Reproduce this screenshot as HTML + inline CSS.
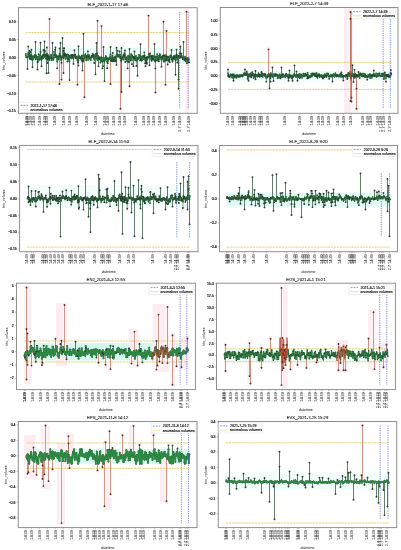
<!DOCTYPE html>
<html><head><meta charset="utf-8"><style>
html,body{margin:0;padding:0;background:#fff;width:401px;height:550px;overflow:hidden}
svg{display:block;will-change:transform}
text{font-family:"Liberation Sans", sans-serif}
.t{opacity:0.995}
</style></head><body>
<svg width="401" height="550" viewBox="0 0 401 550" font-family="Liberation Sans, sans-serif"><rect x="25.1" y="48" width="164.4" height="16" fill="#e9fbf7"/>
<rect x="185.5" y="7.7" width="4" height="105.6" fill="#fdedf3"/>
<rect x="47.7" y="15.9" width="3.6" height="44.5" fill="#fef5f8"/>
<rect x="57.8" y="54.4" width="3.6" height="32.6" fill="#fef5f8"/>
<rect x="59.7" y="54.4" width="3.6" height="28.2" fill="#fef5f8"/>
<rect x="62" y="54.4" width="3.6" height="21.6" fill="#fef5f8"/>
<rect x="96" y="17.8" width="3.6" height="42.6" fill="#fef5f8"/>
<rect x="100" y="23.1" width="3.6" height="37.3" fill="#fef5f8"/>
<rect x="75.2" y="54.4" width="3.6" height="33.3" fill="#fef5f8"/>
<rect x="82.2" y="54.4" width="3.6" height="45.9" fill="#fef5f8"/>
<rect x="109" y="54.4" width="3.6" height="32.6" fill="#fef5f8"/>
<rect x="146.8" y="12.6" width="3.6" height="47.8" fill="#fef5f8"/>
<rect x="118.4" y="54.4" width="3.6" height="57.4" fill="#fef5f8"/>
<rect x="127.9" y="54.4" width="3.6" height="34.8" fill="#fef5f8"/>
<rect x="153.7" y="54.4" width="3.6" height="41.1" fill="#fef5f8"/>
<rect x="161.2" y="18.7" width="3.6" height="41.7" fill="#fef5f8"/>
<rect x="164.4" y="27.9" width="3.6" height="32.5" fill="#fef5f8"/>
<rect x="185" y="8.8" width="3.6" height="51.6" fill="#fef5f8"/>
<rect x="164" y="54.4" width="3.6" height="33.3" fill="#fef5f8"/>
<line x1="25.6" x2="189" y1="32.6" y2="32.6" stroke="#dccb62" stroke-width="0.85" stroke-dasharray="2.2,0.7"/>
<line x1="25.6" x2="189" y1="82" y2="82" stroke="#dccb62" stroke-width="0.85" stroke-dasharray="2.2,0.7"/>
<path d="M25.6 57.4V55.17M25.89 57.4V53.77M26.18 57.4V57.48M26.48 57.4V57.39M26.77 57.4V57.05M27.06 57.4V56.99M27.35 57.4V57.19M27.65 57.4V57.41M27.94 57.4V56.85M28.23 57.4V53M28.52 57.4V53.06M28.82 57.4V54.88M29.11 57.4V55.76M29.4 57.4V54.81M29.69 57.4V57.98M29.98 57.4V56.92M30.28 57.4V56.78M30.57 57.4V55.21M30.86 57.4V55.15M31.15 57.4V58.16M31.45 57.4V54.35M31.74 57.4V56.03M32.03 57.4V57.20M32.32 57.4V59.99M32.62 57.4V57.45M32.91 57.4V59.69M33.2 57.4V56.06M33.49 57.4V58.99M33.78 57.4V56.93M34.08 57.4V56.89M34.37 57.4V56.13M34.66 57.4V54.83M34.95 57.4V57.43M35.25 57.4V56.10M35.54 57.4V58.46M35.83 57.4V58.16M36.12 57.4V55.18M36.42 57.4V55.56M36.71 57.4V57.31M37 57.4V56.70M37.29 57.4V56.77M37.58 57.4V59.23M37.88 57.4V61.8M38.17 57.4V60.36M38.46 57.4V59.14M38.75 57.4V56.10M39.05 57.4V56.08M39.34 57.4V59.88M39.63 57.4V57.88M39.92 57.4V59.59M40.22 57.4V55.21M40.51 57.4V55.10M40.8 57.4V58.24M41.09 57.4V57.88M41.38 57.4V59.99M41.68 57.4V59.28M41.97 57.4V57.11M42.26 57.4V57.03M42.55 57.4V55.23M42.85 57.4V58.69M43.14 57.4V58.16M43.43 57.4V54.45M43.72 57.4V55.63M44.02 57.4V56.48M44.31 57.4V55.07M44.6 57.4V54.69M44.89 57.4V54.91M45.18 57.4V54.37M45.48 57.4V56.34M45.77 57.4V58.72M46.06 57.4V56.37M46.35 57.4V56.63M46.65 57.4V54.13M46.94 57.4V53.42M47.23 57.4V57.92M47.52 57.4V59.63M47.82 57.4V56.84M48.11 57.4V54.93M48.4 57.4V57.11M48.69 57.4V59.21M48.98 57.4V57.69M49.28 57.4V59.54M49.57 57.4V60.26M49.86 57.4V57.44M50.15 57.4V56.06M50.45 57.4V56.20M50.74 57.4V57.99M51.03 57.4V54.48M51.32 57.4V56.01M51.62 57.4V58.50M51.91 57.4V57.60M52.2 57.4V57.83M52.49 57.4V58.58M52.78 57.4V58.44M53.08 57.4V58.51M53.37 57.4V59.93M53.66 57.4V57.96M53.95 57.4V55.18M54.25 57.4V54.26M54.54 57.4V54.26M54.83 57.4V57.43M55.12 57.4V54.29M55.42 57.4V55.38M55.71 57.4V54.92M56 57.4V56.80M56.29 57.4V56.08M56.58 57.4V55.29M56.88 57.4V57.00M57.17 57.4V61.8M57.46 57.4V59.32M57.75 57.4V57.45M58.05 57.4V56.89M58.34 57.4V57.01M58.63 57.4V59.55M58.92 57.4V59.25M59.22 57.4V57.11M59.51 57.4V53.78M59.8 57.4V56.62M60.09 57.4V56.62M60.38 57.4V56.71M60.68 57.4V56.28M60.97 57.4V60.00M61.26 57.4V58.36M61.55 57.4V59.54M61.85 57.4V57.28M62.14 57.4V56.67M62.43 57.4V55.33M62.72 57.4V57.23M63.02 57.4V57.19M63.31 57.4V57.54M63.6 57.4V54.77M63.89 57.4V53.70M64.18 57.4V53.74M64.48 57.4V55.71M64.77 57.4V56.40M65.06 57.4V54.04M65.35 57.4V59.04M65.65 57.4V55.04M65.94 57.4V56.26M66.23 57.4V54.86M66.52 57.4V55.89M66.82 57.4V56.58M67.11 57.4V58.55M67.4 57.4V59.05M67.69 57.4V54.31M67.98 57.4V58.23M68.28 57.4V57.29M68.57 57.4V55.00M68.86 57.4V57.17M69.15 57.4V59.64M69.45 57.4V58.98M69.74 57.4V56.97M70.03 57.4V55.31M70.32 57.4V56.55M70.62 57.4V55.37M70.91 57.4V57.01M71.2 57.4V58.57M71.49 57.4V54.92M71.78 57.4V57.26M72.08 57.4V55.46M72.37 57.4V56.42M72.66 57.4V56.56M72.95 57.4V57.61M73.25 57.4V57.71M73.54 57.4V58.34M73.83 57.4V54.90M74.12 57.4V54.99M74.42 57.4V54.51M74.71 57.4V54.94M75 57.4V56.51M75.29 57.4V56.29M75.58 57.4V58.22M75.88 57.4V56.55M76.17 57.4V57.67M76.46 57.4V57.16M76.75 57.4V57.52M77.05 57.4V56.20M77.34 57.4V60.36M77.63 57.4V59.28M77.92 57.4V59.35M78.22 57.4V58.94M78.51 57.4V60.68M78.8 57.4V55.97M79.09 57.4V57.40M79.38 57.4V56.27M79.68 57.4V58.37M79.97 57.4V57.90M80.26 57.4V57.27M80.55 57.4V57.89M80.85 57.4V57.91M81.14 57.4V56.71M81.43 57.4V56.11M81.72 57.4V58.69M82.02 57.4V56.66M82.31 57.4V59.04M82.6 57.4V58.58M82.89 57.4V59.08M83.18 57.4V60.83M83.48 57.4V60.34M83.77 57.4V58.71M84.06 57.4V54.83M84.35 57.4V58.25M84.65 57.4V57.19M84.94 57.4V57.09M85.23 57.4V55.66M85.52 57.4V54.04M85.82 57.4V56.91M86.11 57.4V60.31M86.4 57.4V59.05M86.69 57.4V60.54M86.98 57.4V56.79M87.28 57.4V57.65M87.57 57.4V57.07M87.86 57.4V55.03M88.15 57.4V57.36M88.45 57.4V59.88M88.74 57.4V57.21M89.03 57.4V54.90M89.32 57.4V55.28M89.62 57.4V58.62M89.91 57.4V57.09M90.2 57.4V57.48M90.49 57.4V58.89M90.78 57.4V60.41M91.08 57.4V57.23M91.37 57.4V57.62M91.66 57.4V56.73M91.95 57.4V55.74M92.25 57.4V55.73M92.54 57.4V56.78M92.83 57.4V56.02M93.12 57.4V55.73M93.42 57.4V55.44M93.71 57.4V56.39M94 57.4V58.54M94.29 57.4V59.67M94.58 57.4V59.00M94.88 57.4V56.09M95.17 57.4V56.76M95.46 57.4V54.45M95.75 57.4V53.78M96.05 57.4V55.95M96.34 57.4V56.41M96.63 57.4V59.14M96.92 57.4V55.82M97.22 57.4V54.64M97.51 57.4V60.32M97.8 57.4V60.12M98.09 57.4V57.43M98.38 57.4V55.87M98.68 57.4V58.26M98.97 57.4V57.86M99.26 57.4V59.40M99.55 57.4V57.73M99.85 57.4V57.02M100.14 57.4V59.78M100.43 57.4V59.43M100.72 57.4V57.60M101.02 57.4V60.42M101.31 57.4V60.98M101.6 57.4V57.27M101.89 57.4V57.49M102.18 57.4V57.62M102.48 57.4V61.8M102.77 57.4V61.57M103.06 57.4V60.95M103.35 57.4V60.57M103.65 57.4V57.82M103.94 57.4V60.04M104.23 57.4V60.15M104.52 57.4V61.64M104.82 57.4V59.39M105.11 57.4V59.61M105.4 57.4V59.79M105.69 57.4V55.80M105.98 57.4V57.77M106.28 57.4V56.64M106.57 57.4V59.19M106.86 57.4V59.21M107.15 57.4V61.71M107.45 57.4V58.56M107.74 57.4V59.71M108.03 57.4V61.41M108.32 57.4V59.59M108.62 57.4V58.69M108.91 57.4V58.33M109.2 57.4V58.51M109.49 57.4V59.59M109.78 57.4V58.19M110.08 57.4V56.65M110.37 57.4V54.12M110.66 57.4V54.28M110.95 57.4V58.66M111.25 57.4V58.24M111.54 57.4V58.54M111.83 57.4V61.07M112.12 57.4V58.99M112.42 57.4V55.98M112.71 57.4V55.66M113 57.4V57.68M113.29 57.4V58.44M113.58 57.4V61.13M113.88 57.4V60.35M114.17 57.4V59.93M114.46 57.4V58.42M114.75 57.4V59.00M115.05 57.4V56.35M115.34 57.4V57.19M115.63 57.4V58.36M115.92 57.4V58.71M116.22 57.4V56.28M116.51 57.4V54.74M116.8 57.4V55.91M117.09 57.4V53.90M117.38 57.4V54.28M117.68 57.4V54.76M117.97 57.4V55.85M118.26 57.4V56.09M118.55 57.4V56.65M118.85 57.4V56.57M119.14 57.4V54.66M119.43 57.4V56.56M119.72 57.4V55.02M120.02 57.4V54.41M120.31 57.4V57.59M120.6 57.4V57.44M120.89 57.4V56.60M121.18 57.4V58.74M121.48 57.4V58.41M121.77 57.4V59.42M122.06 57.4V57.88M122.35 57.4V57.66M122.65 57.4V58.25M122.94 57.4V56.28M123.23 57.4V59.73M123.52 57.4V56.47M123.82 57.4V56.67M124.11 57.4V57.19M124.4 57.4V55.71M124.69 57.4V55.96M124.98 57.4V54.66M125.28 57.4V59.21M125.57 57.4V58.03M125.86 57.4V58.15M126.15 57.4V57.43M126.45 57.4V57.19M126.74 57.4V58.59M127.03 57.4V61.08M127.32 57.4V61.8M127.62 57.4V61.8M127.91 57.4V56.55M128.2 57.4V55.48M128.49 57.4V58.19M128.78 57.4V59.16M129.08 57.4V59.36M129.37 57.4V56.96M129.66 57.4V59.45M129.95 57.4V57.25M130.25 57.4V57.85M130.54 57.4V60.47M130.83 57.4V56.67M131.12 57.4V53.88M131.42 57.4V54.93M131.71 57.4V55.92M132 57.4V60.09M132.29 57.4V55.10M132.58 57.4V57.10M132.88 57.4V56.93M133.17 57.4V56.88M133.46 57.4V57.40M133.75 57.4V57.17M134.05 57.4V57.98M134.34 57.4V57.86M134.63 57.4V59.12M134.92 57.4V57.07M135.22 57.4V60.43M135.51 57.4V58.85M135.8 57.4V55.91M136.09 57.4V55.75M136.38 57.4V60.81M136.68 57.4V60.19M136.97 57.4V60.34M137.26 57.4V57.50M137.55 57.4V59.77M137.85 57.4V57.88M138.14 57.4V58.89M138.43 57.4V58.92M138.72 57.4V58.27M139.02 57.4V54.77M139.31 57.4V55.22M139.6 57.4V56.80M139.89 57.4V55.56M140.18 57.4V58.59M140.48 57.4V58.01M140.77 57.4V58.41M141.06 57.4V56.53M141.35 57.4V60.76M141.65 57.4V58.59M141.94 57.4V56.42M142.23 57.4V60.52M142.52 57.4V57.56M142.82 57.4V55.90M143.11 57.4V56.08M143.4 57.4V59.38M143.69 57.4V56.06M143.98 57.4V57.61M144.28 57.4V55.39M144.57 57.4V56.67M144.86 57.4V57.89M145.15 57.4V59.70M145.45 57.4V60.92M145.74 57.4V57.68M146.03 57.4V58.85M146.32 57.4V58.51M146.62 57.4V59.38M146.91 57.4V59.95M147.2 57.4V57.21M147.49 57.4V59.31M147.78 57.4V56.71M148.08 57.4V56.83M148.37 57.4V57.88M148.66 57.4V54.07M148.95 57.4V54.31M149.25 57.4V56.99M149.54 57.4V54.28M149.83 57.4V56.90M150.12 57.4V55.81M150.42 57.4V56.62M150.71 57.4V56.75M151 57.4V59.14M151.29 57.4V55.98M151.58 57.4V58.77M151.88 57.4V56.94M152.17 57.4V58.72M152.46 57.4V58.12M152.75 57.4V57.93M153.05 57.4V55.49M153.34 57.4V58.31M153.63 57.4V59.83M153.92 57.4V59.57M154.22 57.4V56.70M154.51 57.4V60.94M154.8 57.4V59.69M155.09 57.4V57.17M155.38 57.4V61.8M155.68 57.4V61.07M155.97 57.4V56.41M156.26 57.4V57.00M156.55 57.4V60.52M156.85 57.4V56.62M157.14 57.4V53.84M157.43 57.4V57.96M157.72 57.4V60.69M158.02 57.4V58.36M158.31 57.4V59.44M158.6 57.4V58.24M158.89 57.4V58.91M159.18 57.4V56.74M159.48 57.4V57.29M159.77 57.4V53.93M160.06 57.4V54.33M160.35 57.4V55.88M160.65 57.4V57.31M160.94 57.4V59.08M161.23 57.4V58.67M161.52 57.4V60.00M161.82 57.4V57.94M162.11 57.4V57.17M162.4 57.4V55.98M162.69 57.4V56.47M162.98 57.4V59.17M163.28 57.4V56.64M163.57 57.4V61.39M163.86 57.4V61.8M164.15 57.4V61.8M164.45 57.4V56.58M164.74 57.4V58.70M165.03 57.4V58.64M165.32 57.4V58.15M165.62 57.4V56.38M165.91 57.4V54.98M166.2 57.4V58.56M166.49 57.4V59.96M166.78 57.4V57.04M167.08 57.4V56.51M167.37 57.4V57.44M167.66 57.4V60.26M167.95 57.4V56.37M168.25 57.4V60.02M168.54 57.4V56.90M168.83 57.4V60.82M169.12 57.4V58.94M169.42 57.4V58.07M169.71 57.4V59.30M170 57.4V55.82M170.29 57.4V56.79M170.58 57.4V57.33M170.88 57.4V55.22M171.17 57.4V55.62M171.46 57.4V57.56M171.75 57.4V58.26M172.05 57.4V57.35M172.34 57.4V60.95M172.63 57.4V61.73M172.92 57.4V58.50M173.22 57.4V56.51M173.51 57.4V57.08M173.8 57.4V56.05M174.09 57.4V57.97M174.38 57.4V55.68M174.68 57.4V57.27M174.97 57.4V59.35M175.26 57.4V59.29M175.55 57.4V60.66M175.85 57.4V59.84M176.14 57.4V56.77M176.43 57.4V56.23M176.72 57.4V55.79M177.02 57.4V57.24M177.31 57.4V59.45M177.6 57.4V57.73M177.89 57.4V55.43M178.18 57.4V56.07M178.48 57.4V56.72M178.77 57.4V56.00M179.06 57.4V56.07M179.35 57.4V58.01M179.65 57.4V55.73M179.94 57.4V57.02M180.23 57.4V56.38M180.52 57.4V57.10M180.82 57.4V57.70M181.11 57.4V56.35M181.4 57.4V55.96M181.69 57.4V55.75M181.98 57.4V56.39M182.28 57.4V57.73M182.57 57.4V58.55M182.86 57.4V59.49M183.15 57.4V58.59M183.45 57.4V57.18M183.74 57.4V59.63M184.03 57.4V57.30M184.32 57.4V58.64M184.62 57.4V60.22M184.91 57.4V59.20M185.2 57.4V56.33M185.49 57.4V58.33M185.78 57.4V58.94M186.08 57.4V58.23M186.37 57.4V59.07M186.66 57.4V58.61M186.95 57.4V59.74M187.25 57.4V58.28M187.54 57.4V59.06M187.83 57.4V60.02M188.12 57.4V59.15M188.42 57.4V60.87M188.71 57.4V59.55M189 57.4V59.39" stroke="#587a62" stroke-width="0.5" fill="none"/>
<path d="M28.23 57.4V46.4M29.11 57.4V53.31M29.4 57.4V50.92M29.69 57.4V58.85M29.98 57.4V56.20M30.57 57.4V51.92M31.15 57.4V59.29M31.45 57.4V49.77M35.83 57.4V59.30M37.58 57.4V61.96M38.75 57.4V54.16M40.51 57.4V51.64M41.97 57.4V56.66M43.43 57.4V50.03M44.02 57.4V55.11M44.6 57.4V50.64M44.89 57.4V51.17M46.35 57.4V55.48M46.94 57.4V47.45M47.23 57.4V58.71M47.52 57.4V62.97M47.82 57.4V56.01M48.4 57.4V56.68M48.98 57.4V58.12M51.62 57.4V60.15M53.95 57.4V51.86M55.12 57.4V49.63M57.17 57.4V68.4M58.05 57.4V56.12M59.51 57.4V48.36M60.09 57.4V55.45M61.55 57.4V62.74M63.31 57.4V57.74M63.6 57.4V50.82M63.89 57.4V48.15M64.18 57.4V48.26M64.48 57.4V53.17M64.77 57.4V54.90M65.94 57.4V54.55M67.4 57.4V61.53M67.98 57.4V59.46M69.45 57.4V61.35M72.37 57.4V54.94M72.66 57.4V55.29M72.95 57.4V57.92M74.42 57.4V50.18M75.29 57.4V54.63M76.17 57.4V58.08M77.92 57.4V62.27M78.51 57.4V65.60M80.85 57.4V58.68M81.72 57.4V60.63M82.02 57.4V55.54M82.89 57.4V61.61M86.98 57.4V55.87M87.86 57.4V51.48M88.74 57.4V56.93M91.66 57.4V55.72M92.83 57.4V53.96M93.71 57.4V54.88M94.29 57.4V63.07M96.92 57.4V53.46M98.97 57.4V58.55M100.43 57.4V62.48M102.48 57.4V68.4M103.06 57.4V66.26M107.15 57.4V68.17M107.74 57.4V63.17M110.95 57.4V60.55M112.12 57.4V61.36M112.71 57.4V53.04M113.29 57.4V59.99M114.75 57.4V61.41M115.92 57.4V60.69M117.68 57.4V50.81M119.72 57.4V51.45M120.31 57.4V57.88M120.6 57.4V57.51M121.18 57.4V60.76M123.52 57.4V55.06M123.82 57.4V55.58M124.4 57.4V53.18M124.98 57.4V50.56M125.28 57.4V61.93M125.86 57.4V59.27M127.62 57.4V68.4M128.78 57.4V61.80M129.08 57.4V62.30M132 57.4V64.13M133.46 57.4V57.40M133.75 57.4V56.83M134.34 57.4V58.54M136.38 57.4V65.93M137.85 57.4V58.60M140.18 57.4V60.39M140.77 57.4V59.93M144.28 57.4V52.37M144.57 57.4V55.56M145.15 57.4V63.15M145.45 57.4V66.20M145.74 57.4V58.10M146.03 57.4V61.01M146.62 57.4V62.36M146.91 57.4V63.79M147.2 57.4V56.92M150.12 57.4V53.44M151.58 57.4V60.82M151.88 57.4V56.26M152.46 57.4V59.21M155.38 57.4V68.4M158.6 57.4V59.49M158.89 57.4V61.18M159.18 57.4V55.74M162.11 57.4V56.83M163.28 57.4V55.51M164.45 57.4V55.36M165.03 57.4V60.50M166.2 57.4V60.31M167.37 57.4V57.49M167.66 57.4V64.55M169.12 57.4V61.24M169.71 57.4V62.16M171.75 57.4V59.54M174.09 57.4V58.82M174.68 57.4V57.09M176.14 57.4V55.82M176.43 57.4V54.49M177.31 57.4V62.54M179.65 57.4V53.22M180.52 57.4V56.65M181.4 57.4V53.80M185.49 57.4V59.72M185.78 57.4V61.24M186.95 57.4V63.25M188.12 57.4V61.78M189 57.4V62.38" stroke="#3c5c47" stroke-width="0.55" fill="none"/>
<path d="M35.5 57.4V42M40.5 57.4V42.7M44.5 57.4V41.4M52.5 57.4V43M55.5 57.4V47.5M60.5 57.4V43M62.5 57.4V38M27.5 57.4V69M32.5 57.4V67.2M37.5 57.4V69.5M41.5 57.4V66.2M46.5 57.4V73.3M48.5 57.4V72.9M78.5 57.4V46.2M83.5 57.4V33.8M96.5 57.4V43M103.5 57.4V47M110.5 57.4V47M69.5 57.4V80.1M73.5 57.4V63.9M82.5 57.4V70.6M95.5 57.4V74.4M98.5 57.4V66.2M104.5 57.4V81.1M116.5 57.4V47.7M121.5 57.4V48M129.5 57.4V49M134.5 57.4V51.5M140.5 57.4V44.3M154.5 57.4V43.9M116.5 57.4V64.9M121.5 57.4V92M133.5 57.4V66.2M137.5 57.4V75.7M149.5 57.4V65.3M171.5 57.4V50M176.5 57.4V49.6M180.5 57.4V46.5M183.5 57.4V42M161.5 57.4V66.8M175.5 57.4V74.8M178.5 57.4V79.6M178.5 57.4V88.7" stroke="#3c5c47" stroke-width="0.8" fill="none"/>
<path d="M49.5 57.4V18.9M59.5 57.4V84M61.5 57.4V79.6M63.5 57.4V73M97.5 57.4V20.8M101.5 57.4V26.1M77.5 57.4V84.7M84.5 57.4V97.3M110.5 57.4V84M148.5 57.4V15.6M120.5 57.4V108.8M129.5 57.4V86.2M155.5 57.4V92.5M163.5 57.4V21.7M166.5 57.4V30.9M186.5 57.4V11.8M165.5 57.4V84.7" stroke="#b86c52" stroke-width="0.7" fill="none"/>
<path d="M25.6 55.17L25.89 53.77L26.18 57.48L26.48 57.39L26.77 57.05L27.06 56.99L27.35 57.19L27.65 57.41L27.94 56.85L28.23 53L28.52 53.06L28.82 54.88L29.11 55.76L29.4 54.81L29.69 57.98L29.98 56.92L30.28 56.78L30.57 55.21L30.86 55.15L31.15 58.16L31.45 54.35L31.74 56.03L32.03 57.20L32.32 59.99L32.62 57.45L32.91 59.69L33.2 56.06L33.49 58.99L33.78 56.93L34.08 56.89L34.37 56.13L34.66 54.83L34.95 57.43L35.25 56.10L35.54 58.46L35.83 58.16L36.12 55.18L36.42 55.56L36.71 57.31L37 56.70L37.29 56.77L37.58 59.23L37.88 61.8L38.17 60.36L38.46 59.14L38.75 56.10L39.05 56.08L39.34 59.88L39.63 57.88L39.92 59.59L40.22 55.21L40.51 55.10L40.8 58.24L41.09 57.88L41.38 59.99L41.68 59.28L41.97 57.11L42.26 57.03L42.55 55.23L42.85 58.69L43.14 58.16L43.43 54.45L43.72 55.63L44.02 56.48L44.31 55.07L44.6 54.69L44.89 54.91L45.18 54.37L45.48 56.34L45.77 58.72L46.06 56.37L46.35 56.63L46.65 54.13L46.94 53.42L47.23 57.92L47.52 59.63L47.82 56.84L48.11 54.93L48.4 57.11L48.69 59.21L48.98 57.69L49.28 59.54L49.57 60.26L49.86 57.44L50.15 56.06L50.45 56.20L50.74 57.99L51.03 54.48L51.32 56.01L51.62 58.50L51.91 57.60L52.2 57.83L52.49 58.58L52.78 58.44L53.08 58.51L53.37 59.93L53.66 57.96L53.95 55.18L54.25 54.26L54.54 54.26L54.83 57.43L55.12 54.29L55.42 55.38L55.71 54.92L56 56.80L56.29 56.08L56.58 55.29L56.88 57.00L57.17 61.8L57.46 59.32L57.75 57.45L58.05 56.89L58.34 57.01L58.63 59.55L58.92 59.25L59.22 57.11L59.51 53.78L59.8 56.62L60.09 56.62L60.38 56.71L60.68 56.28L60.97 60.00L61.26 58.36L61.55 59.54L61.85 57.28L62.14 56.67L62.43 55.33L62.72 57.23L63.02 57.19L63.31 57.54L63.6 54.77L63.89 53.70L64.18 53.74L64.48 55.71L64.77 56.40L65.06 54.04L65.35 59.04L65.65 55.04L65.94 56.26L66.23 54.86L66.52 55.89L66.82 56.58L67.11 58.55L67.4 59.05L67.69 54.31L67.98 58.23L68.28 57.29L68.57 55.00L68.86 57.17L69.15 59.64L69.45 58.98L69.74 56.97L70.03 55.31L70.32 56.55L70.62 55.37L70.91 57.01L71.2 58.57L71.49 54.92L71.78 57.26L72.08 55.46L72.37 56.42L72.66 56.56L72.95 57.61L73.25 57.71L73.54 58.34L73.83 54.90L74.12 54.99L74.42 54.51L74.71 54.94L75 56.51L75.29 56.29L75.58 58.22L75.88 56.55L76.17 57.67L76.46 57.16L76.75 57.52L77.05 56.20L77.34 60.36L77.63 59.28L77.92 59.35L78.22 58.94L78.51 60.68L78.8 55.97L79.09 57.40L79.38 56.27L79.68 58.37L79.97 57.90L80.26 57.27L80.55 57.89L80.85 57.91L81.14 56.71L81.43 56.11L81.72 58.69L82.02 56.66L82.31 59.04L82.6 58.58L82.89 59.08L83.18 60.83L83.48 60.34L83.77 58.71L84.06 54.83L84.35 58.25L84.65 57.19L84.94 57.09L85.23 55.66L85.52 54.04L85.82 56.91L86.11 60.31L86.4 59.05L86.69 60.54L86.98 56.79L87.28 57.65L87.57 57.07L87.86 55.03L88.15 57.36L88.45 59.88L88.74 57.21L89.03 54.90L89.32 55.28L89.62 58.62L89.91 57.09L90.2 57.48L90.49 58.89L90.78 60.41L91.08 57.23L91.37 57.62L91.66 56.73L91.95 55.74L92.25 55.73L92.54 56.78L92.83 56.02L93.12 55.73L93.42 55.44L93.71 56.39L94 58.54L94.29 59.67L94.58 59.00L94.88 56.09L95.17 56.76L95.46 54.45L95.75 53.78L96.05 55.95L96.34 56.41L96.63 59.14L96.92 55.82L97.22 54.64L97.51 60.32L97.8 60.12L98.09 57.43L98.38 55.87L98.68 58.26L98.97 57.86L99.26 59.40L99.55 57.73L99.85 57.02L100.14 59.78L100.43 59.43L100.72 57.60L101.02 60.42L101.31 60.98L101.6 57.27L101.89 57.49L102.18 57.62L102.48 61.8L102.77 61.57L103.06 60.95L103.35 60.57L103.65 57.82L103.94 60.04L104.23 60.15L104.52 61.64L104.82 59.39L105.11 59.61L105.4 59.79L105.69 55.80L105.98 57.77L106.28 56.64L106.57 59.19L106.86 59.21L107.15 61.71L107.45 58.56L107.74 59.71L108.03 61.41L108.32 59.59L108.62 58.69L108.91 58.33L109.2 58.51L109.49 59.59L109.78 58.19L110.08 56.65L110.37 54.12L110.66 54.28L110.95 58.66L111.25 58.24L111.54 58.54L111.83 61.07L112.12 58.99L112.42 55.98L112.71 55.66L113 57.68L113.29 58.44L113.58 61.13L113.88 60.35L114.17 59.93L114.46 58.42L114.75 59.00L115.05 56.35L115.34 57.19L115.63 58.36L115.92 58.71L116.22 56.28L116.51 54.74L116.8 55.91L117.09 53.90L117.38 54.28L117.68 54.76L117.97 55.85L118.26 56.09L118.55 56.65L118.85 56.57L119.14 54.66L119.43 56.56L119.72 55.02L120.02 54.41L120.31 57.59L120.6 57.44L120.89 56.60L121.18 58.74L121.48 58.41L121.77 59.42L122.06 57.88L122.35 57.66L122.65 58.25L122.94 56.28L123.23 59.73L123.52 56.47L123.82 56.67L124.11 57.19L124.4 55.71L124.69 55.96L124.98 54.66L125.28 59.21L125.57 58.03L125.86 58.15L126.15 57.43L126.45 57.19L126.74 58.59L127.03 61.08L127.32 61.8L127.62 61.8L127.91 56.55L128.2 55.48L128.49 58.19L128.78 59.16L129.08 59.36L129.37 56.96L129.66 59.45L129.95 57.25L130.25 57.85L130.54 60.47L130.83 56.67L131.12 53.88L131.42 54.93L131.71 55.92L132 60.09L132.29 55.10L132.58 57.10L132.88 56.93L133.17 56.88L133.46 57.40L133.75 57.17L134.05 57.98L134.34 57.86L134.63 59.12L134.92 57.07L135.22 60.43L135.51 58.85L135.8 55.91L136.09 55.75L136.38 60.81L136.68 60.19L136.97 60.34L137.26 57.50L137.55 59.77L137.85 57.88L138.14 58.89L138.43 58.92L138.72 58.27L139.02 54.77L139.31 55.22L139.6 56.80L139.89 55.56L140.18 58.59L140.48 58.01L140.77 58.41L141.06 56.53L141.35 60.76L141.65 58.59L141.94 56.42L142.23 60.52L142.52 57.56L142.82 55.90L143.11 56.08L143.4 59.38L143.69 56.06L143.98 57.61L144.28 55.39L144.57 56.67L144.86 57.89L145.15 59.70L145.45 60.92L145.74 57.68L146.03 58.85L146.32 58.51L146.62 59.38L146.91 59.95L147.2 57.21L147.49 59.31L147.78 56.71L148.08 56.83L148.37 57.88L148.66 54.07L148.95 54.31L149.25 56.99L149.54 54.28L149.83 56.90L150.12 55.81L150.42 56.62L150.71 56.75L151 59.14L151.29 55.98L151.58 58.77L151.88 56.94L152.17 58.72L152.46 58.12L152.75 57.93L153.05 55.49L153.34 58.31L153.63 59.83L153.92 59.57L154.22 56.70L154.51 60.94L154.8 59.69L155.09 57.17L155.38 61.8L155.68 61.07L155.97 56.41L156.26 57.00L156.55 60.52L156.85 56.62L157.14 53.84L157.43 57.96L157.72 60.69L158.02 58.36L158.31 59.44L158.6 58.24L158.89 58.91L159.18 56.74L159.48 57.29L159.77 53.93L160.06 54.33L160.35 55.88L160.65 57.31L160.94 59.08L161.23 58.67L161.52 60.00L161.82 57.94L162.11 57.17L162.4 55.98L162.69 56.47L162.98 59.17L163.28 56.64L163.57 61.39L163.86 61.8L164.15 61.8L164.45 56.58L164.74 58.70L165.03 58.64L165.32 58.15L165.62 56.38L165.91 54.98L166.2 58.56L166.49 59.96L166.78 57.04L167.08 56.51L167.37 57.44L167.66 60.26L167.95 56.37L168.25 60.02L168.54 56.90L168.83 60.82L169.12 58.94L169.42 58.07L169.71 59.30L170 55.82L170.29 56.79L170.58 57.33L170.88 55.22L171.17 55.62L171.46 57.56L171.75 58.26L172.05 57.35L172.34 60.95L172.63 61.73L172.92 58.50L173.22 56.51L173.51 57.08L173.8 56.05L174.09 57.97L174.38 55.68L174.68 57.27L174.97 59.35L175.26 59.29L175.55 60.66L175.85 59.84L176.14 56.77L176.43 56.23L176.72 55.79L177.02 57.24L177.31 59.45L177.6 57.73L177.89 55.43L178.18 56.07L178.48 56.72L178.77 56.00L179.06 56.07L179.35 58.01L179.65 55.73L179.94 57.02L180.23 56.38L180.52 57.10L180.82 57.70L181.11 56.35L181.4 55.96L181.69 55.75L181.98 56.39L182.28 57.73L182.57 58.55L182.86 59.49L183.15 58.59L183.45 57.18L183.74 59.63L184.03 57.30L184.32 58.64L184.62 60.22L184.91 59.20L185.2 56.33L185.49 58.33L185.78 58.94L186.08 58.23L186.37 59.07L186.66 58.61L186.95 59.74L187.25 58.28L187.54 59.06L187.83 60.02L188.12 59.15L188.42 60.87L188.71 59.55L189 59.39" fill="none" stroke="#2c8743" stroke-width="1.4" stroke-linejoin="round"/>
<path d="M25.6 55.17h0M25.89 53.77h0M26.18 57.48h0M26.48 57.39h0M26.77 57.05h0M27.06 56.99h0M27.35 57.19h0M27.65 57.41h0M27.94 56.85h0M28.23 53h0M28.52 53.06h0M28.82 54.88h0M29.11 55.76h0M29.4 54.81h0M29.69 57.98h0M29.98 56.92h0M30.28 56.78h0M30.57 55.21h0M30.86 55.15h0M31.15 58.16h0M31.45 54.35h0M31.74 56.03h0M32.03 57.20h0M32.32 59.99h0M32.62 57.45h0M32.91 59.69h0M33.2 56.06h0M33.49 58.99h0M33.78 56.93h0M34.08 56.89h0M34.37 56.13h0M34.66 54.83h0M34.95 57.43h0M35.25 56.10h0M35.54 58.46h0M35.83 58.16h0M36.12 55.18h0M36.42 55.56h0M36.71 57.31h0M37 56.70h0M37.29 56.77h0M37.58 59.23h0M37.88 61.8h0M38.17 60.36h0M38.46 59.14h0M38.75 56.10h0M39.05 56.08h0M39.34 59.88h0M39.63 57.88h0M39.92 59.59h0M40.22 55.21h0M40.51 55.10h0M40.8 58.24h0M41.09 57.88h0M41.38 59.99h0M41.68 59.28h0M41.97 57.11h0M42.26 57.03h0M42.55 55.23h0M42.85 58.69h0M43.14 58.16h0M43.43 54.45h0M43.72 55.63h0M44.02 56.48h0M44.31 55.07h0M44.6 54.69h0M44.89 54.91h0M45.18 54.37h0M45.48 56.34h0M45.77 58.72h0M46.06 56.37h0M46.35 56.63h0M46.65 54.13h0M46.94 53.42h0M47.23 57.92h0M47.52 59.63h0M47.82 56.84h0M48.11 54.93h0M48.4 57.11h0M48.69 59.21h0M48.98 57.69h0M49.28 59.54h0M49.57 60.26h0M49.86 57.44h0M50.15 56.06h0M50.45 56.20h0M50.74 57.99h0M51.03 54.48h0M51.32 56.01h0M51.62 58.50h0M51.91 57.60h0M52.2 57.83h0M52.49 58.58h0M52.78 58.44h0M53.08 58.51h0M53.37 59.93h0M53.66 57.96h0M53.95 55.18h0M54.25 54.26h0M54.54 54.26h0M54.83 57.43h0M55.12 54.29h0M55.42 55.38h0M55.71 54.92h0M56 56.80h0M56.29 56.08h0M56.58 55.29h0M56.88 57.00h0M57.17 61.8h0M57.46 59.32h0M57.75 57.45h0M58.05 56.89h0M58.34 57.01h0M58.63 59.55h0M58.92 59.25h0M59.22 57.11h0M59.51 53.78h0M59.8 56.62h0M60.09 56.62h0M60.38 56.71h0M60.68 56.28h0M60.97 60.00h0M61.26 58.36h0M61.55 59.54h0M61.85 57.28h0M62.14 56.67h0M62.43 55.33h0M62.72 57.23h0M63.02 57.19h0M63.31 57.54h0M63.6 54.77h0M63.89 53.70h0M64.18 53.74h0M64.48 55.71h0M64.77 56.40h0M65.06 54.04h0M65.35 59.04h0M65.65 55.04h0M65.94 56.26h0M66.23 54.86h0M66.52 55.89h0M66.82 56.58h0M67.11 58.55h0M67.4 59.05h0M67.69 54.31h0M67.98 58.23h0M68.28 57.29h0M68.57 55.00h0M68.86 57.17h0M69.15 59.64h0M69.45 58.98h0M69.74 56.97h0M70.03 55.31h0M70.32 56.55h0M70.62 55.37h0M70.91 57.01h0M71.2 58.57h0M71.49 54.92h0M71.78 57.26h0M72.08 55.46h0M72.37 56.42h0M72.66 56.56h0M72.95 57.61h0M73.25 57.71h0M73.54 58.34h0M73.83 54.90h0M74.12 54.99h0M74.42 54.51h0M74.71 54.94h0M75 56.51h0M75.29 56.29h0M75.58 58.22h0M75.88 56.55h0M76.17 57.67h0M76.46 57.16h0M76.75 57.52h0M77.05 56.20h0M77.34 60.36h0M77.63 59.28h0M77.92 59.35h0M78.22 58.94h0M78.51 60.68h0M78.8 55.97h0M79.09 57.40h0M79.38 56.27h0M79.68 58.37h0M79.97 57.90h0M80.26 57.27h0M80.55 57.89h0M80.85 57.91h0M81.14 56.71h0M81.43 56.11h0M81.72 58.69h0M82.02 56.66h0M82.31 59.04h0M82.6 58.58h0M82.89 59.08h0M83.18 60.83h0M83.48 60.34h0M83.77 58.71h0M84.06 54.83h0M84.35 58.25h0M84.65 57.19h0M84.94 57.09h0M85.23 55.66h0M85.52 54.04h0M85.82 56.91h0M86.11 60.31h0M86.4 59.05h0M86.69 60.54h0M86.98 56.79h0M87.28 57.65h0M87.57 57.07h0M87.86 55.03h0M88.15 57.36h0M88.45 59.88h0M88.74 57.21h0M89.03 54.90h0M89.32 55.28h0M89.62 58.62h0M89.91 57.09h0M90.2 57.48h0M90.49 58.89h0M90.78 60.41h0M91.08 57.23h0M91.37 57.62h0M91.66 56.73h0M91.95 55.74h0M92.25 55.73h0M92.54 56.78h0M92.83 56.02h0M93.12 55.73h0M93.42 55.44h0M93.71 56.39h0M94 58.54h0M94.29 59.67h0M94.58 59.00h0M94.88 56.09h0M95.17 56.76h0M95.46 54.45h0M95.75 53.78h0M96.05 55.95h0M96.34 56.41h0M96.63 59.14h0M96.92 55.82h0M97.22 54.64h0M97.51 60.32h0M97.8 60.12h0M98.09 57.43h0M98.38 55.87h0M98.68 58.26h0M98.97 57.86h0M99.26 59.40h0M99.55 57.73h0M99.85 57.02h0M100.14 59.78h0M100.43 59.43h0M100.72 57.60h0M101.02 60.42h0M101.31 60.98h0M101.6 57.27h0M101.89 57.49h0M102.18 57.62h0M102.48 61.8h0M102.77 61.57h0M103.06 60.95h0M103.35 60.57h0M103.65 57.82h0M103.94 60.04h0M104.23 60.15h0M104.52 61.64h0M104.82 59.39h0M105.11 59.61h0M105.4 59.79h0M105.69 55.80h0M105.98 57.77h0M106.28 56.64h0M106.57 59.19h0M106.86 59.21h0M107.15 61.71h0M107.45 58.56h0M107.74 59.71h0M108.03 61.41h0M108.32 59.59h0M108.62 58.69h0M108.91 58.33h0M109.2 58.51h0M109.49 59.59h0M109.78 58.19h0M110.08 56.65h0M110.37 54.12h0M110.66 54.28h0M110.95 58.66h0M111.25 58.24h0M111.54 58.54h0M111.83 61.07h0M112.12 58.99h0M112.42 55.98h0M112.71 55.66h0M113 57.68h0M113.29 58.44h0M113.58 61.13h0M113.88 60.35h0M114.17 59.93h0M114.46 58.42h0M114.75 59.00h0M115.05 56.35h0M115.34 57.19h0M115.63 58.36h0M115.92 58.71h0M116.22 56.28h0M116.51 54.74h0M116.8 55.91h0M117.09 53.90h0M117.38 54.28h0M117.68 54.76h0M117.97 55.85h0M118.26 56.09h0M118.55 56.65h0M118.85 56.57h0M119.14 54.66h0M119.43 56.56h0M119.72 55.02h0M120.02 54.41h0M120.31 57.59h0M120.6 57.44h0M120.89 56.60h0M121.18 58.74h0M121.48 58.41h0M121.77 59.42h0M122.06 57.88h0M122.35 57.66h0M122.65 58.25h0M122.94 56.28h0M123.23 59.73h0M123.52 56.47h0M123.82 56.67h0M124.11 57.19h0M124.4 55.71h0M124.69 55.96h0M124.98 54.66h0M125.28 59.21h0M125.57 58.03h0M125.86 58.15h0M126.15 57.43h0M126.45 57.19h0M126.74 58.59h0M127.03 61.08h0M127.32 61.8h0M127.62 61.8h0M127.91 56.55h0M128.2 55.48h0M128.49 58.19h0M128.78 59.16h0M129.08 59.36h0M129.37 56.96h0M129.66 59.45h0M129.95 57.25h0M130.25 57.85h0M130.54 60.47h0M130.83 56.67h0M131.12 53.88h0M131.42 54.93h0M131.71 55.92h0M132 60.09h0M132.29 55.10h0M132.58 57.10h0M132.88 56.93h0M133.17 56.88h0M133.46 57.40h0M133.75 57.17h0M134.05 57.98h0M134.34 57.86h0M134.63 59.12h0M134.92 57.07h0M135.22 60.43h0M135.51 58.85h0M135.8 55.91h0M136.09 55.75h0M136.38 60.81h0M136.68 60.19h0M136.97 60.34h0M137.26 57.50h0M137.55 59.77h0M137.85 57.88h0M138.14 58.89h0M138.43 58.92h0M138.72 58.27h0M139.02 54.77h0M139.31 55.22h0M139.6 56.80h0M139.89 55.56h0M140.18 58.59h0M140.48 58.01h0M140.77 58.41h0M141.06 56.53h0M141.35 60.76h0M141.65 58.59h0M141.94 56.42h0M142.23 60.52h0M142.52 57.56h0M142.82 55.90h0M143.11 56.08h0M143.4 59.38h0M143.69 56.06h0M143.98 57.61h0M144.28 55.39h0M144.57 56.67h0M144.86 57.89h0M145.15 59.70h0M145.45 60.92h0M145.74 57.68h0M146.03 58.85h0M146.32 58.51h0M146.62 59.38h0M146.91 59.95h0M147.2 57.21h0M147.49 59.31h0M147.78 56.71h0M148.08 56.83h0M148.37 57.88h0M148.66 54.07h0M148.95 54.31h0M149.25 56.99h0M149.54 54.28h0M149.83 56.90h0M150.12 55.81h0M150.42 56.62h0M150.71 56.75h0M151 59.14h0M151.29 55.98h0M151.58 58.77h0M151.88 56.94h0M152.17 58.72h0M152.46 58.12h0M152.75 57.93h0M153.05 55.49h0M153.34 58.31h0M153.63 59.83h0M153.92 59.57h0M154.22 56.70h0M154.51 60.94h0M154.8 59.69h0M155.09 57.17h0M155.38 61.8h0M155.68 61.07h0M155.97 56.41h0M156.26 57.00h0M156.55 60.52h0M156.85 56.62h0M157.14 53.84h0M157.43 57.96h0M157.72 60.69h0M158.02 58.36h0M158.31 59.44h0M158.6 58.24h0M158.89 58.91h0M159.18 56.74h0M159.48 57.29h0M159.77 53.93h0M160.06 54.33h0M160.35 55.88h0M160.65 57.31h0M160.94 59.08h0M161.23 58.67h0M161.52 60.00h0M161.82 57.94h0M162.11 57.17h0M162.4 55.98h0M162.69 56.47h0M162.98 59.17h0M163.28 56.64h0M163.57 61.39h0M163.86 61.8h0M164.15 61.8h0M164.45 56.58h0M164.74 58.70h0M165.03 58.64h0M165.32 58.15h0M165.62 56.38h0M165.91 54.98h0M166.2 58.56h0M166.49 59.96h0M166.78 57.04h0M167.08 56.51h0M167.37 57.44h0M167.66 60.26h0M167.95 56.37h0M168.25 60.02h0M168.54 56.90h0M168.83 60.82h0M169.12 58.94h0M169.42 58.07h0M169.71 59.30h0M170 55.82h0M170.29 56.79h0M170.58 57.33h0M170.88 55.22h0M171.17 55.62h0M171.46 57.56h0M171.75 58.26h0M172.05 57.35h0M172.34 60.95h0M172.63 61.73h0M172.92 58.50h0M173.22 56.51h0M173.51 57.08h0M173.8 56.05h0M174.09 57.97h0M174.38 55.68h0M174.68 57.27h0M174.97 59.35h0M175.26 59.29h0M175.55 60.66h0M175.85 59.84h0M176.14 56.77h0M176.43 56.23h0M176.72 55.79h0M177.02 57.24h0M177.31 59.45h0M177.6 57.73h0M177.89 55.43h0M178.18 56.07h0M178.48 56.72h0M178.77 56.00h0M179.06 56.07h0M179.35 58.01h0M179.65 55.73h0M179.94 57.02h0M180.23 56.38h0M180.52 57.10h0M180.82 57.70h0M181.11 56.35h0M181.4 55.96h0M181.69 55.75h0M181.98 56.39h0M182.28 57.73h0M182.57 58.55h0M182.86 59.49h0M183.15 58.59h0M183.45 57.18h0M183.74 59.63h0M184.03 57.30h0M184.32 58.64h0M184.62 60.22h0M184.91 59.20h0M185.2 56.33h0M185.49 58.33h0M185.78 58.94h0M186.08 58.23h0M186.37 59.07h0M186.66 58.61h0M186.95 59.74h0M187.25 58.28h0M187.54 59.06h0M187.83 60.02h0M188.12 59.15h0M188.42 60.87h0M188.71 59.55h0M189 59.39h0" stroke="#2d5537" stroke-width="1.35" stroke-linecap="round" fill="none"/>
<path d="M35.5 42h0M40.5 42.7h0M44.5 41.4h0M52.5 43h0M55.5 47.5h0M60.5 43h0M62.5 38h0M27.5 69h0M32.5 67.2h0M37.5 69.5h0M41.5 66.2h0M46.5 73.3h0M48.5 72.9h0M78.5 46.2h0M83.5 33.8h0M96.5 43h0M103.5 47h0M110.5 47h0M69.5 80.1h0M73.5 63.9h0M82.5 70.6h0M95.5 74.4h0M98.5 66.2h0M104.5 81.1h0M116.5 47.7h0M121.5 48h0M129.5 49h0M134.5 51.5h0M140.5 44.3h0M154.5 43.9h0M116.5 64.9h0M121.5 92h0M133.5 66.2h0M137.5 75.7h0M149.5 65.3h0M171.5 50h0M176.5 49.6h0M180.5 46.5h0M183.5 42h0M161.5 66.8h0M175.5 74.8h0M178.5 79.6h0M178.5 88.7h0M28.23 46.4h0M29.11 53.31h0M29.4 50.92h0M29.69 58.85h0M29.98 56.20h0M30.57 51.92h0M31.15 59.29h0M31.45 49.77h0M35.83 59.30h0M37.58 61.96h0M38.75 54.16h0M40.51 51.64h0M41.97 56.66h0M43.43 50.03h0M44.02 55.11h0M44.6 50.64h0M44.89 51.17h0M46.35 55.48h0M46.94 47.45h0M47.23 58.71h0M47.52 62.97h0M47.82 56.01h0M48.4 56.68h0M48.98 58.12h0M51.62 60.15h0M53.95 51.86h0M55.12 49.63h0M57.17 68.4h0M58.05 56.12h0M59.51 48.36h0M60.09 55.45h0M61.55 62.74h0M63.31 57.74h0M63.6 50.82h0M63.89 48.15h0M64.18 48.26h0M64.48 53.17h0M64.77 54.90h0M65.94 54.55h0M67.4 61.53h0M67.98 59.46h0M69.45 61.35h0M72.37 54.94h0M72.66 55.29h0M72.95 57.92h0M74.42 50.18h0M75.29 54.63h0M76.17 58.08h0M77.92 62.27h0M78.51 65.60h0M80.85 58.68h0M81.72 60.63h0M82.02 55.54h0M82.89 61.61h0M86.98 55.87h0M87.86 51.48h0M88.74 56.93h0M91.66 55.72h0M92.83 53.96h0M93.71 54.88h0M94.29 63.07h0M96.92 53.46h0M98.97 58.55h0M100.43 62.48h0M102.48 68.4h0M103.06 66.26h0M107.15 68.17h0M107.74 63.17h0M110.95 60.55h0M112.12 61.36h0M112.71 53.04h0M113.29 59.99h0M114.75 61.41h0M115.92 60.69h0M117.68 50.81h0M119.72 51.45h0M120.31 57.88h0M120.6 57.51h0M121.18 60.76h0M123.52 55.06h0M123.82 55.58h0M124.4 53.18h0M124.98 50.56h0M125.28 61.93h0M125.86 59.27h0M127.62 68.4h0M128.78 61.80h0M129.08 62.30h0M132 64.13h0M133.46 57.40h0M133.75 56.83h0M134.34 58.54h0M136.38 65.93h0M137.85 58.60h0M140.18 60.39h0M140.77 59.93h0M144.28 52.37h0M144.57 55.56h0M145.15 63.15h0M145.45 66.20h0M145.74 58.10h0M146.03 61.01h0M146.62 62.36h0M146.91 63.79h0M147.2 56.92h0M150.12 53.44h0M151.58 60.82h0M151.88 56.26h0M152.46 59.21h0M155.38 68.4h0M158.6 59.49h0M158.89 61.18h0M159.18 55.74h0M162.11 56.83h0M163.28 55.51h0M164.45 55.36h0M165.03 60.50h0M166.2 60.31h0M167.37 57.49h0M167.66 64.55h0M169.12 61.24h0M169.71 62.16h0M171.75 59.54h0M174.09 58.82h0M174.68 57.09h0M176.14 55.82h0M176.43 54.49h0M177.31 62.54h0M179.65 53.22h0M180.52 56.65h0M181.4 53.80h0M185.49 59.72h0M185.78 61.24h0M186.95 63.25h0M188.12 61.78h0M189 62.38h0" stroke="#27402e" stroke-width="1.9" stroke-linecap="round" fill="none"/>
<path d="M49.5 18.9h0M59.5 84h0M61.5 79.6h0M63.5 73h0M97.5 20.8h0M101.5 26.1h0M77.5 84.7h0M84.5 97.3h0M110.5 84h0M148.5 15.6h0M120.5 108.8h0M129.5 86.2h0M155.5 92.5h0M163.5 21.7h0M166.5 30.9h0M186.5 11.8h0M165.5 84.7h0" stroke="#5a2a22" stroke-width="1.9" stroke-linecap="round" fill="none"/>
<line x1="179.6" x2="179.6" y1="11.8" y2="108.8" stroke="#4550c8" stroke-width="0.6" stroke-dasharray="1.4,0.9"/>
<line x1="188.2" x2="188.2" y1="11.8" y2="108.8" stroke="#4550c8" stroke-width="0.6" stroke-dasharray="1.4,0.9"/>
<rect x="18.5" y="7.7" width="178.7" height="105.6" fill="none" stroke="#8a8a8a" stroke-width="0.95"/>
<line x1="16.9" x2="18.5" y1="21.6" y2="21.6" stroke="#8a8a8a" stroke-width="0.5"/>
<line x1="16.9" x2="18.5" y1="39.52" y2="39.52" stroke="#8a8a8a" stroke-width="0.5"/>
<line x1="16.9" x2="18.5" y1="57.44" y2="57.44" stroke="#8a8a8a" stroke-width="0.5"/>
<line x1="16.9" x2="18.5" y1="75.36" y2="75.36" stroke="#8a8a8a" stroke-width="0.5"/>
<line x1="16.9" x2="18.5" y1="93.28" y2="93.28" stroke="#8a8a8a" stroke-width="0.5"/>
<line x1="16.9" x2="18.5" y1="111.2" y2="111.2" stroke="#8a8a8a" stroke-width="0.5"/>
<line x1="26.5" x2="26.5" y1="113.3" y2="114.8" stroke="#8a8a8a" stroke-width="0.5"/>
<line x1="27.4" x2="27.4" y1="113.3" y2="114.8" stroke="#8a8a8a" stroke-width="0.5"/>
<line x1="31" x2="31" y1="113.3" y2="114.8" stroke="#8a8a8a" stroke-width="0.5"/>
<line x1="33.3" x2="33.3" y1="113.3" y2="114.8" stroke="#8a8a8a" stroke-width="0.5"/>
<line x1="40" x2="40" y1="113.3" y2="114.8" stroke="#8a8a8a" stroke-width="0.5"/>
<line x1="44.5" x2="44.5" y1="113.3" y2="114.8" stroke="#8a8a8a" stroke-width="0.5"/>
<line x1="46.7" x2="46.7" y1="113.3" y2="114.8" stroke="#8a8a8a" stroke-width="0.5"/>
<line x1="54.4" x2="54.4" y1="113.3" y2="114.8" stroke="#8a8a8a" stroke-width="0.5"/>
<line x1="64" x2="64" y1="113.3" y2="114.8" stroke="#8a8a8a" stroke-width="0.5"/>
<line x1="69.6" x2="69.6" y1="113.3" y2="114.8" stroke="#8a8a8a" stroke-width="0.5"/>
<line x1="76.8" x2="76.8" y1="113.3" y2="114.8" stroke="#8a8a8a" stroke-width="0.5"/>
<line x1="87.1" x2="87.1" y1="113.3" y2="114.8" stroke="#8a8a8a" stroke-width="0.5"/>
<line x1="96.1" x2="96.1" y1="113.3" y2="114.8" stroke="#8a8a8a" stroke-width="0.5"/>
<line x1="105.1" x2="105.1" y1="113.3" y2="114.8" stroke="#8a8a8a" stroke-width="0.5"/>
<line x1="107.4" x2="107.4" y1="113.3" y2="114.8" stroke="#8a8a8a" stroke-width="0.5"/>
<line x1="114" x2="114" y1="113.3" y2="114.8" stroke="#8a8a8a" stroke-width="0.5"/>
<line x1="119.7" x2="119.7" y1="113.3" y2="114.8" stroke="#8a8a8a" stroke-width="0.5"/>
<line x1="124.4" x2="124.4" y1="113.3" y2="114.8" stroke="#8a8a8a" stroke-width="0.5"/>
<line x1="135.3" x2="135.3" y1="113.3" y2="114.8" stroke="#8a8a8a" stroke-width="0.5"/>
<line x1="144.1" x2="144.1" y1="113.3" y2="114.8" stroke="#8a8a8a" stroke-width="0.5"/>
<line x1="148.8" x2="148.8" y1="113.3" y2="114.8" stroke="#8a8a8a" stroke-width="0.5"/>
<line x1="153.6" x2="153.6" y1="113.3" y2="114.8" stroke="#8a8a8a" stroke-width="0.5"/>
<line x1="160" x2="160" y1="113.3" y2="114.8" stroke="#8a8a8a" stroke-width="0.5"/>
<line x1="166.1" x2="166.1" y1="113.3" y2="114.8" stroke="#8a8a8a" stroke-width="0.5"/>
<line x1="173.7" x2="173.7" y1="113.3" y2="114.8" stroke="#8a8a8a" stroke-width="0.5"/>
<line x1="179.6" x2="179.6" y1="113.3" y2="114.8" stroke="#8a8a8a" stroke-width="0.5"/>
<line x1="188.4" x2="188.4" y1="113.3" y2="114.8" stroke="#8a8a8a" stroke-width="0.5"/>
<rect x="19" y="102.3" width="44.2" height="10.2" fill="#fff" fill-opacity="0.85" stroke="#d4d4d4" stroke-width="0.4" rx="0.8"/>
<line x1="20.5" x2="28" y1="105.4" y2="105.4" stroke="#4550c8" stroke-width="0.6" stroke-dasharray="2,1"/>
<line x1="20.5" x2="28" y1="109.6" y2="109.6" stroke="#dccb62" stroke-width="0.7" stroke-dasharray="2,0.8"/>
<rect x="227.5" y="71" width="164.5" height="9.4" fill="#e8fbf7"/>
<rect x="344.1" y="7.5" width="7.1" height="105.8" fill="#fdedf3"/>
<rect x="266.9" y="46.4" width="3.6" height="32.2" fill="#fef5f8"/>
<rect x="348.4" y="9" width="3.6" height="69.6" fill="#fef5f8"/>
<rect x="348.6" y="15.7" width="3.6" height="62.9" fill="#fef5f8"/>
<rect x="349.3" y="72.6" width="3.6" height="32" fill="#fef5f8"/>
<rect x="349.3" y="72.6" width="3.6" height="28" fill="#fef5f8"/>
<rect x="349.4" y="9.5" width="3.6" height="69.1" fill="#fef5f8"/>
<rect x="348.6" y="72.6" width="3.6" height="31.4" fill="#fef5f8"/>
<rect x="354.9" y="72.6" width="3.6" height="39.1" fill="#fef5f8"/>
<rect x="354.5" y="72.6" width="3.6" height="19" fill="#fef5f8"/>
<line x1="228" x2="391.5" y1="62.4" y2="62.4" stroke="#dccb62" stroke-width="0.85" stroke-dasharray="2.2,0.7"/>
<line x1="228" x2="391.5" y1="89.4" y2="89.4" stroke="#dccb62" stroke-width="0.85" stroke-dasharray="2.2,0.7"/>
<path d="M228 75.6V72.96M228.33 75.6V75.83M228.66 75.6V74.66M228.98 75.6V77.06M229.31 75.6V77.16M229.64 75.6V76.90M229.97 75.6V76.93M230.29 75.6V75.37M230.62 75.6V74.15M230.95 75.6V75.77M231.28 75.6V75.36M231.60 75.6V75.49M231.93 75.6V77.39M232.26 75.6V74.26M232.59 75.6V75.31M232.91 75.6V75.28M233.24 75.6V78.24M233.57 75.6V76.72M233.90 75.6V74.18M234.23 75.6V76.62M234.55 75.6V75.64M234.88 75.6V77.68M235.21 75.6V75.34M235.54 75.6V75.71M235.86 75.6V77.03M236.19 75.6V75.54M236.52 75.6V77.81M236.85 75.6V76.05M237.17 75.6V74.63M237.50 75.6V76.18M237.83 75.6V75.94M238.16 75.6V77.01M238.48 75.6V76.10M238.81 75.6V76.37M239.14 75.6V74.90M239.47 75.6V75.99M239.80 75.6V77.10M240.12 75.6V75.94M240.45 75.6V75.97M240.78 75.6V74.93M241.11 75.6V75.80M241.43 75.6V75.97M241.76 75.6V75.03M242.09 75.6V75.91M242.42 75.6V76.20M242.74 75.6V76.49M243.07 75.6V74.66M243.40 75.6V74.53M243.73 75.6V74.79M244.06 75.6V73.09M244.38 75.6V74.00M244.71 75.6V75.06M245.04 75.6V72.96M245.37 75.6V73.62M245.69 75.6V74.31M246.02 75.6V75.22M246.35 75.6V74.80M246.68 75.6V73.79M247.00 75.6V74.57M247.33 75.6V75.44M247.66 75.6V77.02M247.99 75.6V77.17M248.31 75.6V74.65M248.64 75.6V75.16M248.97 75.6V73.90M249.30 75.6V76.40M249.63 75.6V76.59M249.95 75.6V75.65M250.28 75.6V74.58M250.61 75.6V74.63M250.94 75.6V76.42M251.26 75.6V76.36M251.59 75.6V74.87M251.92 75.6V75.68M252.25 75.6V74.12M252.57 75.6V75.13M252.90 75.6V74.83M253.23 75.6V75.30M253.56 75.6V78.24M253.88 75.6V76.44M254.21 75.6V75.63M254.54 75.6V74.34M254.87 75.6V76.85M255.20 75.6V77.33M255.52 75.6V77.22M255.85 75.6V75.26M256.18 75.6V76.01M256.51 75.6V75.37M256.83 75.6V74.95M257.16 75.6V75.03M257.49 75.6V76.79M257.82 75.6V76.01M258.14 75.6V75.08M258.47 75.6V73.01M258.80 75.6V76.37M259.13 75.6V75.18M259.45 75.6V76.77M259.78 75.6V75.13M260.11 75.6V75.14M260.44 75.6V76.57M260.77 75.6V76.54M261.09 75.6V76.41M261.42 75.6V73.99M261.75 75.6V75.06M262.08 75.6V74.55M262.40 75.6V76.87M262.73 75.6V77.00M263.06 75.6V75.16M263.39 75.6V74.65M263.71 75.6V74.98M264.04 75.6V73.73M264.37 75.6V74.31M264.70 75.6V76.36M265.03 75.6V74.93M265.35 75.6V75.03M265.68 75.6V75.07M266.01 75.6V77.38M266.34 75.6V78.24M266.66 75.6V77.23M266.99 75.6V77.64M267.32 75.6V76.82M267.65 75.6V74.83M267.97 75.6V76.77M268.30 75.6V76.05M268.63 75.6V73.66M268.96 75.6V76.14M269.28 75.6V76.62M269.61 75.6V75.74M269.94 75.6V74.27M270.27 75.6V76.10M270.60 75.6V78.24M270.92 75.6V72.96M271.25 75.6V74.60M271.58 75.6V75.20M271.91 75.6V75.89M272.23 75.6V76.15M272.56 75.6V76.56M272.89 75.6V77.35M273.22 75.6V74.83M273.54 75.6V74.50M273.87 75.6V74.21M274.20 75.6V74.52M274.53 75.6V74.35M274.85 75.6V76.15M275.18 75.6V73.66M275.51 75.6V75.27M275.84 75.6V75.80M276.17 75.6V75.54M276.49 75.6V74.99M276.82 75.6V74.21M277.15 75.6V76.00M277.48 75.6V78.24M277.80 75.6V75.13M278.13 75.6V75.75M278.46 75.6V75.46M278.79 75.6V77.87M279.11 75.6V77.48M279.44 75.6V74.98M279.77 75.6V74.16M280.10 75.6V75.22M280.42 75.6V76.79M280.75 75.6V77.59M281.08 75.6V76.20M281.41 75.6V77.31M281.74 75.6V74.20M282.06 75.6V74.04M282.39 75.6V75.35M282.72 75.6V77.11M283.05 75.6V74.85M283.37 75.6V74.22M283.70 75.6V76.53M284.03 75.6V76.32M284.36 75.6V75.66M284.68 75.6V75.57M285.01 75.6V76.67M285.34 75.6V77.47M285.67 75.6V76.44M285.99 75.6V74.97M286.32 75.6V73.75M286.65 75.6V74.28M286.98 75.6V75.08M287.31 75.6V76.67M287.63 75.6V75.40M287.96 75.6V76.04M288.29 75.6V76.65M288.62 75.6V75.59M288.94 75.6V74.50M289.27 75.6V75.61M289.60 75.6V77.83M289.93 75.6V75.21M290.25 75.6V76.98M290.58 75.6V75.73M290.91 75.6V75.17M291.24 75.6V76.41M291.57 75.6V76.43M291.89 75.6V76.73M292.22 75.6V76.61M292.55 75.6V76.67M292.88 75.6V75.32M293.20 75.6V77.13M293.53 75.6V76.73M293.86 75.6V75.60M294.19 75.6V73.94M294.51 75.6V73.86M294.84 75.6V75.45M295.17 75.6V75.14M295.50 75.6V76.42M295.82 75.6V75.42M296.15 75.6V77.13M296.48 75.6V75.31M296.81 75.6V74.84M297.14 75.6V74.94M297.46 75.6V76.24M297.79 75.6V74.94M298.12 75.6V74.87M298.45 75.6V77.01M298.77 75.6V77.20M299.10 75.6V73.90M299.43 75.6V76.32M299.76 75.6V78.24M300.08 75.6V74.29M300.41 75.6V77.35M300.74 75.6V76.37M301.07 75.6V74.17M301.39 75.6V75.89M301.72 75.6V75.21M302.05 75.6V77.98M302.38 75.6V75.71M302.71 75.6V75.43M303.03 75.6V75.36M303.36 75.6V73.44M303.69 75.6V76.37M304.02 75.6V76.59M304.34 75.6V76.03M304.67 75.6V76.05M305.00 75.6V74.05M305.33 75.6V74.82M305.65 75.6V75.68M305.98 75.6V75.62M306.31 75.6V74.38M306.64 75.6V75.34M306.96 75.6V74.68M307.29 75.6V76.82M307.62 75.6V74.40M307.95 75.6V74.62M308.28 75.6V76.41M308.60 75.6V78.01M308.93 75.6V76.41M309.26 75.6V76.67M309.59 75.6V76.57M309.91 75.6V77.41M310.24 75.6V75.69M310.57 75.6V76.90M310.90 75.6V76.76M311.22 75.6V73.58M311.55 75.6V75.35M311.88 75.6V75.91M312.21 75.6V75.72M312.54 75.6V73.71M312.86 75.6V73.23M313.19 75.6V74.24M313.52 75.6V74.86M313.85 75.6V74.59M314.17 75.6V74.72M314.50 75.6V75.67M314.83 75.6V76.07M315.16 75.6V73.30M315.48 75.6V74.37M315.81 75.6V75.95M316.14 75.6V75.90M316.47 75.6V74.84M316.79 75.6V72.96M317.12 75.6V76.07M317.45 75.6V77.88M317.78 75.6V75.66M318.11 75.6V75.18M318.43 75.6V74.74M318.76 75.6V75.16M319.09 75.6V73.91M319.42 75.6V77.24M319.74 75.6V75.32M320.07 75.6V75.89M320.40 75.6V76.22M320.73 75.6V76.30M321.05 75.6V76.87M321.38 75.6V75.33M321.71 75.6V74.98M322.04 75.6V76.88M322.36 75.6V75.52M322.69 75.6V78.24M323.02 75.6V76.83M323.35 75.6V77.48M323.68 75.6V75.75M324.00 75.6V74.89M324.33 75.6V76.82M324.66 75.6V77.22M324.99 75.6V73.99M325.31 75.6V74.68M325.64 75.6V75.68M325.97 75.6V75.81M326.30 75.6V76.61M326.62 75.6V76.91M326.95 75.6V73.37M327.28 75.6V75.50M327.61 75.6V75.02M327.93 75.6V73.36M328.26 75.6V73.91M328.59 75.6V76.14M328.92 75.6V75.95M329.25 75.6V76.94M329.57 75.6V76.15M329.90 75.6V76.60M330.23 75.6V76.53M330.56 75.6V74.52M330.88 75.6V74.68M331.21 75.6V75.78M331.54 75.6V75.35M331.87 75.6V76.80M332.19 75.6V76.73M332.52 75.6V75.67M332.85 75.6V75.14M333.18 75.6V74.27M333.51 75.6V74.57M333.83 75.6V73.99M334.16 75.6V76.57M334.49 75.6V76.94M334.82 75.6V76.15M335.14 75.6V74.96M335.47 75.6V73.10M335.80 75.6V74.91M336.13 75.6V75.84M336.45 75.6V74.83M336.78 75.6V76.59M337.11 75.6V75.35M337.44 75.6V76.10M337.76 75.6V76.00M338.09 75.6V75.99M338.42 75.6V75.37M338.75 75.6V76.40M339.08 75.6V76.85M339.40 75.6V75.27M339.73 75.6V74.73M340.06 75.6V74.89M340.39 75.6V73.70M340.71 75.6V75.64M341.04 75.6V76.98M341.37 75.6V74.27M341.70 75.6V74.67M342.02 75.6V76.39M342.35 75.6V74.96M342.68 75.6V76.61M343.01 75.6V75.62M343.33 75.6V77.73M343.66 75.6V76.47M343.99 75.6V75.95M344.32 75.6V76.02M344.65 75.6V76.22M344.97 75.6V75.77M345.30 75.6V75.32M345.63 75.6V77.06M345.96 75.6V75.85M346.28 75.6V75.39M346.61 75.6V74.91M346.94 75.6V74.66M347.27 75.6V77.12M347.59 75.6V78.14M347.92 75.6V74.61M348.25 75.6V74.50M348.58 75.6V76.02M348.90 75.6V74.08M349.23 75.6V75.95M349.56 75.6V74.82M349.89 75.6V73.83M350.22 75.6V73.96M350.54 75.6V76.67M350.87 75.6V77.42M351.20 75.6V75.70M351.53 75.6V75.67M351.85 75.6V73.86M352.18 75.6V75.16M352.51 75.6V75.21M352.84 75.6V75.88M353.16 75.6V76.78M353.49 75.6V75.35M353.82 75.6V74.04M354.15 75.6V74.85M354.47 75.6V75.91M354.80 75.6V76.53M355.13 75.6V75.74M355.46 75.6V73.56M355.79 75.6V74.71M356.11 75.6V75.73M356.44 75.6V75.55M356.77 75.6V74.83M357.10 75.6V76.40M357.42 75.6V75.76M357.75 75.6V77.06M358.08 75.6V76.05M358.41 75.6V74.82M358.73 75.6V74.56M359.06 75.6V73.88M359.39 75.6V75.51M359.72 75.6V78.24M360.05 75.6V75.02M360.37 75.6V74.66M360.70 75.6V74.07M361.03 75.6V73.47M361.36 75.6V74.91M361.68 75.6V76.27M362.01 75.6V76.11M362.34 75.6V76.53M362.67 75.6V75.35M362.99 75.6V73.47M363.32 75.6V75.82M363.65 75.6V76.37M363.98 75.6V73.62M364.30 75.6V76.83M364.63 75.6V76.60M364.96 75.6V77.31M365.29 75.6V74.23M365.62 75.6V76.69M365.94 75.6V76.32M366.27 75.6V75.71M366.60 75.6V76.85M366.93 75.6V75.88M367.25 75.6V77.37M367.58 75.6V77.30M367.91 75.6V76.89M368.24 75.6V74.71M368.56 75.6V75.66M368.89 75.6V75.98M369.22 75.6V76.73M369.55 75.6V74.78M369.87 75.6V74.05M370.20 75.6V78.24M370.53 75.6V76.21M370.86 75.6V74.42M371.19 75.6V76.17M371.51 75.6V75.19M371.84 75.6V77.97M372.17 75.6V76.35M372.50 75.6V75.55M372.82 75.6V74.55M373.15 75.6V75.79M373.48 75.6V74.67M373.81 75.6V73.41M374.13 75.6V76.13M374.46 75.6V76.41M374.79 75.6V75.57M375.12 75.6V75.47M375.44 75.6V75.66M375.77 75.6V75.98M376.10 75.6V73.18M376.43 75.6V76.99M376.76 75.6V76.62M377.08 75.6V76.18M377.41 75.6V76.44M377.74 75.6V73.68M378.07 75.6V76.14M378.39 75.6V75.50M378.72 75.6V75.46M379.05 75.6V73.30M379.38 75.6V75.04M379.70 75.6V73.34M380.03 75.6V75.89M380.36 75.6V76.10M380.69 75.6V76.40M381.02 75.6V75.81M381.34 75.6V76.12M381.67 75.6V75.14M382.00 75.6V73.49M382.33 75.6V76.21M382.65 75.6V75.18M382.98 75.6V74.92M383.31 75.6V73.70M383.64 75.6V74.19M383.96 75.6V77.09M384.29 75.6V74.53M384.62 75.6V75.90M384.95 75.6V74.22M385.27 75.6V74.62M385.60 75.6V75.59M385.93 75.6V78.24M386.26 75.6V75.32M386.59 75.6V76.00M386.91 75.6V75.63M387.24 75.6V75.31M387.57 75.6V76.46M387.90 75.6V75.46M388.22 75.6V74.39M388.55 75.6V76.12M388.88 75.6V75.53M389.21 75.6V75.44M389.53 75.6V76.23M389.86 75.6V77.13M390.19 75.6V77.50M390.52 75.6V74.49M390.84 75.6V73.18M391.17 75.6V73.50M391.5 75.6V73.95" stroke="#587a62" stroke-width="0.5" fill="none"/>
<path d="M228 75.6V69.53M228.33 75.6V76.13M232.91 75.6V74.87M242.09 75.6V76.31M245.04 75.6V69.53M246.68 75.6V71.44M247.00 75.6V73.22M247.66 75.6V78.86M250.61 75.6V73.37M251.26 75.6V77.35M252.25 75.6V72.20M252.57 75.6V74.53M252.90 75.6V73.82M255.52 75.6V79.32M255.85 75.6V74.81M259.13 75.6V74.64M259.78 75.6V74.51M261.42 75.6V71.89M262.08 75.6V73.18M265.35 75.6V74.30M266.34 75.6V81.67M270.27 75.6V76.74M270.60 75.6V81.67M275.51 75.6V74.85M280.42 75.6V78.35M285.99 75.6V74.15M288.29 75.6V78.01M290.58 75.6V75.89M291.89 75.6V78.20M305.33 75.6V73.81M307.29 75.6V78.40M307.62 75.6V72.85M308.28 75.6V77.46M311.88 75.6V76.31M313.52 75.6V73.89M314.17 75.6V73.58M316.14 75.6V76.30M317.12 75.6V76.67M317.78 75.6V75.74M319.74 75.6V74.95M323.02 75.6V78.42M325.97 75.6V76.07M329.25 75.6V78.69M337.11 75.6V75.03M341.37 75.6V72.53M343.33 75.6V80.49M346.28 75.6V75.12M347.27 75.6V79.08M348.25 75.6V73.06M354.80 75.6V77.74M356.11 75.6V75.90M356.44 75.6V75.48M357.42 75.6V75.97M360.37 75.6V73.43M363.32 75.6V76.09M367.25 75.6V79.66M372.50 75.6V75.49M373.81 75.6V70.56M374.79 75.6V75.54M382.98 75.6V74.03M383.96 75.6V79.03M384.95 75.6V72.43M385.93 75.6V81.67M386.26 75.6V74.96M387.24 75.6V74.94M387.90 75.6V75.27M388.55 75.6V76.79M390.52 75.6V73.05M390.84 75.6V70.03" stroke="#3c5c47" stroke-width="0.55" fill="none"/>
<path d="M269.5 75.6V88.2M255.5 75.6V71M272.5 75.6V67.4M281.5 75.6V67.4M289.5 75.6V70.5M294.5 75.6V65.4M296.5 75.6V71.4M233.5 75.6V80.8M248.5 75.6V80.8M273.5 75.6V81M288.5 75.6V80.8M292.5 75.6V80.8M297.5 75.6V80.8M352.5 75.6V65.3M354.5 75.6V69.6M332.5 75.6V81.5M358.5 75.6V72M353.5 75.6V82" stroke="#3c5c47" stroke-width="0.8" fill="none"/>
<path d="M268.5 75.6V49.4M350.5 75.6V12M350.5 75.6V18.7M351.5 75.6V101.6M351.5 75.6V97.6M351.5 75.6V12.5M350.5 75.6V101M356.5 75.6V108.7M356.5 75.6V88.6" stroke="#b86c52" stroke-width="0.7" fill="none"/>
<path d="M228 72.96L228.33 75.83L228.66 74.66L228.98 77.06L229.31 77.16L229.64 76.90L229.97 76.93L230.29 75.37L230.62 74.15L230.95 75.77L231.28 75.36L231.60 75.49L231.93 77.39L232.26 74.26L232.59 75.31L232.91 75.28L233.24 78.24L233.57 76.72L233.90 74.18L234.23 76.62L234.55 75.64L234.88 77.68L235.21 75.34L235.54 75.71L235.86 77.03L236.19 75.54L236.52 77.81L236.85 76.05L237.17 74.63L237.50 76.18L237.83 75.94L238.16 77.01L238.48 76.10L238.81 76.37L239.14 74.90L239.47 75.99L239.80 77.10L240.12 75.94L240.45 75.97L240.78 74.93L241.11 75.80L241.43 75.97L241.76 75.03L242.09 75.91L242.42 76.20L242.74 76.49L243.07 74.66L243.40 74.53L243.73 74.79L244.06 73.09L244.38 74.00L244.71 75.06L245.04 72.96L245.37 73.62L245.69 74.31L246.02 75.22L246.35 74.80L246.68 73.79L247.00 74.57L247.33 75.44L247.66 77.02L247.99 77.17L248.31 74.65L248.64 75.16L248.97 73.90L249.30 76.40L249.63 76.59L249.95 75.65L250.28 74.58L250.61 74.63L250.94 76.42L251.26 76.36L251.59 74.87L251.92 75.68L252.25 74.12L252.57 75.13L252.90 74.83L253.23 75.30L253.56 78.24L253.88 76.44L254.21 75.63L254.54 74.34L254.87 76.85L255.20 77.33L255.52 77.22L255.85 75.26L256.18 76.01L256.51 75.37L256.83 74.95L257.16 75.03L257.49 76.79L257.82 76.01L258.14 75.08L258.47 73.01L258.80 76.37L259.13 75.18L259.45 76.77L259.78 75.13L260.11 75.14L260.44 76.57L260.77 76.54L261.09 76.41L261.42 73.99L261.75 75.06L262.08 74.55L262.40 76.87L262.73 77.00L263.06 75.16L263.39 74.65L263.71 74.98L264.04 73.73L264.37 74.31L264.70 76.36L265.03 74.93L265.35 75.03L265.68 75.07L266.01 77.38L266.34 78.24L266.66 77.23L266.99 77.64L267.32 76.82L267.65 74.83L267.97 76.77L268.30 76.05L268.63 73.66L268.96 76.14L269.28 76.62L269.61 75.74L269.94 74.27L270.27 76.10L270.60 78.24L270.92 72.96L271.25 74.60L271.58 75.20L271.91 75.89L272.23 76.15L272.56 76.56L272.89 77.35L273.22 74.83L273.54 74.50L273.87 74.21L274.20 74.52L274.53 74.35L274.85 76.15L275.18 73.66L275.51 75.27L275.84 75.80L276.17 75.54L276.49 74.99L276.82 74.21L277.15 76.00L277.48 78.24L277.80 75.13L278.13 75.75L278.46 75.46L278.79 77.87L279.11 77.48L279.44 74.98L279.77 74.16L280.10 75.22L280.42 76.79L280.75 77.59L281.08 76.20L281.41 77.31L281.74 74.20L282.06 74.04L282.39 75.35L282.72 77.11L283.05 74.85L283.37 74.22L283.70 76.53L284.03 76.32L284.36 75.66L284.68 75.57L285.01 76.67L285.34 77.47L285.67 76.44L285.99 74.97L286.32 73.75L286.65 74.28L286.98 75.08L287.31 76.67L287.63 75.40L287.96 76.04L288.29 76.65L288.62 75.59L288.94 74.50L289.27 75.61L289.60 77.83L289.93 75.21L290.25 76.98L290.58 75.73L290.91 75.17L291.24 76.41L291.57 76.43L291.89 76.73L292.22 76.61L292.55 76.67L292.88 75.32L293.20 77.13L293.53 76.73L293.86 75.60L294.19 73.94L294.51 73.86L294.84 75.45L295.17 75.14L295.50 76.42L295.82 75.42L296.15 77.13L296.48 75.31L296.81 74.84L297.14 74.94L297.46 76.24L297.79 74.94L298.12 74.87L298.45 77.01L298.77 77.20L299.10 73.90L299.43 76.32L299.76 78.24L300.08 74.29L300.41 77.35L300.74 76.37L301.07 74.17L301.39 75.89L301.72 75.21L302.05 77.98L302.38 75.71L302.71 75.43L303.03 75.36L303.36 73.44L303.69 76.37L304.02 76.59L304.34 76.03L304.67 76.05L305.00 74.05L305.33 74.82L305.65 75.68L305.98 75.62L306.31 74.38L306.64 75.34L306.96 74.68L307.29 76.82L307.62 74.40L307.95 74.62L308.28 76.41L308.60 78.01L308.93 76.41L309.26 76.67L309.59 76.57L309.91 77.41L310.24 75.69L310.57 76.90L310.90 76.76L311.22 73.58L311.55 75.35L311.88 75.91L312.21 75.72L312.54 73.71L312.86 73.23L313.19 74.24L313.52 74.86L313.85 74.59L314.17 74.72L314.50 75.67L314.83 76.07L315.16 73.30L315.48 74.37L315.81 75.95L316.14 75.90L316.47 74.84L316.79 72.96L317.12 76.07L317.45 77.88L317.78 75.66L318.11 75.18L318.43 74.74L318.76 75.16L319.09 73.91L319.42 77.24L319.74 75.32L320.07 75.89L320.40 76.22L320.73 76.30L321.05 76.87L321.38 75.33L321.71 74.98L322.04 76.88L322.36 75.52L322.69 78.24L323.02 76.83L323.35 77.48L323.68 75.75L324.00 74.89L324.33 76.82L324.66 77.22L324.99 73.99L325.31 74.68L325.64 75.68L325.97 75.81L326.30 76.61L326.62 76.91L326.95 73.37L327.28 75.50L327.61 75.02L327.93 73.36L328.26 73.91L328.59 76.14L328.92 75.95L329.25 76.94L329.57 76.15L329.90 76.60L330.23 76.53L330.56 74.52L330.88 74.68L331.21 75.78L331.54 75.35L331.87 76.80L332.19 76.73L332.52 75.67L332.85 75.14L333.18 74.27L333.51 74.57L333.83 73.99L334.16 76.57L334.49 76.94L334.82 76.15L335.14 74.96L335.47 73.10L335.80 74.91L336.13 75.84L336.45 74.83L336.78 76.59L337.11 75.35L337.44 76.10L337.76 76.00L338.09 75.99L338.42 75.37L338.75 76.40L339.08 76.85L339.40 75.27L339.73 74.73L340.06 74.89L340.39 73.70L340.71 75.64L341.04 76.98L341.37 74.27L341.70 74.67L342.02 76.39L342.35 74.96L342.68 76.61L343.01 75.62L343.33 77.73L343.66 76.47L343.99 75.95L344.32 76.02L344.65 76.22L344.97 75.77L345.30 75.32L345.63 77.06L345.96 75.85L346.28 75.39L346.61 74.91L346.94 74.66L347.27 77.12L347.59 78.14L347.92 74.61L348.25 74.50L348.58 76.02L348.90 74.08L349.23 75.95L349.56 74.82L349.89 73.83L350.22 73.96L350.54 76.67L350.87 77.42L351.20 75.70L351.53 75.67L351.85 73.86L352.18 75.16L352.51 75.21L352.84 75.88L353.16 76.78L353.49 75.35L353.82 74.04L354.15 74.85L354.47 75.91L354.80 76.53L355.13 75.74L355.46 73.56L355.79 74.71L356.11 75.73L356.44 75.55L356.77 74.83L357.10 76.40L357.42 75.76L357.75 77.06L358.08 76.05L358.41 74.82L358.73 74.56L359.06 73.88L359.39 75.51L359.72 78.24L360.05 75.02L360.37 74.66L360.70 74.07L361.03 73.47L361.36 74.91L361.68 76.27L362.01 76.11L362.34 76.53L362.67 75.35L362.99 73.47L363.32 75.82L363.65 76.37L363.98 73.62L364.30 76.83L364.63 76.60L364.96 77.31L365.29 74.23L365.62 76.69L365.94 76.32L366.27 75.71L366.60 76.85L366.93 75.88L367.25 77.37L367.58 77.30L367.91 76.89L368.24 74.71L368.56 75.66L368.89 75.98L369.22 76.73L369.55 74.78L369.87 74.05L370.20 78.24L370.53 76.21L370.86 74.42L371.19 76.17L371.51 75.19L371.84 77.97L372.17 76.35L372.50 75.55L372.82 74.55L373.15 75.79L373.48 74.67L373.81 73.41L374.13 76.13L374.46 76.41L374.79 75.57L375.12 75.47L375.44 75.66L375.77 75.98L376.10 73.18L376.43 76.99L376.76 76.62L377.08 76.18L377.41 76.44L377.74 73.68L378.07 76.14L378.39 75.50L378.72 75.46L379.05 73.30L379.38 75.04L379.70 73.34L380.03 75.89L380.36 76.10L380.69 76.40L381.02 75.81L381.34 76.12L381.67 75.14L382.00 73.49L382.33 76.21L382.65 75.18L382.98 74.92L383.31 73.70L383.64 74.19L383.96 77.09L384.29 74.53L384.62 75.90L384.95 74.22L385.27 74.62L385.60 75.59L385.93 78.24L386.26 75.32L386.59 76.00L386.91 75.63L387.24 75.31L387.57 76.46L387.90 75.46L388.22 74.39L388.55 76.12L388.88 75.53L389.21 75.44L389.53 76.23L389.86 77.13L390.19 77.50L390.52 74.49L390.84 73.18L391.17 73.50L391.5 73.95" fill="none" stroke="#2c8743" stroke-width="1.3" stroke-linejoin="round"/>
<path d="M228 72.96h0M228.33 75.83h0M228.66 74.66h0M228.98 77.06h0M229.31 77.16h0M229.64 76.90h0M229.97 76.93h0M230.29 75.37h0M230.62 74.15h0M230.95 75.77h0M231.28 75.36h0M231.60 75.49h0M231.93 77.39h0M232.26 74.26h0M232.59 75.31h0M232.91 75.28h0M233.24 78.24h0M233.57 76.72h0M233.90 74.18h0M234.23 76.62h0M234.55 75.64h0M234.88 77.68h0M235.21 75.34h0M235.54 75.71h0M235.86 77.03h0M236.19 75.54h0M236.52 77.81h0M236.85 76.05h0M237.17 74.63h0M237.50 76.18h0M237.83 75.94h0M238.16 77.01h0M238.48 76.10h0M238.81 76.37h0M239.14 74.90h0M239.47 75.99h0M239.80 77.10h0M240.12 75.94h0M240.45 75.97h0M240.78 74.93h0M241.11 75.80h0M241.43 75.97h0M241.76 75.03h0M242.09 75.91h0M242.42 76.20h0M242.74 76.49h0M243.07 74.66h0M243.40 74.53h0M243.73 74.79h0M244.06 73.09h0M244.38 74.00h0M244.71 75.06h0M245.04 72.96h0M245.37 73.62h0M245.69 74.31h0M246.02 75.22h0M246.35 74.80h0M246.68 73.79h0M247.00 74.57h0M247.33 75.44h0M247.66 77.02h0M247.99 77.17h0M248.31 74.65h0M248.64 75.16h0M248.97 73.90h0M249.30 76.40h0M249.63 76.59h0M249.95 75.65h0M250.28 74.58h0M250.61 74.63h0M250.94 76.42h0M251.26 76.36h0M251.59 74.87h0M251.92 75.68h0M252.25 74.12h0M252.57 75.13h0M252.90 74.83h0M253.23 75.30h0M253.56 78.24h0M253.88 76.44h0M254.21 75.63h0M254.54 74.34h0M254.87 76.85h0M255.20 77.33h0M255.52 77.22h0M255.85 75.26h0M256.18 76.01h0M256.51 75.37h0M256.83 74.95h0M257.16 75.03h0M257.49 76.79h0M257.82 76.01h0M258.14 75.08h0M258.47 73.01h0M258.80 76.37h0M259.13 75.18h0M259.45 76.77h0M259.78 75.13h0M260.11 75.14h0M260.44 76.57h0M260.77 76.54h0M261.09 76.41h0M261.42 73.99h0M261.75 75.06h0M262.08 74.55h0M262.40 76.87h0M262.73 77.00h0M263.06 75.16h0M263.39 74.65h0M263.71 74.98h0M264.04 73.73h0M264.37 74.31h0M264.70 76.36h0M265.03 74.93h0M265.35 75.03h0M265.68 75.07h0M266.01 77.38h0M266.34 78.24h0M266.66 77.23h0M266.99 77.64h0M267.32 76.82h0M267.65 74.83h0M267.97 76.77h0M268.30 76.05h0M268.63 73.66h0M268.96 76.14h0M269.28 76.62h0M269.61 75.74h0M269.94 74.27h0M270.27 76.10h0M270.60 78.24h0M270.92 72.96h0M271.25 74.60h0M271.58 75.20h0M271.91 75.89h0M272.23 76.15h0M272.56 76.56h0M272.89 77.35h0M273.22 74.83h0M273.54 74.50h0M273.87 74.21h0M274.20 74.52h0M274.53 74.35h0M274.85 76.15h0M275.18 73.66h0M275.51 75.27h0M275.84 75.80h0M276.17 75.54h0M276.49 74.99h0M276.82 74.21h0M277.15 76.00h0M277.48 78.24h0M277.80 75.13h0M278.13 75.75h0M278.46 75.46h0M278.79 77.87h0M279.11 77.48h0M279.44 74.98h0M279.77 74.16h0M280.10 75.22h0M280.42 76.79h0M280.75 77.59h0M281.08 76.20h0M281.41 77.31h0M281.74 74.20h0M282.06 74.04h0M282.39 75.35h0M282.72 77.11h0M283.05 74.85h0M283.37 74.22h0M283.70 76.53h0M284.03 76.32h0M284.36 75.66h0M284.68 75.57h0M285.01 76.67h0M285.34 77.47h0M285.67 76.44h0M285.99 74.97h0M286.32 73.75h0M286.65 74.28h0M286.98 75.08h0M287.31 76.67h0M287.63 75.40h0M287.96 76.04h0M288.29 76.65h0M288.62 75.59h0M288.94 74.50h0M289.27 75.61h0M289.60 77.83h0M289.93 75.21h0M290.25 76.98h0M290.58 75.73h0M290.91 75.17h0M291.24 76.41h0M291.57 76.43h0M291.89 76.73h0M292.22 76.61h0M292.55 76.67h0M292.88 75.32h0M293.20 77.13h0M293.53 76.73h0M293.86 75.60h0M294.19 73.94h0M294.51 73.86h0M294.84 75.45h0M295.17 75.14h0M295.50 76.42h0M295.82 75.42h0M296.15 77.13h0M296.48 75.31h0M296.81 74.84h0M297.14 74.94h0M297.46 76.24h0M297.79 74.94h0M298.12 74.87h0M298.45 77.01h0M298.77 77.20h0M299.10 73.90h0M299.43 76.32h0M299.76 78.24h0M300.08 74.29h0M300.41 77.35h0M300.74 76.37h0M301.07 74.17h0M301.39 75.89h0M301.72 75.21h0M302.05 77.98h0M302.38 75.71h0M302.71 75.43h0M303.03 75.36h0M303.36 73.44h0M303.69 76.37h0M304.02 76.59h0M304.34 76.03h0M304.67 76.05h0M305.00 74.05h0M305.33 74.82h0M305.65 75.68h0M305.98 75.62h0M306.31 74.38h0M306.64 75.34h0M306.96 74.68h0M307.29 76.82h0M307.62 74.40h0M307.95 74.62h0M308.28 76.41h0M308.60 78.01h0M308.93 76.41h0M309.26 76.67h0M309.59 76.57h0M309.91 77.41h0M310.24 75.69h0M310.57 76.90h0M310.90 76.76h0M311.22 73.58h0M311.55 75.35h0M311.88 75.91h0M312.21 75.72h0M312.54 73.71h0M312.86 73.23h0M313.19 74.24h0M313.52 74.86h0M313.85 74.59h0M314.17 74.72h0M314.50 75.67h0M314.83 76.07h0M315.16 73.30h0M315.48 74.37h0M315.81 75.95h0M316.14 75.90h0M316.47 74.84h0M316.79 72.96h0M317.12 76.07h0M317.45 77.88h0M317.78 75.66h0M318.11 75.18h0M318.43 74.74h0M318.76 75.16h0M319.09 73.91h0M319.42 77.24h0M319.74 75.32h0M320.07 75.89h0M320.40 76.22h0M320.73 76.30h0M321.05 76.87h0M321.38 75.33h0M321.71 74.98h0M322.04 76.88h0M322.36 75.52h0M322.69 78.24h0M323.02 76.83h0M323.35 77.48h0M323.68 75.75h0M324.00 74.89h0M324.33 76.82h0M324.66 77.22h0M324.99 73.99h0M325.31 74.68h0M325.64 75.68h0M325.97 75.81h0M326.30 76.61h0M326.62 76.91h0M326.95 73.37h0M327.28 75.50h0M327.61 75.02h0M327.93 73.36h0M328.26 73.91h0M328.59 76.14h0M328.92 75.95h0M329.25 76.94h0M329.57 76.15h0M329.90 76.60h0M330.23 76.53h0M330.56 74.52h0M330.88 74.68h0M331.21 75.78h0M331.54 75.35h0M331.87 76.80h0M332.19 76.73h0M332.52 75.67h0M332.85 75.14h0M333.18 74.27h0M333.51 74.57h0M333.83 73.99h0M334.16 76.57h0M334.49 76.94h0M334.82 76.15h0M335.14 74.96h0M335.47 73.10h0M335.80 74.91h0M336.13 75.84h0M336.45 74.83h0M336.78 76.59h0M337.11 75.35h0M337.44 76.10h0M337.76 76.00h0M338.09 75.99h0M338.42 75.37h0M338.75 76.40h0M339.08 76.85h0M339.40 75.27h0M339.73 74.73h0M340.06 74.89h0M340.39 73.70h0M340.71 75.64h0M341.04 76.98h0M341.37 74.27h0M341.70 74.67h0M342.02 76.39h0M342.35 74.96h0M342.68 76.61h0M343.01 75.62h0M343.33 77.73h0M343.66 76.47h0M343.99 75.95h0M344.32 76.02h0M344.65 76.22h0M344.97 75.77h0M345.30 75.32h0M345.63 77.06h0M345.96 75.85h0M346.28 75.39h0M346.61 74.91h0M346.94 74.66h0M347.27 77.12h0M347.59 78.14h0M347.92 74.61h0M348.25 74.50h0M348.58 76.02h0M348.90 74.08h0M349.23 75.95h0M349.56 74.82h0M349.89 73.83h0M350.22 73.96h0M350.54 76.67h0M350.87 77.42h0M351.20 75.70h0M351.53 75.67h0M351.85 73.86h0M352.18 75.16h0M352.51 75.21h0M352.84 75.88h0M353.16 76.78h0M353.49 75.35h0M353.82 74.04h0M354.15 74.85h0M354.47 75.91h0M354.80 76.53h0M355.13 75.74h0M355.46 73.56h0M355.79 74.71h0M356.11 75.73h0M356.44 75.55h0M356.77 74.83h0M357.10 76.40h0M357.42 75.76h0M357.75 77.06h0M358.08 76.05h0M358.41 74.82h0M358.73 74.56h0M359.06 73.88h0M359.39 75.51h0M359.72 78.24h0M360.05 75.02h0M360.37 74.66h0M360.70 74.07h0M361.03 73.47h0M361.36 74.91h0M361.68 76.27h0M362.01 76.11h0M362.34 76.53h0M362.67 75.35h0M362.99 73.47h0M363.32 75.82h0M363.65 76.37h0M363.98 73.62h0M364.30 76.83h0M364.63 76.60h0M364.96 77.31h0M365.29 74.23h0M365.62 76.69h0M365.94 76.32h0M366.27 75.71h0M366.60 76.85h0M366.93 75.88h0M367.25 77.37h0M367.58 77.30h0M367.91 76.89h0M368.24 74.71h0M368.56 75.66h0M368.89 75.98h0M369.22 76.73h0M369.55 74.78h0M369.87 74.05h0M370.20 78.24h0M370.53 76.21h0M370.86 74.42h0M371.19 76.17h0M371.51 75.19h0M371.84 77.97h0M372.17 76.35h0M372.50 75.55h0M372.82 74.55h0M373.15 75.79h0M373.48 74.67h0M373.81 73.41h0M374.13 76.13h0M374.46 76.41h0M374.79 75.57h0M375.12 75.47h0M375.44 75.66h0M375.77 75.98h0M376.10 73.18h0M376.43 76.99h0M376.76 76.62h0M377.08 76.18h0M377.41 76.44h0M377.74 73.68h0M378.07 76.14h0M378.39 75.50h0M378.72 75.46h0M379.05 73.30h0M379.38 75.04h0M379.70 73.34h0M380.03 75.89h0M380.36 76.10h0M380.69 76.40h0M381.02 75.81h0M381.34 76.12h0M381.67 75.14h0M382.00 73.49h0M382.33 76.21h0M382.65 75.18h0M382.98 74.92h0M383.31 73.70h0M383.64 74.19h0M383.96 77.09h0M384.29 74.53h0M384.62 75.90h0M384.95 74.22h0M385.27 74.62h0M385.60 75.59h0M385.93 78.24h0M386.26 75.32h0M386.59 76.00h0M386.91 75.63h0M387.24 75.31h0M387.57 76.46h0M387.90 75.46h0M388.22 74.39h0M388.55 76.12h0M388.88 75.53h0M389.21 75.44h0M389.53 76.23h0M389.86 77.13h0M390.19 77.50h0M390.52 74.49h0M390.84 73.18h0M391.17 73.50h0M391.5 73.95h0" stroke="#2d5537" stroke-width="1.5" stroke-linecap="round" fill="none"/>
<path d="M349.56 75.6V73.66M349.89 75.6V71.19M350.22 75.6V71.51M350.54 75.6V78.27M350.87 75.6V80.14M351.20 75.6V75.85M351.53 75.6V75.79M351.85 75.6V71.25" stroke="#b86c52" stroke-width="0.5" fill="none" opacity="0.8"/>
<path d="M349.56 73.66L349.89 71.19L350.22 71.51L350.54 78.27L350.87 80.14L351.20 75.85L351.53 75.79L351.85 71.25" fill="none" stroke="#b8442c" stroke-width="1.3" stroke-linejoin="round" opacity="0.55"/>
<path d="M349.56 73.66h0M350.54 78.27h0M351.53 75.79h0" stroke="#5a2a22" stroke-width="1.6" stroke-linecap="round" fill="none" opacity="0.8"/>
<path d="M269.5 88.2h0M255.5 71h0M272.5 67.4h0M281.5 67.4h0M289.5 70.5h0M294.5 65.4h0M296.5 71.4h0M233.5 80.8h0M248.5 80.8h0M273.5 81h0M288.5 80.8h0M292.5 80.8h0M297.5 80.8h0M352.5 65.3h0M354.5 69.6h0M332.5 81.5h0M358.5 72h0M353.5 82h0M228 69.53h0M228.33 76.13h0M232.91 74.87h0M242.09 76.31h0M245.04 69.53h0M246.68 71.44h0M247.00 73.22h0M247.66 78.86h0M250.61 73.37h0M251.26 77.35h0M252.25 72.20h0M252.57 74.53h0M252.90 73.82h0M255.52 79.32h0M255.85 74.81h0M259.13 74.64h0M259.78 74.51h0M261.42 71.89h0M262.08 73.18h0M265.35 74.30h0M266.34 81.67h0M270.27 76.74h0M270.60 81.67h0M275.51 74.85h0M280.42 78.35h0M285.99 74.15h0M288.29 78.01h0M290.58 75.89h0M291.89 78.20h0M305.33 73.81h0M307.29 78.40h0M307.62 72.85h0M308.28 77.46h0M311.88 76.31h0M313.52 73.89h0M314.17 73.58h0M316.14 76.30h0M317.12 76.67h0M317.78 75.74h0M319.74 74.95h0M323.02 78.42h0M325.97 76.07h0M329.25 78.69h0M337.11 75.03h0M341.37 72.53h0M343.33 80.49h0M346.28 75.12h0M347.27 79.08h0M348.25 73.06h0M354.80 77.74h0M356.11 75.90h0M356.44 75.48h0M357.42 75.97h0M360.37 73.43h0M363.32 76.09h0M367.25 79.66h0M372.50 75.49h0M373.81 70.56h0M374.79 75.54h0M382.98 74.03h0M383.96 79.03h0M384.95 72.43h0M385.93 81.67h0M386.26 74.96h0M387.24 74.94h0M387.90 75.27h0M388.55 76.79h0M390.52 73.05h0M390.84 70.03h0" stroke="#27402e" stroke-width="1.9" stroke-linecap="round" fill="none"/>
<path d="M268.5 49.4h0M350.5 12h0M350.5 18.7h0M351.5 101.6h0M351.5 97.6h0M351.5 12.5h0M350.5 101h0M356.5 108.7h0M356.5 88.6h0" stroke="#5a2a22" stroke-width="1.9" stroke-linecap="round" fill="none"/>
<line x1="383.2" x2="383.2" y1="12" y2="108.7" stroke="#4550c8" stroke-width="0.6" stroke-dasharray="1.4,0.9"/>
<line x1="390.3" x2="390.3" y1="12" y2="108.7" stroke="#4550c8" stroke-width="0.6" stroke-dasharray="1.4,0.9"/>
<rect x="220.3" y="7.5" width="177.7" height="105.8" fill="none" stroke="#8a8a8a" stroke-width="0.95"/>
<line x1="218.7" x2="220.3" y1="20.7" y2="20.7" stroke="#8a8a8a" stroke-width="0.5"/>
<line x1="218.7" x2="220.3" y1="34.52" y2="34.52" stroke="#8a8a8a" stroke-width="0.5"/>
<line x1="218.7" x2="220.3" y1="48.33" y2="48.33" stroke="#8a8a8a" stroke-width="0.5"/>
<line x1="218.7" x2="220.3" y1="62.15" y2="62.15" stroke="#8a8a8a" stroke-width="0.5"/>
<line x1="218.7" x2="220.3" y1="75.97" y2="75.97" stroke="#8a8a8a" stroke-width="0.5"/>
<line x1="218.7" x2="220.3" y1="89.78" y2="89.78" stroke="#8a8a8a" stroke-width="0.5"/>
<line x1="218.7" x2="220.3" y1="103.6" y2="103.6" stroke="#8a8a8a" stroke-width="0.5"/>
<line x1="227.9" x2="227.9" y1="113.3" y2="114.8" stroke="#8a8a8a" stroke-width="0.5"/>
<line x1="232.3" x2="232.3" y1="113.3" y2="114.8" stroke="#8a8a8a" stroke-width="0.5"/>
<line x1="239.7" x2="239.7" y1="113.3" y2="114.8" stroke="#8a8a8a" stroke-width="0.5"/>
<line x1="242" x2="242" y1="113.3" y2="114.8" stroke="#8a8a8a" stroke-width="0.5"/>
<line x1="243.6" x2="243.6" y1="113.3" y2="114.8" stroke="#8a8a8a" stroke-width="0.5"/>
<line x1="245.1" x2="245.1" y1="113.3" y2="114.8" stroke="#8a8a8a" stroke-width="0.5"/>
<line x1="246.9" x2="246.9" y1="113.3" y2="114.8" stroke="#8a8a8a" stroke-width="0.5"/>
<line x1="251" x2="251" y1="113.3" y2="114.8" stroke="#8a8a8a" stroke-width="0.5"/>
<line x1="254.8" x2="254.8" y1="113.3" y2="114.8" stroke="#8a8a8a" stroke-width="0.5"/>
<line x1="259.3" x2="259.3" y1="113.3" y2="114.8" stroke="#8a8a8a" stroke-width="0.5"/>
<line x1="261.5" x2="261.5" y1="113.3" y2="114.8" stroke="#8a8a8a" stroke-width="0.5"/>
<line x1="267.8" x2="267.8" y1="113.3" y2="114.8" stroke="#8a8a8a" stroke-width="0.5"/>
<line x1="285.1" x2="285.1" y1="113.3" y2="114.8" stroke="#8a8a8a" stroke-width="0.5"/>
<line x1="299.5" x2="299.5" y1="113.3" y2="114.8" stroke="#8a8a8a" stroke-width="0.5"/>
<line x1="311.2" x2="311.2" y1="113.3" y2="114.8" stroke="#8a8a8a" stroke-width="0.5"/>
<line x1="318.7" x2="318.7" y1="113.3" y2="114.8" stroke="#8a8a8a" stroke-width="0.5"/>
<line x1="322.4" x2="322.4" y1="113.3" y2="114.8" stroke="#8a8a8a" stroke-width="0.5"/>
<line x1="328.7" x2="328.7" y1="113.3" y2="114.8" stroke="#8a8a8a" stroke-width="0.5"/>
<line x1="337.4" x2="337.4" y1="113.3" y2="114.8" stroke="#8a8a8a" stroke-width="0.5"/>
<line x1="343.6" x2="343.6" y1="113.3" y2="114.8" stroke="#8a8a8a" stroke-width="0.5"/>
<line x1="351.1" x2="351.1" y1="113.3" y2="114.8" stroke="#8a8a8a" stroke-width="0.5"/>
<line x1="362.3" x2="362.3" y1="113.3" y2="114.8" stroke="#8a8a8a" stroke-width="0.5"/>
<line x1="367.8" x2="367.8" y1="113.3" y2="114.8" stroke="#8a8a8a" stroke-width="0.5"/>
<line x1="371.1" x2="371.1" y1="113.3" y2="114.8" stroke="#8a8a8a" stroke-width="0.5"/>
<line x1="377.8" x2="377.8" y1="113.3" y2="114.8" stroke="#8a8a8a" stroke-width="0.5"/>
<line x1="381" x2="381" y1="113.3" y2="114.8" stroke="#8a8a8a" stroke-width="0.5"/>
<line x1="383.5" x2="383.5" y1="113.3" y2="114.8" stroke="#8a8a8a" stroke-width="0.5"/>
<line x1="389.3" x2="389.3" y1="113.3" y2="114.8" stroke="#8a8a8a" stroke-width="0.5"/>
<rect x="351.6" y="8.5" width="44.2" height="10.2" fill="#fff" fill-opacity="0.85" stroke="#d4d4d4" stroke-width="0.4" rx="0.8"/>
<line x1="353.1" x2="360.6" y1="11.6" y2="11.6" stroke="#4550c8" stroke-width="0.6" stroke-dasharray="2,1"/>
<line x1="353.1" x2="360.6" y1="15.8" y2="15.8" stroke="#dccb62" stroke-width="0.7" stroke-dasharray="2,0.8"/>
<rect x="26.9" y="185" width="163.4" height="23" fill="#f3fdfb"/>
<rect x="45.4" y="195.8" width="3.6" height="7.2" fill="#fef5f8"/>
<line x1="27.4" x2="189.8" y1="149.6" y2="149.6" stroke="#dccb62" stroke-width="0.85" stroke-dasharray="2.2,0.7"/>
<line x1="27.4" x2="189.8" y1="247.1" y2="247.1" stroke="#dccb62" stroke-width="0.85" stroke-dasharray="2.2,0.7"/>
<path d="M27.4 198.8V198.68M27.71 198.8V197.11M28.03 198.8V198.29M28.34 198.8V198.89M28.65 198.8V198.90M28.96 198.8V197.90M29.28 198.8V197.59M29.59 198.8V199.46M29.90 198.8V200.86M30.22 198.8V201.79M30.53 198.8V200.52M30.84 198.8V200.08M31.15 198.8V199.54M31.47 198.8V198.86M31.78 198.8V199.35M32.09 198.8V201.69M32.41 198.8V202.09M32.72 198.8V199.01M33.03 198.8V198.48M33.35 198.8V199.05M33.66 198.8V197.57M33.97 198.8V198.48M34.28 198.8V199.92M34.60 198.8V199.42M34.91 198.8V201.54M35.22 198.8V201.59M35.54 198.8V197.72M35.85 198.8V201.39M36.16 198.8V197.94M36.47 198.8V200.95M36.79 198.8V200.08M37.10 198.8V200.31M37.41 198.8V199.66M37.73 198.8V198.77M38.04 198.8V196.80M38.35 198.8V196.57M38.66 198.8V198.29M38.98 198.8V196.41M39.29 198.8V197.90M39.60 198.8V198.61M39.92 198.8V196.03M40.23 198.8V199.90M40.54 198.8V199.54M40.86 198.8V198.69M41.17 198.8V198.31M41.48 198.8V197.30M41.79 198.8V195.53M42.11 198.8V196.48M42.42 198.8V196.63M42.73 198.8V198.48M43.05 198.8V199.72M43.36 198.8V200.63M43.67 198.8V198.28M43.98 198.8V199.10M44.30 198.8V198.87M44.61 198.8V197.74M44.92 198.8V198.46M45.24 198.8V198.69M45.55 198.8V196.96M45.86 198.8V197.65M46.17 198.8V199.24M46.49 198.8V200.07M46.80 198.8V200.00M47.11 198.8V201.45M47.43 198.8V201.62M47.74 198.8V202.1M48.05 198.8V201.95M48.36 198.8V201.00M48.68 198.8V201.09M48.99 198.8V198.67M49.30 198.8V198.69M49.62 198.8V199.05M49.93 198.8V199.26M50.24 198.8V198.17M50.56 198.8V197.95M50.87 198.8V197.09M51.18 198.8V198.46M51.49 198.8V197.58M51.81 198.8V197.70M52.12 198.8V198.87M52.43 198.8V197.77M52.75 198.8V199.23M53.06 198.8V199.84M53.37 198.8V199.48M53.68 198.8V198.71M54.00 198.8V197.80M54.31 198.8V197.88M54.62 198.8V199.46M54.94 198.8V198.85M55.25 198.8V199.82M55.56 198.8V200.48M55.87 198.8V198.99M56.19 198.8V195.79M56.50 198.8V197.20M56.81 198.8V200.92M57.13 198.8V198.58M57.44 198.8V198.76M57.75 198.8V201.25M58.07 198.8V200.31M58.38 198.8V198.41M58.69 198.8V199.51M59.00 198.8V199.72M59.32 198.8V197.62M59.63 198.8V199.35M59.94 198.8V197.70M60.26 198.8V199.25M60.57 198.8V198.51M60.88 198.8V197.69M61.19 198.8V200.88M61.51 198.8V198.25M61.82 198.8V198.57M62.13 198.8V196.10M62.45 198.8V197.96M62.76 198.8V197.69M63.07 198.8V197.15M63.38 198.8V195.95M63.70 198.8V197.30M64.01 198.8V198.20M64.32 198.8V197.51M64.64 198.8V197.84M64.95 198.8V199.62M65.26 198.8V198.53M65.57 198.8V198.03M65.89 198.8V198.18M66.20 198.8V195.97M66.51 198.8V197.79M66.83 198.8V198.75M67.14 198.8V197.74M67.45 198.8V199.32M67.77 198.8V199.70M68.08 198.8V198.07M68.39 198.8V197.27M68.70 198.8V197.32M69.02 198.8V197.67M69.33 198.8V197.98M69.64 198.8V199.63M69.96 198.8V200.36M70.27 198.8V199.06M70.58 198.8V200.68M70.89 198.8V198.78M71.21 198.8V200.74M71.52 198.8V200.22M71.83 198.8V201.90M72.15 198.8V199.15M72.46 198.8V197.13M72.77 198.8V199.34M73.08 198.8V197.37M73.40 198.8V196.42M73.71 198.8V197.10M74.02 198.8V199.81M74.34 198.8V197.93M74.65 198.8V197.32M74.96 198.8V198.00M75.28 198.8V198.79M75.59 198.8V198.20M75.90 198.8V199.06M76.21 198.8V197.12M76.53 198.8V196.23M76.84 198.8V195.88M77.15 198.8V197.84M77.47 198.8V198.15M77.78 198.8V200.02M78.09 198.8V199.43M78.40 198.8V202.1M78.72 198.8V202.1M79.03 198.8V201.71M79.34 198.8V200.26M79.66 198.8V197.73M79.97 198.8V199.14M80.28 198.8V198.01M80.59 198.8V197.08M80.91 198.8V197.17M81.22 198.8V198.00M81.53 198.8V199.17M81.85 198.8V199.71M82.16 198.8V200.64M82.47 198.8V199.13M82.78 198.8V199.41M83.10 198.8V197.75M83.41 198.8V199.06M83.72 198.8V198.53M84.04 198.8V197.72M84.35 198.8V198.63M84.66 198.8V197.85M84.98 198.8V198.90M85.29 198.8V196.90M85.60 198.8V198.73M85.91 198.8V199.29M86.23 198.8V200.31M86.54 198.8V199.39M86.85 198.8V200.08M87.17 198.8V197.42M87.48 198.8V199.85M87.79 198.8V199.10M88.10 198.8V198.23M88.42 198.8V200.01M88.73 198.8V198.59M89.04 198.8V199.72M89.36 198.8V200.18M89.67 198.8V199.30M89.98 198.8V200.53M90.29 198.8V202.1M90.61 198.8V200.32M90.92 198.8V198.63M91.23 198.8V196.96M91.55 198.8V200.04M91.86 198.8V199.95M92.17 198.8V198.12M92.49 198.8V196.40M92.80 198.8V196.25M93.11 198.8V199.23M93.42 198.8V199.96M93.74 198.8V200.76M94.05 198.8V199.19M94.36 198.8V197.75M94.68 198.8V198.64M94.99 198.8V199.02M95.30 198.8V197.01M95.61 198.8V197.41M95.93 198.8V198.42M96.24 198.8V198.31M96.55 198.8V200.72M96.87 198.8V201.09M97.18 198.8V201.88M97.49 198.8V198.46M97.80 198.8V199.10M98.12 198.8V200.16M98.43 198.8V199.43M98.74 198.8V199.87M99.06 198.8V199.67M99.37 198.8V198.06M99.68 198.8V195.97M99.99 198.8V196.73M100.31 198.8V198.06M100.62 198.8V199.78M100.93 198.8V200.24M101.25 198.8V199.83M101.56 198.8V198.57M101.87 198.8V198.64M102.19 198.8V200.34M102.50 198.8V199.70M102.81 198.8V197.98M103.12 198.8V199.37M103.44 198.8V199.11M103.75 198.8V199.61M104.06 198.8V198.06M104.38 198.8V199.95M104.69 198.8V197.36M105.00 198.8V197.57M105.31 198.8V197.81M105.63 198.8V197.97M105.94 198.8V197.61M106.25 198.8V197.34M106.57 198.8V200.05M106.88 198.8V200.11M107.19 198.8V198.95M107.50 198.8V198.58M107.82 198.8V197.75M108.13 198.8V197.38M108.44 198.8V200.67M108.76 198.8V201.36M109.07 198.8V200.64M109.38 198.8V200.14M109.70 198.8V200.48M110.01 198.8V201.32M110.32 198.8V201.31M110.63 198.8V200.85M110.95 198.8V201.11M111.26 198.8V199.40M111.57 198.8V197.60M111.89 198.8V199.06M112.20 198.8V200.05M112.51 198.8V198.88M112.82 198.8V199.28M113.14 198.8V197.87M113.45 198.8V197.95M113.76 198.8V201.28M114.08 198.8V200.77M114.39 198.8V200.02M114.70 198.8V200.07M115.01 198.8V197.59M115.33 198.8V199.11M115.64 198.8V197.90M115.95 198.8V201.17M116.27 198.8V199.92M116.58 198.8V200.86M116.89 198.8V199.06M117.21 198.8V198.52M117.52 198.8V199.17M117.83 198.8V200.52M118.14 198.8V200.15M118.46 198.8V198.11M118.77 198.8V197.28M119.08 198.8V195.51M119.40 198.8V198.26M119.71 198.8V197.37M120.02 198.8V197.20M120.33 198.8V197.98M120.65 198.8V199.22M120.96 198.8V198.80M121.27 198.8V199.45M121.59 198.8V198.68M121.90 198.8V198.00M122.21 198.8V197.08M122.52 198.8V199.20M122.84 198.8V198.57M123.15 198.8V199.76M123.46 198.8V198.53M123.78 198.8V198.55M124.09 198.8V198.11M124.40 198.8V199.32M124.71 198.8V199.89M125.03 198.8V199.49M125.34 198.8V200.18M125.65 198.8V198.49M125.97 198.8V199.09M126.28 198.8V198.22M126.59 198.8V200.19M126.91 198.8V200.91M127.22 198.8V202.1M127.53 198.8V200.33M127.84 198.8V199.46M128.16 198.8V197.34M128.47 198.8V197.44M128.78 198.8V196.66M129.10 198.8V197.97M129.41 198.8V198.07M129.72 198.8V198.56M130.03 198.8V198.15M130.35 198.8V198.66M130.66 198.8V197.76M130.97 198.8V197.43M131.29 198.8V197.39M131.60 198.8V198.44M131.91 198.8V197.78M132.22 198.8V199.70M132.54 198.8V200.06M132.85 198.8V198.95M133.16 198.8V198.97M133.48 198.8V198.10M133.79 198.8V198.76M134.10 198.8V200.03M134.42 198.8V199.48M134.73 198.8V199.41M135.04 198.8V199.37M135.35 198.8V199.61M135.67 198.8V200.87M135.98 198.8V201.92M136.29 198.8V198.68M136.61 198.8V200.01M136.92 198.8V198.23M137.23 198.8V197.94M137.54 198.8V198.94M137.86 198.8V199.13M138.17 198.8V198.94M138.48 198.8V198.46M138.80 198.8V198.80M139.11 198.8V198.90M139.42 198.8V198.54M139.73 198.8V197.03M140.05 198.8V199.73M140.36 198.8V200.66M140.67 198.8V199.50M140.99 198.8V198.68M141.30 198.8V195.5M141.61 198.8V196.59M141.92 198.8V196.45M142.24 198.8V196.88M142.55 198.8V199.23M142.86 198.8V200.25M143.18 198.8V200.53M143.49 198.8V198.21M143.80 198.8V197.61M144.12 198.8V199.71M144.43 198.8V200.66M144.74 198.8V200.08M145.05 198.8V200.29M145.37 198.8V198.31M145.68 198.8V198.68M145.99 198.8V200.10M146.31 198.8V199.18M146.62 198.8V197.81M146.93 198.8V198.80M147.24 198.8V198.57M147.56 198.8V196.79M147.87 198.8V198.67M148.18 198.8V201.03M148.50 198.8V201.86M148.81 198.8V197.67M149.12 198.8V199.14M149.43 198.8V198.77M149.75 198.8V200.10M150.06 198.8V200.24M150.37 198.8V196.60M150.69 198.8V197.89M151.00 198.8V199.41M151.31 198.8V197.03M151.63 198.8V197.37M151.94 198.8V199.29M152.25 198.8V197.27M152.56 198.8V197.16M152.88 198.8V197.32M153.19 198.8V196.80M153.50 198.8V195.99M153.82 198.8V195.5M154.13 198.8V197.12M154.44 198.8V198.51M154.75 198.8V197.31M155.07 198.8V199.67M155.38 198.8V197.28M155.69 198.8V196.25M156.01 198.8V199.06M156.32 198.8V198.87M156.63 198.8V199.01M156.94 198.8V199.67M157.26 198.8V199.41M157.57 198.8V198.92M157.88 198.8V200.30M158.20 198.8V199.21M158.51 198.8V199.05M158.82 198.8V200.00M159.13 198.8V198.91M159.45 198.8V197.92M159.76 198.8V197.74M160.07 198.8V199.15M160.39 198.8V198.48M160.70 198.8V199.99M161.01 198.8V200.80M161.33 198.8V199.79M161.64 198.8V198.59M161.95 198.8V201.14M162.26 198.8V200.11M162.58 198.8V199.34M162.89 198.8V198.86M163.20 198.8V197.62M163.52 198.8V199.02M163.83 198.8V198.22M164.14 198.8V200.13M164.45 198.8V199.07M164.77 198.8V198.21M165.08 198.8V199.78M165.39 198.8V199.68M165.71 198.8V198.77M166.02 198.8V200.13M166.33 198.8V200.09M166.64 198.8V198.00M166.96 198.8V196.99M167.27 198.8V200.55M167.58 198.8V201.14M167.90 198.8V200.71M168.21 198.8V200.48M168.52 198.8V202.1M168.84 198.8V201.68M169.15 198.8V199.11M169.46 198.8V199.49M169.77 198.8V199.81M170.09 198.8V201.12M170.40 198.8V198.33M170.71 198.8V195.60M171.03 198.8V198.16M171.34 198.8V198.62M171.65 198.8V198.03M171.96 198.8V197.59M172.28 198.8V197.75M172.59 198.8V200.39M172.90 198.8V199.94M173.22 198.8V199.32M173.53 198.8V199.18M173.84 198.8V198.06M174.15 198.8V198.00M174.47 198.8V198.79M174.78 198.8V198.91M175.09 198.8V197.11M175.41 198.8V195.74M175.72 198.8V198.12M176.03 198.8V200.13M176.34 198.8V199.42M176.66 198.8V199.92M176.97 198.8V199.07M177.28 198.8V199.22M177.60 198.8V199.47M177.91 198.8V198.72M178.22 198.8V198.89M178.54 198.8V198.17M178.85 198.8V200.22M179.16 198.8V197.20M179.47 198.8V195.5M179.79 198.8V197.99M180.10 198.8V200.34M180.41 198.8V197.04M180.73 198.8V198.03M181.04 198.8V198.16M181.35 198.8V198.15M181.66 198.8V200.12M181.98 198.8V200.96M182.29 198.8V199.31M182.60 198.8V201.56M182.92 198.8V201.87M183.23 198.8V197.91M183.54 198.8V198.92M183.85 198.8V198.73M184.17 198.8V198.36M184.48 198.8V198.13M184.79 198.8V198.93M185.11 198.8V197.77M185.42 198.8V202.1M185.73 198.8V200.42M186.05 198.8V200.18M186.36 198.8V198.42M186.67 198.8V197.21M186.98 198.8V198.80M187.30 198.8V197.99M187.61 198.8V195.5M187.92 198.8V197.46M188.24 198.8V198.95M188.55 198.8V195.5M188.86 198.8V199.21M189.17 198.8V199.02M189.49 198.8V199.59M189.8 198.8V195.87" stroke="#587a62" stroke-width="0.5" fill="none"/>
<path d="M28.03 198.8V197.28M29.59 198.8V200.78M33.03 198.8V197.84M33.35 198.8V199.54M35.85 198.8V206.57M38.35 198.8V192.11M38.98 198.8V191.62M40.86 198.8V198.46M41.48 198.8V194.29M45.86 198.8V195.36M46.80 198.8V202.40M47.11 198.8V206.75M50.24 198.8V196.92M50.87 198.8V193.68M52.43 198.8V195.71M52.75 198.8V200.08M54.31 198.8V196.05M55.87 198.8V199.38M57.13 198.8V198.15M58.07 198.8V203.34M58.38 198.8V197.62M59.00 198.8V201.56M59.94 198.8V195.49M65.26 198.8V197.98M65.57 198.8V196.48M65.89 198.8V196.95M66.20 198.8V190.32M67.45 198.8V200.37M70.89 198.8V198.75M71.21 198.8V204.63M74.34 198.8V196.18M74.65 198.8V194.36M74.96 198.8V196.40M75.28 198.8V198.76M75.59 198.8V196.99M77.15 198.8V195.93M77.78 198.8V202.46M78.09 198.8V200.69M78.72 198.8V208.7M79.03 198.8V207.54M82.47 198.8V199.79M83.72 198.8V197.99M85.60 198.8V198.60M85.91 198.8V200.26M86.23 198.8V203.33M86.85 198.8V202.63M89.36 198.8V202.94M90.29 198.8V208.7M90.61 198.8V203.37M92.17 198.8V196.76M93.11 198.8V200.09M93.74 198.8V204.68M94.68 198.8V198.31M94.99 198.8V199.45M97.80 198.8V199.69M99.68 198.8V190.30M101.25 198.8V201.89M102.81 198.8V196.34M104.38 198.8V202.24M106.57 198.8V202.54M107.82 198.8V195.65M110.01 198.8V206.37M111.26 198.8V200.60M113.14 198.8V196.02M113.45 198.8V196.26M116.27 198.8V202.17M116.58 198.8V204.97M116.89 198.8V199.58M119.71 198.8V194.52M120.33 198.8V196.35M120.65 198.8V200.06M120.96 198.8V198.79M121.27 198.8V200.74M121.59 198.8V198.43M121.90 198.8V196.39M122.21 198.8V193.65M122.84 198.8V198.12M123.15 198.8V201.68M124.09 198.8V196.73M124.40 198.8V200.35M124.71 198.8V202.07M125.65 198.8V197.86M126.59 198.8V202.98M127.22 198.8V208.7M127.53 198.8V203.40M127.84 198.8V200.78M128.47 198.8V194.73M134.10 198.8V202.48M135.04 198.8V200.50M137.23 198.8V196.22M137.54 198.8V199.22M138.17 198.8V199.23M138.80 198.8V198.80M140.36 198.8V204.38M140.99 198.8V198.43M141.30 198.8V188.9M141.92 198.8V191.74M143.49 198.8V197.03M144.12 198.8V201.52M144.74 198.8V202.65M145.05 198.8V203.27M146.93 198.8V198.80M147.24 198.8V198.11M150.06 198.8V203.12M150.37 198.8V192.19M152.88 198.8V194.36M154.13 198.8V193.76M156.01 198.8V199.59M156.32 198.8V199.00M156.94 198.8V201.40M157.26 198.8V200.62M158.20 198.8V200.02M158.51 198.8V199.55M158.82 198.8V202.40M159.45 198.8V196.17M160.07 198.8V199.84M166.02 198.8V202.80M167.27 198.8V204.05M168.21 198.8V203.83M169.77 198.8V201.84M171.96 198.8V195.18M172.28 198.8V195.64M174.47 198.8V198.76M175.09 198.8V193.74M175.72 198.8V196.77M176.03 198.8V202.79M176.34 198.8V200.65M178.22 198.8V199.07M178.54 198.8V196.91M178.85 198.8V203.05M179.16 198.8V194.00M179.79 198.8V196.38M182.29 198.8V200.34M182.92 198.8V208.00M183.23 198.8V196.13M184.48 198.8V196.80M188.55 198.8V188.9" stroke="#3c5c47" stroke-width="0.55" fill="none"/>
<path d="M28.5 198.8V186.5M31.5 198.8V191M35.5 198.8V191M49.5 198.8V187.6M62.5 198.8V191.5M71.5 198.8V190.6M78.5 198.8V186.1M85.5 198.8V179.3M98.5 198.8V174.8M99.5 198.8V178.7M106.5 198.8V189.4M28.5 198.8V202.2M30.5 198.8V205.1M43.5 198.8V211.9M50.5 198.8V203.8M60.5 198.8V236.6M83.5 198.8V209.6M88.5 198.8V216.8M90.5 198.8V232.1M97.5 198.8V207.4M107.5 198.8V188.8M114.5 198.8V181M121.5 198.8V172.3M125.5 198.8V187.2M128.5 198.8V187.7M130.5 198.8V162M133.5 198.8V185.8M138.5 198.8V180.1M141.5 198.8V185.8M150.5 198.8V191.9M160.5 198.8V188.1M167.5 198.8V187.2M180.5 198.8V183.4M183.5 198.8V177M187.5 198.8V181.7M188.5 198.8V176.3M118.5 198.8V210.9M122.5 198.8V233.9M131.5 198.8V212.5M134.5 198.8V236.2M140.5 198.8V208.5M142.5 198.8V238.1M153.5 198.8V213.2M165.5 198.8V209.5M172.5 198.8V206.6M187.5 198.8V209.5M189.5 198.8V224.4" stroke="#3c5c47" stroke-width="0.8" fill="none"/>
<path d="M47.5 198.8V200" stroke="#b86c52" stroke-width="0.7" fill="none"/>
<path d="M27.4 198.68L27.71 197.11L28.03 198.29L28.34 198.89L28.65 198.90L28.96 197.90L29.28 197.59L29.59 199.46L29.90 200.86L30.22 201.79L30.53 200.52L30.84 200.08L31.15 199.54L31.47 198.86L31.78 199.35L32.09 201.69L32.41 202.09L32.72 199.01L33.03 198.48L33.35 199.05L33.66 197.57L33.97 198.48L34.28 199.92L34.60 199.42L34.91 201.54L35.22 201.59L35.54 197.72L35.85 201.39L36.16 197.94L36.47 200.95L36.79 200.08L37.10 200.31L37.41 199.66L37.73 198.77L38.04 196.80L38.35 196.57L38.66 198.29L38.98 196.41L39.29 197.90L39.60 198.61L39.92 196.03L40.23 199.90L40.54 199.54L40.86 198.69L41.17 198.31L41.48 197.30L41.79 195.53L42.11 196.48L42.42 196.63L42.73 198.48L43.05 199.72L43.36 200.63L43.67 198.28L43.98 199.10L44.30 198.87L44.61 197.74L44.92 198.46L45.24 198.69L45.55 196.96L45.86 197.65L46.17 199.24L46.49 200.07L46.80 200.00L47.11 201.45L47.43 201.62L47.74 202.1L48.05 201.95L48.36 201.00L48.68 201.09L48.99 198.67L49.30 198.69L49.62 199.05L49.93 199.26L50.24 198.17L50.56 197.95L50.87 197.09L51.18 198.46L51.49 197.58L51.81 197.70L52.12 198.87L52.43 197.77L52.75 199.23L53.06 199.84L53.37 199.48L53.68 198.71L54.00 197.80L54.31 197.88L54.62 199.46L54.94 198.85L55.25 199.82L55.56 200.48L55.87 198.99L56.19 195.79L56.50 197.20L56.81 200.92L57.13 198.58L57.44 198.76L57.75 201.25L58.07 200.31L58.38 198.41L58.69 199.51L59.00 199.72L59.32 197.62L59.63 199.35L59.94 197.70L60.26 199.25L60.57 198.51L60.88 197.69L61.19 200.88L61.51 198.25L61.82 198.57L62.13 196.10L62.45 197.96L62.76 197.69L63.07 197.15L63.38 195.95L63.70 197.30L64.01 198.20L64.32 197.51L64.64 197.84L64.95 199.62L65.26 198.53L65.57 198.03L65.89 198.18L66.20 195.97L66.51 197.79L66.83 198.75L67.14 197.74L67.45 199.32L67.77 199.70L68.08 198.07L68.39 197.27L68.70 197.32L69.02 197.67L69.33 197.98L69.64 199.63L69.96 200.36L70.27 199.06L70.58 200.68L70.89 198.78L71.21 200.74L71.52 200.22L71.83 201.90L72.15 199.15L72.46 197.13L72.77 199.34L73.08 197.37L73.40 196.42L73.71 197.10L74.02 199.81L74.34 197.93L74.65 197.32L74.96 198.00L75.28 198.79L75.59 198.20L75.90 199.06L76.21 197.12L76.53 196.23L76.84 195.88L77.15 197.84L77.47 198.15L77.78 200.02L78.09 199.43L78.40 202.1L78.72 202.1L79.03 201.71L79.34 200.26L79.66 197.73L79.97 199.14L80.28 198.01L80.59 197.08L80.91 197.17L81.22 198.00L81.53 199.17L81.85 199.71L82.16 200.64L82.47 199.13L82.78 199.41L83.10 197.75L83.41 199.06L83.72 198.53L84.04 197.72L84.35 198.63L84.66 197.85L84.98 198.90L85.29 196.90L85.60 198.73L85.91 199.29L86.23 200.31L86.54 199.39L86.85 200.08L87.17 197.42L87.48 199.85L87.79 199.10L88.10 198.23L88.42 200.01L88.73 198.59L89.04 199.72L89.36 200.18L89.67 199.30L89.98 200.53L90.29 202.1L90.61 200.32L90.92 198.63L91.23 196.96L91.55 200.04L91.86 199.95L92.17 198.12L92.49 196.40L92.80 196.25L93.11 199.23L93.42 199.96L93.74 200.76L94.05 199.19L94.36 197.75L94.68 198.64L94.99 199.02L95.30 197.01L95.61 197.41L95.93 198.42L96.24 198.31L96.55 200.72L96.87 201.09L97.18 201.88L97.49 198.46L97.80 199.10L98.12 200.16L98.43 199.43L98.74 199.87L99.06 199.67L99.37 198.06L99.68 195.97L99.99 196.73L100.31 198.06L100.62 199.78L100.93 200.24L101.25 199.83L101.56 198.57L101.87 198.64L102.19 200.34L102.50 199.70L102.81 197.98L103.12 199.37L103.44 199.11L103.75 199.61L104.06 198.06L104.38 199.95L104.69 197.36L105.00 197.57L105.31 197.81L105.63 197.97L105.94 197.61L106.25 197.34L106.57 200.05L106.88 200.11L107.19 198.95L107.50 198.58L107.82 197.75L108.13 197.38L108.44 200.67L108.76 201.36L109.07 200.64L109.38 200.14L109.70 200.48L110.01 201.32L110.32 201.31L110.63 200.85L110.95 201.11L111.26 199.40L111.57 197.60L111.89 199.06L112.20 200.05L112.51 198.88L112.82 199.28L113.14 197.87L113.45 197.95L113.76 201.28L114.08 200.77L114.39 200.02L114.70 200.07L115.01 197.59L115.33 199.11L115.64 197.90L115.95 201.17L116.27 199.92L116.58 200.86L116.89 199.06L117.21 198.52L117.52 199.17L117.83 200.52L118.14 200.15L118.46 198.11L118.77 197.28L119.08 195.51L119.40 198.26L119.71 197.37L120.02 197.20L120.33 197.98L120.65 199.22L120.96 198.80L121.27 199.45L121.59 198.68L121.90 198.00L122.21 197.08L122.52 199.20L122.84 198.57L123.15 199.76L123.46 198.53L123.78 198.55L124.09 198.11L124.40 199.32L124.71 199.89L125.03 199.49L125.34 200.18L125.65 198.49L125.97 199.09L126.28 198.22L126.59 200.19L126.91 200.91L127.22 202.1L127.53 200.33L127.84 199.46L128.16 197.34L128.47 197.44L128.78 196.66L129.10 197.97L129.41 198.07L129.72 198.56L130.03 198.15L130.35 198.66L130.66 197.76L130.97 197.43L131.29 197.39L131.60 198.44L131.91 197.78L132.22 199.70L132.54 200.06L132.85 198.95L133.16 198.97L133.48 198.10L133.79 198.76L134.10 200.03L134.42 199.48L134.73 199.41L135.04 199.37L135.35 199.61L135.67 200.87L135.98 201.92L136.29 198.68L136.61 200.01L136.92 198.23L137.23 197.94L137.54 198.94L137.86 199.13L138.17 198.94L138.48 198.46L138.80 198.80L139.11 198.90L139.42 198.54L139.73 197.03L140.05 199.73L140.36 200.66L140.67 199.50L140.99 198.68L141.30 195.5L141.61 196.59L141.92 196.45L142.24 196.88L142.55 199.23L142.86 200.25L143.18 200.53L143.49 198.21L143.80 197.61L144.12 199.71L144.43 200.66L144.74 200.08L145.05 200.29L145.37 198.31L145.68 198.68L145.99 200.10L146.31 199.18L146.62 197.81L146.93 198.80L147.24 198.57L147.56 196.79L147.87 198.67L148.18 201.03L148.50 201.86L148.81 197.67L149.12 199.14L149.43 198.77L149.75 200.10L150.06 200.24L150.37 196.60L150.69 197.89L151.00 199.41L151.31 197.03L151.63 197.37L151.94 199.29L152.25 197.27L152.56 197.16L152.88 197.32L153.19 196.80L153.50 195.99L153.82 195.5L154.13 197.12L154.44 198.51L154.75 197.31L155.07 199.67L155.38 197.28L155.69 196.25L156.01 199.06L156.32 198.87L156.63 199.01L156.94 199.67L157.26 199.41L157.57 198.92L157.88 200.30L158.20 199.21L158.51 199.05L158.82 200.00L159.13 198.91L159.45 197.92L159.76 197.74L160.07 199.15L160.39 198.48L160.70 199.99L161.01 200.80L161.33 199.79L161.64 198.59L161.95 201.14L162.26 200.11L162.58 199.34L162.89 198.86L163.20 197.62L163.52 199.02L163.83 198.22L164.14 200.13L164.45 199.07L164.77 198.21L165.08 199.78L165.39 199.68L165.71 198.77L166.02 200.13L166.33 200.09L166.64 198.00L166.96 196.99L167.27 200.55L167.58 201.14L167.90 200.71L168.21 200.48L168.52 202.1L168.84 201.68L169.15 199.11L169.46 199.49L169.77 199.81L170.09 201.12L170.40 198.33L170.71 195.60L171.03 198.16L171.34 198.62L171.65 198.03L171.96 197.59L172.28 197.75L172.59 200.39L172.90 199.94L173.22 199.32L173.53 199.18L173.84 198.06L174.15 198.00L174.47 198.79L174.78 198.91L175.09 197.11L175.41 195.74L175.72 198.12L176.03 200.13L176.34 199.42L176.66 199.92L176.97 199.07L177.28 199.22L177.60 199.47L177.91 198.72L178.22 198.89L178.54 198.17L178.85 200.22L179.16 197.20L179.47 195.5L179.79 197.99L180.10 200.34L180.41 197.04L180.73 198.03L181.04 198.16L181.35 198.15L181.66 200.12L181.98 200.96L182.29 199.31L182.60 201.56L182.92 201.87L183.23 197.91L183.54 198.92L183.85 198.73L184.17 198.36L184.48 198.13L184.79 198.93L185.11 197.77L185.42 202.1L185.73 200.42L186.05 200.18L186.36 198.42L186.67 197.21L186.98 198.80L187.30 197.99L187.61 195.5L187.92 197.46L188.24 198.95L188.55 195.5L188.86 199.21L189.17 199.02L189.49 199.59L189.8 195.87" fill="none" stroke="#2c8743" stroke-width="1.3" stroke-linejoin="round"/>
<path d="M27.4 198.68h0M27.71 197.11h0M28.03 198.29h0M28.34 198.89h0M28.65 198.90h0M28.96 197.90h0M29.28 197.59h0M29.59 199.46h0M29.90 200.86h0M30.22 201.79h0M30.53 200.52h0M30.84 200.08h0M31.15 199.54h0M31.47 198.86h0M31.78 199.35h0M32.09 201.69h0M32.41 202.09h0M32.72 199.01h0M33.03 198.48h0M33.35 199.05h0M33.66 197.57h0M33.97 198.48h0M34.28 199.92h0M34.60 199.42h0M34.91 201.54h0M35.22 201.59h0M35.54 197.72h0M35.85 201.39h0M36.16 197.94h0M36.47 200.95h0M36.79 200.08h0M37.10 200.31h0M37.41 199.66h0M37.73 198.77h0M38.04 196.80h0M38.35 196.57h0M38.66 198.29h0M38.98 196.41h0M39.29 197.90h0M39.60 198.61h0M39.92 196.03h0M40.23 199.90h0M40.54 199.54h0M40.86 198.69h0M41.17 198.31h0M41.48 197.30h0M41.79 195.53h0M42.11 196.48h0M42.42 196.63h0M42.73 198.48h0M43.05 199.72h0M43.36 200.63h0M43.67 198.28h0M43.98 199.10h0M44.30 198.87h0M44.61 197.74h0M44.92 198.46h0M45.24 198.69h0M45.55 196.96h0M45.86 197.65h0M46.17 199.24h0M46.49 200.07h0M46.80 200.00h0M47.11 201.45h0M47.43 201.62h0M47.74 202.1h0M48.05 201.95h0M48.36 201.00h0M48.68 201.09h0M48.99 198.67h0M49.30 198.69h0M49.62 199.05h0M49.93 199.26h0M50.24 198.17h0M50.56 197.95h0M50.87 197.09h0M51.18 198.46h0M51.49 197.58h0M51.81 197.70h0M52.12 198.87h0M52.43 197.77h0M52.75 199.23h0M53.06 199.84h0M53.37 199.48h0M53.68 198.71h0M54.00 197.80h0M54.31 197.88h0M54.62 199.46h0M54.94 198.85h0M55.25 199.82h0M55.56 200.48h0M55.87 198.99h0M56.19 195.79h0M56.50 197.20h0M56.81 200.92h0M57.13 198.58h0M57.44 198.76h0M57.75 201.25h0M58.07 200.31h0M58.38 198.41h0M58.69 199.51h0M59.00 199.72h0M59.32 197.62h0M59.63 199.35h0M59.94 197.70h0M60.26 199.25h0M60.57 198.51h0M60.88 197.69h0M61.19 200.88h0M61.51 198.25h0M61.82 198.57h0M62.13 196.10h0M62.45 197.96h0M62.76 197.69h0M63.07 197.15h0M63.38 195.95h0M63.70 197.30h0M64.01 198.20h0M64.32 197.51h0M64.64 197.84h0M64.95 199.62h0M65.26 198.53h0M65.57 198.03h0M65.89 198.18h0M66.20 195.97h0M66.51 197.79h0M66.83 198.75h0M67.14 197.74h0M67.45 199.32h0M67.77 199.70h0M68.08 198.07h0M68.39 197.27h0M68.70 197.32h0M69.02 197.67h0M69.33 197.98h0M69.64 199.63h0M69.96 200.36h0M70.27 199.06h0M70.58 200.68h0M70.89 198.78h0M71.21 200.74h0M71.52 200.22h0M71.83 201.90h0M72.15 199.15h0M72.46 197.13h0M72.77 199.34h0M73.08 197.37h0M73.40 196.42h0M73.71 197.10h0M74.02 199.81h0M74.34 197.93h0M74.65 197.32h0M74.96 198.00h0M75.28 198.79h0M75.59 198.20h0M75.90 199.06h0M76.21 197.12h0M76.53 196.23h0M76.84 195.88h0M77.15 197.84h0M77.47 198.15h0M77.78 200.02h0M78.09 199.43h0M78.40 202.1h0M78.72 202.1h0M79.03 201.71h0M79.34 200.26h0M79.66 197.73h0M79.97 199.14h0M80.28 198.01h0M80.59 197.08h0M80.91 197.17h0M81.22 198.00h0M81.53 199.17h0M81.85 199.71h0M82.16 200.64h0M82.47 199.13h0M82.78 199.41h0M83.10 197.75h0M83.41 199.06h0M83.72 198.53h0M84.04 197.72h0M84.35 198.63h0M84.66 197.85h0M84.98 198.90h0M85.29 196.90h0M85.60 198.73h0M85.91 199.29h0M86.23 200.31h0M86.54 199.39h0M86.85 200.08h0M87.17 197.42h0M87.48 199.85h0M87.79 199.10h0M88.10 198.23h0M88.42 200.01h0M88.73 198.59h0M89.04 199.72h0M89.36 200.18h0M89.67 199.30h0M89.98 200.53h0M90.29 202.1h0M90.61 200.32h0M90.92 198.63h0M91.23 196.96h0M91.55 200.04h0M91.86 199.95h0M92.17 198.12h0M92.49 196.40h0M92.80 196.25h0M93.11 199.23h0M93.42 199.96h0M93.74 200.76h0M94.05 199.19h0M94.36 197.75h0M94.68 198.64h0M94.99 199.02h0M95.30 197.01h0M95.61 197.41h0M95.93 198.42h0M96.24 198.31h0M96.55 200.72h0M96.87 201.09h0M97.18 201.88h0M97.49 198.46h0M97.80 199.10h0M98.12 200.16h0M98.43 199.43h0M98.74 199.87h0M99.06 199.67h0M99.37 198.06h0M99.68 195.97h0M99.99 196.73h0M100.31 198.06h0M100.62 199.78h0M100.93 200.24h0M101.25 199.83h0M101.56 198.57h0M101.87 198.64h0M102.19 200.34h0M102.50 199.70h0M102.81 197.98h0M103.12 199.37h0M103.44 199.11h0M103.75 199.61h0M104.06 198.06h0M104.38 199.95h0M104.69 197.36h0M105.00 197.57h0M105.31 197.81h0M105.63 197.97h0M105.94 197.61h0M106.25 197.34h0M106.57 200.05h0M106.88 200.11h0M107.19 198.95h0M107.50 198.58h0M107.82 197.75h0M108.13 197.38h0M108.44 200.67h0M108.76 201.36h0M109.07 200.64h0M109.38 200.14h0M109.70 200.48h0M110.01 201.32h0M110.32 201.31h0M110.63 200.85h0M110.95 201.11h0M111.26 199.40h0M111.57 197.60h0M111.89 199.06h0M112.20 200.05h0M112.51 198.88h0M112.82 199.28h0M113.14 197.87h0M113.45 197.95h0M113.76 201.28h0M114.08 200.77h0M114.39 200.02h0M114.70 200.07h0M115.01 197.59h0M115.33 199.11h0M115.64 197.90h0M115.95 201.17h0M116.27 199.92h0M116.58 200.86h0M116.89 199.06h0M117.21 198.52h0M117.52 199.17h0M117.83 200.52h0M118.14 200.15h0M118.46 198.11h0M118.77 197.28h0M119.08 195.51h0M119.40 198.26h0M119.71 197.37h0M120.02 197.20h0M120.33 197.98h0M120.65 199.22h0M120.96 198.80h0M121.27 199.45h0M121.59 198.68h0M121.90 198.00h0M122.21 197.08h0M122.52 199.20h0M122.84 198.57h0M123.15 199.76h0M123.46 198.53h0M123.78 198.55h0M124.09 198.11h0M124.40 199.32h0M124.71 199.89h0M125.03 199.49h0M125.34 200.18h0M125.65 198.49h0M125.97 199.09h0M126.28 198.22h0M126.59 200.19h0M126.91 200.91h0M127.22 202.1h0M127.53 200.33h0M127.84 199.46h0M128.16 197.34h0M128.47 197.44h0M128.78 196.66h0M129.10 197.97h0M129.41 198.07h0M129.72 198.56h0M130.03 198.15h0M130.35 198.66h0M130.66 197.76h0M130.97 197.43h0M131.29 197.39h0M131.60 198.44h0M131.91 197.78h0M132.22 199.70h0M132.54 200.06h0M132.85 198.95h0M133.16 198.97h0M133.48 198.10h0M133.79 198.76h0M134.10 200.03h0M134.42 199.48h0M134.73 199.41h0M135.04 199.37h0M135.35 199.61h0M135.67 200.87h0M135.98 201.92h0M136.29 198.68h0M136.61 200.01h0M136.92 198.23h0M137.23 197.94h0M137.54 198.94h0M137.86 199.13h0M138.17 198.94h0M138.48 198.46h0M138.80 198.80h0M139.11 198.90h0M139.42 198.54h0M139.73 197.03h0M140.05 199.73h0M140.36 200.66h0M140.67 199.50h0M140.99 198.68h0M141.30 195.5h0M141.61 196.59h0M141.92 196.45h0M142.24 196.88h0M142.55 199.23h0M142.86 200.25h0M143.18 200.53h0M143.49 198.21h0M143.80 197.61h0M144.12 199.71h0M144.43 200.66h0M144.74 200.08h0M145.05 200.29h0M145.37 198.31h0M145.68 198.68h0M145.99 200.10h0M146.31 199.18h0M146.62 197.81h0M146.93 198.80h0M147.24 198.57h0M147.56 196.79h0M147.87 198.67h0M148.18 201.03h0M148.50 201.86h0M148.81 197.67h0M149.12 199.14h0M149.43 198.77h0M149.75 200.10h0M150.06 200.24h0M150.37 196.60h0M150.69 197.89h0M151.00 199.41h0M151.31 197.03h0M151.63 197.37h0M151.94 199.29h0M152.25 197.27h0M152.56 197.16h0M152.88 197.32h0M153.19 196.80h0M153.50 195.99h0M153.82 195.5h0M154.13 197.12h0M154.44 198.51h0M154.75 197.31h0M155.07 199.67h0M155.38 197.28h0M155.69 196.25h0M156.01 199.06h0M156.32 198.87h0M156.63 199.01h0M156.94 199.67h0M157.26 199.41h0M157.57 198.92h0M157.88 200.30h0M158.20 199.21h0M158.51 199.05h0M158.82 200.00h0M159.13 198.91h0M159.45 197.92h0M159.76 197.74h0M160.07 199.15h0M160.39 198.48h0M160.70 199.99h0M161.01 200.80h0M161.33 199.79h0M161.64 198.59h0M161.95 201.14h0M162.26 200.11h0M162.58 199.34h0M162.89 198.86h0M163.20 197.62h0M163.52 199.02h0M163.83 198.22h0M164.14 200.13h0M164.45 199.07h0M164.77 198.21h0M165.08 199.78h0M165.39 199.68h0M165.71 198.77h0M166.02 200.13h0M166.33 200.09h0M166.64 198.00h0M166.96 196.99h0M167.27 200.55h0M167.58 201.14h0M167.90 200.71h0M168.21 200.48h0M168.52 202.1h0M168.84 201.68h0M169.15 199.11h0M169.46 199.49h0M169.77 199.81h0M170.09 201.12h0M170.40 198.33h0M170.71 195.60h0M171.03 198.16h0M171.34 198.62h0M171.65 198.03h0M171.96 197.59h0M172.28 197.75h0M172.59 200.39h0M172.90 199.94h0M173.22 199.32h0M173.53 199.18h0M173.84 198.06h0M174.15 198.00h0M174.47 198.79h0M174.78 198.91h0M175.09 197.11h0M175.41 195.74h0M175.72 198.12h0M176.03 200.13h0M176.34 199.42h0M176.66 199.92h0M176.97 199.07h0M177.28 199.22h0M177.60 199.47h0M177.91 198.72h0M178.22 198.89h0M178.54 198.17h0M178.85 200.22h0M179.16 197.20h0M179.47 195.5h0M179.79 197.99h0M180.10 200.34h0M180.41 197.04h0M180.73 198.03h0M181.04 198.16h0M181.35 198.15h0M181.66 200.12h0M181.98 200.96h0M182.29 199.31h0M182.60 201.56h0M182.92 201.87h0M183.23 197.91h0M183.54 198.92h0M183.85 198.73h0M184.17 198.36h0M184.48 198.13h0M184.79 198.93h0M185.11 197.77h0M185.42 202.1h0M185.73 200.42h0M186.05 200.18h0M186.36 198.42h0M186.67 197.21h0M186.98 198.80h0M187.30 197.99h0M187.61 195.5h0M187.92 197.46h0M188.24 198.95h0M188.55 195.5h0M188.86 199.21h0M189.17 199.02h0M189.49 199.59h0M189.8 195.87h0" stroke="#2d5537" stroke-width="1.6" stroke-linecap="round" fill="none"/>
<path d="M28.5 186.5h0M31.5 191h0M35.5 191h0M49.5 187.6h0M62.5 191.5h0M71.5 190.6h0M78.5 186.1h0M85.5 179.3h0M98.5 174.8h0M99.5 178.7h0M106.5 189.4h0M28.5 202.2h0M30.5 205.1h0M43.5 211.9h0M50.5 203.8h0M60.5 236.6h0M83.5 209.6h0M88.5 216.8h0M90.5 232.1h0M97.5 207.4h0M107.5 188.8h0M114.5 181h0M121.5 172.3h0M125.5 187.2h0M128.5 187.7h0M130.5 162h0M133.5 185.8h0M138.5 180.1h0M141.5 185.8h0M150.5 191.9h0M160.5 188.1h0M167.5 187.2h0M180.5 183.4h0M183.5 177h0M187.5 181.7h0M188.5 176.3h0M118.5 210.9h0M122.5 233.9h0M131.5 212.5h0M134.5 236.2h0M140.5 208.5h0M142.5 238.1h0M153.5 213.2h0M165.5 209.5h0M172.5 206.6h0M187.5 209.5h0M189.5 224.4h0M28.03 197.28h0M29.59 200.78h0M33.03 197.84h0M33.35 199.54h0M35.85 206.57h0M38.35 192.11h0M38.98 191.62h0M40.86 198.46h0M41.48 194.29h0M45.86 195.36h0M46.80 202.40h0M47.11 206.75h0M50.24 196.92h0M50.87 193.68h0M52.43 195.71h0M52.75 200.08h0M54.31 196.05h0M55.87 199.38h0M57.13 198.15h0M58.07 203.34h0M58.38 197.62h0M59.00 201.56h0M59.94 195.49h0M65.26 197.98h0M65.57 196.48h0M65.89 196.95h0M66.20 190.32h0M67.45 200.37h0M70.89 198.75h0M71.21 204.63h0M74.34 196.18h0M74.65 194.36h0M74.96 196.40h0M75.28 198.76h0M75.59 196.99h0M77.15 195.93h0M77.78 202.46h0M78.09 200.69h0M78.72 208.7h0M79.03 207.54h0M82.47 199.79h0M83.72 197.99h0M85.60 198.60h0M85.91 200.26h0M86.23 203.33h0M86.85 202.63h0M89.36 202.94h0M90.29 208.7h0M90.61 203.37h0M92.17 196.76h0M93.11 200.09h0M93.74 204.68h0M94.68 198.31h0M94.99 199.45h0M97.80 199.69h0M99.68 190.30h0M101.25 201.89h0M102.81 196.34h0M104.38 202.24h0M106.57 202.54h0M107.82 195.65h0M110.01 206.37h0M111.26 200.60h0M113.14 196.02h0M113.45 196.26h0M116.27 202.17h0M116.58 204.97h0M116.89 199.58h0M119.71 194.52h0M120.33 196.35h0M120.65 200.06h0M120.96 198.79h0M121.27 200.74h0M121.59 198.43h0M121.90 196.39h0M122.21 193.65h0M122.84 198.12h0M123.15 201.68h0M124.09 196.73h0M124.40 200.35h0M124.71 202.07h0M125.65 197.86h0M126.59 202.98h0M127.22 208.7h0M127.53 203.40h0M127.84 200.78h0M128.47 194.73h0M134.10 202.48h0M135.04 200.50h0M137.23 196.22h0M137.54 199.22h0M138.17 199.23h0M138.80 198.80h0M140.36 204.38h0M140.99 198.43h0M141.30 188.9h0M141.92 191.74h0M143.49 197.03h0M144.12 201.52h0M144.74 202.65h0M145.05 203.27h0M146.93 198.80h0M147.24 198.11h0M150.06 203.12h0M150.37 192.19h0M152.88 194.36h0M154.13 193.76h0M156.01 199.59h0M156.32 199.00h0M156.94 201.40h0M157.26 200.62h0M158.20 200.02h0M158.51 199.55h0M158.82 202.40h0M159.45 196.17h0M160.07 199.84h0M166.02 202.80h0M167.27 204.05h0M168.21 203.83h0M169.77 201.84h0M171.96 195.18h0M172.28 195.64h0M174.47 198.76h0M175.09 193.74h0M175.72 196.77h0M176.03 202.79h0M176.34 200.65h0M178.22 199.07h0M178.54 196.91h0M178.85 203.05h0M179.16 194.00h0M179.79 196.38h0M182.29 200.34h0M182.92 208.00h0M183.23 196.13h0M184.48 196.80h0M188.55 188.9h0" stroke="#27402e" stroke-width="1.9" stroke-linecap="round" fill="none"/>
<path d="M47.5 200h0" stroke="#5a2a22" stroke-width="1.9" stroke-linecap="round" fill="none"/>
<line x1="176.8" x2="176.8" y1="162" y2="238.1" stroke="#4550c8" stroke-width="0.6" stroke-dasharray="1.4,0.9"/>
<line x1="189.6" x2="189.6" y1="162" y2="238.1" stroke="#4550c8" stroke-width="0.6" stroke-dasharray="1.4,0.9"/>
<rect x="19.6" y="145.4" width="178.4" height="106.3" fill="none" stroke="#8a8a8a" stroke-width="0.95"/>
<line x1="18" x2="19.6" y1="147.8" y2="147.8" stroke="#8a8a8a" stroke-width="0.5"/>
<line x1="18" x2="19.6" y1="164.68" y2="164.68" stroke="#8a8a8a" stroke-width="0.5"/>
<line x1="18" x2="19.6" y1="181.57" y2="181.57" stroke="#8a8a8a" stroke-width="0.5"/>
<line x1="18" x2="19.6" y1="198.45" y2="198.45" stroke="#8a8a8a" stroke-width="0.5"/>
<line x1="18" x2="19.6" y1="215.33" y2="215.33" stroke="#8a8a8a" stroke-width="0.5"/>
<line x1="18" x2="19.6" y1="232.22" y2="232.22" stroke="#8a8a8a" stroke-width="0.5"/>
<line x1="18" x2="19.6" y1="249.1" y2="249.1" stroke="#8a8a8a" stroke-width="0.5"/>
<line x1="27" x2="27" y1="251.7" y2="253.2" stroke="#8a8a8a" stroke-width="0.5"/>
<line x1="31.5" x2="31.5" y1="251.7" y2="253.2" stroke="#8a8a8a" stroke-width="0.5"/>
<line x1="33.3" x2="33.3" y1="251.7" y2="253.2" stroke="#8a8a8a" stroke-width="0.5"/>
<line x1="42.7" x2="42.7" y1="251.7" y2="253.2" stroke="#8a8a8a" stroke-width="0.5"/>
<line x1="44.5" x2="44.5" y1="251.7" y2="253.2" stroke="#8a8a8a" stroke-width="0.5"/>
<line x1="46.7" x2="46.7" y1="251.7" y2="253.2" stroke="#8a8a8a" stroke-width="0.5"/>
<line x1="50.5" x2="50.5" y1="251.7" y2="253.2" stroke="#8a8a8a" stroke-width="0.5"/>
<line x1="55" x2="55" y1="251.7" y2="253.2" stroke="#8a8a8a" stroke-width="0.5"/>
<line x1="58.4" x2="58.4" y1="251.7" y2="253.2" stroke="#8a8a8a" stroke-width="0.5"/>
<line x1="62.4" x2="62.4" y1="251.7" y2="253.2" stroke="#8a8a8a" stroke-width="0.5"/>
<line x1="69.2" x2="69.2" y1="251.7" y2="253.2" stroke="#8a8a8a" stroke-width="0.5"/>
<line x1="71.4" x2="71.4" y1="251.7" y2="253.2" stroke="#8a8a8a" stroke-width="0.5"/>
<line x1="75.2" x2="75.2" y1="251.7" y2="253.2" stroke="#8a8a8a" stroke-width="0.5"/>
<line x1="80.8" x2="80.8" y1="251.7" y2="253.2" stroke="#8a8a8a" stroke-width="0.5"/>
<line x1="83.5" x2="83.5" y1="251.7" y2="253.2" stroke="#8a8a8a" stroke-width="0.5"/>
<line x1="94.3" x2="94.3" y1="251.7" y2="253.2" stroke="#8a8a8a" stroke-width="0.5"/>
<line x1="101.5" x2="101.5" y1="251.7" y2="253.2" stroke="#8a8a8a" stroke-width="0.5"/>
<line x1="103.3" x2="103.3" y1="251.7" y2="253.2" stroke="#8a8a8a" stroke-width="0.5"/>
<line x1="107.8" x2="107.8" y1="251.7" y2="253.2" stroke="#8a8a8a" stroke-width="0.5"/>
<line x1="109.3" x2="109.3" y1="251.7" y2="253.2" stroke="#8a8a8a" stroke-width="0.5"/>
<line x1="119.2" x2="119.2" y1="251.7" y2="253.2" stroke="#8a8a8a" stroke-width="0.5"/>
<line x1="128.7" x2="128.7" y1="251.7" y2="253.2" stroke="#8a8a8a" stroke-width="0.5"/>
<line x1="133.4" x2="133.4" y1="251.7" y2="253.2" stroke="#8a8a8a" stroke-width="0.5"/>
<line x1="152.4" x2="152.4" y1="251.7" y2="253.2" stroke="#8a8a8a" stroke-width="0.5"/>
<line x1="165.4" x2="165.4" y1="251.7" y2="253.2" stroke="#8a8a8a" stroke-width="0.5"/>
<line x1="170.2" x2="170.2" y1="251.7" y2="253.2" stroke="#8a8a8a" stroke-width="0.5"/>
<line x1="175.6" x2="175.6" y1="251.7" y2="253.2" stroke="#8a8a8a" stroke-width="0.5"/>
<line x1="177.3" x2="177.3" y1="251.7" y2="253.2" stroke="#8a8a8a" stroke-width="0.5"/>
<line x1="187.9" x2="187.9" y1="251.7" y2="253.2" stroke="#8a8a8a" stroke-width="0.5"/>
<line x1="189.1" x2="189.1" y1="251.7" y2="253.2" stroke="#8a8a8a" stroke-width="0.5"/>
<rect x="152.2" y="146.3" width="44.2" height="10.2" fill="#fff" fill-opacity="0.85" stroke="#d4d4d4" stroke-width="0.4" rx="0.8"/>
<line x1="153.7" x2="161.2" y1="149.4" y2="149.4" stroke="#4550c8" stroke-width="0.6" stroke-dasharray="2,1"/>
<line x1="153.7" x2="161.2" y1="153.6" y2="153.6" stroke="#dccb62" stroke-width="0.7" stroke-dasharray="2,0.8"/>
<rect x="226.2" y="192.6" width="164.3" height="13.9" fill="#e0faf4"/>
<line x1="226.7" x2="390" y1="149.9" y2="149.9" stroke="#dccb62" stroke-width="0.85" stroke-dasharray="2.2,0.7"/>
<line x1="226.7" x2="390" y1="247.1" y2="247.1" stroke="#dccb62" stroke-width="0.85" stroke-dasharray="2.2,0.7"/>
<path d="M226.7 198.4V198.36M227.03 198.4V197.87M227.35 198.4V197.13M227.68 198.4V197.32M228.01 198.4V197.79M228.34 198.4V198.86M228.66 198.4V198.39M228.99 198.4V197.94M229.32 198.4V197.24M229.65 198.4V199.54M229.97 198.4V199.53M230.30 198.4V197.55M230.63 198.4V197.64M230.95 198.4V198.34M231.28 198.4V199.04M231.61 198.4V198.75M231.94 198.4V196.59M232.26 198.4V198.36M232.59 198.4V197.19M232.92 198.4V198.56M233.25 198.4V199.60M233.57 198.4V199.06M233.90 198.4V198.24M234.23 198.4V197.54M234.55 198.4V196.51M234.88 198.4V197.02M235.21 198.4V198.69M235.54 198.4V198.36M235.86 198.4V199.00M236.19 198.4V198.32M236.52 198.4V199.47M236.84 198.4V197.52M237.17 198.4V197.55M237.50 198.4V198.26M237.83 198.4V198.19M238.15 198.4V199.78M238.48 198.4V198.56M238.81 198.4V197.40M239.14 198.4V195.76M239.46 198.4V198.72M239.79 198.4V197.67M240.12 198.4V197.93M240.44 198.4V200.36M240.77 198.4V198.00M241.10 198.4V198.39M241.43 198.4V197.71M241.75 198.4V200.09M242.08 198.4V197.37M242.41 198.4V197.25M242.74 198.4V197.64M243.06 198.4V198.14M243.39 198.4V197.80M243.72 198.4V198.00M244.04 198.4V197.83M244.37 198.4V198.39M244.70 198.4V198.95M245.03 198.4V198.65M245.35 198.4V195.65M245.68 198.4V196.42M246.01 198.4V198.51M246.34 198.4V198.40M246.66 198.4V197.29M246.99 198.4V197.82M247.32 198.4V195.84M247.64 198.4V196.31M247.97 198.4V197.19M248.30 198.4V197.54M248.63 198.4V195.80M248.95 198.4V195.84M249.28 198.4V197.73M249.61 198.4V196.78M249.94 198.4V198.51M250.26 198.4V198.93M250.59 198.4V198.65M250.92 198.4V196.54M251.24 198.4V198.92M251.57 198.4V198.18M251.90 198.4V199.77M252.23 198.4V200.01M252.55 198.4V200.57M252.88 198.4V199.07M253.21 198.4V198.85M253.53 198.4V198.79M253.86 198.4V198.88M254.19 198.4V197.06M254.52 198.4V198.05M254.84 198.4V199.15M255.17 198.4V199.83M255.50 198.4V199.10M255.83 198.4V198.66M256.15 198.4V198.15M256.48 198.4V198.65M256.81 198.4V197.54M257.13 198.4V198.92M257.46 198.4V199.12M257.79 198.4V199.61M258.12 198.4V200.31M258.44 198.4V199.12M258.77 198.4V199.80M259.10 198.4V199.80M259.43 198.4V198.44M259.75 198.4V197.63M260.08 198.4V195.96M260.41 198.4V197.04M260.73 198.4V198.74M261.06 198.4V198.86M261.39 198.4V198.50M261.72 198.4V197.21M262.04 198.4V196.67M262.37 198.4V196.54M262.70 198.4V199.43M263.03 198.4V198.05M263.35 198.4V197.70M263.68 198.4V198.54M264.01 198.4V200.18M264.33 198.4V198.38M264.66 198.4V198.12M264.99 198.4V197.71M265.32 198.4V200.32M265.64 198.4V199.97M265.97 198.4V199.70M266.30 198.4V197.79M266.63 198.4V198.52M266.95 198.4V198.42M267.28 198.4V199.56M267.61 198.4V197.53M267.93 198.4V198.63M268.26 198.4V199.84M268.59 198.4V201.15M268.92 198.4V199.44M269.24 198.4V198.58M269.57 198.4V199.94M269.90 198.4V199.03M270.22 198.4V199.73M270.55 198.4V198.54M270.88 198.4V198.17M271.21 198.4V197.43M271.53 198.4V198.52M271.86 198.4V198.81M272.19 198.4V198.93M272.52 198.4V197.99M272.84 198.4V196.77M273.17 198.4V197.37M273.50 198.4V197.85M273.82 198.4V197.51M274.15 198.4V199.82M274.48 198.4V200.20M274.81 198.4V199.94M275.13 198.4V198.99M275.46 198.4V201.15M275.79 198.4V200.78M276.12 198.4V201.15M276.44 198.4V200.60M276.77 198.4V197.15M277.10 198.4V196.43M277.42 198.4V198.43M277.75 198.4V199.12M278.08 198.4V197.41M278.41 198.4V198.79M278.73 198.4V197.95M279.06 198.4V198.33M279.39 198.4V198.27M279.72 198.4V198.86M280.04 198.4V200.03M280.37 198.4V199.67M280.70 198.4V199.47M281.02 198.4V196.51M281.35 198.4V197.64M281.68 198.4V197.32M282.01 198.4V197.41M282.33 198.4V196.44M282.66 198.4V198.59M282.99 198.4V199.30M283.32 198.4V196.34M283.64 198.4V197.95M283.97 198.4V199.41M284.30 198.4V199.53M284.62 198.4V199.06M284.95 198.4V198.95M285.28 198.4V198.17M285.61 198.4V198.84M285.93 198.4V196.41M286.26 198.4V198.91M286.59 198.4V200.87M286.91 198.4V201.15M287.24 198.4V200.40M287.57 198.4V200.03M287.90 198.4V199.22M288.22 198.4V198.21M288.55 198.4V198.04M288.88 198.4V199.49M289.21 198.4V197.91M289.53 198.4V199.02M289.86 198.4V197.97M290.19 198.4V195.65M290.51 198.4V196.60M290.84 198.4V196.33M291.17 198.4V199.01M291.50 198.4V200.41M291.82 198.4V199.15M292.15 198.4V197.08M292.48 198.4V197.78M292.81 198.4V199.61M293.13 198.4V197.57M293.46 198.4V196.81M293.79 198.4V196.67M294.11 198.4V198.93M294.44 198.4V200.50M294.77 198.4V200.01M295.10 198.4V199.82M295.42 198.4V199.92M295.75 198.4V197.01M296.08 198.4V196.55M296.41 198.4V199.45M296.73 198.4V199.84M297.06 198.4V200.52M297.39 198.4V198.46M297.71 198.4V198.51M298.04 198.4V199.81M298.37 198.4V199.09M298.70 198.4V198.62M299.02 198.4V198.11M299.35 198.4V198.43M299.68 198.4V198.93M300.01 198.4V198.71M300.33 198.4V198.56M300.66 198.4V198.63M300.99 198.4V198.66M301.31 198.4V199.13M301.64 198.4V198.68M301.97 198.4V198.56M302.30 198.4V200.47M302.62 198.4V199.66M302.95 198.4V199.20M303.28 198.4V198.75M303.60 198.4V200.73M303.93 198.4V199.16M304.26 198.4V200.42M304.59 198.4V197.16M304.91 198.4V197.53M305.24 198.4V197.92M305.57 198.4V199.27M305.90 198.4V199.49M306.22 198.4V197.58M306.55 198.4V197.16M306.88 198.4V197.62M307.20 198.4V196.78M307.53 198.4V196.24M307.86 198.4V197.08M308.19 198.4V197.33M308.51 198.4V198.98M308.84 198.4V200.68M309.17 198.4V200.18M309.50 198.4V198.28M309.82 198.4V198.27M310.15 198.4V196.25M310.48 198.4V197.73M310.80 198.4V196.72M311.13 198.4V195.70M311.46 198.4V196.09M311.79 198.4V195.65M312.11 198.4V196.60M312.44 198.4V196.56M312.77 198.4V197.27M313.10 198.4V198.64M313.42 198.4V199.16M313.75 198.4V198.19M314.08 198.4V195.65M314.40 198.4V196.66M314.73 198.4V197.58M315.06 198.4V199.02M315.39 198.4V200.52M315.71 198.4V198.66M316.04 198.4V197.59M316.37 198.4V199.15M316.69 198.4V197.42M317.02 198.4V197.30M317.35 198.4V197.70M317.68 198.4V198.69M318.00 198.4V198.86M318.33 198.4V199.74M318.66 198.4V197.79M318.99 198.4V199.86M319.31 198.4V196.64M319.64 198.4V196.79M319.97 198.4V195.71M320.29 198.4V197.37M320.62 198.4V197.88M320.95 198.4V198.60M321.28 198.4V198.13M321.60 198.4V198.99M321.93 198.4V197.77M322.26 198.4V197.72M322.59 198.4V199.78M322.91 198.4V199.48M323.24 198.4V197.61M323.57 198.4V196.70M323.89 198.4V197.77M324.22 198.4V199.27M324.55 198.4V199.69M324.88 198.4V200.84M325.20 198.4V198.87M325.53 198.4V198.27M325.86 198.4V197.53M326.19 198.4V198.40M326.51 198.4V198.90M326.84 198.4V201.15M327.17 198.4V200.59M327.49 198.4V200.18M327.82 198.4V198.13M328.15 198.4V197.80M328.48 198.4V198.64M328.80 198.4V197.44M329.13 198.4V198.90M329.46 198.4V199.00M329.79 198.4V200.12M330.11 198.4V198.95M330.44 198.4V198.99M330.77 198.4V199.77M331.09 198.4V199.91M331.42 198.4V201.15M331.75 198.4V199.52M332.08 198.4V199.29M332.40 198.4V197.22M332.73 198.4V198.08M333.06 198.4V197.15M333.38 198.4V196.51M333.71 198.4V199.12M334.04 198.4V197.76M334.37 198.4V197.53M334.69 198.4V196.44M335.02 198.4V199.64M335.35 198.4V196.89M335.68 198.4V198.85M336.00 198.4V197.73M336.33 198.4V198.04M336.66 198.4V196.93M336.98 198.4V196.81M337.31 198.4V198.97M337.64 198.4V198.78M337.97 198.4V199.13M338.29 198.4V198.54M338.62 198.4V198.91M338.95 198.4V197.78M339.28 198.4V196.95M339.60 198.4V196.62M339.93 198.4V196.49M340.26 198.4V195.90M340.58 198.4V197.49M340.91 198.4V196.98M341.24 198.4V198.49M341.57 198.4V198.63M341.89 198.4V200.08M342.22 198.4V199.07M342.55 198.4V199.38M342.88 198.4V199.19M343.20 198.4V199.21M343.53 198.4V201.15M343.86 198.4V200.25M344.18 198.4V198.43M344.51 198.4V198.10M344.84 198.4V197.05M345.17 198.4V198.21M345.49 198.4V199.11M345.82 198.4V199.73M346.15 198.4V197.26M346.48 198.4V197.55M346.80 198.4V197.98M347.13 198.4V196.61M347.46 198.4V197.48M347.78 198.4V197.86M348.11 198.4V195.65M348.44 198.4V198.49M348.77 198.4V197.81M349.09 198.4V197.98M349.42 198.4V198.66M349.75 198.4V197.38M350.07 198.4V197.94M350.40 198.4V197.19M350.73 198.4V197.95M351.06 198.4V197.15M351.38 198.4V197.77M351.71 198.4V200.62M352.04 198.4V199.35M352.37 198.4V199.23M352.69 198.4V198.53M353.02 198.4V197.59M353.35 198.4V197.84M353.67 198.4V198.26M354.00 198.4V200.15M354.33 198.4V200.37M354.66 198.4V201.15M354.98 198.4V197.94M355.31 198.4V196.70M355.64 198.4V196.72M355.97 198.4V199.05M356.29 198.4V197.70M356.62 198.4V199.03M356.95 198.4V198.93M357.27 198.4V197.71M357.60 198.4V199.17M357.93 198.4V199.96M358.26 198.4V201.15M358.58 198.4V199.59M358.91 198.4V200.81M359.24 198.4V198.58M359.57 198.4V196.81M359.89 198.4V197.48M360.22 198.4V197.99M360.55 198.4V199.07M360.87 198.4V198.90M361.20 198.4V196.94M361.53 198.4V195.83M361.86 198.4V197.40M362.18 198.4V196.29M362.51 198.4V198.12M362.84 198.4V198.19M363.17 198.4V200.20M363.49 198.4V199.70M363.82 198.4V199.78M364.15 198.4V199.49M364.47 198.4V199.48M364.80 198.4V198.31M365.13 198.4V199.03M365.46 198.4V198.63M365.78 198.4V199.14M366.11 198.4V199.54M366.44 198.4V199.36M366.76 198.4V200.49M367.09 198.4V198.82M367.42 198.4V198.49M367.75 198.4V198.82M368.07 198.4V197.90M368.40 198.4V198.13M368.73 198.4V197.03M369.06 198.4V197.60M369.38 198.4V199.50M369.71 198.4V199.74M370.04 198.4V199.43M370.36 198.4V199.32M370.69 198.4V198.23M371.02 198.4V199.06M371.35 198.4V199.28M371.67 198.4V198.35M372.00 198.4V198.69M372.33 198.4V198.28M372.66 198.4V196.89M372.98 198.4V199.15M373.31 198.4V199.10M373.64 198.4V199.85M373.96 198.4V198.65M374.29 198.4V198.15M374.62 198.4V197.40M374.95 198.4V198.90M375.27 198.4V199.40M375.60 198.4V199.22M375.93 198.4V197.72M376.26 198.4V198.01M376.58 198.4V198.77M376.91 198.4V196.17M377.24 198.4V196.83M377.56 198.4V200.11M377.89 198.4V200.30M378.22 198.4V198.49M378.55 198.4V197.60M378.87 198.4V195.92M379.20 198.4V197.31M379.53 198.4V197.44M379.86 198.4V198.78M380.18 198.4V198.75M380.51 198.4V197.82M380.84 198.4V196.28M381.16 198.4V197.24M381.49 198.4V197.88M381.82 198.4V197.48M382.15 198.4V196.87M382.47 198.4V197.81M382.80 198.4V198.79M383.13 198.4V197.66M383.45 198.4V196.44M383.78 198.4V197.00M384.11 198.4V196.00M384.44 198.4V196.74M384.76 198.4V197.09M385.09 198.4V197.24M385.42 198.4V198.89M385.75 198.4V199.31M386.07 198.4V200.55M386.40 198.4V199.51M386.73 198.4V198.43M387.05 198.4V196.43M387.38 198.4V198.81M387.71 198.4V198.16M388.04 198.4V198.38M388.36 198.4V199.58M388.69 198.4V199.88M389.02 198.4V198.66M389.35 198.4V197.58M389.67 198.4V198.75M390 198.4V199.36" stroke="#587a62" stroke-width="0.5" fill="none"/>
<path d="M227.03 198.4V196.93M228.66 198.4V198.37M229.65 198.4V201.60M231.61 198.4V199.37M234.23 198.4V195.98M235.54 198.4V198.30M237.17 198.4V196.02M238.48 198.4V198.86M241.43 198.4V196.48M242.08 198.4V195.53M243.72 198.4V197.28M244.04 198.4V196.82M244.37 198.4V198.37M245.03 198.4V199.10M246.34 198.4V198.39M247.97 198.4V195.01M248.30 198.4V195.99M248.63 198.4V191.12M250.26 198.4V199.89M253.86 198.4V199.74M254.19 198.4V194.66M254.52 198.4V197.41M255.83 198.4V199.14M257.13 198.4V199.86M258.12 198.4V203.75M258.44 198.4V200.41M260.41 198.4V194.60M261.72 198.4V195.06M263.03 198.4V197.42M264.01 198.4V203.38M265.64 198.4V202.79M269.57 198.4V202.71M270.22 198.4V202.14M270.88 198.4V197.76M274.15 198.4V202.37M275.13 198.4V200.04M279.06 198.4V198.20M280.37 198.4V201.94M282.33 198.4V192.90M282.99 198.4V200.91M284.30 198.4V201.57M284.62 198.4V200.25M284.95 198.4V199.95M289.53 198.4V200.12M290.19 198.4V190.7M290.51 198.4V193.36M291.50 198.4V204.02M294.44 198.4V204.29M297.39 198.4V198.55M300.99 198.4V199.12M304.26 198.4V204.05M307.20 198.4V193.87M307.86 198.4V194.71M308.84 198.4V204.77M309.50 198.4V198.08M309.82 198.4V198.02M311.13 198.4V190.83M311.79 198.4V190.7M312.11 198.4V193.35M313.42 198.4V200.54M315.06 198.4V200.12M315.39 198.4V204.34M317.02 198.4V195.32M318.66 198.4V196.69M318.99 198.4V202.50M319.31 198.4V193.47M321.60 198.4V200.06M321.93 198.4V196.64M322.59 198.4V202.25M323.57 198.4V193.64M324.55 198.4V202.03M324.88 198.4V205.23M325.20 198.4V199.72M328.48 198.4V199.09M329.13 198.4V199.79M329.46 198.4V200.08M331.09 198.4V202.63M331.42 198.4V206.1M332.73 198.4V197.49M333.38 198.4V193.10M335.02 198.4V201.89M335.68 198.4V199.66M337.64 198.4V199.45M337.97 198.4V200.43M339.28 198.4V194.33M341.57 198.4V199.04M345.82 198.4V202.12M346.15 198.4V195.20M346.48 198.4V196.01M348.77 198.4V196.76M349.09 198.4V197.23M349.42 198.4V199.14M352.69 198.4V198.76M353.02 198.4V196.13M356.95 198.4V199.87M357.93 198.4V202.76M358.91 198.4V205.16M360.22 198.4V197.24M363.82 198.4V202.25M364.15 198.4V201.46M364.80 198.4V198.15M366.11 198.4V201.60M366.44 198.4V201.09M367.75 198.4V199.58M368.40 198.4V197.63M370.36 198.4V200.99M373.96 198.4V199.11M376.91 198.4V192.16M378.87 198.4V191.44M379.53 198.4V195.71M383.45 198.4V192.92M388.36 198.4V201.72M389.02 198.4V199.13M389.67 198.4V199.39" stroke="#3c5c47" stroke-width="0.55" fill="none"/>
<path d="M239.5 198.4V187.6M238.5 198.4V193.2M248.5 198.4V192.6M252.5 198.4V177.1M254.5 198.4V189.9M258.5 198.4V193.9M272.5 198.4V175.3M276.5 198.4V174.2M280.5 198.4V193.2M285.5 198.4V182.7M298.5 198.4V194.8M240.5 198.4V203.8M244.5 198.4V209.4M251.5 198.4V204.5M255.5 198.4V205.6M259.5 198.4V206M264.5 198.4V207.4M273.5 198.4V210.8M281.5 198.4V205.1M291.5 198.4V215M294.5 198.4V206.7M301.5 198.4V217.3M315.5 198.4V190.7M320.5 198.4V194.3M326.5 198.4V190.7M328.5 198.4V192.4M331.5 198.4V193.6M333.5 198.4V189.5M360.5 198.4V173.4M374.5 198.4V190.5M387.5 198.4V178.9M388.5 198.4V185.8M312.5 198.4V207.1M323.5 198.4V207.1M332.5 198.4V202.3M335.5 198.4V205.4M347.5 198.4V207.1M362.5 198.4V202.6M365.5 198.4V209.5M369.5 198.4V203M387.5 198.4V211.4M389.5 198.4V236.2" stroke="#3c5c47" stroke-width="0.8" fill="none"/>
<path d="" stroke="#b86c52" stroke-width="0.7" fill="none"/>
<path d="M226.7 198.36L227.03 197.87L227.35 197.13L227.68 197.32L228.01 197.79L228.34 198.86L228.66 198.39L228.99 197.94L229.32 197.24L229.65 199.54L229.97 199.53L230.30 197.55L230.63 197.64L230.95 198.34L231.28 199.04L231.61 198.75L231.94 196.59L232.26 198.36L232.59 197.19L232.92 198.56L233.25 199.60L233.57 199.06L233.90 198.24L234.23 197.54L234.55 196.51L234.88 197.02L235.21 198.69L235.54 198.36L235.86 199.00L236.19 198.32L236.52 199.47L236.84 197.52L237.17 197.55L237.50 198.26L237.83 198.19L238.15 199.78L238.48 198.56L238.81 197.40L239.14 195.76L239.46 198.72L239.79 197.67L240.12 197.93L240.44 200.36L240.77 198.00L241.10 198.39L241.43 197.71L241.75 200.09L242.08 197.37L242.41 197.25L242.74 197.64L243.06 198.14L243.39 197.80L243.72 198.00L244.04 197.83L244.37 198.39L244.70 198.95L245.03 198.65L245.35 195.65L245.68 196.42L246.01 198.51L246.34 198.40L246.66 197.29L246.99 197.82L247.32 195.84L247.64 196.31L247.97 197.19L248.30 197.54L248.63 195.80L248.95 195.84L249.28 197.73L249.61 196.78L249.94 198.51L250.26 198.93L250.59 198.65L250.92 196.54L251.24 198.92L251.57 198.18L251.90 199.77L252.23 200.01L252.55 200.57L252.88 199.07L253.21 198.85L253.53 198.79L253.86 198.88L254.19 197.06L254.52 198.05L254.84 199.15L255.17 199.83L255.50 199.10L255.83 198.66L256.15 198.15L256.48 198.65L256.81 197.54L257.13 198.92L257.46 199.12L257.79 199.61L258.12 200.31L258.44 199.12L258.77 199.80L259.10 199.80L259.43 198.44L259.75 197.63L260.08 195.96L260.41 197.04L260.73 198.74L261.06 198.86L261.39 198.50L261.72 197.21L262.04 196.67L262.37 196.54L262.70 199.43L263.03 198.05L263.35 197.70L263.68 198.54L264.01 200.18L264.33 198.38L264.66 198.12L264.99 197.71L265.32 200.32L265.64 199.97L265.97 199.70L266.30 197.79L266.63 198.52L266.95 198.42L267.28 199.56L267.61 197.53L267.93 198.63L268.26 199.84L268.59 201.15L268.92 199.44L269.24 198.58L269.57 199.94L269.90 199.03L270.22 199.73L270.55 198.54L270.88 198.17L271.21 197.43L271.53 198.52L271.86 198.81L272.19 198.93L272.52 197.99L272.84 196.77L273.17 197.37L273.50 197.85L273.82 197.51L274.15 199.82L274.48 200.20L274.81 199.94L275.13 198.99L275.46 201.15L275.79 200.78L276.12 201.15L276.44 200.60L276.77 197.15L277.10 196.43L277.42 198.43L277.75 199.12L278.08 197.41L278.41 198.79L278.73 197.95L279.06 198.33L279.39 198.27L279.72 198.86L280.04 200.03L280.37 199.67L280.70 199.47L281.02 196.51L281.35 197.64L281.68 197.32L282.01 197.41L282.33 196.44L282.66 198.59L282.99 199.30L283.32 196.34L283.64 197.95L283.97 199.41L284.30 199.53L284.62 199.06L284.95 198.95L285.28 198.17L285.61 198.84L285.93 196.41L286.26 198.91L286.59 200.87L286.91 201.15L287.24 200.40L287.57 200.03L287.90 199.22L288.22 198.21L288.55 198.04L288.88 199.49L289.21 197.91L289.53 199.02L289.86 197.97L290.19 195.65L290.51 196.60L290.84 196.33L291.17 199.01L291.50 200.41L291.82 199.15L292.15 197.08L292.48 197.78L292.81 199.61L293.13 197.57L293.46 196.81L293.79 196.67L294.11 198.93L294.44 200.50L294.77 200.01L295.10 199.82L295.42 199.92L295.75 197.01L296.08 196.55L296.41 199.45L296.73 199.84L297.06 200.52L297.39 198.46L297.71 198.51L298.04 199.81L298.37 199.09L298.70 198.62L299.02 198.11L299.35 198.43L299.68 198.93L300.01 198.71L300.33 198.56L300.66 198.63L300.99 198.66L301.31 199.13L301.64 198.68L301.97 198.56L302.30 200.47L302.62 199.66L302.95 199.20L303.28 198.75L303.60 200.73L303.93 199.16L304.26 200.42L304.59 197.16L304.91 197.53L305.24 197.92L305.57 199.27L305.90 199.49L306.22 197.58L306.55 197.16L306.88 197.62L307.20 196.78L307.53 196.24L307.86 197.08L308.19 197.33L308.51 198.98L308.84 200.68L309.17 200.18L309.50 198.28L309.82 198.27L310.15 196.25L310.48 197.73L310.80 196.72L311.13 195.70L311.46 196.09L311.79 195.65L312.11 196.60L312.44 196.56L312.77 197.27L313.10 198.64L313.42 199.16L313.75 198.19L314.08 195.65L314.40 196.66L314.73 197.58L315.06 199.02L315.39 200.52L315.71 198.66L316.04 197.59L316.37 199.15L316.69 197.42L317.02 197.30L317.35 197.70L317.68 198.69L318.00 198.86L318.33 199.74L318.66 197.79L318.99 199.86L319.31 196.64L319.64 196.79L319.97 195.71L320.29 197.37L320.62 197.88L320.95 198.60L321.28 198.13L321.60 198.99L321.93 197.77L322.26 197.72L322.59 199.78L322.91 199.48L323.24 197.61L323.57 196.70L323.89 197.77L324.22 199.27L324.55 199.69L324.88 200.84L325.20 198.87L325.53 198.27L325.86 197.53L326.19 198.40L326.51 198.90L326.84 201.15L327.17 200.59L327.49 200.18L327.82 198.13L328.15 197.80L328.48 198.64L328.80 197.44L329.13 198.90L329.46 199.00L329.79 200.12L330.11 198.95L330.44 198.99L330.77 199.77L331.09 199.91L331.42 201.15L331.75 199.52L332.08 199.29L332.40 197.22L332.73 198.08L333.06 197.15L333.38 196.51L333.71 199.12L334.04 197.76L334.37 197.53L334.69 196.44L335.02 199.64L335.35 196.89L335.68 198.85L336.00 197.73L336.33 198.04L336.66 196.93L336.98 196.81L337.31 198.97L337.64 198.78L337.97 199.13L338.29 198.54L338.62 198.91L338.95 197.78L339.28 196.95L339.60 196.62L339.93 196.49L340.26 195.90L340.58 197.49L340.91 196.98L341.24 198.49L341.57 198.63L341.89 200.08L342.22 199.07L342.55 199.38L342.88 199.19L343.20 199.21L343.53 201.15L343.86 200.25L344.18 198.43L344.51 198.10L344.84 197.05L345.17 198.21L345.49 199.11L345.82 199.73L346.15 197.26L346.48 197.55L346.80 197.98L347.13 196.61L347.46 197.48L347.78 197.86L348.11 195.65L348.44 198.49L348.77 197.81L349.09 197.98L349.42 198.66L349.75 197.38L350.07 197.94L350.40 197.19L350.73 197.95L351.06 197.15L351.38 197.77L351.71 200.62L352.04 199.35L352.37 199.23L352.69 198.53L353.02 197.59L353.35 197.84L353.67 198.26L354.00 200.15L354.33 200.37L354.66 201.15L354.98 197.94L355.31 196.70L355.64 196.72L355.97 199.05L356.29 197.70L356.62 199.03L356.95 198.93L357.27 197.71L357.60 199.17L357.93 199.96L358.26 201.15L358.58 199.59L358.91 200.81L359.24 198.58L359.57 196.81L359.89 197.48L360.22 197.99L360.55 199.07L360.87 198.90L361.20 196.94L361.53 195.83L361.86 197.40L362.18 196.29L362.51 198.12L362.84 198.19L363.17 200.20L363.49 199.70L363.82 199.78L364.15 199.49L364.47 199.48L364.80 198.31L365.13 199.03L365.46 198.63L365.78 199.14L366.11 199.54L366.44 199.36L366.76 200.49L367.09 198.82L367.42 198.49L367.75 198.82L368.07 197.90L368.40 198.13L368.73 197.03L369.06 197.60L369.38 199.50L369.71 199.74L370.04 199.43L370.36 199.32L370.69 198.23L371.02 199.06L371.35 199.28L371.67 198.35L372.00 198.69L372.33 198.28L372.66 196.89L372.98 199.15L373.31 199.10L373.64 199.85L373.96 198.65L374.29 198.15L374.62 197.40L374.95 198.90L375.27 199.40L375.60 199.22L375.93 197.72L376.26 198.01L376.58 198.77L376.91 196.17L377.24 196.83L377.56 200.11L377.89 200.30L378.22 198.49L378.55 197.60L378.87 195.92L379.20 197.31L379.53 197.44L379.86 198.78L380.18 198.75L380.51 197.82L380.84 196.28L381.16 197.24L381.49 197.88L381.82 197.48L382.15 196.87L382.47 197.81L382.80 198.79L383.13 197.66L383.45 196.44L383.78 197.00L384.11 196.00L384.44 196.74L384.76 197.09L385.09 197.24L385.42 198.89L385.75 199.31L386.07 200.55L386.40 199.51L386.73 198.43L387.05 196.43L387.38 198.81L387.71 198.16L388.04 198.38L388.36 199.58L388.69 199.88L389.02 198.66L389.35 197.58L389.67 198.75L390 199.36" fill="none" stroke="#2c8743" stroke-width="1.3" stroke-linejoin="round"/>
<path d="M226.7 198.36h0M227.03 197.87h0M227.35 197.13h0M227.68 197.32h0M228.01 197.79h0M228.34 198.86h0M228.66 198.39h0M228.99 197.94h0M229.32 197.24h0M229.65 199.54h0M229.97 199.53h0M230.30 197.55h0M230.63 197.64h0M230.95 198.34h0M231.28 199.04h0M231.61 198.75h0M231.94 196.59h0M232.26 198.36h0M232.59 197.19h0M232.92 198.56h0M233.25 199.60h0M233.57 199.06h0M233.90 198.24h0M234.23 197.54h0M234.55 196.51h0M234.88 197.02h0M235.21 198.69h0M235.54 198.36h0M235.86 199.00h0M236.19 198.32h0M236.52 199.47h0M236.84 197.52h0M237.17 197.55h0M237.50 198.26h0M237.83 198.19h0M238.15 199.78h0M238.48 198.56h0M238.81 197.40h0M239.14 195.76h0M239.46 198.72h0M239.79 197.67h0M240.12 197.93h0M240.44 200.36h0M240.77 198.00h0M241.10 198.39h0M241.43 197.71h0M241.75 200.09h0M242.08 197.37h0M242.41 197.25h0M242.74 197.64h0M243.06 198.14h0M243.39 197.80h0M243.72 198.00h0M244.04 197.83h0M244.37 198.39h0M244.70 198.95h0M245.03 198.65h0M245.35 195.65h0M245.68 196.42h0M246.01 198.51h0M246.34 198.40h0M246.66 197.29h0M246.99 197.82h0M247.32 195.84h0M247.64 196.31h0M247.97 197.19h0M248.30 197.54h0M248.63 195.80h0M248.95 195.84h0M249.28 197.73h0M249.61 196.78h0M249.94 198.51h0M250.26 198.93h0M250.59 198.65h0M250.92 196.54h0M251.24 198.92h0M251.57 198.18h0M251.90 199.77h0M252.23 200.01h0M252.55 200.57h0M252.88 199.07h0M253.21 198.85h0M253.53 198.79h0M253.86 198.88h0M254.19 197.06h0M254.52 198.05h0M254.84 199.15h0M255.17 199.83h0M255.50 199.10h0M255.83 198.66h0M256.15 198.15h0M256.48 198.65h0M256.81 197.54h0M257.13 198.92h0M257.46 199.12h0M257.79 199.61h0M258.12 200.31h0M258.44 199.12h0M258.77 199.80h0M259.10 199.80h0M259.43 198.44h0M259.75 197.63h0M260.08 195.96h0M260.41 197.04h0M260.73 198.74h0M261.06 198.86h0M261.39 198.50h0M261.72 197.21h0M262.04 196.67h0M262.37 196.54h0M262.70 199.43h0M263.03 198.05h0M263.35 197.70h0M263.68 198.54h0M264.01 200.18h0M264.33 198.38h0M264.66 198.12h0M264.99 197.71h0M265.32 200.32h0M265.64 199.97h0M265.97 199.70h0M266.30 197.79h0M266.63 198.52h0M266.95 198.42h0M267.28 199.56h0M267.61 197.53h0M267.93 198.63h0M268.26 199.84h0M268.59 201.15h0M268.92 199.44h0M269.24 198.58h0M269.57 199.94h0M269.90 199.03h0M270.22 199.73h0M270.55 198.54h0M270.88 198.17h0M271.21 197.43h0M271.53 198.52h0M271.86 198.81h0M272.19 198.93h0M272.52 197.99h0M272.84 196.77h0M273.17 197.37h0M273.50 197.85h0M273.82 197.51h0M274.15 199.82h0M274.48 200.20h0M274.81 199.94h0M275.13 198.99h0M275.46 201.15h0M275.79 200.78h0M276.12 201.15h0M276.44 200.60h0M276.77 197.15h0M277.10 196.43h0M277.42 198.43h0M277.75 199.12h0M278.08 197.41h0M278.41 198.79h0M278.73 197.95h0M279.06 198.33h0M279.39 198.27h0M279.72 198.86h0M280.04 200.03h0M280.37 199.67h0M280.70 199.47h0M281.02 196.51h0M281.35 197.64h0M281.68 197.32h0M282.01 197.41h0M282.33 196.44h0M282.66 198.59h0M282.99 199.30h0M283.32 196.34h0M283.64 197.95h0M283.97 199.41h0M284.30 199.53h0M284.62 199.06h0M284.95 198.95h0M285.28 198.17h0M285.61 198.84h0M285.93 196.41h0M286.26 198.91h0M286.59 200.87h0M286.91 201.15h0M287.24 200.40h0M287.57 200.03h0M287.90 199.22h0M288.22 198.21h0M288.55 198.04h0M288.88 199.49h0M289.21 197.91h0M289.53 199.02h0M289.86 197.97h0M290.19 195.65h0M290.51 196.60h0M290.84 196.33h0M291.17 199.01h0M291.50 200.41h0M291.82 199.15h0M292.15 197.08h0M292.48 197.78h0M292.81 199.61h0M293.13 197.57h0M293.46 196.81h0M293.79 196.67h0M294.11 198.93h0M294.44 200.50h0M294.77 200.01h0M295.10 199.82h0M295.42 199.92h0M295.75 197.01h0M296.08 196.55h0M296.41 199.45h0M296.73 199.84h0M297.06 200.52h0M297.39 198.46h0M297.71 198.51h0M298.04 199.81h0M298.37 199.09h0M298.70 198.62h0M299.02 198.11h0M299.35 198.43h0M299.68 198.93h0M300.01 198.71h0M300.33 198.56h0M300.66 198.63h0M300.99 198.66h0M301.31 199.13h0M301.64 198.68h0M301.97 198.56h0M302.30 200.47h0M302.62 199.66h0M302.95 199.20h0M303.28 198.75h0M303.60 200.73h0M303.93 199.16h0M304.26 200.42h0M304.59 197.16h0M304.91 197.53h0M305.24 197.92h0M305.57 199.27h0M305.90 199.49h0M306.22 197.58h0M306.55 197.16h0M306.88 197.62h0M307.20 196.78h0M307.53 196.24h0M307.86 197.08h0M308.19 197.33h0M308.51 198.98h0M308.84 200.68h0M309.17 200.18h0M309.50 198.28h0M309.82 198.27h0M310.15 196.25h0M310.48 197.73h0M310.80 196.72h0M311.13 195.70h0M311.46 196.09h0M311.79 195.65h0M312.11 196.60h0M312.44 196.56h0M312.77 197.27h0M313.10 198.64h0M313.42 199.16h0M313.75 198.19h0M314.08 195.65h0M314.40 196.66h0M314.73 197.58h0M315.06 199.02h0M315.39 200.52h0M315.71 198.66h0M316.04 197.59h0M316.37 199.15h0M316.69 197.42h0M317.02 197.30h0M317.35 197.70h0M317.68 198.69h0M318.00 198.86h0M318.33 199.74h0M318.66 197.79h0M318.99 199.86h0M319.31 196.64h0M319.64 196.79h0M319.97 195.71h0M320.29 197.37h0M320.62 197.88h0M320.95 198.60h0M321.28 198.13h0M321.60 198.99h0M321.93 197.77h0M322.26 197.72h0M322.59 199.78h0M322.91 199.48h0M323.24 197.61h0M323.57 196.70h0M323.89 197.77h0M324.22 199.27h0M324.55 199.69h0M324.88 200.84h0M325.20 198.87h0M325.53 198.27h0M325.86 197.53h0M326.19 198.40h0M326.51 198.90h0M326.84 201.15h0M327.17 200.59h0M327.49 200.18h0M327.82 198.13h0M328.15 197.80h0M328.48 198.64h0M328.80 197.44h0M329.13 198.90h0M329.46 199.00h0M329.79 200.12h0M330.11 198.95h0M330.44 198.99h0M330.77 199.77h0M331.09 199.91h0M331.42 201.15h0M331.75 199.52h0M332.08 199.29h0M332.40 197.22h0M332.73 198.08h0M333.06 197.15h0M333.38 196.51h0M333.71 199.12h0M334.04 197.76h0M334.37 197.53h0M334.69 196.44h0M335.02 199.64h0M335.35 196.89h0M335.68 198.85h0M336.00 197.73h0M336.33 198.04h0M336.66 196.93h0M336.98 196.81h0M337.31 198.97h0M337.64 198.78h0M337.97 199.13h0M338.29 198.54h0M338.62 198.91h0M338.95 197.78h0M339.28 196.95h0M339.60 196.62h0M339.93 196.49h0M340.26 195.90h0M340.58 197.49h0M340.91 196.98h0M341.24 198.49h0M341.57 198.63h0M341.89 200.08h0M342.22 199.07h0M342.55 199.38h0M342.88 199.19h0M343.20 199.21h0M343.53 201.15h0M343.86 200.25h0M344.18 198.43h0M344.51 198.10h0M344.84 197.05h0M345.17 198.21h0M345.49 199.11h0M345.82 199.73h0M346.15 197.26h0M346.48 197.55h0M346.80 197.98h0M347.13 196.61h0M347.46 197.48h0M347.78 197.86h0M348.11 195.65h0M348.44 198.49h0M348.77 197.81h0M349.09 197.98h0M349.42 198.66h0M349.75 197.38h0M350.07 197.94h0M350.40 197.19h0M350.73 197.95h0M351.06 197.15h0M351.38 197.77h0M351.71 200.62h0M352.04 199.35h0M352.37 199.23h0M352.69 198.53h0M353.02 197.59h0M353.35 197.84h0M353.67 198.26h0M354.00 200.15h0M354.33 200.37h0M354.66 201.15h0M354.98 197.94h0M355.31 196.70h0M355.64 196.72h0M355.97 199.05h0M356.29 197.70h0M356.62 199.03h0M356.95 198.93h0M357.27 197.71h0M357.60 199.17h0M357.93 199.96h0M358.26 201.15h0M358.58 199.59h0M358.91 200.81h0M359.24 198.58h0M359.57 196.81h0M359.89 197.48h0M360.22 197.99h0M360.55 199.07h0M360.87 198.90h0M361.20 196.94h0M361.53 195.83h0M361.86 197.40h0M362.18 196.29h0M362.51 198.12h0M362.84 198.19h0M363.17 200.20h0M363.49 199.70h0M363.82 199.78h0M364.15 199.49h0M364.47 199.48h0M364.80 198.31h0M365.13 199.03h0M365.46 198.63h0M365.78 199.14h0M366.11 199.54h0M366.44 199.36h0M366.76 200.49h0M367.09 198.82h0M367.42 198.49h0M367.75 198.82h0M368.07 197.90h0M368.40 198.13h0M368.73 197.03h0M369.06 197.60h0M369.38 199.50h0M369.71 199.74h0M370.04 199.43h0M370.36 199.32h0M370.69 198.23h0M371.02 199.06h0M371.35 199.28h0M371.67 198.35h0M372.00 198.69h0M372.33 198.28h0M372.66 196.89h0M372.98 199.15h0M373.31 199.10h0M373.64 199.85h0M373.96 198.65h0M374.29 198.15h0M374.62 197.40h0M374.95 198.90h0M375.27 199.40h0M375.60 199.22h0M375.93 197.72h0M376.26 198.01h0M376.58 198.77h0M376.91 196.17h0M377.24 196.83h0M377.56 200.11h0M377.89 200.30h0M378.22 198.49h0M378.55 197.60h0M378.87 195.92h0M379.20 197.31h0M379.53 197.44h0M379.86 198.78h0M380.18 198.75h0M380.51 197.82h0M380.84 196.28h0M381.16 197.24h0M381.49 197.88h0M381.82 197.48h0M382.15 196.87h0M382.47 197.81h0M382.80 198.79h0M383.13 197.66h0M383.45 196.44h0M383.78 197.00h0M384.11 196.00h0M384.44 196.74h0M384.76 197.09h0M385.09 197.24h0M385.42 198.89h0M385.75 199.31h0M386.07 200.55h0M386.40 199.51h0M386.73 198.43h0M387.05 196.43h0M387.38 198.81h0M387.71 198.16h0M388.04 198.38h0M388.36 199.58h0M388.69 199.88h0M389.02 198.66h0M389.35 197.58h0M389.67 198.75h0M390 199.36h0" stroke="#2d5537" stroke-width="1.3" stroke-linecap="round" fill="none"/>
<path d="M239.5 187.6h0M238.5 193.2h0M248.5 192.6h0M252.5 177.1h0M254.5 189.9h0M258.5 193.9h0M272.5 175.3h0M276.5 174.2h0M280.5 193.2h0M285.5 182.7h0M298.5 194.8h0M240.5 203.8h0M244.5 209.4h0M251.5 204.5h0M255.5 205.6h0M259.5 206h0M264.5 207.4h0M273.5 210.8h0M281.5 205.1h0M291.5 215h0M294.5 206.7h0M301.5 217.3h0M315.5 190.7h0M320.5 194.3h0M326.5 190.7h0M328.5 192.4h0M331.5 193.6h0M333.5 189.5h0M360.5 173.4h0M374.5 190.5h0M387.5 178.9h0M388.5 185.8h0M312.5 207.1h0M323.5 207.1h0M332.5 202.3h0M335.5 205.4h0M347.5 207.1h0M362.5 202.6h0M365.5 209.5h0M369.5 203h0M387.5 211.4h0M389.5 236.2h0M227.03 196.93h0M228.66 198.37h0M229.65 201.60h0M231.61 199.37h0M234.23 195.98h0M235.54 198.30h0M237.17 196.02h0M238.48 198.86h0M241.43 196.48h0M242.08 195.53h0M243.72 197.28h0M244.04 196.82h0M244.37 198.37h0M245.03 199.10h0M246.34 198.39h0M247.97 195.01h0M248.30 195.99h0M248.63 191.12h0M250.26 199.89h0M253.86 199.74h0M254.19 194.66h0M254.52 197.41h0M255.83 199.14h0M257.13 199.86h0M258.12 203.75h0M258.44 200.41h0M260.41 194.60h0M261.72 195.06h0M263.03 197.42h0M264.01 203.38h0M265.64 202.79h0M269.57 202.71h0M270.22 202.14h0M270.88 197.76h0M274.15 202.37h0M275.13 200.04h0M279.06 198.20h0M280.37 201.94h0M282.33 192.90h0M282.99 200.91h0M284.30 201.57h0M284.62 200.25h0M284.95 199.95h0M289.53 200.12h0M290.19 190.7h0M290.51 193.36h0M291.50 204.02h0M294.44 204.29h0M297.39 198.55h0M300.99 199.12h0M304.26 204.05h0M307.20 193.87h0M307.86 194.71h0M308.84 204.77h0M309.50 198.08h0M309.82 198.02h0M311.13 190.83h0M311.79 190.7h0M312.11 193.35h0M313.42 200.54h0M315.06 200.12h0M315.39 204.34h0M317.02 195.32h0M318.66 196.69h0M318.99 202.50h0M319.31 193.47h0M321.60 200.06h0M321.93 196.64h0M322.59 202.25h0M323.57 193.64h0M324.55 202.03h0M324.88 205.23h0M325.20 199.72h0M328.48 199.09h0M329.13 199.79h0M329.46 200.08h0M331.09 202.63h0M331.42 206.1h0M332.73 197.49h0M333.38 193.10h0M335.02 201.89h0M335.68 199.66h0M337.64 199.45h0M337.97 200.43h0M339.28 194.33h0M341.57 199.04h0M345.82 202.12h0M346.15 195.20h0M346.48 196.01h0M348.77 196.76h0M349.09 197.23h0M349.42 199.14h0M352.69 198.76h0M353.02 196.13h0M356.95 199.87h0M357.93 202.76h0M358.91 205.16h0M360.22 197.24h0M363.82 202.25h0M364.15 201.46h0M364.80 198.15h0M366.11 201.60h0M366.44 201.09h0M367.75 199.58h0M368.40 197.63h0M370.36 200.99h0M373.96 199.11h0M376.91 192.16h0M378.87 191.44h0M379.53 195.71h0M383.45 192.92h0M388.36 201.72h0M389.02 199.13h0M389.67 199.39h0" stroke="#27402e" stroke-width="1.9" stroke-linecap="round" fill="none"/>
<path d="" stroke="#5a2a22" stroke-width="1.9" stroke-linecap="round" fill="none"/>
<line x1="381.3" x2="381.3" y1="173.4" y2="236.2" stroke="#4550c8" stroke-width="0.6" stroke-dasharray="1.4,0.9"/>
<line x1="389.6" x2="389.6" y1="173.4" y2="236.2" stroke="#4550c8" stroke-width="0.6" stroke-dasharray="1.4,0.9"/>
<rect x="219.5" y="145.5" width="178" height="106.2" fill="none" stroke="#8a8a8a" stroke-width="0.95"/>
<line x1="217.9" x2="219.5" y1="151.1" y2="151.1" stroke="#8a8a8a" stroke-width="0.5"/>
<line x1="217.9" x2="219.5" y1="174.9" y2="174.9" stroke="#8a8a8a" stroke-width="0.5"/>
<line x1="217.9" x2="219.5" y1="198.7" y2="198.7" stroke="#8a8a8a" stroke-width="0.5"/>
<line x1="217.9" x2="219.5" y1="222.5" y2="222.5" stroke="#8a8a8a" stroke-width="0.5"/>
<line x1="217.9" x2="219.5" y1="246.3" y2="246.3" stroke="#8a8a8a" stroke-width="0.5"/>
<line x1="226.5" x2="226.5" y1="251.7" y2="253.2" stroke="#8a8a8a" stroke-width="0.5"/>
<line x1="227.4" x2="227.4" y1="251.7" y2="253.2" stroke="#8a8a8a" stroke-width="0.5"/>
<line x1="228.8" x2="228.8" y1="251.7" y2="253.2" stroke="#8a8a8a" stroke-width="0.5"/>
<line x1="232.6" x2="232.6" y1="251.7" y2="253.2" stroke="#8a8a8a" stroke-width="0.5"/>
<line x1="238.2" x2="238.2" y1="251.7" y2="253.2" stroke="#8a8a8a" stroke-width="0.5"/>
<line x1="244.9" x2="244.9" y1="251.7" y2="253.2" stroke="#8a8a8a" stroke-width="0.5"/>
<line x1="253.5" x2="253.5" y1="251.7" y2="253.2" stroke="#8a8a8a" stroke-width="0.5"/>
<line x1="266.9" x2="266.9" y1="251.7" y2="253.2" stroke="#8a8a8a" stroke-width="0.5"/>
<line x1="286.4" x2="286.4" y1="251.7" y2="253.2" stroke="#8a8a8a" stroke-width="0.5"/>
<line x1="294.3" x2="294.3" y1="251.7" y2="253.2" stroke="#8a8a8a" stroke-width="0.5"/>
<line x1="296.5" x2="296.5" y1="251.7" y2="253.2" stroke="#8a8a8a" stroke-width="0.5"/>
<line x1="302.2" x2="302.2" y1="251.7" y2="253.2" stroke="#8a8a8a" stroke-width="0.5"/>
<line x1="304.4" x2="304.4" y1="251.7" y2="253.2" stroke="#8a8a8a" stroke-width="0.5"/>
<line x1="306.9" x2="306.9" y1="251.7" y2="253.2" stroke="#8a8a8a" stroke-width="0.5"/>
<line x1="308.6" x2="308.6" y1="251.7" y2="253.2" stroke="#8a8a8a" stroke-width="0.5"/>
<line x1="315" x2="315" y1="251.7" y2="253.2" stroke="#8a8a8a" stroke-width="0.5"/>
<line x1="322.1" x2="322.1" y1="251.7" y2="253.2" stroke="#8a8a8a" stroke-width="0.5"/>
<line x1="323.5" x2="323.5" y1="251.7" y2="253.2" stroke="#8a8a8a" stroke-width="0.5"/>
<line x1="326.3" x2="326.3" y1="251.7" y2="253.2" stroke="#8a8a8a" stroke-width="0.5"/>
<line x1="331.1" x2="331.1" y1="251.7" y2="253.2" stroke="#8a8a8a" stroke-width="0.5"/>
<line x1="340.1" x2="340.1" y1="251.7" y2="253.2" stroke="#8a8a8a" stroke-width="0.5"/>
<line x1="350" x2="350" y1="251.7" y2="253.2" stroke="#8a8a8a" stroke-width="0.5"/>
<line x1="351.7" x2="351.7" y1="251.7" y2="253.2" stroke="#8a8a8a" stroke-width="0.5"/>
<line x1="353.1" x2="353.1" y1="251.7" y2="253.2" stroke="#8a8a8a" stroke-width="0.5"/>
<line x1="354.8" x2="354.8" y1="251.7" y2="253.2" stroke="#8a8a8a" stroke-width="0.5"/>
<line x1="365.4" x2="365.4" y1="251.7" y2="253.2" stroke="#8a8a8a" stroke-width="0.5"/>
<line x1="371.4" x2="371.4" y1="251.7" y2="253.2" stroke="#8a8a8a" stroke-width="0.5"/>
<line x1="379.6" x2="379.6" y1="251.7" y2="253.2" stroke="#8a8a8a" stroke-width="0.5"/>
<line x1="381.3" x2="381.3" y1="251.7" y2="253.2" stroke="#8a8a8a" stroke-width="0.5"/>
<line x1="383.2" x2="383.2" y1="251.7" y2="253.2" stroke="#8a8a8a" stroke-width="0.5"/>
<line x1="389.6" x2="389.6" y1="251.7" y2="253.2" stroke="#8a8a8a" stroke-width="0.5"/>
<rect x="352.2" y="146.3" width="44.2" height="10.2" fill="#fff" fill-opacity="0.85" stroke="#d4d4d4" stroke-width="0.4" rx="0.8"/>
<line x1="353.7" x2="361.2" y1="149.4" y2="149.4" stroke="#4550c8" stroke-width="0.6" stroke-dasharray="2,1"/>
<line x1="353.7" x2="361.2" y1="153.6" y2="153.6" stroke="#dccb62" stroke-width="0.7" stroke-dasharray="2,0.8"/>
<rect x="23.9" y="343.1" width="164.6" height="17.3" fill="#d4f8ee"/>
<rect x="23.8" y="286" width="7.8" height="98" fill="#fdedf3"/>
<rect x="56" y="303" width="11.6" height="63" fill="#fdedf3"/>
<rect x="128.7" y="329" width="9.6" height="39" fill="#fdedf3"/>
<rect x="152.6" y="304" width="16.8" height="68" fill="#fdedf3"/>
<rect x="170.6" y="333" width="4.8" height="54" fill="#fdedf3"/>
<rect x="181.3" y="336" width="7.2" height="34" fill="#fdedf3"/>
<rect x="24.7" y="284.5" width="3.6" height="70.9" fill="#fff7fa"/>
<rect x="25.1" y="349.4" width="3.6" height="33.1" fill="#fff7fa"/>
<rect x="24.4" y="326" width="3.6" height="29.4" fill="#fff7fa"/>
<rect x="25.4" y="330.5" width="3.6" height="24.9" fill="#fff7fa"/>
<rect x="24.2" y="349.4" width="3.6" height="14" fill="#fff7fa"/>
<rect x="25.7" y="349.4" width="3.6" height="18.5" fill="#fff7fa"/>
<rect x="62.6" y="302" width="3.6" height="53.4" fill="#fff7fa"/>
<rect x="53.2" y="335.7" width="3.6" height="19.7" fill="#fff7fa"/>
<rect x="28.5" y="338.8" width="3.6" height="16.6" fill="#fff7fa"/>
<rect x="30" y="349.4" width="3.6" height="19.2" fill="#fff7fa"/>
<rect x="40.6" y="349.4" width="3.6" height="16.3" fill="#fff7fa"/>
<rect x="96.7" y="349.4" width="3.6" height="16.3" fill="#fff7fa"/>
<rect x="132.4" y="328.6" width="3.6" height="26.8" fill="#fff7fa"/>
<rect x="156.8" y="311.6" width="3.6" height="43.8" fill="#fff7fa"/>
<rect x="165.2" y="303.9" width="3.6" height="51.5" fill="#fff7fa"/>
<rect x="170.4" y="332.2" width="3.6" height="23.2" fill="#fff7fa"/>
<rect x="170.7" y="349.4" width="3.6" height="38.3" fill="#fff7fa"/>
<rect x="185.5" y="335.5" width="3.6" height="19.9" fill="#fff7fa"/>
<rect x="103.5" y="349.4" width="3.6" height="18.4" fill="#fff7fa"/>
<rect x="109" y="349.4" width="3.6" height="22.7" fill="#fff7fa"/>
<rect x="130" y="349.4" width="3.6" height="17.2" fill="#fff7fa"/>
<rect x="136" y="349.4" width="3.6" height="19.1" fill="#fff7fa"/>
<rect x="154.4" y="349.4" width="3.6" height="23.2" fill="#fff7fa"/>
<rect x="155.6" y="349.4" width="3.6" height="19.1" fill="#fff7fa"/>
<rect x="157.5" y="349.4" width="3.6" height="15.1" fill="#fff7fa"/>
<rect x="160.9" y="349.4" width="3.6" height="16.7" fill="#fff7fa"/>
<rect x="165.6" y="349.4" width="3.6" height="16.7" fill="#fff7fa"/>
<rect x="174.3" y="349.4" width="3.6" height="19.9" fill="#fff7fa"/>
<rect x="179.5" y="349.4" width="3.6" height="20.8" fill="#fff7fa"/>
<line x1="24.4" x2="188" y1="341" y2="341" stroke="#dccb62" stroke-width="0.85" stroke-dasharray="2.2,0.7"/>
<line x1="24.4" x2="188" y1="362" y2="362" stroke="#dccb62" stroke-width="0.85" stroke-dasharray="2.2,0.7"/>
<path d="M24.4 352.4V355.45M24.76 352.4V356.75M25.11 352.4V354.73M25.47 352.4V358.78M25.83 352.4V351.99M26.18 352.4V353.52M26.54 352.4V354.82M26.89 352.4V353.11M27.25 352.4V350.92M27.61 352.4V351.58M27.96 352.4V351.88M28.32 352.4V353.69M28.68 352.4V353.98M29.03 352.4V354.02M29.39 352.4V352.67M29.75 352.4V350.78M30.10 352.4V353.29M30.46 352.4V346.39M30.82 352.4V347.97M31.17 352.4V346.02M31.53 352.4V347.13M31.88 352.4V351.38M32.24 352.4V351.36M32.60 352.4V351.18M32.95 352.4V347.95M33.31 352.4V350.32M33.67 352.4V350.22M34.02 352.4V354.12M34.38 352.4V353.42M34.74 352.4V353.71M35.09 352.4V353.00M35.45 352.4V357.67M35.81 352.4V357.04M36.16 352.4V351.95M36.52 352.4V349.48M36.87 352.4V346.02M37.23 352.4V346.02M37.59 352.4V351.08M37.94 352.4V356.23M38.30 352.4V354.81M38.66 352.4V351.99M39.01 352.4V357.12M39.37 352.4V352.54M39.73 352.4V351.18M40.08 352.4V355.00M40.44 352.4V348.60M40.80 352.4V351.35M41.15 352.4V350.45M41.51 352.4V354.79M41.86 352.4V358.78M42.22 352.4V353.35M42.58 352.4V353.10M42.93 352.4V356.74M43.29 352.4V357.05M43.65 352.4V349.08M44.00 352.4V348.93M44.36 352.4V350.11M44.72 352.4V352.54M45.07 352.4V355.58M45.43 352.4V357.16M45.79 352.4V351.59M46.14 352.4V348.00M46.50 352.4V346.02M46.85 352.4V349.25M47.21 352.4V355.16M47.57 352.4V353.33M47.92 352.4V354.02M48.28 352.4V352.30M48.64 352.4V348.83M48.99 352.4V351.70M49.35 352.4V350.34M49.71 352.4V350.37M50.06 352.4V354.42M50.42 352.4V349.83M50.78 352.4V353.49M51.13 352.4V356.64M51.49 352.4V354.88M51.84 352.4V350.59M52.20 352.4V353.28M52.56 352.4V346.79M52.91 352.4V346.62M53.27 352.4V349.56M53.63 352.4V355.77M53.98 352.4V352.81M54.34 352.4V354.73M54.70 352.4V350.41M55.05 352.4V354.43M55.41 352.4V349.29M55.77 352.4V346.02M56.12 352.4V349.85M56.48 352.4V348.78M56.83 352.4V346.51M57.19 352.4V351.23M57.55 352.4V355.73M57.90 352.4V353.25M58.26 352.4V356.14M58.62 352.4V357.27M58.97 352.4V357.73M59.33 352.4V353.29M59.69 352.4V352.54M60.04 352.4V351.70M60.40 352.4V348.22M60.76 352.4V352.34M61.11 352.4V352.05M61.47 352.4V352.91M61.82 352.4V351.14M62.18 352.4V354.31M62.54 352.4V352.71M62.89 352.4V352.11M63.25 352.4V346.69M63.61 352.4V350.31M63.96 352.4V348.84M64.32 352.4V351.29M64.68 352.4V351.40M65.03 352.4V354.21M65.39 352.4V353.88M65.75 352.4V351.94M66.10 352.4V354.65M66.46 352.4V354.39M66.81 352.4V352.25M67.17 352.4V346.02M67.53 352.4V351.23M67.88 352.4V351.78M68.24 352.4V352.19M68.60 352.4V353.38M68.95 352.4V353.78M69.31 352.4V354.98M69.67 352.4V351.62M70.02 352.4V349.56M70.38 352.4V351.56M70.74 352.4V353.68M71.09 352.4V354.11M71.45 352.4V355.13M71.80 352.4V352.48M72.16 352.4V353.10M72.52 352.4V349.84M72.87 352.4V353.27M73.23 352.4V352.04M73.59 352.4V349.06M73.94 352.4V350.63M74.30 352.4V351.22M74.66 352.4V353.77M75.01 352.4V350.87M75.37 352.4V351.86M75.73 352.4V354.32M76.08 352.4V356.05M76.44 352.4V353.90M76.79 352.4V355.26M77.15 352.4V354.61M77.51 352.4V350.35M77.86 352.4V351.59M78.22 352.4V355.49M78.58 352.4V358.78M78.93 352.4V353.93M79.29 352.4V348.61M79.65 352.4V350.29M80.00 352.4V352.40M80.36 352.4V355.94M80.72 352.4V355.93M81.07 352.4V352.29M81.43 352.4V353.75M81.78 352.4V348.34M82.14 352.4V351.51M82.50 352.4V354.59M82.85 352.4V352.17M83.21 352.4V353.06M83.57 352.4V355.02M83.92 352.4V353.54M84.28 352.4V352.55M84.64 352.4V353.37M84.99 352.4V351.84M85.35 352.4V355.84M85.71 352.4V346.02M86.06 352.4V350.20M86.42 352.4V350.42M86.77 352.4V353.03M87.13 352.4V353.01M87.49 352.4V354.03M87.84 352.4V351.04M88.20 352.4V348.91M88.56 352.4V351.39M88.91 352.4V352.48M89.27 352.4V351.63M89.63 352.4V351.67M89.98 352.4V351.06M90.34 352.4V352.76M90.70 352.4V354.99M91.05 352.4V355.33M91.41 352.4V349.96M91.76 352.4V349.93M92.12 352.4V356.97M92.48 352.4V354.67M92.83 352.4V353.69M93.19 352.4V349.71M93.55 352.4V352.57M93.90 352.4V352.62M94.26 352.4V352.64M94.62 352.4V354.13M94.97 352.4V349.87M95.33 352.4V349.30M95.69 352.4V352.59M96.04 352.4V353.55M96.40 352.4V354.97M96.75 352.4V349.42M97.11 352.4V349.66M97.47 352.4V350.68M97.82 352.4V351.41M98.18 352.4V350.69M98.54 352.4V351.02M98.89 352.4V353.06M99.25 352.4V352.48M99.61 352.4V350.11M99.96 352.4V352.43M100.32 352.4V351.49M100.68 352.4V351.06M101.03 352.4V354.40M101.39 352.4V356.12M101.74 352.4V355.93M102.10 352.4V353.44M102.46 352.4V352.48M102.81 352.4V350.16M103.17 352.4V353.29M103.53 352.4V358.15M103.88 352.4V353.97M104.24 352.4V354.27M104.60 352.4V352.99M104.95 352.4V354.47M105.31 352.4V351.52M105.67 352.4V352.06M106.02 352.4V350.16M106.38 352.4V351.11M106.73 352.4V348.86M107.09 352.4V354.96M107.45 352.4V349.07M107.80 352.4V357.05M108.16 352.4V353.39M108.52 352.4V353.84M108.87 352.4V349.29M109.23 352.4V350.83M109.59 352.4V351.14M109.94 352.4V357.51M110.30 352.4V350.63M110.66 352.4V353.68M111.01 352.4V352.55M111.37 352.4V351.47M111.72 352.4V350.34M112.08 352.4V353.15M112.44 352.4V354.92M112.79 352.4V349.36M113.15 352.4V349.35M113.51 352.4V358.49M113.86 352.4V357.49M114.22 352.4V353.86M114.58 352.4V352.50M114.93 352.4V351.66M115.29 352.4V352.40M115.65 352.4V353.13M116.00 352.4V352.18M116.36 352.4V352.59M116.71 352.4V351.70M117.07 352.4V350.76M117.43 352.4V348.87M117.78 352.4V348.87M118.14 352.4V349.68M118.50 352.4V348.10M118.85 352.4V352.12M119.21 352.4V349.07M119.57 352.4V350.55M119.92 352.4V354.16M120.28 352.4V350.65M120.64 352.4V352.61M120.99 352.4V349.85M121.35 352.4V349.58M121.70 352.4V349.64M122.06 352.4V350.21M122.42 352.4V353.45M122.77 352.4V352.84M123.13 352.4V351.51M123.49 352.4V351.97M123.84 352.4V351.29M124.20 352.4V351.24M124.56 352.4V349.86M124.91 352.4V353.23M125.27 352.4V351.70M125.63 352.4V349.09M125.98 352.4V353.20M126.34 352.4V357.22M126.69 352.4V352.87M127.05 352.4V353.17M127.41 352.4V356.73M127.76 352.4V355.36M128.12 352.4V352.81M128.48 352.4V352.89M128.83 352.4V348.75M129.19 352.4V350.47M129.55 352.4V354.82M129.90 352.4V351.83M130.26 352.4V350.37M130.62 352.4V352.92M130.97 352.4V353.85M131.33 352.4V353.25M131.68 352.4V352.42M132.04 352.4V352.58M132.40 352.4V353.63M132.75 352.4V353.66M133.11 352.4V355.69M133.47 352.4V352.22M133.82 352.4V350.79M134.18 352.4V354.23M134.54 352.4V352.10M134.89 352.4V358.78M135.25 352.4V356.75M135.61 352.4V353.30M135.96 352.4V355.29M136.32 352.4V350.37M136.67 352.4V350.79M137.03 352.4V353.09M137.39 352.4V351.58M137.74 352.4V354.28M138.10 352.4V354.18M138.46 352.4V354.37M138.81 352.4V351.72M139.17 352.4V349.98M139.53 352.4V354.22M139.88 352.4V351.74M140.24 352.4V354.72M140.60 352.4V350.09M140.95 352.4V348.97M141.31 352.4V350.19M141.66 352.4V353.60M142.02 352.4V356.27M142.38 352.4V357.39M142.73 352.4V358.08M143.09 352.4V355.21M143.45 352.4V353.91M143.80 352.4V352.53M144.16 352.4V356.45M144.52 352.4V353.62M144.87 352.4V350.60M145.23 352.4V356.97M145.59 352.4V358.78M145.94 352.4V356.42M146.30 352.4V355.56M146.65 352.4V356.66M147.01 352.4V352.25M147.37 352.4V351.06M147.72 352.4V352.29M148.08 352.4V354.51M148.44 352.4V353.56M148.79 352.4V353.90M149.15 352.4V347.75M149.51 352.4V351.79M149.86 352.4V352.38M150.22 352.4V355.94M150.58 352.4V352.47M150.93 352.4V353.59M151.29 352.4V353.09M151.64 352.4V352.59M152.00 352.4V355.66M152.36 352.4V358.42M152.71 352.4V356.05M153.07 352.4V353.23M153.43 352.4V353.32M153.78 352.4V355.26M154.14 352.4V354.39M154.50 352.4V351.37M154.85 352.4V350.12M155.21 352.4V348.19M155.57 352.4V347.42M155.92 352.4V348.87M156.28 352.4V351.18M156.63 352.4V354.52M156.99 352.4V351.54M157.35 352.4V353.25M157.70 352.4V351.15M158.06 352.4V352.19M158.42 352.4V355.56M158.77 352.4V355.17M159.13 352.4V356.74M159.49 352.4V356.44M159.84 352.4V351.46M160.20 352.4V350.85M160.56 352.4V353.81M160.91 352.4V348.45M161.27 352.4V350.10M161.62 352.4V347.40M161.98 352.4V348.78M162.34 352.4V349.77M162.69 352.4V349.14M163.05 352.4V348.01M163.41 352.4V350.84M163.76 352.4V356.45M164.12 352.4V348.45M164.48 352.4V353.61M164.83 352.4V351.98M165.19 352.4V351.48M165.55 352.4V354.01M165.90 352.4V351.09M166.26 352.4V349.53M166.61 352.4V349.79M166.97 352.4V348.64M167.33 352.4V348.36M167.68 352.4V357.22M168.04 352.4V354.38M168.40 352.4V353.04M168.75 352.4V356.82M169.11 352.4V356.79M169.47 352.4V354.06M169.82 352.4V354.73M170.18 352.4V352.00M170.54 352.4V351.40M170.89 352.4V355.24M171.25 352.4V351.87M171.60 352.4V354.72M171.96 352.4V353.15M172.32 352.4V348.91M172.67 352.4V348.40M173.03 352.4V348.93M173.39 352.4V355.40M173.74 352.4V349.79M174.10 352.4V351.13M174.46 352.4V352.07M174.81 352.4V350.29M175.17 352.4V351.25M175.53 352.4V352.73M175.88 352.4V352.64M176.24 352.4V355.25M176.59 352.4V352.65M176.95 352.4V348.72M177.31 352.4V351.85M177.66 352.4V355.67M178.02 352.4V351.06M178.38 352.4V348.75M178.73 352.4V352.90M179.09 352.4V348.24M179.45 352.4V349.87M179.80 352.4V348.62M180.16 352.4V355.82M180.52 352.4V353.72M180.87 352.4V358.45M181.23 352.4V358.78M181.58 352.4V353.12M181.94 352.4V354.54M182.30 352.4V352.39M182.65 352.4V353.06M183.01 352.4V353.85M183.37 352.4V350.78M183.72 352.4V350.54M184.08 352.4V351.40M184.44 352.4V351.48M184.79 352.4V353.12M185.15 352.4V353.54M185.51 352.4V352.31M185.86 352.4V352.61M186.22 352.4V352.95M186.57 352.4V348.33M186.93 352.4V348.76M187.29 352.4V348.21M187.64 352.4V349.45M188 352.4V350.40" stroke="#587a62" stroke-width="0.5" fill="none"/>
<path d="M25.11 352.4V357.06M28.68 352.4V355.55M34.74 352.4V355.02M35.09 352.4V353.59M35.81 352.4V361.68M36.16 352.4V351.50M38.66 352.4V351.57M41.86 352.4V365.16M43.65 352.4V345.75M60.40 352.4V344.04M61.82 352.4V349.87M62.89 352.4V351.82M77.86 352.4V350.77M84.99 352.4V351.29M86.06 352.4V348.01M96.40 352.4V357.54M102.46 352.4V352.56M103.17 352.4V354.19M106.38 352.4V349.83M112.44 352.4V357.43M113.15 352.4V346.30M116.36 352.4V352.78M123.84 352.4V350.17M129.19 352.4V348.54M139.88 352.4V351.09M142.38 352.4V362.37M157.70 352.4V349.90M178.73 352.4V353.41" stroke="#3c5c47" stroke-width="0.55" fill="none"/>
<path d="M61.5 352.4V340.7M75.5 352.4V341.8M34.5 352.4V340.9M66.5 352.4V359.3M77.5 352.4V356M110.5 352.4V345.7M139.5 352.4V344M156.5 352.4V340.9M165.5 352.4V345.7" stroke="#3c5c47" stroke-width="0.8" fill="none"/>
<path d="M26.5 352.4V287.5M26.5 352.4V379.5M26.5 352.4V329M27.5 352.4V333.5M26.5 352.4V360.4M27.5 352.4V364.9M64.5 352.4V305M55.5 352.4V338.7M30.5 352.4V341.8M31.5 352.4V365.6M42.5 352.4V362.7M98.5 352.4V362.7M134.5 352.4V331.6M158.5 352.4V314.6M167.5 352.4V306.9M172.5 352.4V335.2M172.5 352.4V384.7M187.5 352.4V338.5M105.5 352.4V364.8M110.5 352.4V369.1M131.5 352.4V363.6M137.5 352.4V365.5M156.5 352.4V369.6M157.5 352.4V365.5M159.5 352.4V361.5M162.5 352.4V363.1M167.5 352.4V363.1M176.5 352.4V366.3M181.5 352.4V367.2" stroke="#b86c52" stroke-width="0.7" fill="none"/>
<path d="M24.4 355.45h0M24.76 356.75h0M25.11 354.73h0M25.47 358.78h0M25.83 351.99h0M26.18 353.52h0M26.54 354.82h0M26.89 353.11h0M27.25 350.92h0M27.61 351.58h0M27.96 351.88h0M28.32 353.69h0M28.68 353.98h0M29.03 354.02h0M29.39 352.67h0M29.75 350.78h0M30.10 353.29h0M30.46 346.39h0M30.82 347.97h0M31.17 346.02h0M31.53 347.13h0M31.88 351.38h0M32.24 351.36h0M32.60 351.18h0M32.95 347.95h0M33.31 350.32h0M33.67 350.22h0M34.02 354.12h0M34.38 353.42h0M34.74 353.71h0M35.09 353.00h0M35.45 357.67h0M35.81 357.04h0M36.16 351.95h0M36.52 349.48h0M36.87 346.02h0M37.23 346.02h0M37.59 351.08h0M37.94 356.23h0M38.30 354.81h0M38.66 351.99h0M39.01 357.12h0M39.37 352.54h0M39.73 351.18h0M40.08 355.00h0M40.44 348.60h0M40.80 351.35h0M41.15 350.45h0M41.51 354.79h0M41.86 358.78h0M42.22 353.35h0M42.58 353.10h0M42.93 356.74h0M43.29 357.05h0M43.65 349.08h0M44.00 348.93h0M44.36 350.11h0M44.72 352.54h0M45.07 355.58h0M45.43 357.16h0M45.79 351.59h0M46.14 348.00h0M46.50 346.02h0M46.85 349.25h0M47.21 355.16h0M47.57 353.33h0M47.92 354.02h0M48.28 352.30h0M48.64 348.83h0M48.99 351.70h0M49.35 350.34h0M49.71 350.37h0M50.06 354.42h0M50.42 349.83h0M50.78 353.49h0M51.13 356.64h0M51.49 354.88h0M51.84 350.59h0M52.20 353.28h0M52.56 346.79h0M52.91 346.62h0M53.27 349.56h0M53.63 355.77h0M53.98 352.81h0M54.34 354.73h0M54.70 350.41h0M55.05 354.43h0M55.41 349.29h0M55.77 346.02h0M56.12 349.85h0M56.48 348.78h0M56.83 346.51h0M57.19 351.23h0M57.55 355.73h0M57.90 353.25h0M58.26 356.14h0M58.62 357.27h0M58.97 357.73h0M59.33 353.29h0M59.69 352.54h0M60.04 351.70h0M60.40 348.22h0M60.76 352.34h0M61.11 352.05h0M61.47 352.91h0M61.82 351.14h0M62.18 354.31h0M62.54 352.71h0M62.89 352.11h0M63.25 346.69h0M63.61 350.31h0M63.96 348.84h0M64.32 351.29h0M64.68 351.40h0M65.03 354.21h0M65.39 353.88h0M65.75 351.94h0M66.10 354.65h0M66.46 354.39h0M66.81 352.25h0M67.17 346.02h0M67.53 351.23h0M67.88 351.78h0M68.24 352.19h0M68.60 353.38h0M68.95 353.78h0M69.31 354.98h0M69.67 351.62h0M70.02 349.56h0M70.38 351.56h0M70.74 353.68h0M71.09 354.11h0M71.45 355.13h0M71.80 352.48h0M72.16 353.10h0M72.52 349.84h0M72.87 353.27h0M73.23 352.04h0M73.59 349.06h0M73.94 350.63h0M74.30 351.22h0M74.66 353.77h0M75.01 350.87h0M75.37 351.86h0M75.73 354.32h0M76.08 356.05h0M76.44 353.90h0M76.79 355.26h0M77.15 354.61h0M77.51 350.35h0M77.86 351.59h0M78.22 355.49h0M78.58 358.78h0M78.93 353.93h0M79.29 348.61h0M79.65 350.29h0M80.00 352.40h0M80.36 355.94h0M80.72 355.93h0M81.07 352.29h0M81.43 353.75h0M81.78 348.34h0M82.14 351.51h0M82.50 354.59h0M82.85 352.17h0M83.21 353.06h0M83.57 355.02h0M83.92 353.54h0M84.28 352.55h0M84.64 353.37h0M84.99 351.84h0M85.35 355.84h0M85.71 346.02h0M86.06 350.20h0M86.42 350.42h0M86.77 353.03h0M87.13 353.01h0M87.49 354.03h0M87.84 351.04h0M88.20 348.91h0M88.56 351.39h0M88.91 352.48h0M89.27 351.63h0M89.63 351.67h0M89.98 351.06h0M90.34 352.76h0M90.70 354.99h0M91.05 355.33h0M91.41 349.96h0M91.76 349.93h0M92.12 356.97h0M92.48 354.67h0M92.83 353.69h0M93.19 349.71h0M93.55 352.57h0M93.90 352.62h0M94.26 352.64h0M94.62 354.13h0M94.97 349.87h0M95.33 349.30h0M95.69 352.59h0M96.04 353.55h0M96.40 354.97h0M96.75 349.42h0M97.11 349.66h0M97.47 350.68h0M97.82 351.41h0M98.18 350.69h0M98.54 351.02h0M98.89 353.06h0M99.25 352.48h0M99.61 350.11h0M99.96 352.43h0M100.32 351.49h0M100.68 351.06h0M101.03 354.40h0M101.39 356.12h0M101.74 355.93h0M102.10 353.44h0M102.46 352.48h0M102.81 350.16h0M103.17 353.29h0M103.53 358.15h0M103.88 353.97h0M104.24 354.27h0M104.60 352.99h0M104.95 354.47h0M105.31 351.52h0M105.67 352.06h0M106.02 350.16h0M106.38 351.11h0M106.73 348.86h0M107.09 354.96h0M107.45 349.07h0M107.80 357.05h0M108.16 353.39h0M108.52 353.84h0M108.87 349.29h0M109.23 350.83h0M109.59 351.14h0M109.94 357.51h0M110.30 350.63h0M110.66 353.68h0M111.01 352.55h0M111.37 351.47h0M111.72 350.34h0M112.08 353.15h0M112.44 354.92h0M112.79 349.36h0M113.15 349.35h0M113.51 358.49h0M113.86 357.49h0M114.22 353.86h0M114.58 352.50h0M114.93 351.66h0M115.29 352.40h0M115.65 353.13h0M116.00 352.18h0M116.36 352.59h0M116.71 351.70h0M117.07 350.76h0M117.43 348.87h0M117.78 348.87h0M118.14 349.68h0M118.50 348.10h0M118.85 352.12h0M119.21 349.07h0M119.57 350.55h0M119.92 354.16h0M120.28 350.65h0M120.64 352.61h0M120.99 349.85h0M121.35 349.58h0M121.70 349.64h0M122.06 350.21h0M122.42 353.45h0M122.77 352.84h0M123.13 351.51h0M123.49 351.97h0M123.84 351.29h0M124.20 351.24h0M124.56 349.86h0M124.91 353.23h0M125.27 351.70h0M125.63 349.09h0M125.98 353.20h0M126.34 357.22h0M126.69 352.87h0M127.05 353.17h0M127.41 356.73h0M127.76 355.36h0M128.12 352.81h0M128.48 352.89h0M128.83 348.75h0M129.19 350.47h0M129.55 354.82h0M129.90 351.83h0M130.26 350.37h0M130.62 352.92h0M130.97 353.85h0M131.33 353.25h0M131.68 352.42h0M132.04 352.58h0M132.40 353.63h0M132.75 353.66h0M133.11 355.69h0M133.47 352.22h0M133.82 350.79h0M134.18 354.23h0M134.54 352.10h0M134.89 358.78h0M135.25 356.75h0M135.61 353.30h0M135.96 355.29h0M136.32 350.37h0M136.67 350.79h0M137.03 353.09h0M137.39 351.58h0M137.74 354.28h0M138.10 354.18h0M138.46 354.37h0M138.81 351.72h0M139.17 349.98h0M139.53 354.22h0M139.88 351.74h0M140.24 354.72h0M140.60 350.09h0M140.95 348.97h0M141.31 350.19h0M141.66 353.60h0M142.02 356.27h0M142.38 357.39h0M142.73 358.08h0M143.09 355.21h0M143.45 353.91h0M143.80 352.53h0M144.16 356.45h0M144.52 353.62h0M144.87 350.60h0M145.23 356.97h0M145.59 358.78h0M145.94 356.42h0M146.30 355.56h0M146.65 356.66h0M147.01 352.25h0M147.37 351.06h0M147.72 352.29h0M148.08 354.51h0M148.44 353.56h0M148.79 353.90h0M149.15 347.75h0M149.51 351.79h0M149.86 352.38h0M150.22 355.94h0M150.58 352.47h0M150.93 353.59h0M151.29 353.09h0M151.64 352.59h0M152.00 355.66h0M152.36 358.42h0M152.71 356.05h0M153.07 353.23h0M153.43 353.32h0M153.78 355.26h0M154.14 354.39h0M154.50 351.37h0M154.85 350.12h0M155.21 348.19h0M155.57 347.42h0M155.92 348.87h0M156.28 351.18h0M156.63 354.52h0M156.99 351.54h0M157.35 353.25h0M157.70 351.15h0M158.06 352.19h0M158.42 355.56h0M158.77 355.17h0M159.13 356.74h0M159.49 356.44h0M159.84 351.46h0M160.20 350.85h0M160.56 353.81h0M160.91 348.45h0M161.27 350.10h0M161.62 347.40h0M161.98 348.78h0M162.34 349.77h0M162.69 349.14h0M163.05 348.01h0M163.41 350.84h0M163.76 356.45h0M164.12 348.45h0M164.48 353.61h0M164.83 351.98h0M165.19 351.48h0M165.55 354.01h0M165.90 351.09h0M166.26 349.53h0M166.61 349.79h0M166.97 348.64h0M167.33 348.36h0M167.68 357.22h0M168.04 354.38h0M168.40 353.04h0M168.75 356.82h0M169.11 356.79h0M169.47 354.06h0M169.82 354.73h0M170.18 352.00h0M170.54 351.40h0M170.89 355.24h0M171.25 351.87h0M171.60 354.72h0M171.96 353.15h0M172.32 348.91h0M172.67 348.40h0M173.03 348.93h0M173.39 355.40h0M173.74 349.79h0M174.10 351.13h0M174.46 352.07h0M174.81 350.29h0M175.17 351.25h0M175.53 352.73h0M175.88 352.64h0M176.24 355.25h0M176.59 352.65h0M176.95 348.72h0M177.31 351.85h0M177.66 355.67h0M178.02 351.06h0M178.38 348.75h0M178.73 352.90h0M179.09 348.24h0M179.45 349.87h0M179.80 348.62h0M180.16 355.82h0M180.52 353.72h0M180.87 358.45h0M181.23 358.78h0M181.58 353.12h0M181.94 354.54h0M182.30 352.39h0M182.65 353.06h0M183.01 353.85h0M183.37 350.78h0M183.72 350.54h0M184.08 351.40h0M184.44 351.48h0M184.79 353.12h0M185.15 353.54h0M185.51 352.31h0M185.86 352.61h0M186.22 352.95h0M186.57 348.33h0M186.93 348.76h0M187.29 348.21h0M187.64 349.45h0M188 350.40h0" stroke="#2d5537" stroke-width="2.0" stroke-linecap="round" fill="none"/>
<path d="M24.4 355.45L24.76 356.75L25.11 354.73L25.47 358.78L25.83 351.99L26.18 353.52L26.54 354.82L26.89 353.11L27.25 350.92L27.61 351.58L27.96 351.88L28.32 353.69L28.68 353.98L29.03 354.02L29.39 352.67L29.75 350.78L30.10 353.29L30.46 346.39L30.82 347.97L31.17 346.02L31.53 347.13L31.88 351.38L32.24 351.36L32.60 351.18L32.95 347.95L33.31 350.32L33.67 350.22L34.02 354.12L34.38 353.42L34.74 353.71L35.09 353.00L35.45 357.67L35.81 357.04L36.16 351.95L36.52 349.48L36.87 346.02L37.23 346.02L37.59 351.08L37.94 356.23L38.30 354.81L38.66 351.99L39.01 357.12L39.37 352.54L39.73 351.18L40.08 355.00L40.44 348.60L40.80 351.35L41.15 350.45L41.51 354.79L41.86 358.78L42.22 353.35L42.58 353.10L42.93 356.74L43.29 357.05L43.65 349.08L44.00 348.93L44.36 350.11L44.72 352.54L45.07 355.58L45.43 357.16L45.79 351.59L46.14 348.00L46.50 346.02L46.85 349.25L47.21 355.16L47.57 353.33L47.92 354.02L48.28 352.30L48.64 348.83L48.99 351.70L49.35 350.34L49.71 350.37L50.06 354.42L50.42 349.83L50.78 353.49L51.13 356.64L51.49 354.88L51.84 350.59L52.20 353.28L52.56 346.79L52.91 346.62L53.27 349.56L53.63 355.77L53.98 352.81L54.34 354.73L54.70 350.41L55.05 354.43L55.41 349.29L55.77 346.02L56.12 349.85L56.48 348.78L56.83 346.51L57.19 351.23L57.55 355.73L57.90 353.25L58.26 356.14L58.62 357.27L58.97 357.73L59.33 353.29L59.69 352.54L60.04 351.70L60.40 348.22L60.76 352.34L61.11 352.05L61.47 352.91L61.82 351.14L62.18 354.31L62.54 352.71L62.89 352.11L63.25 346.69L63.61 350.31L63.96 348.84L64.32 351.29L64.68 351.40L65.03 354.21L65.39 353.88L65.75 351.94L66.10 354.65L66.46 354.39L66.81 352.25L67.17 346.02L67.53 351.23L67.88 351.78L68.24 352.19L68.60 353.38L68.95 353.78L69.31 354.98L69.67 351.62L70.02 349.56L70.38 351.56L70.74 353.68L71.09 354.11L71.45 355.13L71.80 352.48L72.16 353.10L72.52 349.84L72.87 353.27L73.23 352.04L73.59 349.06L73.94 350.63L74.30 351.22L74.66 353.77L75.01 350.87L75.37 351.86L75.73 354.32L76.08 356.05L76.44 353.90L76.79 355.26L77.15 354.61L77.51 350.35L77.86 351.59L78.22 355.49L78.58 358.78L78.93 353.93L79.29 348.61L79.65 350.29L80.00 352.40L80.36 355.94L80.72 355.93L81.07 352.29L81.43 353.75L81.78 348.34L82.14 351.51L82.50 354.59L82.85 352.17L83.21 353.06L83.57 355.02L83.92 353.54L84.28 352.55L84.64 353.37L84.99 351.84L85.35 355.84L85.71 346.02L86.06 350.20L86.42 350.42L86.77 353.03L87.13 353.01L87.49 354.03L87.84 351.04L88.20 348.91L88.56 351.39L88.91 352.48L89.27 351.63L89.63 351.67L89.98 351.06L90.34 352.76L90.70 354.99L91.05 355.33L91.41 349.96L91.76 349.93L92.12 356.97L92.48 354.67L92.83 353.69L93.19 349.71L93.55 352.57L93.90 352.62L94.26 352.64L94.62 354.13L94.97 349.87L95.33 349.30L95.69 352.59L96.04 353.55L96.40 354.97L96.75 349.42L97.11 349.66L97.47 350.68L97.82 351.41L98.18 350.69L98.54 351.02L98.89 353.06L99.25 352.48L99.61 350.11L99.96 352.43L100.32 351.49L100.68 351.06L101.03 354.40L101.39 356.12L101.74 355.93L102.10 353.44L102.46 352.48L102.81 350.16L103.17 353.29L103.53 358.15L103.88 353.97L104.24 354.27L104.60 352.99L104.95 354.47L105.31 351.52L105.67 352.06L106.02 350.16L106.38 351.11L106.73 348.86L107.09 354.96L107.45 349.07L107.80 357.05L108.16 353.39L108.52 353.84L108.87 349.29L109.23 350.83L109.59 351.14L109.94 357.51L110.30 350.63L110.66 353.68L111.01 352.55L111.37 351.47L111.72 350.34L112.08 353.15L112.44 354.92L112.79 349.36L113.15 349.35L113.51 358.49L113.86 357.49L114.22 353.86L114.58 352.50L114.93 351.66L115.29 352.40L115.65 353.13L116.00 352.18L116.36 352.59L116.71 351.70L117.07 350.76L117.43 348.87L117.78 348.87L118.14 349.68L118.50 348.10L118.85 352.12L119.21 349.07L119.57 350.55L119.92 354.16L120.28 350.65L120.64 352.61L120.99 349.85L121.35 349.58L121.70 349.64L122.06 350.21L122.42 353.45L122.77 352.84L123.13 351.51L123.49 351.97L123.84 351.29L124.20 351.24L124.56 349.86L124.91 353.23L125.27 351.70L125.63 349.09L125.98 353.20L126.34 357.22L126.69 352.87L127.05 353.17L127.41 356.73L127.76 355.36L128.12 352.81L128.48 352.89L128.83 348.75L129.19 350.47L129.55 354.82L129.90 351.83L130.26 350.37L130.62 352.92L130.97 353.85L131.33 353.25L131.68 352.42L132.04 352.58L132.40 353.63L132.75 353.66L133.11 355.69L133.47 352.22L133.82 350.79L134.18 354.23L134.54 352.10L134.89 358.78L135.25 356.75L135.61 353.30L135.96 355.29L136.32 350.37L136.67 350.79L137.03 353.09L137.39 351.58L137.74 354.28L138.10 354.18L138.46 354.37L138.81 351.72L139.17 349.98L139.53 354.22L139.88 351.74L140.24 354.72L140.60 350.09L140.95 348.97L141.31 350.19L141.66 353.60L142.02 356.27L142.38 357.39L142.73 358.08L143.09 355.21L143.45 353.91L143.80 352.53L144.16 356.45L144.52 353.62L144.87 350.60L145.23 356.97L145.59 358.78L145.94 356.42L146.30 355.56L146.65 356.66L147.01 352.25L147.37 351.06L147.72 352.29L148.08 354.51L148.44 353.56L148.79 353.90L149.15 347.75L149.51 351.79L149.86 352.38L150.22 355.94L150.58 352.47L150.93 353.59L151.29 353.09L151.64 352.59L152.00 355.66L152.36 358.42L152.71 356.05L153.07 353.23L153.43 353.32L153.78 355.26L154.14 354.39L154.50 351.37L154.85 350.12L155.21 348.19L155.57 347.42L155.92 348.87L156.28 351.18L156.63 354.52L156.99 351.54L157.35 353.25L157.70 351.15L158.06 352.19L158.42 355.56L158.77 355.17L159.13 356.74L159.49 356.44L159.84 351.46L160.20 350.85L160.56 353.81L160.91 348.45L161.27 350.10L161.62 347.40L161.98 348.78L162.34 349.77L162.69 349.14L163.05 348.01L163.41 350.84L163.76 356.45L164.12 348.45L164.48 353.61L164.83 351.98L165.19 351.48L165.55 354.01L165.90 351.09L166.26 349.53L166.61 349.79L166.97 348.64L167.33 348.36L167.68 357.22L168.04 354.38L168.40 353.04L168.75 356.82L169.11 356.79L169.47 354.06L169.82 354.73L170.18 352.00L170.54 351.40L170.89 355.24L171.25 351.87L171.60 354.72L171.96 353.15L172.32 348.91L172.67 348.40L173.03 348.93L173.39 355.40L173.74 349.79L174.10 351.13L174.46 352.07L174.81 350.29L175.17 351.25L175.53 352.73L175.88 352.64L176.24 355.25L176.59 352.65L176.95 348.72L177.31 351.85L177.66 355.67L178.02 351.06L178.38 348.75L178.73 352.90L179.09 348.24L179.45 349.87L179.80 348.62L180.16 355.82L180.52 353.72L180.87 358.45L181.23 358.78L181.58 353.12L181.94 354.54L182.30 352.39L182.65 353.06L183.01 353.85L183.37 350.78L183.72 350.54L184.08 351.40L184.44 351.48L184.79 353.12L185.15 353.54L185.51 352.31L185.86 352.61L186.22 352.95L186.57 348.33L186.93 348.76L187.29 348.21L187.64 349.45L188 350.40" fill="none" stroke="#2c8743" stroke-width="1.6" stroke-linejoin="round"/>
<path d="M152.00 352.4V356.31M152.36 352.4V359.63M152.71 352.4V356.78M153.07 352.4V353.40M153.43 352.4V353.50M153.78 352.4V355.83M154.14 352.4V354.78M154.50 352.4V351.17M154.85 352.4V349.66M155.21 352.4V347.35M155.57 352.4V346.42M155.92 352.4V348.17M156.28 352.4V350.94M156.63 352.4V354.94M156.99 352.4V351.36M157.35 352.4V353.42M157.70 352.4V350.90M158.06 352.4V352.14M158.42 352.4V356.19M158.77 352.4V355.72M159.13 352.4V357.61M159.49 352.4V357.25M159.84 352.4V351.27M160.20 352.4V350.54M160.56 352.4V354.09M160.91 352.4V347.66M161.27 352.4V349.64M161.62 352.4V346.40M161.98 352.4V348.06M162.34 352.4V349.24M162.69 352.4V348.49M163.05 352.4V347.13M163.41 352.4V350.53M163.76 352.4V357.26M164.12 352.4V347.66M164.48 352.4V353.85M164.83 352.4V351.90M165.19 352.4V351.30M165.55 352.4V354.33M165.90 352.4V350.83M166.26 352.4V348.96M166.61 352.4V349.27M166.97 352.4V347.89M167.33 352.4V347.55M167.68 352.4V358.18M168.04 352.4V354.78M168.40 352.4V353.16M168.75 352.4V357.70" stroke="#b86c52" stroke-width="0.5" fill="none" opacity="0.8"/>
<path d="M152.00 356.31L152.36 359.63L152.71 356.78L153.07 353.40L153.43 353.50L153.78 355.83L154.14 354.78L154.50 351.17L154.85 349.66L155.21 347.35L155.57 346.42L155.92 348.17L156.28 350.94L156.63 354.94L156.99 351.36L157.35 353.42L157.70 350.90L158.06 352.14L158.42 356.19L158.77 355.72L159.13 357.61L159.49 357.25L159.84 351.27L160.20 350.54L160.56 354.09L160.91 347.66L161.27 349.64L161.62 346.40L161.98 348.06L162.34 349.24L162.69 348.49L163.05 347.13L163.41 350.53L163.76 357.26L164.12 347.66L164.48 353.85L164.83 351.90L165.19 351.30L165.55 354.33L165.90 350.83L166.26 348.96L166.61 349.27L166.97 347.89L167.33 347.55L167.68 358.18L168.04 354.78L168.40 353.16L168.75 357.70" fill="none" stroke="#b8442c" stroke-width="1.6" stroke-linejoin="round" opacity="0.4"/>
<path d="M152.00 356.31h0M153.07 353.40h0M154.14 354.78h0M155.21 347.35h0M156.28 350.94h0M157.35 353.42h0M158.42 356.19h0M159.49 357.25h0M160.56 354.09h0M161.62 346.40h0M162.69 348.49h0M163.76 357.26h0M164.83 351.90h0M165.90 350.83h0M166.97 347.89h0M168.04 354.78h0" stroke="#5a2a22" stroke-width="1.6" stroke-linecap="round" fill="none" opacity="0.8"/>
<path d="M61.5 340.7h0M75.5 341.8h0M34.5 340.9h0M66.5 359.3h0M77.5 356h0M110.5 345.7h0M139.5 344h0M156.5 340.9h0M165.5 345.7h0M25.11 357.06h0M28.68 355.55h0M34.74 355.02h0M35.09 353.59h0M35.81 361.68h0M36.16 351.50h0M38.66 351.57h0M41.86 365.16h0M43.65 345.75h0M60.40 344.04h0M61.82 349.87h0M62.89 351.82h0M77.86 350.77h0M84.99 351.29h0M86.06 348.01h0M96.40 357.54h0M102.46 352.56h0M103.17 354.19h0M106.38 349.83h0M112.44 357.43h0M113.15 346.30h0M116.36 352.78h0M123.84 350.17h0M129.19 348.54h0M139.88 351.09h0M142.38 362.37h0M157.70 349.90h0M178.73 353.41h0" stroke="#27402e" stroke-width="1.9" stroke-linecap="round" fill="none"/>
<path d="M26.5 287.5h0M26.5 379.5h0M26.5 329h0M27.5 333.5h0M26.5 360.4h0M27.5 364.9h0M64.5 305h0M55.5 338.7h0M30.5 341.8h0M31.5 365.6h0M42.5 362.7h0M98.5 362.7h0M134.5 331.6h0M158.5 314.6h0M167.5 306.9h0M172.5 335.2h0M172.5 384.7h0M187.5 338.5h0M105.5 364.8h0M110.5 369.1h0M131.5 363.6h0M137.5 365.5h0M156.5 369.6h0M157.5 365.5h0M159.5 361.5h0M162.5 363.1h0M167.5 363.1h0M176.5 366.3h0M181.5 367.2h0" stroke="#5a2a22" stroke-width="1.9" stroke-linecap="round" fill="none"/>
<line x1="180.1" x2="180.1" y1="287.5" y2="384.7" stroke="#4550c8" stroke-width="0.6" stroke-dasharray="1.4,0.9"/>
<line x1="186.8" x2="186.8" y1="287.5" y2="384.7" stroke="#4550c8" stroke-width="0.6" stroke-dasharray="1.4,0.9"/>
<rect x="16.5" y="283.2" width="178.9" height="106.4" fill="none" stroke="#8a8a8a" stroke-width="0.95"/>
<line x1="14.9" x2="16.5" y1="285.8" y2="285.8" stroke="#8a8a8a" stroke-width="0.5"/>
<line x1="14.9" x2="16.5" y1="298.99" y2="298.99" stroke="#8a8a8a" stroke-width="0.5"/>
<line x1="14.9" x2="16.5" y1="312.17" y2="312.17" stroke="#8a8a8a" stroke-width="0.5"/>
<line x1="14.9" x2="16.5" y1="325.36" y2="325.36" stroke="#8a8a8a" stroke-width="0.5"/>
<line x1="14.9" x2="16.5" y1="338.54" y2="338.54" stroke="#8a8a8a" stroke-width="0.5"/>
<line x1="14.9" x2="16.5" y1="351.73" y2="351.73" stroke="#8a8a8a" stroke-width="0.5"/>
<line x1="14.9" x2="16.5" y1="364.91" y2="364.91" stroke="#8a8a8a" stroke-width="0.5"/>
<line x1="14.9" x2="16.5" y1="378.1" y2="378.1" stroke="#8a8a8a" stroke-width="0.5"/>
<line x1="24.4" x2="24.4" y1="389.6" y2="391.1" stroke="#8a8a8a" stroke-width="0.5"/>
<line x1="25.1" x2="25.1" y1="389.6" y2="391.1" stroke="#8a8a8a" stroke-width="0.5"/>
<line x1="33" x2="33" y1="389.6" y2="391.1" stroke="#8a8a8a" stroke-width="0.5"/>
<line x1="40.5" x2="40.5" y1="389.6" y2="391.1" stroke="#8a8a8a" stroke-width="0.5"/>
<line x1="48.1" x2="48.1" y1="389.6" y2="391.1" stroke="#8a8a8a" stroke-width="0.5"/>
<line x1="55.3" x2="55.3" y1="389.6" y2="391.1" stroke="#8a8a8a" stroke-width="0.5"/>
<line x1="62.6" x2="62.6" y1="389.6" y2="391.1" stroke="#8a8a8a" stroke-width="0.5"/>
<line x1="68.4" x2="68.4" y1="389.6" y2="391.1" stroke="#8a8a8a" stroke-width="0.5"/>
<line x1="73.8" x2="73.8" y1="389.6" y2="391.1" stroke="#8a8a8a" stroke-width="0.5"/>
<line x1="80.1" x2="80.1" y1="389.6" y2="391.1" stroke="#8a8a8a" stroke-width="0.5"/>
<line x1="86.4" x2="86.4" y1="389.6" y2="391.1" stroke="#8a8a8a" stroke-width="0.5"/>
<line x1="92.4" x2="92.4" y1="389.6" y2="391.1" stroke="#8a8a8a" stroke-width="0.5"/>
<line x1="98.5" x2="98.5" y1="389.6" y2="391.1" stroke="#8a8a8a" stroke-width="0.5"/>
<line x1="104.5" x2="104.5" y1="389.6" y2="391.1" stroke="#8a8a8a" stroke-width="0.5"/>
<line x1="110" x2="110" y1="389.6" y2="391.1" stroke="#8a8a8a" stroke-width="0.5"/>
<line x1="116.2" x2="116.2" y1="389.6" y2="391.1" stroke="#8a8a8a" stroke-width="0.5"/>
<line x1="122.9" x2="122.9" y1="389.6" y2="391.1" stroke="#8a8a8a" stroke-width="0.5"/>
<line x1="129.4" x2="129.4" y1="389.6" y2="391.1" stroke="#8a8a8a" stroke-width="0.5"/>
<line x1="136.2" x2="136.2" y1="389.6" y2="391.1" stroke="#8a8a8a" stroke-width="0.5"/>
<line x1="142.9" x2="142.9" y1="389.6" y2="391.1" stroke="#8a8a8a" stroke-width="0.5"/>
<line x1="151.1" x2="151.1" y1="389.6" y2="391.1" stroke="#8a8a8a" stroke-width="0.5"/>
<line x1="158.6" x2="158.6" y1="389.6" y2="391.1" stroke="#8a8a8a" stroke-width="0.5"/>
<line x1="165.3" x2="165.3" y1="389.6" y2="391.1" stroke="#8a8a8a" stroke-width="0.5"/>
<line x1="172.3" x2="172.3" y1="389.6" y2="391.1" stroke="#8a8a8a" stroke-width="0.5"/>
<line x1="180.3" x2="180.3" y1="389.6" y2="391.1" stroke="#8a8a8a" stroke-width="0.5"/>
<line x1="181.8" x2="181.8" y1="389.6" y2="391.1" stroke="#8a8a8a" stroke-width="0.5"/>
<line x1="187.3" x2="187.3" y1="389.6" y2="391.1" stroke="#8a8a8a" stroke-width="0.5"/>
<rect x="149" y="284.3" width="44.2" height="10.2" fill="#fff" fill-opacity="0.85" stroke="#d4d4d4" stroke-width="0.4" rx="0.8"/>
<line x1="150.5" x2="158" y1="287.4" y2="287.4" stroke="#4550c8" stroke-width="0.6" stroke-dasharray="2,1"/>
<line x1="150.5" x2="158" y1="291.6" y2="291.6" stroke="#dccb62" stroke-width="0.7" stroke-dasharray="2,0.8"/>
<rect x="223.9" y="349.5" width="164.6" height="12" fill="#e8fbf7"/>
<rect x="247.5" y="341" width="4.5" height="45" fill="#fdedf3"/>
<rect x="280" y="285" width="7.3" height="103" fill="#fdedf3"/>
<rect x="335.9" y="340" width="11.9" height="32" fill="#fdedf3"/>
<rect x="368.2" y="310" width="8.4" height="61" fill="#fdedf3"/>
<rect x="381.3" y="342" width="6" height="28" fill="#fdedf3"/>
<rect x="223.3" y="341.7" width="3.6" height="16.4" fill="#fef5f8"/>
<rect x="223.5" y="352.1" width="3.6" height="21.9" fill="#fef5f8"/>
<rect x="248" y="340.1" width="3.6" height="18" fill="#fef5f8"/>
<rect x="248.2" y="352.1" width="3.6" height="34.4" fill="#fef5f8"/>
<rect x="247.8" y="352.1" width="3.6" height="27" fill="#fef5f8"/>
<rect x="259.2" y="352.1" width="3.6" height="18.7" fill="#fef5f8"/>
<rect x="259.5" y="345" width="3.6" height="13.1" fill="#fef5f8"/>
<rect x="268.2" y="335.7" width="3.6" height="22.4" fill="#fef5f8"/>
<rect x="279.7" y="284.9" width="3.6" height="73.2" fill="#fef5f8"/>
<rect x="280.1" y="352.1" width="3.6" height="36" fill="#fef5f8"/>
<rect x="280.8" y="335" width="3.6" height="23.1" fill="#fef5f8"/>
<rect x="281.2" y="352.1" width="3.6" height="19.2" fill="#fef5f8"/>
<rect x="281.6" y="342" width="3.6" height="16.1" fill="#fef5f8"/>
<rect x="280.4" y="352.1" width="3.6" height="12.9" fill="#fef5f8"/>
<rect x="282.2" y="352.1" width="3.6" height="8.9" fill="#fef5f8"/>
<rect x="282.7" y="347" width="3.6" height="11.1" fill="#fef5f8"/>
<rect x="283.2" y="352.1" width="3.6" height="15.9" fill="#fef5f8"/>
<rect x="284.2" y="342" width="3.6" height="16.1" fill="#fef5f8"/>
<rect x="289.1" y="352.1" width="3.6" height="20.3" fill="#fef5f8"/>
<rect x="295.8" y="352.1" width="3.6" height="15.8" fill="#fef5f8"/>
<rect x="304.9" y="352.1" width="3.6" height="18.8" fill="#fef5f8"/>
<rect x="314.5" y="352.1" width="3.6" height="13.3" fill="#fef5f8"/>
<rect x="336.5" y="341" width="3.6" height="17.1" fill="#fef5f8"/>
<rect x="336.8" y="352.1" width="3.6" height="21.2" fill="#fef5f8"/>
<rect x="338.4" y="352.1" width="3.6" height="13.9" fill="#fef5f8"/>
<rect x="341.3" y="352.1" width="3.6" height="21.2" fill="#fef5f8"/>
<rect x="343.2" y="352.1" width="3.6" height="21.2" fill="#fef5f8"/>
<rect x="343.5" y="344.1" width="3.6" height="14" fill="#fef5f8"/>
<rect x="339.7" y="347" width="3.6" height="11.1" fill="#fef5f8"/>
<rect x="367.1" y="335.5" width="3.6" height="22.6" fill="#fef5f8"/>
<rect x="371.9" y="309.2" width="3.6" height="48.9" fill="#fef5f8"/>
<rect x="372.4" y="352.1" width="3.6" height="20" fill="#fef5f8"/>
<rect x="377.6" y="344.6" width="3.6" height="13.5" fill="#fef5f8"/>
<rect x="381.5" y="352.1" width="3.6" height="18.1" fill="#fef5f8"/>
<rect x="384.8" y="341.7" width="3.6" height="16.4" fill="#fef5f8"/>
<line x1="224.4" x2="388" y1="348.8" y2="348.8" stroke="#dccb62" stroke-width="0.85" stroke-dasharray="2.2,0.7"/>
<line x1="224.4" x2="388" y1="361.8" y2="361.8" stroke="#dccb62" stroke-width="0.85" stroke-dasharray="2.2,0.7"/>
<path d="M224.4 355.1V353.91M224.69 355.1V358.89M224.99 355.1V353.10M225.28 355.1V354.29M225.57 355.1V357.63M225.86 355.1V353.19M226.16 355.1V354.65M226.45 355.1V357.36M226.74 355.1V354.94M227.03 355.1V352.20M227.33 355.1V352.75M227.62 355.1V357.58M227.91 355.1V352.53M228.20 355.1V351.71M228.50 355.1V352.43M228.79 355.1V353.15M229.08 355.1V351.29M229.38 355.1V354.53M229.67 355.1V358.41M229.96 355.1V352.17M230.25 355.1V356.19M230.55 355.1V358.45M230.84 355.1V354.22M231.13 355.1V354.35M231.42 355.1V355.67M231.72 355.1V355.88M232.01 355.1V352.80M232.30 355.1V351.83M232.59 355.1V355.08M232.89 355.1V354.96M233.18 355.1V355.17M233.47 355.1V355.48M233.77 355.1V357.82M234.06 355.1V351.71M234.35 355.1V355.44M234.64 355.1V353.59M234.94 355.1V352.14M235.23 355.1V353.09M235.52 355.1V352.52M235.81 355.1V354.28M236.11 355.1V357.18M236.40 355.1V360.32M236.69 355.1V356.37M236.98 355.1V358.36M237.28 355.1V357.25M237.57 355.1V355.42M237.86 355.1V359.39M238.16 355.1V356.49M238.45 355.1V353.39M238.74 355.1V352.19M239.03 355.1V359.14M239.33 355.1V355.08M239.62 355.1V352.71M239.91 355.1V356.40M240.20 355.1V356.93M240.50 355.1V355.65M240.79 355.1V354.61M241.08 355.1V356.89M241.37 355.1V353.77M241.67 355.1V355.64M241.96 355.1V357.53M242.25 355.1V354.43M242.55 355.1V354.90M242.84 355.1V354.76M243.13 355.1V350.93M243.42 355.1V352.66M243.72 355.1V357.77M244.01 355.1V351.88M244.30 355.1V351.77M244.59 355.1V349.38M244.89 355.1V351.52M245.18 355.1V357.95M245.47 355.1V354.41M245.76 355.1V353.50M246.06 355.1V355.50M246.35 355.1V356.09M246.64 355.1V352.79M246.94 355.1V352.06M247.23 355.1V356.44M247.52 355.1V358.32M247.81 355.1V353.53M248.11 355.1V352.81M248.40 355.1V352.14M248.69 355.1V355.54M248.98 355.1V351.56M249.28 355.1V349.38M249.57 355.1V352.34M249.86 355.1V356.55M250.15 355.1V351.74M250.45 355.1V352.09M250.74 355.1V352.97M251.03 355.1V354.62M251.33 355.1V352.43M251.62 355.1V354.57M251.91 355.1V351.12M252.20 355.1V351.26M252.50 355.1V352.12M252.79 355.1V353.61M253.08 355.1V350.45M253.37 355.1V353.42M253.67 355.1V354.96M253.96 355.1V354.25M254.25 355.1V357.30M254.54 355.1V356.76M254.84 355.1V353.18M255.13 355.1V353.04M255.42 355.1V353.14M255.72 355.1V352.75M256.01 355.1V355.45M256.30 355.1V354.15M256.59 355.1V352.62M256.89 355.1V355.43M257.18 355.1V355.04M257.47 355.1V351.98M257.76 355.1V353.05M258.06 355.1V352.32M258.35 355.1V360.59M258.64 355.1V352.34M258.93 355.1V354.72M259.23 355.1V358.30M259.52 355.1V359.58M259.81 355.1V360.82M260.11 355.1V358.66M260.40 355.1V355.96M260.69 355.1V352.62M260.98 355.1V351.63M261.28 355.1V350.79M261.57 355.1V352.78M261.86 355.1V359.11M262.15 355.1V358.85M262.45 355.1V357.37M262.74 355.1V360.71M263.03 355.1V356.50M263.32 355.1V354.86M263.62 355.1V351.53M263.91 355.1V355.59M264.20 355.1V356.44M264.50 355.1V357.23M264.79 355.1V353.33M265.08 355.1V357.59M265.37 355.1V357.63M265.67 355.1V357.11M265.96 355.1V352.17M266.25 355.1V354.04M266.54 355.1V352.01M266.84 355.1V352.08M267.13 355.1V349.59M267.42 355.1V349.38M267.71 355.1V350.25M268.01 355.1V353.98M268.30 355.1V354.44M268.59 355.1V354.58M268.89 355.1V354.41M269.18 355.1V355.72M269.47 355.1V353.68M269.76 355.1V352.69M270.06 355.1V356.52M270.35 355.1V353.54M270.64 355.1V356.35M270.93 355.1V355.37M271.23 355.1V354.29M271.52 355.1V352.34M271.81 355.1V349.89M272.10 355.1V354.41M272.40 355.1V357.08M272.69 355.1V357.38M272.98 355.1V357.50M273.28 355.1V360.15M273.57 355.1V356.01M273.86 355.1V356.28M274.15 355.1V354.25M274.45 355.1V356.47M274.74 355.1V358.87M275.03 355.1V353.22M275.32 355.1V354.68M275.62 355.1V354.00M275.91 355.1V353.74M276.20 355.1V355.01M276.49 355.1V351.23M276.79 355.1V355.97M277.08 355.1V359.54M277.37 355.1V357.40M277.67 355.1V351.45M277.96 355.1V353.80M278.25 355.1V357.10M278.54 355.1V359.34M278.84 355.1V354.29M279.13 355.1V352.72M279.42 355.1V355.32M279.71 355.1V355.22M280.01 355.1V349.45M280.30 355.1V349.39M280.59 355.1V353.64M280.88 355.1V353.39M281.18 355.1V353.73M281.47 355.1V353.20M281.76 355.1V354.52M282.06 355.1V357.50M282.35 355.1V360.19M282.64 355.1V355.95M282.93 355.1V352.15M283.23 355.1V354.53M283.52 355.1V349.94M283.81 355.1V352.99M284.10 355.1V355.07M284.40 355.1V354.86M284.69 355.1V357.49M284.98 355.1V353.84M285.27 355.1V357.74M285.57 355.1V352.93M285.86 355.1V356.61M286.15 355.1V355.24M286.45 355.1V354.57M286.74 355.1V355.84M287.03 355.1V349.38M287.32 355.1V352.93M287.62 355.1V353.14M287.91 355.1V353.80M288.20 355.1V349.85M288.49 355.1V353.32M288.79 355.1V356.51M289.08 355.1V356.23M289.37 355.1V360.82M289.66 355.1V355.90M289.96 355.1V355.49M290.25 355.1V358.76M290.54 355.1V354.55M290.84 355.1V356.80M291.13 355.1V355.39M291.42 355.1V355.13M291.71 355.1V354.64M292.01 355.1V354.24M292.30 355.1V353.52M292.59 355.1V355.60M292.88 355.1V351.20M293.18 355.1V350.93M293.47 355.1V351.23M293.76 355.1V349.38M294.05 355.1V354.65M294.35 355.1V355.58M294.64 355.1V358.15M294.93 355.1V354.97M295.23 355.1V355.46M295.52 355.1V351.87M295.81 355.1V356.61M296.10 355.1V359.27M296.40 355.1V354.79M296.69 355.1V355.35M296.98 355.1V352.21M297.27 355.1V354.07M297.57 355.1V355.29M297.86 355.1V351.77M298.15 355.1V354.73M298.44 355.1V355.00M298.74 355.1V356.51M299.03 355.1V355.98M299.32 355.1V355.66M299.62 355.1V353.28M299.91 355.1V352.09M300.20 355.1V356.92M300.49 355.1V359.67M300.79 355.1V356.82M301.08 355.1V355.02M301.37 355.1V355.00M301.66 355.1V352.68M301.96 355.1V350.71M302.25 355.1V352.42M302.54 355.1V354.69M302.83 355.1V353.17M303.13 355.1V352.70M303.42 355.1V354.38M303.71 355.1V353.35M304.01 355.1V352.75M304.30 355.1V353.91M304.59 355.1V355.75M304.88 355.1V358.44M305.18 355.1V357.61M305.47 355.1V357.13M305.76 355.1V356.55M306.05 355.1V356.82M306.35 355.1V358.96M306.64 355.1V357.99M306.93 355.1V354.40M307.22 355.1V349.90M307.52 355.1V355.51M307.81 355.1V353.37M308.10 355.1V352.55M308.39 355.1V355.38M308.69 355.1V353.26M308.98 355.1V355.61M309.27 355.1V358.90M309.57 355.1V352.91M309.86 355.1V355.30M310.15 355.1V352.19M310.44 355.1V352.86M310.74 355.1V355.11M311.03 355.1V357.19M311.32 355.1V355.52M311.61 355.1V350.32M311.91 355.1V352.82M312.20 355.1V356.39M312.49 355.1V358.21M312.78 355.1V358.55M313.08 355.1V356.69M313.37 355.1V356.64M313.66 355.1V355.60M313.96 355.1V357.28M314.25 355.1V353.13M314.54 355.1V352.75M314.83 355.1V357.02M315.13 355.1V356.24M315.42 355.1V351.42M315.71 355.1V355.44M316.00 355.1V356.93M316.30 355.1V356.09M316.59 355.1V355.16M316.88 355.1V354.55M317.17 355.1V354.72M317.47 355.1V360.49M317.76 355.1V356.68M318.05 355.1V354.58M318.35 355.1V354.92M318.64 355.1V352.58M318.93 355.1V354.45M319.22 355.1V357.59M319.52 355.1V353.19M319.81 355.1V352.73M320.10 355.1V350.07M320.39 355.1V351.10M320.69 355.1V349.38M320.98 355.1V353.54M321.27 355.1V357.49M321.56 355.1V355.48M321.86 355.1V356.00M322.15 355.1V356.23M322.44 355.1V356.91M322.74 355.1V358.30M323.03 355.1V357.53M323.32 355.1V359.86M323.61 355.1V355.53M323.91 355.1V356.64M324.20 355.1V353.07M324.49 355.1V353.19M324.78 355.1V354.13M325.08 355.1V354.07M325.37 355.1V352.31M325.66 355.1V356.26M325.95 355.1V357.19M326.25 355.1V352.60M326.54 355.1V357.96M326.83 355.1V355.08M327.13 355.1V351.57M327.42 355.1V354.19M327.71 355.1V354.38M328.00 355.1V354.54M328.30 355.1V352.36M328.59 355.1V355.52M328.88 355.1V351.76M329.17 355.1V355.41M329.47 355.1V354.16M329.76 355.1V357.59M330.05 355.1V358.07M330.34 355.1V356.49M330.64 355.1V355.87M330.93 355.1V355.77M331.22 355.1V355.29M331.52 355.1V350.73M331.81 355.1V354.27M332.10 355.1V355.53M332.39 355.1V354.22M332.69 355.1V353.11M332.98 355.1V355.24M333.27 355.1V355.84M333.56 355.1V356.14M333.86 355.1V352.39M334.15 355.1V354.13M334.44 355.1V355.87M334.73 355.1V356.56M335.03 355.1V353.49M335.32 355.1V354.08M335.61 355.1V352.22M335.91 355.1V357.08M336.20 355.1V355.49M336.49 355.1V355.99M336.78 355.1V357.74M337.08 355.1V357.94M337.37 355.1V355.24M337.66 355.1V353.15M337.95 355.1V353.66M338.25 355.1V353.48M338.54 355.1V351.15M338.83 355.1V350.64M339.12 355.1V355.70M339.42 355.1V353.73M339.71 355.1V356.40M340.00 355.1V356.65M340.30 355.1V358.70M340.59 355.1V357.73M340.88 355.1V351.53M341.17 355.1V350.60M341.47 355.1V351.07M341.76 355.1V351.71M342.05 355.1V354.17M342.34 355.1V355.74M342.64 355.1V354.36M342.93 355.1V351.36M343.22 355.1V350.21M343.51 355.1V353.02M343.81 355.1V349.38M344.10 355.1V352.57M344.39 355.1V353.70M344.69 355.1V357.79M344.98 355.1V352.70M345.27 355.1V353.81M345.56 355.1V354.54M345.86 355.1V353.54M346.15 355.1V354.07M346.44 355.1V349.79M346.73 355.1V349.76M347.03 355.1V350.11M347.32 355.1V351.20M347.61 355.1V352.94M347.90 355.1V355.34M348.20 355.1V355.46M348.49 355.1V358.37M348.78 355.1V350.62M349.08 355.1V356.07M349.37 355.1V353.51M349.66 355.1V353.49M349.95 355.1V351.45M350.25 355.1V353.34M350.54 355.1V351.56M350.83 355.1V351.35M351.12 355.1V356.55M351.42 355.1V355.45M351.71 355.1V354.90M352.00 355.1V353.52M352.29 355.1V354.05M352.59 355.1V351.28M352.88 355.1V358.14M353.17 355.1V355.60M353.47 355.1V351.97M353.76 355.1V353.68M354.05 355.1V355.43M354.34 355.1V357.72M354.64 355.1V360.03M354.93 355.1V353.85M355.22 355.1V355.22M355.51 355.1V359.96M355.81 355.1V359.27M356.10 355.1V359.34M356.39 355.1V359.97M356.68 355.1V360.82M356.98 355.1V360.82M357.27 355.1V355.59M357.56 355.1V355.74M357.86 355.1V355.22M358.15 355.1V355.01M358.44 355.1V352.18M358.73 355.1V351.44M359.03 355.1V355.39M359.32 355.1V354.06M359.61 355.1V353.68M359.90 355.1V356.97M360.20 355.1V354.30M360.49 355.1V355.65M360.78 355.1V354.96M361.07 355.1V354.70M361.37 355.1V355.99M361.66 355.1V353.12M361.95 355.1V354.89M362.25 355.1V351.17M362.54 355.1V355.40M362.83 355.1V355.57M363.12 355.1V350.96M363.42 355.1V353.89M363.71 355.1V357.55M364.00 355.1V356.46M364.29 355.1V352.51M364.59 355.1V350.68M364.88 355.1V352.42M365.17 355.1V349.38M365.46 355.1V355.31M365.76 355.1V357.91M366.05 355.1V357.77M366.34 355.1V352.61M366.64 355.1V353.27M366.93 355.1V353.13M367.22 355.1V354.53M367.51 355.1V355.19M367.81 355.1V358.68M368.10 355.1V360.82M368.39 355.1V353.98M368.68 355.1V350.74M368.98 355.1V355.92M369.27 355.1V356.27M369.56 355.1V355.23M369.85 355.1V355.44M370.15 355.1V354.43M370.44 355.1V354.75M370.73 355.1V354.13M371.03 355.1V353.27M371.32 355.1V354.35M371.61 355.1V349.38M371.90 355.1V350.60M372.20 355.1V356.19M372.49 355.1V358.60M372.78 355.1V352.72M373.07 355.1V355.94M373.37 355.1V352.29M373.66 355.1V353.43M373.95 355.1V358.23M374.24 355.1V352.19M374.54 355.1V356.71M374.83 355.1V359.52M375.12 355.1V359.70M375.42 355.1V354.03M375.71 355.1V353.91M376.00 355.1V353.73M376.29 355.1V353.71M376.59 355.1V351.82M376.88 355.1V352.66M377.17 355.1V353.97M377.46 355.1V359.71M377.76 355.1V355.81M378.05 355.1V356.02M378.34 355.1V358.40M378.63 355.1V358.09M378.93 355.1V354.43M379.22 355.1V355.32M379.51 355.1V357.28M379.81 355.1V353.79M380.10 355.1V352.84M380.39 355.1V354.99M380.68 355.1V357.30M380.98 355.1V360.63M381.27 355.1V356.68M381.56 355.1V357.43M381.85 355.1V355.65M382.15 355.1V355.40M382.44 355.1V356.92M382.73 355.1V358.63M383.02 355.1V351.99M383.32 355.1V353.92M383.61 355.1V356.64M383.90 355.1V354.67M384.20 355.1V354.44M384.49 355.1V355.10M384.78 355.1V353.00M385.07 355.1V357.22M385.37 355.1V351.16M385.66 355.1V353.99M385.95 355.1V353.28M386.24 355.1V354.40M386.54 355.1V352.48M386.83 355.1V353.38M387.12 355.1V352.49M387.41 355.1V349.83M387.71 355.1V356.35M388 355.1V356.53" stroke="#587a62" stroke-width="0.5" fill="none"/>
<path d="" stroke="#3c5c47" stroke-width="0.55" fill="none"/>
<path d="M325.5 355.1V349.5" stroke="#3c5c47" stroke-width="0.8" fill="none"/>
<path d="M225.5 355.1V344.7M225.5 355.1V371M249.5 355.1V343.1M250.5 355.1V383.5M249.5 355.1V376.1M261.5 355.1V367.8M261.5 355.1V348M270.5 355.1V338.7M281.5 355.1V287.9M281.5 355.1V385.1M282.5 355.1V338M283.5 355.1V368.3M283.5 355.1V345M282.5 355.1V362M284.5 355.1V358M284.5 355.1V350M285.5 355.1V365M286.5 355.1V345M290.5 355.1V369.4M297.5 355.1V364.9M306.5 355.1V367.9M316.5 355.1V362.4M338.5 355.1V344M338.5 355.1V370.3M340.5 355.1V363M343.5 355.1V370.3M345.5 355.1V370.3M345.5 355.1V347.1M341.5 355.1V350M368.5 355.1V338.5M373.5 355.1V312.2M374.5 355.1V369.1M379.5 355.1V347.6M383.5 355.1V367.2M386.5 355.1V344.7" stroke="#b86c52" stroke-width="0.7" fill="none"/>
<path d="M224.4 353.91L224.69 358.89L224.99 353.10L225.28 354.29L225.57 357.63L225.86 353.19L226.16 354.65L226.45 357.36L226.74 354.94L227.03 352.20L227.33 352.75L227.62 357.58L227.91 352.53L228.20 351.71L228.50 352.43L228.79 353.15L229.08 351.29L229.38 354.53L229.67 358.41L229.96 352.17L230.25 356.19L230.55 358.45L230.84 354.22L231.13 354.35L231.42 355.67L231.72 355.88L232.01 352.80L232.30 351.83L232.59 355.08L232.89 354.96L233.18 355.17L233.47 355.48L233.77 357.82L234.06 351.71L234.35 355.44L234.64 353.59L234.94 352.14L235.23 353.09L235.52 352.52L235.81 354.28L236.11 357.18L236.40 360.32L236.69 356.37L236.98 358.36L237.28 357.25L237.57 355.42L237.86 359.39L238.16 356.49L238.45 353.39L238.74 352.19L239.03 359.14L239.33 355.08L239.62 352.71L239.91 356.40L240.20 356.93L240.50 355.65L240.79 354.61L241.08 356.89L241.37 353.77L241.67 355.64L241.96 357.53L242.25 354.43L242.55 354.90L242.84 354.76L243.13 350.93L243.42 352.66L243.72 357.77L244.01 351.88L244.30 351.77L244.59 349.38L244.89 351.52L245.18 357.95L245.47 354.41L245.76 353.50L246.06 355.50L246.35 356.09L246.64 352.79L246.94 352.06L247.23 356.44L247.52 358.32L247.81 353.53L248.11 352.81L248.40 352.14L248.69 355.54L248.98 351.56L249.28 349.38L249.57 352.34L249.86 356.55L250.15 351.74L250.45 352.09L250.74 352.97L251.03 354.62L251.33 352.43L251.62 354.57L251.91 351.12L252.20 351.26L252.50 352.12L252.79 353.61L253.08 350.45L253.37 353.42L253.67 354.96L253.96 354.25L254.25 357.30L254.54 356.76L254.84 353.18L255.13 353.04L255.42 353.14L255.72 352.75L256.01 355.45L256.30 354.15L256.59 352.62L256.89 355.43L257.18 355.04L257.47 351.98L257.76 353.05L258.06 352.32L258.35 360.59L258.64 352.34L258.93 354.72L259.23 358.30L259.52 359.58L259.81 360.82L260.11 358.66L260.40 355.96L260.69 352.62L260.98 351.63L261.28 350.79L261.57 352.78L261.86 359.11L262.15 358.85L262.45 357.37L262.74 360.71L263.03 356.50L263.32 354.86L263.62 351.53L263.91 355.59L264.20 356.44L264.50 357.23L264.79 353.33L265.08 357.59L265.37 357.63L265.67 357.11L265.96 352.17L266.25 354.04L266.54 352.01L266.84 352.08L267.13 349.59L267.42 349.38L267.71 350.25L268.01 353.98L268.30 354.44L268.59 354.58L268.89 354.41L269.18 355.72L269.47 353.68L269.76 352.69L270.06 356.52L270.35 353.54L270.64 356.35L270.93 355.37L271.23 354.29L271.52 352.34L271.81 349.89L272.10 354.41L272.40 357.08L272.69 357.38L272.98 357.50L273.28 360.15L273.57 356.01L273.86 356.28L274.15 354.25L274.45 356.47L274.74 358.87L275.03 353.22L275.32 354.68L275.62 354.00L275.91 353.74L276.20 355.01L276.49 351.23L276.79 355.97L277.08 359.54L277.37 357.40L277.67 351.45L277.96 353.80L278.25 357.10L278.54 359.34L278.84 354.29L279.13 352.72L279.42 355.32L279.71 355.22L280.01 349.45L280.30 349.39L280.59 353.64L280.88 353.39L281.18 353.73L281.47 353.20L281.76 354.52L282.06 357.50L282.35 360.19L282.64 355.95L282.93 352.15L283.23 354.53L283.52 349.94L283.81 352.99L284.10 355.07L284.40 354.86L284.69 357.49L284.98 353.84L285.27 357.74L285.57 352.93L285.86 356.61L286.15 355.24L286.45 354.57L286.74 355.84L287.03 349.38L287.32 352.93L287.62 353.14L287.91 353.80L288.20 349.85L288.49 353.32L288.79 356.51L289.08 356.23L289.37 360.82L289.66 355.90L289.96 355.49L290.25 358.76L290.54 354.55L290.84 356.80L291.13 355.39L291.42 355.13L291.71 354.64L292.01 354.24L292.30 353.52L292.59 355.60L292.88 351.20L293.18 350.93L293.47 351.23L293.76 349.38L294.05 354.65L294.35 355.58L294.64 358.15L294.93 354.97L295.23 355.46L295.52 351.87L295.81 356.61L296.10 359.27L296.40 354.79L296.69 355.35L296.98 352.21L297.27 354.07L297.57 355.29L297.86 351.77L298.15 354.73L298.44 355.00L298.74 356.51L299.03 355.98L299.32 355.66L299.62 353.28L299.91 352.09L300.20 356.92L300.49 359.67L300.79 356.82L301.08 355.02L301.37 355.00L301.66 352.68L301.96 350.71L302.25 352.42L302.54 354.69L302.83 353.17L303.13 352.70L303.42 354.38L303.71 353.35L304.01 352.75L304.30 353.91L304.59 355.75L304.88 358.44L305.18 357.61L305.47 357.13L305.76 356.55L306.05 356.82L306.35 358.96L306.64 357.99L306.93 354.40L307.22 349.90L307.52 355.51L307.81 353.37L308.10 352.55L308.39 355.38L308.69 353.26L308.98 355.61L309.27 358.90L309.57 352.91L309.86 355.30L310.15 352.19L310.44 352.86L310.74 355.11L311.03 357.19L311.32 355.52L311.61 350.32L311.91 352.82L312.20 356.39L312.49 358.21L312.78 358.55L313.08 356.69L313.37 356.64L313.66 355.60L313.96 357.28L314.25 353.13L314.54 352.75L314.83 357.02L315.13 356.24L315.42 351.42L315.71 355.44L316.00 356.93L316.30 356.09L316.59 355.16L316.88 354.55L317.17 354.72L317.47 360.49L317.76 356.68L318.05 354.58L318.35 354.92L318.64 352.58L318.93 354.45L319.22 357.59L319.52 353.19L319.81 352.73L320.10 350.07L320.39 351.10L320.69 349.38L320.98 353.54L321.27 357.49L321.56 355.48L321.86 356.00L322.15 356.23L322.44 356.91L322.74 358.30L323.03 357.53L323.32 359.86L323.61 355.53L323.91 356.64L324.20 353.07L324.49 353.19L324.78 354.13L325.08 354.07L325.37 352.31L325.66 356.26L325.95 357.19L326.25 352.60L326.54 357.96L326.83 355.08L327.13 351.57L327.42 354.19L327.71 354.38L328.00 354.54L328.30 352.36L328.59 355.52L328.88 351.76L329.17 355.41L329.47 354.16L329.76 357.59L330.05 358.07L330.34 356.49L330.64 355.87L330.93 355.77L331.22 355.29L331.52 350.73L331.81 354.27L332.10 355.53L332.39 354.22L332.69 353.11L332.98 355.24L333.27 355.84L333.56 356.14L333.86 352.39L334.15 354.13L334.44 355.87L334.73 356.56L335.03 353.49L335.32 354.08L335.61 352.22L335.91 357.08L336.20 355.49L336.49 355.99L336.78 357.74L337.08 357.94L337.37 355.24L337.66 353.15L337.95 353.66L338.25 353.48L338.54 351.15L338.83 350.64L339.12 355.70L339.42 353.73L339.71 356.40L340.00 356.65L340.30 358.70L340.59 357.73L340.88 351.53L341.17 350.60L341.47 351.07L341.76 351.71L342.05 354.17L342.34 355.74L342.64 354.36L342.93 351.36L343.22 350.21L343.51 353.02L343.81 349.38L344.10 352.57L344.39 353.70L344.69 357.79L344.98 352.70L345.27 353.81L345.56 354.54L345.86 353.54L346.15 354.07L346.44 349.79L346.73 349.76L347.03 350.11L347.32 351.20L347.61 352.94L347.90 355.34L348.20 355.46L348.49 358.37L348.78 350.62L349.08 356.07L349.37 353.51L349.66 353.49L349.95 351.45L350.25 353.34L350.54 351.56L350.83 351.35L351.12 356.55L351.42 355.45L351.71 354.90L352.00 353.52L352.29 354.05L352.59 351.28L352.88 358.14L353.17 355.60L353.47 351.97L353.76 353.68L354.05 355.43L354.34 357.72L354.64 360.03L354.93 353.85L355.22 355.22L355.51 359.96L355.81 359.27L356.10 359.34L356.39 359.97L356.68 360.82L356.98 360.82L357.27 355.59L357.56 355.74L357.86 355.22L358.15 355.01L358.44 352.18L358.73 351.44L359.03 355.39L359.32 354.06L359.61 353.68L359.90 356.97L360.20 354.30L360.49 355.65L360.78 354.96L361.07 354.70L361.37 355.99L361.66 353.12L361.95 354.89L362.25 351.17L362.54 355.40L362.83 355.57L363.12 350.96L363.42 353.89L363.71 357.55L364.00 356.46L364.29 352.51L364.59 350.68L364.88 352.42L365.17 349.38L365.46 355.31L365.76 357.91L366.05 357.77L366.34 352.61L366.64 353.27L366.93 353.13L367.22 354.53L367.51 355.19L367.81 358.68L368.10 360.82L368.39 353.98L368.68 350.74L368.98 355.92L369.27 356.27L369.56 355.23L369.85 355.44L370.15 354.43L370.44 354.75L370.73 354.13L371.03 353.27L371.32 354.35L371.61 349.38L371.90 350.60L372.20 356.19L372.49 358.60L372.78 352.72L373.07 355.94L373.37 352.29L373.66 353.43L373.95 358.23L374.24 352.19L374.54 356.71L374.83 359.52L375.12 359.70L375.42 354.03L375.71 353.91L376.00 353.73L376.29 353.71L376.59 351.82L376.88 352.66L377.17 353.97L377.46 359.71L377.76 355.81L378.05 356.02L378.34 358.40L378.63 358.09L378.93 354.43L379.22 355.32L379.51 357.28L379.81 353.79L380.10 352.84L380.39 354.99L380.68 357.30L380.98 360.63L381.27 356.68L381.56 357.43L381.85 355.65L382.15 355.40L382.44 356.92L382.73 358.63L383.02 351.99L383.32 353.92L383.61 356.64L383.90 354.67L384.20 354.44L384.49 355.10L384.78 353.00L385.07 357.22L385.37 351.16L385.66 353.99L385.95 353.28L386.24 354.40L386.54 352.48L386.83 353.38L387.12 352.49L387.41 349.83L387.71 356.35L388 356.53" fill="none" stroke="#2c8743" stroke-width="1.3" stroke-linejoin="round"/>
<path d="M224.4 353.91h0M224.69 358.89h0M224.99 353.10h0M225.28 354.29h0M225.57 357.63h0M225.86 353.19h0M226.16 354.65h0M226.45 357.36h0M226.74 354.94h0M227.03 352.20h0M227.33 352.75h0M227.62 357.58h0M227.91 352.53h0M228.20 351.71h0M228.50 352.43h0M228.79 353.15h0M229.08 351.29h0M229.38 354.53h0M229.67 358.41h0M229.96 352.17h0M230.25 356.19h0M230.55 358.45h0M230.84 354.22h0M231.13 354.35h0M231.42 355.67h0M231.72 355.88h0M232.01 352.80h0M232.30 351.83h0M232.59 355.08h0M232.89 354.96h0M233.18 355.17h0M233.47 355.48h0M233.77 357.82h0M234.06 351.71h0M234.35 355.44h0M234.64 353.59h0M234.94 352.14h0M235.23 353.09h0M235.52 352.52h0M235.81 354.28h0M236.11 357.18h0M236.40 360.32h0M236.69 356.37h0M236.98 358.36h0M237.28 357.25h0M237.57 355.42h0M237.86 359.39h0M238.16 356.49h0M238.45 353.39h0M238.74 352.19h0M239.03 359.14h0M239.33 355.08h0M239.62 352.71h0M239.91 356.40h0M240.20 356.93h0M240.50 355.65h0M240.79 354.61h0M241.08 356.89h0M241.37 353.77h0M241.67 355.64h0M241.96 357.53h0M242.25 354.43h0M242.55 354.90h0M242.84 354.76h0M243.13 350.93h0M243.42 352.66h0M243.72 357.77h0M244.01 351.88h0M244.30 351.77h0M244.59 349.38h0M244.89 351.52h0M245.18 357.95h0M245.47 354.41h0M245.76 353.50h0M246.06 355.50h0M246.35 356.09h0M246.64 352.79h0M246.94 352.06h0M247.23 356.44h0M247.52 358.32h0M247.81 353.53h0M248.11 352.81h0M248.40 352.14h0M248.69 355.54h0M248.98 351.56h0M249.28 349.38h0M249.57 352.34h0M249.86 356.55h0M250.15 351.74h0M250.45 352.09h0M250.74 352.97h0M251.03 354.62h0M251.33 352.43h0M251.62 354.57h0M251.91 351.12h0M252.20 351.26h0M252.50 352.12h0M252.79 353.61h0M253.08 350.45h0M253.37 353.42h0M253.67 354.96h0M253.96 354.25h0M254.25 357.30h0M254.54 356.76h0M254.84 353.18h0M255.13 353.04h0M255.42 353.14h0M255.72 352.75h0M256.01 355.45h0M256.30 354.15h0M256.59 352.62h0M256.89 355.43h0M257.18 355.04h0M257.47 351.98h0M257.76 353.05h0M258.06 352.32h0M258.35 360.59h0M258.64 352.34h0M258.93 354.72h0M259.23 358.30h0M259.52 359.58h0M259.81 360.82h0M260.11 358.66h0M260.40 355.96h0M260.69 352.62h0M260.98 351.63h0M261.28 350.79h0M261.57 352.78h0M261.86 359.11h0M262.15 358.85h0M262.45 357.37h0M262.74 360.71h0M263.03 356.50h0M263.32 354.86h0M263.62 351.53h0M263.91 355.59h0M264.20 356.44h0M264.50 357.23h0M264.79 353.33h0M265.08 357.59h0M265.37 357.63h0M265.67 357.11h0M265.96 352.17h0M266.25 354.04h0M266.54 352.01h0M266.84 352.08h0M267.13 349.59h0M267.42 349.38h0M267.71 350.25h0M268.01 353.98h0M268.30 354.44h0M268.59 354.58h0M268.89 354.41h0M269.18 355.72h0M269.47 353.68h0M269.76 352.69h0M270.06 356.52h0M270.35 353.54h0M270.64 356.35h0M270.93 355.37h0M271.23 354.29h0M271.52 352.34h0M271.81 349.89h0M272.10 354.41h0M272.40 357.08h0M272.69 357.38h0M272.98 357.50h0M273.28 360.15h0M273.57 356.01h0M273.86 356.28h0M274.15 354.25h0M274.45 356.47h0M274.74 358.87h0M275.03 353.22h0M275.32 354.68h0M275.62 354.00h0M275.91 353.74h0M276.20 355.01h0M276.49 351.23h0M276.79 355.97h0M277.08 359.54h0M277.37 357.40h0M277.67 351.45h0M277.96 353.80h0M278.25 357.10h0M278.54 359.34h0M278.84 354.29h0M279.13 352.72h0M279.42 355.32h0M279.71 355.22h0M280.01 349.45h0M280.30 349.39h0M280.59 353.64h0M280.88 353.39h0M281.18 353.73h0M281.47 353.20h0M281.76 354.52h0M282.06 357.50h0M282.35 360.19h0M282.64 355.95h0M282.93 352.15h0M283.23 354.53h0M283.52 349.94h0M283.81 352.99h0M284.10 355.07h0M284.40 354.86h0M284.69 357.49h0M284.98 353.84h0M285.27 357.74h0M285.57 352.93h0M285.86 356.61h0M286.15 355.24h0M286.45 354.57h0M286.74 355.84h0M287.03 349.38h0M287.32 352.93h0M287.62 353.14h0M287.91 353.80h0M288.20 349.85h0M288.49 353.32h0M288.79 356.51h0M289.08 356.23h0M289.37 360.82h0M289.66 355.90h0M289.96 355.49h0M290.25 358.76h0M290.54 354.55h0M290.84 356.80h0M291.13 355.39h0M291.42 355.13h0M291.71 354.64h0M292.01 354.24h0M292.30 353.52h0M292.59 355.60h0M292.88 351.20h0M293.18 350.93h0M293.47 351.23h0M293.76 349.38h0M294.05 354.65h0M294.35 355.58h0M294.64 358.15h0M294.93 354.97h0M295.23 355.46h0M295.52 351.87h0M295.81 356.61h0M296.10 359.27h0M296.40 354.79h0M296.69 355.35h0M296.98 352.21h0M297.27 354.07h0M297.57 355.29h0M297.86 351.77h0M298.15 354.73h0M298.44 355.00h0M298.74 356.51h0M299.03 355.98h0M299.32 355.66h0M299.62 353.28h0M299.91 352.09h0M300.20 356.92h0M300.49 359.67h0M300.79 356.82h0M301.08 355.02h0M301.37 355.00h0M301.66 352.68h0M301.96 350.71h0M302.25 352.42h0M302.54 354.69h0M302.83 353.17h0M303.13 352.70h0M303.42 354.38h0M303.71 353.35h0M304.01 352.75h0M304.30 353.91h0M304.59 355.75h0M304.88 358.44h0M305.18 357.61h0M305.47 357.13h0M305.76 356.55h0M306.05 356.82h0M306.35 358.96h0M306.64 357.99h0M306.93 354.40h0M307.22 349.90h0M307.52 355.51h0M307.81 353.37h0M308.10 352.55h0M308.39 355.38h0M308.69 353.26h0M308.98 355.61h0M309.27 358.90h0M309.57 352.91h0M309.86 355.30h0M310.15 352.19h0M310.44 352.86h0M310.74 355.11h0M311.03 357.19h0M311.32 355.52h0M311.61 350.32h0M311.91 352.82h0M312.20 356.39h0M312.49 358.21h0M312.78 358.55h0M313.08 356.69h0M313.37 356.64h0M313.66 355.60h0M313.96 357.28h0M314.25 353.13h0M314.54 352.75h0M314.83 357.02h0M315.13 356.24h0M315.42 351.42h0M315.71 355.44h0M316.00 356.93h0M316.30 356.09h0M316.59 355.16h0M316.88 354.55h0M317.17 354.72h0M317.47 360.49h0M317.76 356.68h0M318.05 354.58h0M318.35 354.92h0M318.64 352.58h0M318.93 354.45h0M319.22 357.59h0M319.52 353.19h0M319.81 352.73h0M320.10 350.07h0M320.39 351.10h0M320.69 349.38h0M320.98 353.54h0M321.27 357.49h0M321.56 355.48h0M321.86 356.00h0M322.15 356.23h0M322.44 356.91h0M322.74 358.30h0M323.03 357.53h0M323.32 359.86h0M323.61 355.53h0M323.91 356.64h0M324.20 353.07h0M324.49 353.19h0M324.78 354.13h0M325.08 354.07h0M325.37 352.31h0M325.66 356.26h0M325.95 357.19h0M326.25 352.60h0M326.54 357.96h0M326.83 355.08h0M327.13 351.57h0M327.42 354.19h0M327.71 354.38h0M328.00 354.54h0M328.30 352.36h0M328.59 355.52h0M328.88 351.76h0M329.17 355.41h0M329.47 354.16h0M329.76 357.59h0M330.05 358.07h0M330.34 356.49h0M330.64 355.87h0M330.93 355.77h0M331.22 355.29h0M331.52 350.73h0M331.81 354.27h0M332.10 355.53h0M332.39 354.22h0M332.69 353.11h0M332.98 355.24h0M333.27 355.84h0M333.56 356.14h0M333.86 352.39h0M334.15 354.13h0M334.44 355.87h0M334.73 356.56h0M335.03 353.49h0M335.32 354.08h0M335.61 352.22h0M335.91 357.08h0M336.20 355.49h0M336.49 355.99h0M336.78 357.74h0M337.08 357.94h0M337.37 355.24h0M337.66 353.15h0M337.95 353.66h0M338.25 353.48h0M338.54 351.15h0M338.83 350.64h0M339.12 355.70h0M339.42 353.73h0M339.71 356.40h0M340.00 356.65h0M340.30 358.70h0M340.59 357.73h0M340.88 351.53h0M341.17 350.60h0M341.47 351.07h0M341.76 351.71h0M342.05 354.17h0M342.34 355.74h0M342.64 354.36h0M342.93 351.36h0M343.22 350.21h0M343.51 353.02h0M343.81 349.38h0M344.10 352.57h0M344.39 353.70h0M344.69 357.79h0M344.98 352.70h0M345.27 353.81h0M345.56 354.54h0M345.86 353.54h0M346.15 354.07h0M346.44 349.79h0M346.73 349.76h0M347.03 350.11h0M347.32 351.20h0M347.61 352.94h0M347.90 355.34h0M348.20 355.46h0M348.49 358.37h0M348.78 350.62h0M349.08 356.07h0M349.37 353.51h0M349.66 353.49h0M349.95 351.45h0M350.25 353.34h0M350.54 351.56h0M350.83 351.35h0M351.12 356.55h0M351.42 355.45h0M351.71 354.90h0M352.00 353.52h0M352.29 354.05h0M352.59 351.28h0M352.88 358.14h0M353.17 355.60h0M353.47 351.97h0M353.76 353.68h0M354.05 355.43h0M354.34 357.72h0M354.64 360.03h0M354.93 353.85h0M355.22 355.22h0M355.51 359.96h0M355.81 359.27h0M356.10 359.34h0M356.39 359.97h0M356.68 360.82h0M356.98 360.82h0M357.27 355.59h0M357.56 355.74h0M357.86 355.22h0M358.15 355.01h0M358.44 352.18h0M358.73 351.44h0M359.03 355.39h0M359.32 354.06h0M359.61 353.68h0M359.90 356.97h0M360.20 354.30h0M360.49 355.65h0M360.78 354.96h0M361.07 354.70h0M361.37 355.99h0M361.66 353.12h0M361.95 354.89h0M362.25 351.17h0M362.54 355.40h0M362.83 355.57h0M363.12 350.96h0M363.42 353.89h0M363.71 357.55h0M364.00 356.46h0M364.29 352.51h0M364.59 350.68h0M364.88 352.42h0M365.17 349.38h0M365.46 355.31h0M365.76 357.91h0M366.05 357.77h0M366.34 352.61h0M366.64 353.27h0M366.93 353.13h0M367.22 354.53h0M367.51 355.19h0M367.81 358.68h0M368.10 360.82h0M368.39 353.98h0M368.68 350.74h0M368.98 355.92h0M369.27 356.27h0M369.56 355.23h0M369.85 355.44h0M370.15 354.43h0M370.44 354.75h0M370.73 354.13h0M371.03 353.27h0M371.32 354.35h0M371.61 349.38h0M371.90 350.60h0M372.20 356.19h0M372.49 358.60h0M372.78 352.72h0M373.07 355.94h0M373.37 352.29h0M373.66 353.43h0M373.95 358.23h0M374.24 352.19h0M374.54 356.71h0M374.83 359.52h0M375.12 359.70h0M375.42 354.03h0M375.71 353.91h0M376.00 353.73h0M376.29 353.71h0M376.59 351.82h0M376.88 352.66h0M377.17 353.97h0M377.46 359.71h0M377.76 355.81h0M378.05 356.02h0M378.34 358.40h0M378.63 358.09h0M378.93 354.43h0M379.22 355.32h0M379.51 357.28h0M379.81 353.79h0M380.10 352.84h0M380.39 354.99h0M380.68 357.30h0M380.98 360.63h0M381.27 356.68h0M381.56 357.43h0M381.85 355.65h0M382.15 355.40h0M382.44 356.92h0M382.73 358.63h0M383.02 351.99h0M383.32 353.92h0M383.61 356.64h0M383.90 354.67h0M384.20 354.44h0M384.49 355.10h0M384.78 353.00h0M385.07 357.22h0M385.37 351.16h0M385.66 353.99h0M385.95 353.28h0M386.24 354.40h0M386.54 352.48h0M386.83 353.38h0M387.12 352.49h0M387.41 349.83h0M387.71 356.35h0M388 356.53h0" stroke="#2d5537" stroke-width="1.3" stroke-linecap="round" fill="none"/>
<path d="M279.71 355.1V355.47M280.01 355.1V338.14M280.30 355.1V337.96M280.59 355.1V350.73M280.88 355.1V349.97M281.18 355.1V350.98M281.47 355.1V349.39M281.76 355.1V353.36M282.06 355.1V362.30M282.35 355.1V370.38M282.64 355.1V357.66M282.93 355.1V346.26M283.23 355.1V353.38M283.52 355.1V339.62M283.81 355.1V348.77M284.10 355.1V355.01M284.40 355.1V354.37M284.69 355.1V362.27M284.98 355.1V351.31M285.27 355.1V363.03M285.57 355.1V348.60M285.86 355.1V359.64M286.15 355.1V355.51M286.45 355.1V353.50M286.74 355.1V357.31M287.03 355.1V337.94M287.32 355.1V348.60" stroke="#b86c52" stroke-width="0.5" fill="none" opacity="0.8"/>
<path d="M279.71 355.47L280.01 338.14L280.30 337.96L280.59 350.73L280.88 349.97L281.18 350.98L281.47 349.39L281.76 353.36L282.06 362.30L282.35 370.38L282.64 357.66L282.93 346.26L283.23 353.38L283.52 339.62L283.81 348.77L284.10 355.01L284.40 354.37L284.69 362.27L284.98 351.31L285.27 363.03L285.57 348.60L285.86 359.64L286.15 355.51L286.45 353.50L286.74 357.31L287.03 337.94L287.32 348.60" fill="none" stroke="#b8442c" stroke-width="1.3" stroke-linejoin="round" opacity="0.8"/>
<path d="M279.71 355.47h0M280.59 350.73h0M281.47 349.39h0M282.35 370.38h0M283.23 353.38h0M284.10 355.01h0M284.98 351.31h0M285.86 359.64h0M286.74 357.31h0" stroke="#5a2a22" stroke-width="1.6" stroke-linecap="round" fill="none" opacity="0.8"/>
<path d="M336.20 355.1V355.80M336.49 355.1V356.69M336.78 355.1V359.85M337.08 355.1V360.22M337.37 355.1V355.35M337.66 355.1V351.59M337.95 355.1V352.50M338.25 355.1V352.18M338.54 355.1V348.00M338.83 355.1V347.06M339.12 355.1V356.18M339.42 355.1V352.63M339.71 355.1V357.45M340.00 355.1V357.90M340.30 355.1V361.59M340.59 355.1V359.84M340.88 355.1V348.68M341.17 355.1V347.00M341.47 355.1V347.84M341.76 355.1V349.00M342.05 355.1V353.43M342.34 355.1V356.25M342.64 355.1V353.78M342.93 355.1V348.36M343.22 355.1V346.29M343.51 355.1V351.36M343.81 355.1V344.80M344.10 355.1V350.54M344.39 355.1V352.58M344.69 355.1V359.95M344.98 355.1V350.77M345.27 355.1V352.78M345.56 355.1V354.10M345.86 355.1V352.30M346.15 355.1V353.25M346.44 355.1V345.55M346.73 355.1V345.48" stroke="#b86c52" stroke-width="0.5" fill="none" opacity="0.8"/>
<path d="M336.20 355.80L336.49 356.69L336.78 359.85L337.08 360.22L337.37 355.35L337.66 351.59L337.95 352.50L338.25 352.18L338.54 348.00L338.83 347.06L339.12 356.18L339.42 352.63L339.71 357.45L340.00 357.90L340.30 361.59L340.59 359.84L340.88 348.68L341.17 347.00L341.47 347.84L341.76 349.00L342.05 353.43L342.34 356.25L342.64 353.78L342.93 348.36L343.22 346.29L343.51 351.36L343.81 344.80L344.10 350.54L344.39 352.58L344.69 359.95L344.98 350.77L345.27 352.78L345.56 354.10L345.86 352.30L346.15 353.25L346.44 345.55L346.73 345.48" fill="none" stroke="#b8442c" stroke-width="1.3" stroke-linejoin="round" opacity="0.35"/>
<path d="M336.20 355.80h0M337.08 360.22h0M337.95 352.50h0M338.83 347.06h0M339.71 357.45h0M340.59 359.84h0M341.47 347.84h0M342.34 356.25h0M343.22 346.29h0M344.10 350.54h0M344.98 350.77h0M345.86 352.30h0M346.73 345.48h0" stroke="#5a2a22" stroke-width="1.6" stroke-linecap="round" fill="none" opacity="0.8"/>
<path d="M325.5 349.5h0" stroke="#27402e" stroke-width="1.9" stroke-linecap="round" fill="none"/>
<path d="M225.5 344.7h0M225.5 371h0M249.5 343.1h0M250.5 383.5h0M249.5 376.1h0M261.5 367.8h0M261.5 348h0M270.5 338.7h0M281.5 287.9h0M281.5 385.1h0M282.5 338h0M283.5 368.3h0M283.5 345h0M282.5 362h0M284.5 358h0M284.5 350h0M285.5 365h0M286.5 345h0M290.5 369.4h0M297.5 364.9h0M306.5 367.9h0M316.5 362.4h0M338.5 344h0M338.5 370.3h0M340.5 363h0M343.5 370.3h0M345.5 370.3h0M345.5 347.1h0M341.5 350h0M368.5 338.5h0M373.5 312.2h0M374.5 369.1h0M379.5 347.6h0M383.5 367.2h0M386.5 344.7h0" stroke="#5a2a22" stroke-width="1.9" stroke-linecap="round" fill="none"/>
<line x1="379.7" x2="379.7" y1="287.9" y2="385.1" stroke="#4550c8" stroke-width="0.6" stroke-dasharray="1.4,0.9"/>
<line x1="386.8" x2="386.8" y1="287.9" y2="385.1" stroke="#4550c8" stroke-width="0.6" stroke-dasharray="1.4,0.9"/>
<rect x="216.5" y="283.2" width="178.9" height="106.4" fill="none" stroke="#8a8a8a" stroke-width="0.95"/>
<line x1="214.9" x2="216.5" y1="284" y2="284" stroke="#8a8a8a" stroke-width="0.5"/>
<line x1="214.9" x2="216.5" y1="295.86" y2="295.86" stroke="#8a8a8a" stroke-width="0.5"/>
<line x1="214.9" x2="216.5" y1="307.73" y2="307.73" stroke="#8a8a8a" stroke-width="0.5"/>
<line x1="214.9" x2="216.5" y1="319.59" y2="319.59" stroke="#8a8a8a" stroke-width="0.5"/>
<line x1="214.9" x2="216.5" y1="331.45" y2="331.45" stroke="#8a8a8a" stroke-width="0.5"/>
<line x1="214.9" x2="216.5" y1="343.31" y2="343.31" stroke="#8a8a8a" stroke-width="0.5"/>
<line x1="214.9" x2="216.5" y1="355.17" y2="355.17" stroke="#8a8a8a" stroke-width="0.5"/>
<line x1="214.9" x2="216.5" y1="367.04" y2="367.04" stroke="#8a8a8a" stroke-width="0.5"/>
<line x1="214.9" x2="216.5" y1="378.9" y2="378.9" stroke="#8a8a8a" stroke-width="0.5"/>
<line x1="223.5" x2="223.5" y1="389.6" y2="391.1" stroke="#8a8a8a" stroke-width="0.5"/>
<line x1="224.4" x2="224.4" y1="389.6" y2="391.1" stroke="#8a8a8a" stroke-width="0.5"/>
<line x1="230.3" x2="230.3" y1="389.6" y2="391.1" stroke="#8a8a8a" stroke-width="0.5"/>
<line x1="236.3" x2="236.3" y1="389.6" y2="391.1" stroke="#8a8a8a" stroke-width="0.5"/>
<line x1="242.4" x2="242.4" y1="389.6" y2="391.1" stroke="#8a8a8a" stroke-width="0.5"/>
<line x1="249.1" x2="249.1" y1="389.6" y2="391.1" stroke="#8a8a8a" stroke-width="0.5"/>
<line x1="255.4" x2="255.4" y1="389.6" y2="391.1" stroke="#8a8a8a" stroke-width="0.5"/>
<line x1="262.1" x2="262.1" y1="389.6" y2="391.1" stroke="#8a8a8a" stroke-width="0.5"/>
<line x1="268.9" x2="268.9" y1="389.6" y2="391.1" stroke="#8a8a8a" stroke-width="0.5"/>
<line x1="275.6" x2="275.6" y1="389.6" y2="391.1" stroke="#8a8a8a" stroke-width="0.5"/>
<line x1="282.3" x2="282.3" y1="389.6" y2="391.1" stroke="#8a8a8a" stroke-width="0.5"/>
<line x1="289.1" x2="289.1" y1="389.6" y2="391.1" stroke="#8a8a8a" stroke-width="0.5"/>
<line x1="294.7" x2="294.7" y1="389.6" y2="391.1" stroke="#8a8a8a" stroke-width="0.5"/>
<line x1="301.4" x2="301.4" y1="389.6" y2="391.1" stroke="#8a8a8a" stroke-width="0.5"/>
<line x1="309.5" x2="309.5" y1="389.6" y2="391.1" stroke="#8a8a8a" stroke-width="0.5"/>
<line x1="315.5" x2="315.5" y1="389.6" y2="391.1" stroke="#8a8a8a" stroke-width="0.5"/>
<line x1="322" x2="322" y1="389.6" y2="391.1" stroke="#8a8a8a" stroke-width="0.5"/>
<line x1="328.7" x2="328.7" y1="389.6" y2="391.1" stroke="#8a8a8a" stroke-width="0.5"/>
<line x1="336.2" x2="336.2" y1="389.6" y2="391.1" stroke="#8a8a8a" stroke-width="0.5"/>
<line x1="342.9" x2="342.9" y1="389.6" y2="391.1" stroke="#8a8a8a" stroke-width="0.5"/>
<line x1="349.4" x2="349.4" y1="389.6" y2="391.1" stroke="#8a8a8a" stroke-width="0.5"/>
<line x1="356.1" x2="356.1" y1="389.6" y2="391.1" stroke="#8a8a8a" stroke-width="0.5"/>
<line x1="363.6" x2="363.6" y1="389.6" y2="391.1" stroke="#8a8a8a" stroke-width="0.5"/>
<line x1="370.3" x2="370.3" y1="389.6" y2="391.1" stroke="#8a8a8a" stroke-width="0.5"/>
<line x1="377.8" x2="377.8" y1="389.6" y2="391.1" stroke="#8a8a8a" stroke-width="0.5"/>
<line x1="379.8" x2="379.8" y1="389.6" y2="391.1" stroke="#8a8a8a" stroke-width="0.5"/>
<line x1="384.8" x2="384.8" y1="389.6" y2="391.1" stroke="#8a8a8a" stroke-width="0.5"/>
<line x1="386.8" x2="386.8" y1="389.6" y2="391.1" stroke="#8a8a8a" stroke-width="0.5"/>
<rect x="349" y="284.3" width="44.2" height="10.2" fill="#fff" fill-opacity="0.85" stroke="#d4d4d4" stroke-width="0.4" rx="0.8"/>
<line x1="350.5" x2="358" y1="287.4" y2="287.4" stroke="#4550c8" stroke-width="0.6" stroke-dasharray="2,1"/>
<line x1="350.5" x2="358" y1="291.6" y2="291.6" stroke="#dccb62" stroke-width="0.7" stroke-dasharray="2,0.8"/>
<rect x="25.9" y="449" width="164.1" height="14.6" fill="#d4f8ee"/>
<rect x="24" y="435" width="11.6" height="43.7" fill="#fdedf3"/>
<rect x="40.7" y="425" width="8.9" height="64" fill="#fdedf3"/>
<rect x="57" y="443" width="8" height="81" fill="#fdedf3"/>
<rect x="66" y="433" width="7.8" height="37" fill="#fdedf3"/>
<rect x="102.9" y="440.6" width="8.8" height="69.4" fill="#fdedf3"/>
<rect x="128.9" y="424.7" width="6.6" height="36.3" fill="#fdedf3"/>
<rect x="159.9" y="457" width="8.1" height="46" fill="#fdedf3"/>
<rect x="43.9" y="422.5" width="3.6" height="37" fill="#fff8fa"/>
<rect x="59.4" y="453.5" width="3.6" height="72.6" fill="#fff8fa"/>
<rect x="66.4" y="433.3" width="3.6" height="26.2" fill="#fff8fa"/>
<rect x="102.7" y="453.5" width="3.6" height="55.8" fill="#fff8fa"/>
<rect x="103.8" y="439.3" width="3.6" height="20.2" fill="#fff8fa"/>
<rect x="25.3" y="453.5" width="3.6" height="23.2" fill="#fff8fa"/>
<rect x="26.4" y="453.5" width="3.6" height="21.7" fill="#fff8fa"/>
<rect x="31.4" y="453.5" width="3.6" height="21" fill="#fff8fa"/>
<rect x="34.9" y="453.5" width="3.6" height="24.4" fill="#fff8fa"/>
<rect x="40.3" y="453.5" width="3.6" height="14.9" fill="#fff8fa"/>
<rect x="41.7" y="453.5" width="3.6" height="35.6" fill="#fff8fa"/>
<rect x="41" y="453.5" width="3.6" height="28.4" fill="#fff8fa"/>
<rect x="42.6" y="453.5" width="3.6" height="23.9" fill="#fff8fa"/>
<rect x="46.2" y="453.5" width="3.6" height="30.6" fill="#fff8fa"/>
<rect x="50.7" y="453.5" width="3.6" height="18.7" fill="#fff8fa"/>
<rect x="67.9" y="453.5" width="3.6" height="17.6" fill="#fff8fa"/>
<rect x="96" y="453.5" width="3.6" height="19.9" fill="#fff8fa"/>
<rect x="100.5" y="453.5" width="3.6" height="16.5" fill="#fff8fa"/>
<rect x="107.5" y="428.3" width="3.6" height="31.2" fill="#fff8fa"/>
<rect x="108.5" y="453.5" width="3.6" height="43.8" fill="#fff8fa"/>
<rect x="120.7" y="432.2" width="3.6" height="27.3" fill="#fff8fa"/>
<rect x="131.9" y="422.9" width="3.6" height="36.6" fill="#fff8fa"/>
<rect x="151.5" y="432.2" width="3.6" height="27.3" fill="#fff8fa"/>
<rect x="164.7" y="453.5" width="3.6" height="50.7" fill="#fff8fa"/>
<line x1="26.4" x2="189.5" y1="443" y2="443" stroke="#dccb62" stroke-width="0.85" stroke-dasharray="2.2,0.7"/>
<line x1="26.4" x2="189.5" y1="468.4" y2="468.4" stroke="#dccb62" stroke-width="0.85" stroke-dasharray="2.2,0.7"/>
<path d="M26.4 456.5V457.25M26.71 456.5V455.33M27.03 456.5V458.72M27.34 456.5V458.13M27.66 456.5V454.18M27.97 456.5V454.72M28.29 456.5V460.61M28.60 456.5V455.83M28.91 456.5V461.18M29.23 456.5V463.75M29.54 456.5V458.86M29.86 456.5V457.70M30.17 456.5V456.13M30.49 456.5V455.17M30.80 456.5V454.26M31.11 456.5V451.97M31.43 456.5V455.47M31.74 456.5V456.35M32.06 456.5V457.75M32.37 456.5V459.88M32.69 456.5V460.40M33.00 456.5V457.54M33.31 456.5V456.82M33.63 456.5V452.80M33.94 456.5V455.15M34.26 456.5V458.30M34.57 456.5V461.63M34.88 456.5V456.37M35.20 456.5V452.19M35.51 456.5V453.50M35.83 456.5V453.33M36.14 456.5V456.88M36.46 456.5V459.52M36.77 456.5V459.42M37.08 456.5V462.11M37.40 456.5V458.32M37.71 456.5V462.92M38.03 456.5V463.76M38.34 456.5V463.76M38.66 456.5V457.19M38.97 456.5V456.09M39.28 456.5V455.03M39.60 456.5V454.31M39.91 456.5V453.90M40.23 456.5V452.52M40.54 456.5V453.15M40.86 456.5V452.51M41.17 456.5V460.04M41.48 456.5V461.96M41.80 456.5V454.21M42.11 456.5V454.51M42.43 456.5V453.69M42.74 456.5V457.19M43.06 456.5V458.03M43.37 456.5V459.78M43.68 456.5V455.19M44.00 456.5V459.98M44.31 456.5V458.46M44.63 456.5V453.24M44.94 456.5V458.06M45.26 456.5V459.52M45.57 456.5V456.00M45.88 456.5V455.26M46.20 456.5V455.52M46.51 456.5V456.58M46.83 456.5V455.72M47.14 456.5V453.90M47.46 456.5V453.66M47.77 456.5V456.48M48.08 456.5V457.59M48.40 456.5V457.98M48.71 456.5V456.03M49.03 456.5V459.60M49.34 456.5V457.18M49.66 456.5V458.08M49.97 456.5V455.28M50.28 456.5V449.24M50.60 456.5V451.98M50.91 456.5V455.13M51.23 456.5V456.07M51.54 456.5V453.33M51.85 456.5V458.52M52.17 456.5V454.89M52.48 456.5V451.38M52.80 456.5V455.20M53.11 456.5V454.08M53.43 456.5V452.20M53.74 456.5V458.83M54.05 456.5V457.03M54.37 456.5V453.22M54.68 456.5V452.67M55.00 456.5V454.36M55.31 456.5V452.45M55.63 456.5V455.54M55.94 456.5V453.37M56.25 456.5V455.88M56.57 456.5V455.56M56.88 456.5V454.20M57.20 456.5V453.65M57.51 456.5V458.06M57.83 456.5V453.47M58.14 456.5V452.94M58.45 456.5V454.89M58.77 456.5V459.14M59.08 456.5V460.31M59.40 456.5V453.62M59.71 456.5V461.01M60.03 456.5V454.39M60.34 456.5V454.37M60.65 456.5V454.33M60.97 456.5V452.18M61.28 456.5V450.17M61.60 456.5V455.84M61.91 456.5V453.20M62.23 456.5V450.82M62.54 456.5V454.72M62.85 456.5V461.16M63.17 456.5V456.19M63.48 456.5V456.39M63.80 456.5V454.00M64.11 456.5V455.55M64.43 456.5V453.01M64.74 456.5V456.91M65.05 456.5V454.09M65.37 456.5V461.20M65.68 456.5V455.46M66.00 456.5V456.60M66.31 456.5V456.63M66.63 456.5V451.28M66.94 456.5V454.02M67.25 456.5V455.97M67.57 456.5V459.97M67.88 456.5V462.91M68.20 456.5V461.15M68.51 456.5V458.57M68.82 456.5V455.06M69.14 456.5V460.46M69.45 456.5V460.17M69.77 456.5V460.81M70.08 456.5V460.71M70.40 456.5V461.87M70.71 456.5V457.84M71.02 456.5V459.00M71.34 456.5V463.35M71.65 456.5V463.76M71.97 456.5V463.42M72.28 456.5V457.32M72.60 456.5V454.66M72.91 456.5V451.74M73.22 456.5V452.42M73.54 456.5V452.02M73.85 456.5V450.62M74.17 456.5V449.24M74.48 456.5V457.92M74.80 456.5V459.87M75.11 456.5V455.99M75.42 456.5V454.61M75.74 456.5V452.99M76.05 456.5V454.06M76.37 456.5V452.97M76.68 456.5V457.91M77.00 456.5V458.19M77.31 456.5V459.77M77.62 456.5V460.45M77.94 456.5V456.40M78.25 456.5V463.76M78.57 456.5V454.96M78.88 456.5V454.54M79.20 456.5V461.35M79.51 456.5V455.64M79.82 456.5V452.21M80.14 456.5V449.24M80.45 456.5V452.37M80.77 456.5V454.10M81.08 456.5V449.24M81.40 456.5V450.15M81.71 456.5V449.24M82.02 456.5V450.04M82.34 456.5V456.16M82.65 456.5V455.58M82.97 456.5V456.26M83.28 456.5V454.85M83.59 456.5V454.41M83.91 456.5V454.45M84.22 456.5V456.53M84.54 456.5V454.19M84.85 456.5V457.30M85.17 456.5V456.86M85.48 456.5V456.66M85.79 456.5V456.06M86.11 456.5V455.06M86.42 456.5V452.75M86.74 456.5V453.50M87.05 456.5V457.99M87.37 456.5V459.91M87.68 456.5V455.86M87.99 456.5V459.27M88.31 456.5V453.10M88.62 456.5V457.22M88.94 456.5V455.29M89.25 456.5V451.58M89.57 456.5V452.20M89.88 456.5V449.69M90.19 456.5V450.57M90.51 456.5V454.27M90.82 456.5V453.35M91.14 456.5V453.32M91.45 456.5V452.39M91.77 456.5V451.00M92.08 456.5V454.66M92.39 456.5V456.68M92.71 456.5V454.01M93.02 456.5V458.82M93.34 456.5V456.99M93.65 456.5V454.41M93.97 456.5V455.49M94.28 456.5V455.44M94.59 456.5V455.86M94.91 456.5V459.32M95.22 456.5V459.62M95.54 456.5V459.19M95.85 456.5V463.63M96.17 456.5V458.04M96.48 456.5V457.35M96.79 456.5V451.50M97.11 456.5V452.73M97.42 456.5V455.35M97.74 456.5V461.34M98.05 456.5V463.76M98.37 456.5V460.15M98.68 456.5V463.52M98.99 456.5V462.80M99.31 456.5V459.24M99.62 456.5V457.00M99.94 456.5V452.30M100.25 456.5V451.18M100.56 456.5V457.23M100.88 456.5V460.00M101.19 456.5V456.63M101.51 456.5V461.24M101.82 456.5V459.22M102.14 456.5V458.64M102.45 456.5V455.40M102.76 456.5V454.96M103.08 456.5V456.32M103.39 456.5V463.76M103.71 456.5V463.76M104.02 456.5V459.51M104.34 456.5V458.59M104.65 456.5V458.37M104.96 456.5V457.45M105.28 456.5V459.44M105.59 456.5V455.66M105.91 456.5V455.25M106.22 456.5V457.04M106.54 456.5V458.92M106.85 456.5V459.04M107.16 456.5V457.33M107.48 456.5V450.02M107.79 456.5V454.53M108.11 456.5V452.33M108.42 456.5V461.62M108.74 456.5V457.03M109.05 456.5V449.85M109.36 456.5V451.25M109.68 456.5V451.35M109.99 456.5V452.68M110.31 456.5V457.96M110.62 456.5V456.42M110.94 456.5V450.21M111.25 456.5V450.24M111.56 456.5V453.61M111.88 456.5V453.48M112.19 456.5V453.05M112.51 456.5V450.04M112.82 456.5V453.54M113.14 456.5V451.00M113.45 456.5V456.10M113.76 456.5V458.37M114.08 456.5V455.22M114.39 456.5V457.92M114.71 456.5V454.75M115.02 456.5V451.22M115.34 456.5V450.79M115.65 456.5V453.92M115.96 456.5V453.02M116.28 456.5V460.09M116.59 456.5V452.85M116.91 456.5V459.29M117.22 456.5V462.53M117.53 456.5V459.39M117.85 456.5V458.72M118.16 456.5V457.43M118.48 456.5V461.16M118.79 456.5V457.22M119.11 456.5V457.51M119.42 456.5V458.38M119.73 456.5V452.73M120.05 456.5V456.19M120.36 456.5V458.43M120.68 456.5V456.50M120.99 456.5V454.98M121.31 456.5V457.89M121.62 456.5V457.09M121.93 456.5V458.30M122.25 456.5V456.81M122.56 456.5V457.34M122.88 456.5V455.80M123.19 456.5V461.76M123.51 456.5V461.48M123.82 456.5V461.82M124.13 456.5V457.04M124.45 456.5V454.55M124.76 456.5V454.72M125.08 456.5V459.85M125.39 456.5V458.10M125.71 456.5V457.51M126.02 456.5V454.75M126.33 456.5V450.22M126.65 456.5V455.31M126.96 456.5V451.43M127.28 456.5V453.28M127.59 456.5V455.10M127.91 456.5V455.90M128.22 456.5V453.58M128.53 456.5V460.34M128.85 456.5V456.91M129.16 456.5V455.60M129.48 456.5V451.70M129.79 456.5V456.03M130.11 456.5V459.89M130.42 456.5V457.04M130.73 456.5V456.02M131.05 456.5V449.70M131.36 456.5V451.88M131.68 456.5V452.81M131.99 456.5V453.98M132.31 456.5V454.64M132.62 456.5V457.26M132.93 456.5V455.49M133.25 456.5V457.09M133.56 456.5V453.66M133.88 456.5V452.73M134.19 456.5V457.04M134.50 456.5V452.28M134.82 456.5V455.73M135.13 456.5V460.57M135.45 456.5V458.28M135.76 456.5V460.63M136.08 456.5V463.76M136.39 456.5V461.58M136.70 456.5V456.16M137.02 456.5V454.94M137.33 456.5V460.42M137.65 456.5V455.76M137.96 456.5V456.65M138.28 456.5V455.68M138.59 456.5V451.23M138.90 456.5V456.02M139.22 456.5V456.24M139.53 456.5V460.03M139.85 456.5V463.76M140.16 456.5V458.16M140.48 456.5V449.50M140.79 456.5V450.61M141.10 456.5V452.76M141.42 456.5V455.92M141.73 456.5V463.76M142.05 456.5V458.23M142.36 456.5V450.93M142.68 456.5V455.47M142.99 456.5V458.50M143.30 456.5V457.29M143.62 456.5V456.66M143.93 456.5V455.12M144.25 456.5V456.30M144.56 456.5V459.81M144.88 456.5V453.70M145.19 456.5V452.06M145.50 456.5V453.49M145.82 456.5V454.16M146.13 456.5V452.82M146.45 456.5V459.41M146.76 456.5V454.94M147.08 456.5V454.77M147.39 456.5V455.49M147.70 456.5V456.15M148.02 456.5V462.65M148.33 456.5V455.33M148.65 456.5V457.04M148.96 456.5V457.71M149.27 456.5V454.88M149.59 456.5V452.15M149.90 456.5V456.64M150.22 456.5V456.22M150.53 456.5V453.05M150.85 456.5V456.64M151.16 456.5V455.10M151.47 456.5V454.18M151.79 456.5V456.28M152.10 456.5V454.16M152.42 456.5V460.00M152.73 456.5V459.26M153.05 456.5V455.21M153.36 456.5V454.32M153.67 456.5V450.86M153.99 456.5V450.31M154.30 456.5V452.92M154.62 456.5V449.24M154.93 456.5V458.70M155.25 456.5V454.64M155.56 456.5V453.69M155.87 456.5V454.93M156.19 456.5V452.75M156.50 456.5V454.88M156.82 456.5V461.48M157.13 456.5V457.41M157.45 456.5V458.98M157.76 456.5V457.76M158.07 456.5V459.03M158.39 456.5V454.14M158.70 456.5V450.42M159.02 456.5V461.08M159.33 456.5V452.96M159.65 456.5V453.37M159.96 456.5V459.09M160.27 456.5V463.05M160.59 456.5V458.59M160.90 456.5V455.06M161.22 456.5V455.24M161.53 456.5V452.09M161.85 456.5V455.17M162.16 456.5V453.76M162.47 456.5V457.66M162.79 456.5V455.71M163.10 456.5V456.61M163.42 456.5V455.98M163.73 456.5V453.50M164.05 456.5V455.27M164.36 456.5V451.96M164.67 456.5V451.84M164.99 456.5V454.22M165.30 456.5V456.23M165.62 456.5V454.54M165.93 456.5V454.36M166.24 456.5V455.01M166.56 456.5V456.66M166.87 456.5V457.56M167.19 456.5V459.01M167.50 456.5V456.34M167.82 456.5V457.88M168.13 456.5V453.60M168.44 456.5V449.24M168.76 456.5V460.46M169.07 456.5V458.55M169.39 456.5V459.39M169.70 456.5V462.65M170.02 456.5V456.75M170.33 456.5V458.32M170.64 456.5V456.89M170.96 456.5V460.77M171.27 456.5V463.42M171.59 456.5V462.02M171.90 456.5V456.45M172.22 456.5V463.13M172.53 456.5V460.38M172.84 456.5V455.65M173.16 456.5V463.36M173.47 456.5V452.07M173.79 456.5V457.32M174.10 456.5V454.26M174.42 456.5V456.80M174.73 456.5V455.85M175.04 456.5V457.76M175.36 456.5V461.77M175.67 456.5V455.65M175.99 456.5V455.53M176.30 456.5V453.14M176.62 456.5V453.40M176.93 456.5V453.55M177.24 456.5V451.51M177.56 456.5V453.29M177.87 456.5V454.28M178.19 456.5V456.75M178.50 456.5V458.37M178.82 456.5V459.15M179.13 456.5V461.55M179.44 456.5V456.83M179.76 456.5V452.60M180.07 456.5V454.15M180.39 456.5V455.00M180.70 456.5V460.94M181.02 456.5V459.88M181.33 456.5V457.79M181.64 456.5V454.41M181.96 456.5V453.82M182.27 456.5V456.10M182.59 456.5V457.24M182.90 456.5V457.82M183.21 456.5V457.16M183.53 456.5V455.28M183.84 456.5V456.44M184.16 456.5V457.08M184.47 456.5V462.14M184.79 456.5V463.76M185.10 456.5V460.58M185.41 456.5V456.71M185.73 456.5V463.21M186.04 456.5V459.45M186.36 456.5V459.56M186.67 456.5V457.22M186.99 456.5V458.33M187.30 456.5V456.73M187.61 456.5V454.38M187.93 456.5V453.73M188.24 456.5V454.82M188.56 456.5V458.42M188.87 456.5V463.03M189.19 456.5V456.72M189.5 456.5V454.20" stroke="#587a62" stroke-width="0.5" fill="none"/>
<path d="" stroke="#3c5c47" stroke-width="0.55" fill="none"/>
<path d="M33.5 456.5V447.5M68.5 456.5V443.4M139.5 456.5V445M112.5 456.5V447.9M168.5 456.5V445.4M172.5 456.5V445.4M177.5 456.5V448.4" stroke="#3c5c47" stroke-width="0.8" fill="none"/>
<path d="M45.5 456.5V425.5M61.5 456.5V523.1M68.5 456.5V436.3M104.5 456.5V506.3M105.5 456.5V442.3M27.5 456.5V473.7M28.5 456.5V472.2M33.5 456.5V471.5M36.5 456.5V474.9M42.5 456.5V465.4M43.5 456.5V486.1M42.5 456.5V478.9M44.5 456.5V474.4M48.5 456.5V481.1M52.5 456.5V469.2M69.5 456.5V468.1M97.5 456.5V470.4M102.5 456.5V467M109.5 456.5V431.3M110.5 456.5V494.3M122.5 456.5V435.2M133.5 456.5V425.9M153.5 456.5V435.2M166.5 456.5V501.2" stroke="#b86c52" stroke-width="0.7" fill="none"/>
<path d="M26.4 457.25h0M26.71 455.33h0M27.03 458.72h0M27.34 458.13h0M27.66 454.18h0M27.97 454.72h0M28.29 460.61h0M28.60 455.83h0M28.91 461.18h0M29.23 463.75h0M29.54 458.86h0M29.86 457.70h0M30.17 456.13h0M30.49 455.17h0M30.80 454.26h0M31.11 451.97h0M31.43 455.47h0M31.74 456.35h0M32.06 457.75h0M32.37 459.88h0M32.69 460.40h0M33.00 457.54h0M33.31 456.82h0M33.63 452.80h0M33.94 455.15h0M34.26 458.30h0M34.57 461.63h0M34.88 456.37h0M35.20 452.19h0M35.51 453.50h0M35.83 453.33h0M36.14 456.88h0M36.46 459.52h0M36.77 459.42h0M37.08 462.11h0M37.40 458.32h0M37.71 462.92h0M38.03 463.76h0M38.34 463.76h0M38.66 457.19h0M38.97 456.09h0M39.28 455.03h0M39.60 454.31h0M39.91 453.90h0M40.23 452.52h0M40.54 453.15h0M40.86 452.51h0M41.17 460.04h0M41.48 461.96h0M41.80 454.21h0M42.11 454.51h0M42.43 453.69h0M42.74 457.19h0M43.06 458.03h0M43.37 459.78h0M43.68 455.19h0M44.00 459.98h0M44.31 458.46h0M44.63 453.24h0M44.94 458.06h0M45.26 459.52h0M45.57 456.00h0M45.88 455.26h0M46.20 455.52h0M46.51 456.58h0M46.83 455.72h0M47.14 453.90h0M47.46 453.66h0M47.77 456.48h0M48.08 457.59h0M48.40 457.98h0M48.71 456.03h0M49.03 459.60h0M49.34 457.18h0M49.66 458.08h0M49.97 455.28h0M50.28 449.24h0M50.60 451.98h0M50.91 455.13h0M51.23 456.07h0M51.54 453.33h0M51.85 458.52h0M52.17 454.89h0M52.48 451.38h0M52.80 455.20h0M53.11 454.08h0M53.43 452.20h0M53.74 458.83h0M54.05 457.03h0M54.37 453.22h0M54.68 452.67h0M55.00 454.36h0M55.31 452.45h0M55.63 455.54h0M55.94 453.37h0M56.25 455.88h0M56.57 455.56h0M56.88 454.20h0M57.20 453.65h0M57.51 458.06h0M57.83 453.47h0M58.14 452.94h0M58.45 454.89h0M58.77 459.14h0M59.08 460.31h0M59.40 453.62h0M59.71 461.01h0M60.03 454.39h0M60.34 454.37h0M60.65 454.33h0M60.97 452.18h0M61.28 450.17h0M61.60 455.84h0M61.91 453.20h0M62.23 450.82h0M62.54 454.72h0M62.85 461.16h0M63.17 456.19h0M63.48 456.39h0M63.80 454.00h0M64.11 455.55h0M64.43 453.01h0M64.74 456.91h0M65.05 454.09h0M65.37 461.20h0M65.68 455.46h0M66.00 456.60h0M66.31 456.63h0M66.63 451.28h0M66.94 454.02h0M67.25 455.97h0M67.57 459.97h0M67.88 462.91h0M68.20 461.15h0M68.51 458.57h0M68.82 455.06h0M69.14 460.46h0M69.45 460.17h0M69.77 460.81h0M70.08 460.71h0M70.40 461.87h0M70.71 457.84h0M71.02 459.00h0M71.34 463.35h0M71.65 463.76h0M71.97 463.42h0M72.28 457.32h0M72.60 454.66h0M72.91 451.74h0M73.22 452.42h0M73.54 452.02h0M73.85 450.62h0M74.17 449.24h0M74.48 457.92h0M74.80 459.87h0M75.11 455.99h0M75.42 454.61h0M75.74 452.99h0M76.05 454.06h0M76.37 452.97h0M76.68 457.91h0M77.00 458.19h0M77.31 459.77h0M77.62 460.45h0M77.94 456.40h0M78.25 463.76h0M78.57 454.96h0M78.88 454.54h0M79.20 461.35h0M79.51 455.64h0M79.82 452.21h0M80.14 449.24h0M80.45 452.37h0M80.77 454.10h0M81.08 449.24h0M81.40 450.15h0M81.71 449.24h0M82.02 450.04h0M82.34 456.16h0M82.65 455.58h0M82.97 456.26h0M83.28 454.85h0M83.59 454.41h0M83.91 454.45h0M84.22 456.53h0M84.54 454.19h0M84.85 457.30h0M85.17 456.86h0M85.48 456.66h0M85.79 456.06h0M86.11 455.06h0M86.42 452.75h0M86.74 453.50h0M87.05 457.99h0M87.37 459.91h0M87.68 455.86h0M87.99 459.27h0M88.31 453.10h0M88.62 457.22h0M88.94 455.29h0M89.25 451.58h0M89.57 452.20h0M89.88 449.69h0M90.19 450.57h0M90.51 454.27h0M90.82 453.35h0M91.14 453.32h0M91.45 452.39h0M91.77 451.00h0M92.08 454.66h0M92.39 456.68h0M92.71 454.01h0M93.02 458.82h0M93.34 456.99h0M93.65 454.41h0M93.97 455.49h0M94.28 455.44h0M94.59 455.86h0M94.91 459.32h0M95.22 459.62h0M95.54 459.19h0M95.85 463.63h0M96.17 458.04h0M96.48 457.35h0M96.79 451.50h0M97.11 452.73h0M97.42 455.35h0M97.74 461.34h0M98.05 463.76h0M98.37 460.15h0M98.68 463.52h0M98.99 462.80h0M99.31 459.24h0M99.62 457.00h0M99.94 452.30h0M100.25 451.18h0M100.56 457.23h0M100.88 460.00h0M101.19 456.63h0M101.51 461.24h0M101.82 459.22h0M102.14 458.64h0M102.45 455.40h0M102.76 454.96h0M103.08 456.32h0M103.39 463.76h0M103.71 463.76h0M104.02 459.51h0M104.34 458.59h0M104.65 458.37h0M104.96 457.45h0M105.28 459.44h0M105.59 455.66h0M105.91 455.25h0M106.22 457.04h0M106.54 458.92h0M106.85 459.04h0M107.16 457.33h0M107.48 450.02h0M107.79 454.53h0M108.11 452.33h0M108.42 461.62h0M108.74 457.03h0M109.05 449.85h0M109.36 451.25h0M109.68 451.35h0M109.99 452.68h0M110.31 457.96h0M110.62 456.42h0M110.94 450.21h0M111.25 450.24h0M111.56 453.61h0M111.88 453.48h0M112.19 453.05h0M112.51 450.04h0M112.82 453.54h0M113.14 451.00h0M113.45 456.10h0M113.76 458.37h0M114.08 455.22h0M114.39 457.92h0M114.71 454.75h0M115.02 451.22h0M115.34 450.79h0M115.65 453.92h0M115.96 453.02h0M116.28 460.09h0M116.59 452.85h0M116.91 459.29h0M117.22 462.53h0M117.53 459.39h0M117.85 458.72h0M118.16 457.43h0M118.48 461.16h0M118.79 457.22h0M119.11 457.51h0M119.42 458.38h0M119.73 452.73h0M120.05 456.19h0M120.36 458.43h0M120.68 456.50h0M120.99 454.98h0M121.31 457.89h0M121.62 457.09h0M121.93 458.30h0M122.25 456.81h0M122.56 457.34h0M122.88 455.80h0M123.19 461.76h0M123.51 461.48h0M123.82 461.82h0M124.13 457.04h0M124.45 454.55h0M124.76 454.72h0M125.08 459.85h0M125.39 458.10h0M125.71 457.51h0M126.02 454.75h0M126.33 450.22h0M126.65 455.31h0M126.96 451.43h0M127.28 453.28h0M127.59 455.10h0M127.91 455.90h0M128.22 453.58h0M128.53 460.34h0M128.85 456.91h0M129.16 455.60h0M129.48 451.70h0M129.79 456.03h0M130.11 459.89h0M130.42 457.04h0M130.73 456.02h0M131.05 449.70h0M131.36 451.88h0M131.68 452.81h0M131.99 453.98h0M132.31 454.64h0M132.62 457.26h0M132.93 455.49h0M133.25 457.09h0M133.56 453.66h0M133.88 452.73h0M134.19 457.04h0M134.50 452.28h0M134.82 455.73h0M135.13 460.57h0M135.45 458.28h0M135.76 460.63h0M136.08 463.76h0M136.39 461.58h0M136.70 456.16h0M137.02 454.94h0M137.33 460.42h0M137.65 455.76h0M137.96 456.65h0M138.28 455.68h0M138.59 451.23h0M138.90 456.02h0M139.22 456.24h0M139.53 460.03h0M139.85 463.76h0M140.16 458.16h0M140.48 449.50h0M140.79 450.61h0M141.10 452.76h0M141.42 455.92h0M141.73 463.76h0M142.05 458.23h0M142.36 450.93h0M142.68 455.47h0M142.99 458.50h0M143.30 457.29h0M143.62 456.66h0M143.93 455.12h0M144.25 456.30h0M144.56 459.81h0M144.88 453.70h0M145.19 452.06h0M145.50 453.49h0M145.82 454.16h0M146.13 452.82h0M146.45 459.41h0M146.76 454.94h0M147.08 454.77h0M147.39 455.49h0M147.70 456.15h0M148.02 462.65h0M148.33 455.33h0M148.65 457.04h0M148.96 457.71h0M149.27 454.88h0M149.59 452.15h0M149.90 456.64h0M150.22 456.22h0M150.53 453.05h0M150.85 456.64h0M151.16 455.10h0M151.47 454.18h0M151.79 456.28h0M152.10 454.16h0M152.42 460.00h0M152.73 459.26h0M153.05 455.21h0M153.36 454.32h0M153.67 450.86h0M153.99 450.31h0M154.30 452.92h0M154.62 449.24h0M154.93 458.70h0M155.25 454.64h0M155.56 453.69h0M155.87 454.93h0M156.19 452.75h0M156.50 454.88h0M156.82 461.48h0M157.13 457.41h0M157.45 458.98h0M157.76 457.76h0M158.07 459.03h0M158.39 454.14h0M158.70 450.42h0M159.02 461.08h0M159.33 452.96h0M159.65 453.37h0M159.96 459.09h0M160.27 463.05h0M160.59 458.59h0M160.90 455.06h0M161.22 455.24h0M161.53 452.09h0M161.85 455.17h0M162.16 453.76h0M162.47 457.66h0M162.79 455.71h0M163.10 456.61h0M163.42 455.98h0M163.73 453.50h0M164.05 455.27h0M164.36 451.96h0M164.67 451.84h0M164.99 454.22h0M165.30 456.23h0M165.62 454.54h0M165.93 454.36h0M166.24 455.01h0M166.56 456.66h0M166.87 457.56h0M167.19 459.01h0M167.50 456.34h0M167.82 457.88h0M168.13 453.60h0M168.44 449.24h0M168.76 460.46h0M169.07 458.55h0M169.39 459.39h0M169.70 462.65h0M170.02 456.75h0M170.33 458.32h0M170.64 456.89h0M170.96 460.77h0M171.27 463.42h0M171.59 462.02h0M171.90 456.45h0M172.22 463.13h0M172.53 460.38h0M172.84 455.65h0M173.16 463.36h0M173.47 452.07h0M173.79 457.32h0M174.10 454.26h0M174.42 456.80h0M174.73 455.85h0M175.04 457.76h0M175.36 461.77h0M175.67 455.65h0M175.99 455.53h0M176.30 453.14h0M176.62 453.40h0M176.93 453.55h0M177.24 451.51h0M177.56 453.29h0M177.87 454.28h0M178.19 456.75h0M178.50 458.37h0M178.82 459.15h0M179.13 461.55h0M179.44 456.83h0M179.76 452.60h0M180.07 454.15h0M180.39 455.00h0M180.70 460.94h0M181.02 459.88h0M181.33 457.79h0M181.64 454.41h0M181.96 453.82h0M182.27 456.10h0M182.59 457.24h0M182.90 457.82h0M183.21 457.16h0M183.53 455.28h0M183.84 456.44h0M184.16 457.08h0M184.47 462.14h0M184.79 463.76h0M185.10 460.58h0M185.41 456.71h0M185.73 463.21h0M186.04 459.45h0M186.36 459.56h0M186.67 457.22h0M186.99 458.33h0M187.30 456.73h0M187.61 454.38h0M187.93 453.73h0M188.24 454.82h0M188.56 458.42h0M188.87 463.03h0M189.19 456.72h0M189.5 454.20h0" stroke="#2d5537" stroke-width="2.0" stroke-linecap="round" fill="none"/>
<path d="M26.4 457.25L26.71 455.33L27.03 458.72L27.34 458.13L27.66 454.18L27.97 454.72L28.29 460.61L28.60 455.83L28.91 461.18L29.23 463.75L29.54 458.86L29.86 457.70L30.17 456.13L30.49 455.17L30.80 454.26L31.11 451.97L31.43 455.47L31.74 456.35L32.06 457.75L32.37 459.88L32.69 460.40L33.00 457.54L33.31 456.82L33.63 452.80L33.94 455.15L34.26 458.30L34.57 461.63L34.88 456.37L35.20 452.19L35.51 453.50L35.83 453.33L36.14 456.88L36.46 459.52L36.77 459.42L37.08 462.11L37.40 458.32L37.71 462.92L38.03 463.76L38.34 463.76L38.66 457.19L38.97 456.09L39.28 455.03L39.60 454.31L39.91 453.90L40.23 452.52L40.54 453.15L40.86 452.51L41.17 460.04L41.48 461.96L41.80 454.21L42.11 454.51L42.43 453.69L42.74 457.19L43.06 458.03L43.37 459.78L43.68 455.19L44.00 459.98L44.31 458.46L44.63 453.24L44.94 458.06L45.26 459.52L45.57 456.00L45.88 455.26L46.20 455.52L46.51 456.58L46.83 455.72L47.14 453.90L47.46 453.66L47.77 456.48L48.08 457.59L48.40 457.98L48.71 456.03L49.03 459.60L49.34 457.18L49.66 458.08L49.97 455.28L50.28 449.24L50.60 451.98L50.91 455.13L51.23 456.07L51.54 453.33L51.85 458.52L52.17 454.89L52.48 451.38L52.80 455.20L53.11 454.08L53.43 452.20L53.74 458.83L54.05 457.03L54.37 453.22L54.68 452.67L55.00 454.36L55.31 452.45L55.63 455.54L55.94 453.37L56.25 455.88L56.57 455.56L56.88 454.20L57.20 453.65L57.51 458.06L57.83 453.47L58.14 452.94L58.45 454.89L58.77 459.14L59.08 460.31L59.40 453.62L59.71 461.01L60.03 454.39L60.34 454.37L60.65 454.33L60.97 452.18L61.28 450.17L61.60 455.84L61.91 453.20L62.23 450.82L62.54 454.72L62.85 461.16L63.17 456.19L63.48 456.39L63.80 454.00L64.11 455.55L64.43 453.01L64.74 456.91L65.05 454.09L65.37 461.20L65.68 455.46L66.00 456.60L66.31 456.63L66.63 451.28L66.94 454.02L67.25 455.97L67.57 459.97L67.88 462.91L68.20 461.15L68.51 458.57L68.82 455.06L69.14 460.46L69.45 460.17L69.77 460.81L70.08 460.71L70.40 461.87L70.71 457.84L71.02 459.00L71.34 463.35L71.65 463.76L71.97 463.42L72.28 457.32L72.60 454.66L72.91 451.74L73.22 452.42L73.54 452.02L73.85 450.62L74.17 449.24L74.48 457.92L74.80 459.87L75.11 455.99L75.42 454.61L75.74 452.99L76.05 454.06L76.37 452.97L76.68 457.91L77.00 458.19L77.31 459.77L77.62 460.45L77.94 456.40L78.25 463.76L78.57 454.96L78.88 454.54L79.20 461.35L79.51 455.64L79.82 452.21L80.14 449.24L80.45 452.37L80.77 454.10L81.08 449.24L81.40 450.15L81.71 449.24L82.02 450.04L82.34 456.16L82.65 455.58L82.97 456.26L83.28 454.85L83.59 454.41L83.91 454.45L84.22 456.53L84.54 454.19L84.85 457.30L85.17 456.86L85.48 456.66L85.79 456.06L86.11 455.06L86.42 452.75L86.74 453.50L87.05 457.99L87.37 459.91L87.68 455.86L87.99 459.27L88.31 453.10L88.62 457.22L88.94 455.29L89.25 451.58L89.57 452.20L89.88 449.69L90.19 450.57L90.51 454.27L90.82 453.35L91.14 453.32L91.45 452.39L91.77 451.00L92.08 454.66L92.39 456.68L92.71 454.01L93.02 458.82L93.34 456.99L93.65 454.41L93.97 455.49L94.28 455.44L94.59 455.86L94.91 459.32L95.22 459.62L95.54 459.19L95.85 463.63L96.17 458.04L96.48 457.35L96.79 451.50L97.11 452.73L97.42 455.35L97.74 461.34L98.05 463.76L98.37 460.15L98.68 463.52L98.99 462.80L99.31 459.24L99.62 457.00L99.94 452.30L100.25 451.18L100.56 457.23L100.88 460.00L101.19 456.63L101.51 461.24L101.82 459.22L102.14 458.64L102.45 455.40L102.76 454.96L103.08 456.32L103.39 463.76L103.71 463.76L104.02 459.51L104.34 458.59L104.65 458.37L104.96 457.45L105.28 459.44L105.59 455.66L105.91 455.25L106.22 457.04L106.54 458.92L106.85 459.04L107.16 457.33L107.48 450.02L107.79 454.53L108.11 452.33L108.42 461.62L108.74 457.03L109.05 449.85L109.36 451.25L109.68 451.35L109.99 452.68L110.31 457.96L110.62 456.42L110.94 450.21L111.25 450.24L111.56 453.61L111.88 453.48L112.19 453.05L112.51 450.04L112.82 453.54L113.14 451.00L113.45 456.10L113.76 458.37L114.08 455.22L114.39 457.92L114.71 454.75L115.02 451.22L115.34 450.79L115.65 453.92L115.96 453.02L116.28 460.09L116.59 452.85L116.91 459.29L117.22 462.53L117.53 459.39L117.85 458.72L118.16 457.43L118.48 461.16L118.79 457.22L119.11 457.51L119.42 458.38L119.73 452.73L120.05 456.19L120.36 458.43L120.68 456.50L120.99 454.98L121.31 457.89L121.62 457.09L121.93 458.30L122.25 456.81L122.56 457.34L122.88 455.80L123.19 461.76L123.51 461.48L123.82 461.82L124.13 457.04L124.45 454.55L124.76 454.72L125.08 459.85L125.39 458.10L125.71 457.51L126.02 454.75L126.33 450.22L126.65 455.31L126.96 451.43L127.28 453.28L127.59 455.10L127.91 455.90L128.22 453.58L128.53 460.34L128.85 456.91L129.16 455.60L129.48 451.70L129.79 456.03L130.11 459.89L130.42 457.04L130.73 456.02L131.05 449.70L131.36 451.88L131.68 452.81L131.99 453.98L132.31 454.64L132.62 457.26L132.93 455.49L133.25 457.09L133.56 453.66L133.88 452.73L134.19 457.04L134.50 452.28L134.82 455.73L135.13 460.57L135.45 458.28L135.76 460.63L136.08 463.76L136.39 461.58L136.70 456.16L137.02 454.94L137.33 460.42L137.65 455.76L137.96 456.65L138.28 455.68L138.59 451.23L138.90 456.02L139.22 456.24L139.53 460.03L139.85 463.76L140.16 458.16L140.48 449.50L140.79 450.61L141.10 452.76L141.42 455.92L141.73 463.76L142.05 458.23L142.36 450.93L142.68 455.47L142.99 458.50L143.30 457.29L143.62 456.66L143.93 455.12L144.25 456.30L144.56 459.81L144.88 453.70L145.19 452.06L145.50 453.49L145.82 454.16L146.13 452.82L146.45 459.41L146.76 454.94L147.08 454.77L147.39 455.49L147.70 456.15L148.02 462.65L148.33 455.33L148.65 457.04L148.96 457.71L149.27 454.88L149.59 452.15L149.90 456.64L150.22 456.22L150.53 453.05L150.85 456.64L151.16 455.10L151.47 454.18L151.79 456.28L152.10 454.16L152.42 460.00L152.73 459.26L153.05 455.21L153.36 454.32L153.67 450.86L153.99 450.31L154.30 452.92L154.62 449.24L154.93 458.70L155.25 454.64L155.56 453.69L155.87 454.93L156.19 452.75L156.50 454.88L156.82 461.48L157.13 457.41L157.45 458.98L157.76 457.76L158.07 459.03L158.39 454.14L158.70 450.42L159.02 461.08L159.33 452.96L159.65 453.37L159.96 459.09L160.27 463.05L160.59 458.59L160.90 455.06L161.22 455.24L161.53 452.09L161.85 455.17L162.16 453.76L162.47 457.66L162.79 455.71L163.10 456.61L163.42 455.98L163.73 453.50L164.05 455.27L164.36 451.96L164.67 451.84L164.99 454.22L165.30 456.23L165.62 454.54L165.93 454.36L166.24 455.01L166.56 456.66L166.87 457.56L167.19 459.01L167.50 456.34L167.82 457.88L168.13 453.60L168.44 449.24L168.76 460.46L169.07 458.55L169.39 459.39L169.70 462.65L170.02 456.75L170.33 458.32L170.64 456.89L170.96 460.77L171.27 463.42L171.59 462.02L171.90 456.45L172.22 463.13L172.53 460.38L172.84 455.65L173.16 463.36L173.47 452.07L173.79 457.32L174.10 454.26L174.42 456.80L174.73 455.85L175.04 457.76L175.36 461.77L175.67 455.65L175.99 455.53L176.30 453.14L176.62 453.40L176.93 453.55L177.24 451.51L177.56 453.29L177.87 454.28L178.19 456.75L178.50 458.37L178.82 459.15L179.13 461.55L179.44 456.83L179.76 452.60L180.07 454.15L180.39 455.00L180.70 460.94L181.02 459.88L181.33 457.79L181.64 454.41L181.96 453.82L182.27 456.10L182.59 457.24L182.90 457.82L183.21 457.16L183.53 455.28L183.84 456.44L184.16 457.08L184.47 462.14L184.79 463.76L185.10 460.58L185.41 456.71L185.73 463.21L186.04 459.45L186.36 459.56L186.67 457.22L186.99 458.33L187.30 456.73L187.61 454.38L187.93 453.73L188.24 454.82L188.56 458.42L188.87 463.03L189.19 456.72L189.5 454.20" fill="none" stroke="#2c8743" stroke-width="1.7" stroke-linejoin="round"/>
<path d="M33.5 447.5h0M68.5 443.4h0M139.5 445h0M112.5 447.9h0M168.5 445.4h0M172.5 445.4h0M177.5 448.4h0" stroke="#27402e" stroke-width="1.9" stroke-linecap="round" fill="none"/>
<path d="M45.5 425.5h0M61.5 523.1h0M68.5 436.3h0M104.5 506.3h0M105.5 442.3h0M27.5 473.7h0M28.5 472.2h0M33.5 471.5h0M36.5 474.9h0M42.5 465.4h0M43.5 486.1h0M42.5 478.9h0M44.5 474.4h0M48.5 481.1h0M52.5 469.2h0M69.5 468.1h0M97.5 470.4h0M102.5 467h0M109.5 431.3h0M110.5 494.3h0M122.5 435.2h0M133.5 425.9h0M153.5 435.2h0M166.5 501.2h0" stroke="#5a2a22" stroke-width="1.9" stroke-linecap="round" fill="none"/>
<line x1="181.4" x2="181.4" y1="425.5" y2="523.1" stroke="#4550c8" stroke-width="0.6" stroke-dasharray="1.4,0.9"/>
<line x1="188.5" x2="188.5" y1="425.5" y2="523.1" stroke="#4550c8" stroke-width="0.6" stroke-dasharray="1.4,0.9"/>
<rect x="18.3" y="421.5" width="178.7" height="106.1" fill="none" stroke="#8a8a8a" stroke-width="0.95"/>
<line x1="16.7" x2="18.3" y1="424.8" y2="424.8" stroke="#8a8a8a" stroke-width="0.5"/>
<line x1="16.7" x2="18.3" y1="440.32" y2="440.32" stroke="#8a8a8a" stroke-width="0.5"/>
<line x1="16.7" x2="18.3" y1="455.83" y2="455.83" stroke="#8a8a8a" stroke-width="0.5"/>
<line x1="16.7" x2="18.3" y1="471.35" y2="471.35" stroke="#8a8a8a" stroke-width="0.5"/>
<line x1="16.7" x2="18.3" y1="486.87" y2="486.87" stroke="#8a8a8a" stroke-width="0.5"/>
<line x1="16.7" x2="18.3" y1="502.38" y2="502.38" stroke="#8a8a8a" stroke-width="0.5"/>
<line x1="16.7" x2="18.3" y1="517.9" y2="517.9" stroke="#8a8a8a" stroke-width="0.5"/>
<line x1="26" x2="26" y1="527.6" y2="529.1" stroke="#8a8a8a" stroke-width="0.5"/>
<line x1="31.6" x2="31.6" y1="527.6" y2="529.1" stroke="#8a8a8a" stroke-width="0.5"/>
<line x1="39.4" x2="39.4" y1="527.6" y2="529.1" stroke="#8a8a8a" stroke-width="0.5"/>
<line x1="47.3" x2="47.3" y1="527.6" y2="529.1" stroke="#8a8a8a" stroke-width="0.5"/>
<line x1="55.2" x2="55.2" y1="527.6" y2="529.1" stroke="#8a8a8a" stroke-width="0.5"/>
<line x1="63" x2="63" y1="527.6" y2="529.1" stroke="#8a8a8a" stroke-width="0.5"/>
<line x1="72" x2="72" y1="527.6" y2="529.1" stroke="#8a8a8a" stroke-width="0.5"/>
<line x1="81" x2="81" y1="527.6" y2="529.1" stroke="#8a8a8a" stroke-width="0.5"/>
<line x1="87.7" x2="87.7" y1="527.6" y2="529.1" stroke="#8a8a8a" stroke-width="0.5"/>
<line x1="93.3" x2="93.3" y1="527.6" y2="529.1" stroke="#8a8a8a" stroke-width="0.5"/>
<line x1="95.5" x2="95.5" y1="527.6" y2="529.1" stroke="#8a8a8a" stroke-width="0.5"/>
<line x1="100" x2="100" y1="527.6" y2="529.1" stroke="#8a8a8a" stroke-width="0.5"/>
<line x1="104.1" x2="104.1" y1="527.6" y2="529.1" stroke="#8a8a8a" stroke-width="0.5"/>
<line x1="108.7" x2="108.7" y1="527.6" y2="529.1" stroke="#8a8a8a" stroke-width="0.5"/>
<line x1="113.7" x2="113.7" y1="527.6" y2="529.1" stroke="#8a8a8a" stroke-width="0.5"/>
<line x1="116.2" x2="116.2" y1="527.6" y2="529.1" stroke="#8a8a8a" stroke-width="0.5"/>
<line x1="121.9" x2="121.9" y1="527.6" y2="529.1" stroke="#8a8a8a" stroke-width="0.5"/>
<line x1="127.9" x2="127.9" y1="527.6" y2="529.1" stroke="#8a8a8a" stroke-width="0.5"/>
<line x1="135.4" x2="135.4" y1="527.6" y2="529.1" stroke="#8a8a8a" stroke-width="0.5"/>
<line x1="141.1" x2="141.1" y1="527.6" y2="529.1" stroke="#8a8a8a" stroke-width="0.5"/>
<line x1="143.6" x2="143.6" y1="527.6" y2="529.1" stroke="#8a8a8a" stroke-width="0.5"/>
<line x1="154.4" x2="154.4" y1="527.6" y2="529.1" stroke="#8a8a8a" stroke-width="0.5"/>
<line x1="161.1" x2="161.1" y1="527.6" y2="529.1" stroke="#8a8a8a" stroke-width="0.5"/>
<line x1="166.8" x2="166.8" y1="527.6" y2="529.1" stroke="#8a8a8a" stroke-width="0.5"/>
<line x1="172.3" x2="172.3" y1="527.6" y2="529.1" stroke="#8a8a8a" stroke-width="0.5"/>
<line x1="179.3" x2="179.3" y1="527.6" y2="529.1" stroke="#8a8a8a" stroke-width="0.5"/>
<line x1="181" x2="181" y1="527.6" y2="529.1" stroke="#8a8a8a" stroke-width="0.5"/>
<line x1="186" x2="186" y1="527.6" y2="529.1" stroke="#8a8a8a" stroke-width="0.5"/>
<line x1="187.8" x2="187.8" y1="527.6" y2="529.1" stroke="#8a8a8a" stroke-width="0.5"/>
<rect x="151.2" y="423" width="44.2" height="10.2" fill="#fff" fill-opacity="0.85" stroke="#d4d4d4" stroke-width="0.4" rx="0.8"/>
<line x1="152.7" x2="160.2" y1="426.1" y2="426.1" stroke="#4550c8" stroke-width="0.6" stroke-dasharray="2,1"/>
<line x1="152.7" x2="160.2" y1="430.3" y2="430.3" stroke="#dccb62" stroke-width="0.7" stroke-dasharray="2,0.8"/>
<rect x="225.5" y="472.5" width="164" height="17" fill="#f2fcfa"/>
<rect x="360.5" y="422.4" width="3.6" height="62.5" fill="#fef5f8"/>
<line x1="226" x2="389" y1="442.8" y2="442.8" stroke="#dccb62" stroke-width="0.85" stroke-dasharray="2.2,0.7"/>
<line x1="226" x2="389" y1="523" y2="523" stroke="#dccb62" stroke-width="0.85" stroke-dasharray="2.2,0.7"/>
<path d="M226 481.9V481.63M226.34 481.9V480.03M226.68 481.9V480.42M227.02 481.9V480.88M227.36 481.9V481.90M227.70 481.9V482.54M228.04 481.9V481.73M228.38 481.9V480.52M228.72 481.9V480.63M229.06 481.9V481.19M229.40 481.9V481.81M229.74 481.9V481.61M230.08 481.9V480.81M230.42 481.9V480.96M230.76 481.9V482.02M231.10 481.9V481.00M231.44 481.9V480.66M231.78 481.9V481.84M232.13 481.9V481.07M232.47 481.9V481.77M232.81 481.9V482.88M233.15 481.9V482.96M233.49 481.9V483.37M233.83 481.9V481.45M234.17 481.9V480.75M234.51 481.9V480.68M234.85 481.9V480.81M235.19 481.9V482.08M235.53 481.9V482.85M235.87 481.9V482.53M236.21 481.9V483.36M236.55 481.9V482.68M236.89 481.9V481.62M237.23 481.9V481.71M237.57 481.9V482.80M237.91 481.9V481.38M238.25 481.9V481.99M238.59 481.9V481.68M238.93 481.9V481.41M239.27 481.9V480.46M239.61 481.9V481.12M239.95 481.9V482.18M240.29 481.9V481.95M240.63 481.9V481.18M240.97 481.9V482.05M241.31 481.9V482.30M241.65 481.9V481.40M241.99 481.9V481.10M242.33 481.9V482.65M242.67 481.9V482.31M243.01 481.9V481.70M243.35 481.9V481.76M243.70 481.9V481.86M244.04 481.9V482.56M244.38 481.9V481.97M244.72 481.9V482.37M245.06 481.9V480.92M245.40 481.9V481.68M245.74 481.9V480.94M246.08 481.9V480.03M246.42 481.9V481.46M246.76 481.9V482.21M247.10 481.9V481.36M247.44 481.9V480.96M247.78 481.9V482.53M248.12 481.9V481.77M248.46 481.9V482.38M248.80 481.9V481.71M249.14 481.9V482.14M249.48 481.9V481.90M249.82 481.9V482.02M250.16 481.9V482.06M250.50 481.9V480.37M250.84 481.9V480.07M251.18 481.9V481.12M251.52 481.9V481.98M251.86 481.9V481.98M252.20 481.9V483.00M252.54 481.9V481.43M252.88 481.9V482.32M253.22 481.9V482.01M253.56 481.9V481.35M253.90 481.9V482.82M254.24 481.9V481.07M254.58 481.9V482.79M254.92 481.9V483.65M255.27 481.9V482.50M255.61 481.9V482.60M255.95 481.9V481.89M256.29 481.9V482.41M256.63 481.9V481.54M256.97 481.9V482.66M257.31 481.9V481.85M257.65 481.9V482.78M257.99 481.9V483.24M258.33 481.9V482.51M258.67 481.9V481.12M259.01 481.9V481.01M259.35 481.9V480.43M259.69 481.9V480.24M260.03 481.9V480.78M260.37 481.9V482.16M260.71 481.9V482.62M261.05 481.9V481.89M261.39 481.9V481.91M261.73 481.9V482.46M262.07 481.9V481.84M262.41 481.9V482.49M262.75 481.9V483.01M263.09 481.9V481.76M263.43 481.9V480.70M263.77 481.9V481.92M264.11 481.9V482.03M264.45 481.9V482.26M264.79 481.9V480.69M265.13 481.9V482.23M265.47 481.9V481.36M265.81 481.9V482.43M266.15 481.9V480.89M266.49 481.9V482.10M266.84 481.9V481.36M267.18 481.9V482.82M267.52 481.9V482.62M267.86 481.9V481.70M268.20 481.9V482.16M268.54 481.9V482.08M268.88 481.9V481.68M269.22 481.9V481.32M269.56 481.9V481.54M269.90 481.9V482.05M270.24 481.9V481.43M270.58 481.9V480.57M270.92 481.9V482.36M271.26 481.9V482.54M271.60 481.9V482.93M271.94 481.9V481.07M272.28 481.9V483.08M272.62 481.9V483.15M272.96 481.9V482.09M273.30 481.9V481.51M273.64 481.9V481.68M273.98 481.9V482.05M274.32 481.9V482.55M274.66 481.9V482.73M275.00 481.9V480.99M275.34 481.9V482.45M275.68 481.9V482.88M276.02 481.9V482.34M276.36 481.9V482.52M276.70 481.9V481.18M277.04 481.9V481.08M277.38 481.9V482.23M277.72 481.9V481.50M278.06 481.9V481.94M278.41 481.9V481.77M278.75 481.9V483.20M279.09 481.9V482.71M279.43 481.9V482.18M279.77 481.9V482.69M280.11 481.9V481.36M280.45 481.9V481.74M280.79 481.9V482.10M281.13 481.9V480.68M281.47 481.9V480.03M281.81 481.9V480.57M282.15 481.9V481.31M282.49 481.9V482.47M282.83 481.9V482.82M283.17 481.9V481.35M283.51 481.9V481.98M283.85 481.9V481.88M284.19 481.9V481.19M284.53 481.9V481.29M284.87 481.9V482.26M285.21 481.9V481.35M285.55 481.9V480.73M285.89 481.9V480.79M286.23 481.9V481.24M286.57 481.9V482.15M286.91 481.9V482.26M287.25 481.9V481.83M287.59 481.9V483.05M287.93 481.9V482.14M288.27 481.9V482.53M288.61 481.9V482.81M288.95 481.9V482.98M289.29 481.9V483.50M289.63 481.9V483.27M289.97 481.9V483.38M290.32 481.9V482.42M290.66 481.9V482.27M291.00 481.9V482.53M291.34 481.9V481.10M291.68 481.9V480.81M292.02 481.9V481.73M292.36 481.9V482.24M292.70 481.9V481.92M293.04 481.9V481.78M293.38 481.9V482.63M293.72 481.9V480.41M294.06 481.9V482.09M294.40 481.9V482.48M294.74 481.9V482.88M295.08 481.9V481.12M295.42 481.9V480.03M295.76 481.9V480.67M296.10 481.9V483.43M296.44 481.9V482.41M296.78 481.9V481.51M297.12 481.9V482.14M297.46 481.9V482.48M297.80 481.9V483.77M298.14 481.9V483.77M298.48 481.9V483.47M298.82 481.9V482.63M299.16 481.9V482.10M299.50 481.9V482.17M299.84 481.9V482.53M300.18 481.9V482.29M300.52 481.9V481.20M300.86 481.9V481.26M301.20 481.9V480.49M301.54 481.9V480.82M301.89 481.9V482.36M302.23 481.9V483.30M302.57 481.9V482.56M302.91 481.9V481.64M303.25 481.9V481.43M303.59 481.9V482.32M303.93 481.9V483.58M304.27 481.9V483.50M304.61 481.9V483.38M304.95 481.9V482.35M305.29 481.9V483.09M305.63 481.9V482.28M305.97 481.9V480.93M306.31 481.9V481.78M306.65 481.9V482.71M306.99 481.9V481.90M307.33 481.9V481.92M307.67 481.9V481.02M308.01 481.9V482.86M308.35 481.9V481.85M308.69 481.9V481.38M309.03 481.9V482.58M309.37 481.9V481.91M309.71 481.9V480.41M310.05 481.9V482.49M310.39 481.9V481.25M310.73 481.9V481.92M311.07 481.9V482.87M311.41 481.9V482.29M311.75 481.9V481.50M312.09 481.9V481.71M312.43 481.9V482.00M312.77 481.9V482.16M313.11 481.9V482.36M313.46 481.9V481.34M313.80 481.9V481.33M314.14 481.9V482.61M314.48 481.9V483.07M314.82 481.9V482.37M315.16 481.9V483.19M315.50 481.9V482.82M315.84 481.9V483.11M316.18 481.9V482.54M316.52 481.9V482.08M316.86 481.9V482.40M317.20 481.9V483.29M317.54 481.9V482.67M317.88 481.9V483.77M318.22 481.9V483.66M318.56 481.9V482.60M318.90 481.9V481.85M319.24 481.9V482.44M319.58 481.9V481.46M319.92 481.9V481.94M320.26 481.9V480.32M320.60 481.9V481.41M320.94 481.9V482.39M321.28 481.9V483.16M321.62 481.9V482.85M321.96 481.9V482.23M322.30 481.9V481.76M322.64 481.9V482.78M322.98 481.9V482.25M323.32 481.9V482.06M323.66 481.9V482.16M324.00 481.9V482.98M324.34 481.9V482.54M324.68 481.9V482.66M325.03 481.9V481.80M325.37 481.9V482.80M325.71 481.9V482.27M326.05 481.9V481.71M326.39 481.9V481.74M326.73 481.9V482.94M327.07 481.9V482.56M327.41 481.9V483.32M327.75 481.9V482.40M328.09 481.9V481.73M328.43 481.9V481.61M328.77 481.9V482.77M329.11 481.9V482.74M329.45 481.9V482.29M329.79 481.9V482.10M330.13 481.9V482.87M330.47 481.9V481.40M330.81 481.9V480.55M331.15 481.9V482.60M331.49 481.9V481.40M331.83 481.9V482.14M332.17 481.9V481.77M332.51 481.9V482.19M332.85 481.9V481.39M333.19 481.9V481.96M333.53 481.9V481.22M333.87 481.9V481.20M334.21 481.9V481.63M334.55 481.9V482.39M334.89 481.9V482.45M335.23 481.9V482.34M335.57 481.9V482.57M335.91 481.9V482.86M336.25 481.9V482.44M336.59 481.9V482.38M336.94 481.9V483.77M337.28 481.9V483.34M337.62 481.9V482.68M337.96 481.9V482.62M338.30 481.9V483.25M338.64 481.9V481.41M338.98 481.9V481.85M339.32 481.9V481.64M339.66 481.9V481.01M340.00 481.9V481.89M340.34 481.9V482.31M340.68 481.9V481.87M341.02 481.9V481.54M341.36 481.9V481.25M341.70 481.9V480.91M342.04 481.9V481.99M342.38 481.9V483.39M342.72 481.9V483.77M343.06 481.9V483.39M343.40 481.9V483.10M343.74 481.9V482.07M344.08 481.9V482.78M344.42 481.9V482.45M344.76 481.9V481.79M345.10 481.9V480.72M345.44 481.9V481.12M345.78 481.9V481.11M346.12 481.9V481.07M346.46 481.9V482.59M346.80 481.9V480.65M347.14 481.9V480.74M347.48 481.9V480.71M347.82 481.9V481.24M348.16 481.9V483.09M348.51 481.9V482.09M348.85 481.9V482.80M349.19 481.9V481.74M349.53 481.9V481.82M349.87 481.9V480.89M350.21 481.9V481.30M350.55 481.9V480.60M350.89 481.9V481.49M351.23 481.9V481.03M351.57 481.9V482.38M351.91 481.9V481.51M352.25 481.9V481.50M352.59 481.9V481.57M352.93 481.9V481.03M353.27 481.9V482.06M353.61 481.9V481.80M353.95 481.9V483.14M354.29 481.9V483.25M354.63 481.9V481.97M354.97 481.9V481.53M355.31 481.9V482.43M355.65 481.9V482.16M355.99 481.9V481.39M356.33 481.9V482.81M356.67 481.9V483.03M357.01 481.9V482.74M357.35 481.9V482.77M357.69 481.9V481.59M358.03 481.9V482.19M358.37 481.9V481.69M358.71 481.9V482.84M359.05 481.9V483.38M359.39 481.9V482.06M359.73 481.9V480.94M360.08 481.9V480.40M360.42 481.9V480.74M360.76 481.9V482.72M361.10 481.9V482.92M361.44 481.9V481.31M361.78 481.9V481.36M362.12 481.9V482.31M362.46 481.9V482.67M362.80 481.9V481.55M363.14 481.9V481.09M363.48 481.9V481.15M363.82 481.9V481.42M364.16 481.9V480.46M364.50 481.9V480.03M364.84 481.9V480.09M365.18 481.9V481.73M365.52 481.9V481.03M365.86 481.9V481.35M366.20 481.9V481.98M366.54 481.9V482.54M366.88 481.9V481.57M367.22 481.9V482.13M367.56 481.9V481.43M367.90 481.9V481.36M368.24 481.9V482.14M368.58 481.9V481.84M368.92 481.9V481.91M369.26 481.9V481.88M369.60 481.9V482.20M369.94 481.9V482.48M370.28 481.9V481.30M370.62 481.9V481.11M370.96 481.9V482.87M371.30 481.9V481.86M371.65 481.9V481.32M371.99 481.9V481.50M372.33 481.9V481.08M372.67 481.9V481.15M373.01 481.9V481.50M373.35 481.9V481.44M373.69 481.9V481.22M374.03 481.9V482.20M374.37 481.9V483.46M374.71 481.9V481.76M375.05 481.9V482.13M375.39 481.9V481.31M375.73 481.9V482.45M376.07 481.9V482.12M376.41 481.9V482.57M376.75 481.9V481.79M377.09 481.9V482.99M377.43 481.9V482.06M377.77 481.9V482.92M378.11 481.9V482.62M378.45 481.9V481.26M378.79 481.9V481.52M379.13 481.9V481.79M379.47 481.9V481.54M379.81 481.9V483.20M380.15 481.9V482.43M380.49 481.9V482.29M380.83 481.9V481.64M381.17 481.9V481.83M381.51 481.9V482.23M381.85 481.9V482.50M382.19 481.9V481.92M382.53 481.9V481.57M382.87 481.9V481.77M383.22 481.9V481.49M383.56 481.9V482.01M383.90 481.9V482.31M384.24 481.9V481.15M384.58 481.9V480.53M384.92 481.9V481.03M385.26 481.9V481.10M385.60 481.9V482.08M385.94 481.9V481.76M386.28 481.9V481.67M386.62 481.9V481.14M386.96 481.9V480.06M387.30 481.9V480.89M387.64 481.9V481.37M387.98 481.9V481.89M388.32 481.9V482.19M388.66 481.9V483.25M389 481.9V482.34" stroke="#587a62" stroke-width="0.5" fill="none"/>
<path d="" stroke="#3c5c47" stroke-width="0.55" fill="none"/>
<path d="M229.5 481.9V459.2M228.5 481.9V478.2M234.5 481.9V478.2M243.5 481.9V473.7M248.5 481.9V478M254.5 481.9V478.5M264.5 481.9V478M279.5 481.9V451.7M279.5 481.9V466.6M289.5 481.9V471.5M297.5 481.9V474.9M302.5 481.9V476.7M229.5 481.9V493.9M236.5 481.9V488.8M245.5 481.9V487.2M261.5 481.9V492.8M269.5 481.9V501.8M274.5 481.9V519.3M273.5 481.9V486.5M288.5 481.9V486.5M309.5 481.9V462.6M309.5 481.9V473.6M319.5 481.9V477.7M322.5 481.9V477.7M328.5 481.9V478.4M337.5 481.9V480M342.5 481.9V476M345.5 481.9V477.2M347.5 481.9V462.1M348.5 481.9V472.8M350.5 481.9V472.3M354.5 481.9V475.3M356.5 481.9V479.2M361.5 481.9V475.3M367.5 481.9V477.7M388.5 481.9V472.8M304.5 481.9V485M305.5 481.9V487.5M312.5 481.9V487M335.5 481.9V493.9M340.5 481.9V487M353.5 481.9V499.7M364.5 481.9V485M372.5 481.9V489M376.5 481.9V496.8M378.5 481.9V502.9M379.5 481.9V486.5M383.5 481.9V490M384.5 481.9V515.1M387.5 481.9V506.6" stroke="#3c5c47" stroke-width="0.8" fill="none"/>
<path d="M362.5 481.9V425.4" stroke="#b86c52" stroke-width="0.7" fill="none"/>
<path d="M226 481.63h0M226.34 480.03h0M226.68 480.42h0M227.02 480.88h0M227.36 481.90h0M227.70 482.54h0M228.04 481.73h0M228.38 480.52h0M228.72 480.63h0M229.06 481.19h0M229.40 481.81h0M229.74 481.61h0M230.08 480.81h0M230.42 480.96h0M230.76 482.02h0M231.10 481.00h0M231.44 480.66h0M231.78 481.84h0M232.13 481.07h0M232.47 481.77h0M232.81 482.88h0M233.15 482.96h0M233.49 483.37h0M233.83 481.45h0M234.17 480.75h0M234.51 480.68h0M234.85 480.81h0M235.19 482.08h0M235.53 482.85h0M235.87 482.53h0M236.21 483.36h0M236.55 482.68h0M236.89 481.62h0M237.23 481.71h0M237.57 482.80h0M237.91 481.38h0M238.25 481.99h0M238.59 481.68h0M238.93 481.41h0M239.27 480.46h0M239.61 481.12h0M239.95 482.18h0M240.29 481.95h0M240.63 481.18h0M240.97 482.05h0M241.31 482.30h0M241.65 481.40h0M241.99 481.10h0M242.33 482.65h0M242.67 482.31h0M243.01 481.70h0M243.35 481.76h0M243.70 481.86h0M244.04 482.56h0M244.38 481.97h0M244.72 482.37h0M245.06 480.92h0M245.40 481.68h0M245.74 480.94h0M246.08 480.03h0M246.42 481.46h0M246.76 482.21h0M247.10 481.36h0M247.44 480.96h0M247.78 482.53h0M248.12 481.77h0M248.46 482.38h0M248.80 481.71h0M249.14 482.14h0M249.48 481.90h0M249.82 482.02h0M250.16 482.06h0M250.50 480.37h0M250.84 480.07h0M251.18 481.12h0M251.52 481.98h0M251.86 481.98h0M252.20 483.00h0M252.54 481.43h0M252.88 482.32h0M253.22 482.01h0M253.56 481.35h0M253.90 482.82h0M254.24 481.07h0M254.58 482.79h0M254.92 483.65h0M255.27 482.50h0M255.61 482.60h0M255.95 481.89h0M256.29 482.41h0M256.63 481.54h0M256.97 482.66h0M257.31 481.85h0M257.65 482.78h0M257.99 483.24h0M258.33 482.51h0M258.67 481.12h0M259.01 481.01h0M259.35 480.43h0M259.69 480.24h0M260.03 480.78h0M260.37 482.16h0M260.71 482.62h0M261.05 481.89h0M261.39 481.91h0M261.73 482.46h0M262.07 481.84h0M262.41 482.49h0M262.75 483.01h0M263.09 481.76h0M263.43 480.70h0M263.77 481.92h0M264.11 482.03h0M264.45 482.26h0M264.79 480.69h0M265.13 482.23h0M265.47 481.36h0M265.81 482.43h0M266.15 480.89h0M266.49 482.10h0M266.84 481.36h0M267.18 482.82h0M267.52 482.62h0M267.86 481.70h0M268.20 482.16h0M268.54 482.08h0M268.88 481.68h0M269.22 481.32h0M269.56 481.54h0M269.90 482.05h0M270.24 481.43h0M270.58 480.57h0M270.92 482.36h0M271.26 482.54h0M271.60 482.93h0M271.94 481.07h0M272.28 483.08h0M272.62 483.15h0M272.96 482.09h0M273.30 481.51h0M273.64 481.68h0M273.98 482.05h0M274.32 482.55h0M274.66 482.73h0M275.00 480.99h0M275.34 482.45h0M275.68 482.88h0M276.02 482.34h0M276.36 482.52h0M276.70 481.18h0M277.04 481.08h0M277.38 482.23h0M277.72 481.50h0M278.06 481.94h0M278.41 481.77h0M278.75 483.20h0M279.09 482.71h0M279.43 482.18h0M279.77 482.69h0M280.11 481.36h0M280.45 481.74h0M280.79 482.10h0M281.13 480.68h0M281.47 480.03h0M281.81 480.57h0M282.15 481.31h0M282.49 482.47h0M282.83 482.82h0M283.17 481.35h0M283.51 481.98h0M283.85 481.88h0M284.19 481.19h0M284.53 481.29h0M284.87 482.26h0M285.21 481.35h0M285.55 480.73h0M285.89 480.79h0M286.23 481.24h0M286.57 482.15h0M286.91 482.26h0M287.25 481.83h0M287.59 483.05h0M287.93 482.14h0M288.27 482.53h0M288.61 482.81h0M288.95 482.98h0M289.29 483.50h0M289.63 483.27h0M289.97 483.38h0M290.32 482.42h0M290.66 482.27h0M291.00 482.53h0M291.34 481.10h0M291.68 480.81h0M292.02 481.73h0M292.36 482.24h0M292.70 481.92h0M293.04 481.78h0M293.38 482.63h0M293.72 480.41h0M294.06 482.09h0M294.40 482.48h0M294.74 482.88h0M295.08 481.12h0M295.42 480.03h0M295.76 480.67h0M296.10 483.43h0M296.44 482.41h0M296.78 481.51h0M297.12 482.14h0M297.46 482.48h0M297.80 483.77h0M298.14 483.77h0M298.48 483.47h0M298.82 482.63h0M299.16 482.10h0M299.50 482.17h0M299.84 482.53h0M300.18 482.29h0M300.52 481.20h0M300.86 481.26h0M301.20 480.49h0M301.54 480.82h0M301.89 482.36h0M302.23 483.30h0M302.57 482.56h0M302.91 481.64h0M303.25 481.43h0M303.59 482.32h0M303.93 483.58h0M304.27 483.50h0M304.61 483.38h0M304.95 482.35h0M305.29 483.09h0M305.63 482.28h0M305.97 480.93h0M306.31 481.78h0M306.65 482.71h0M306.99 481.90h0M307.33 481.92h0M307.67 481.02h0M308.01 482.86h0M308.35 481.85h0M308.69 481.38h0M309.03 482.58h0M309.37 481.91h0M309.71 480.41h0M310.05 482.49h0M310.39 481.25h0M310.73 481.92h0M311.07 482.87h0M311.41 482.29h0M311.75 481.50h0M312.09 481.71h0M312.43 482.00h0M312.77 482.16h0M313.11 482.36h0M313.46 481.34h0M313.80 481.33h0M314.14 482.61h0M314.48 483.07h0M314.82 482.37h0M315.16 483.19h0M315.50 482.82h0M315.84 483.11h0M316.18 482.54h0M316.52 482.08h0M316.86 482.40h0M317.20 483.29h0M317.54 482.67h0M317.88 483.77h0M318.22 483.66h0M318.56 482.60h0M318.90 481.85h0M319.24 482.44h0M319.58 481.46h0M319.92 481.94h0M320.26 480.32h0M320.60 481.41h0M320.94 482.39h0M321.28 483.16h0M321.62 482.85h0M321.96 482.23h0M322.30 481.76h0M322.64 482.78h0M322.98 482.25h0M323.32 482.06h0M323.66 482.16h0M324.00 482.98h0M324.34 482.54h0M324.68 482.66h0M325.03 481.80h0M325.37 482.80h0M325.71 482.27h0M326.05 481.71h0M326.39 481.74h0M326.73 482.94h0M327.07 482.56h0M327.41 483.32h0M327.75 482.40h0M328.09 481.73h0M328.43 481.61h0M328.77 482.77h0M329.11 482.74h0M329.45 482.29h0M329.79 482.10h0M330.13 482.87h0M330.47 481.40h0M330.81 480.55h0M331.15 482.60h0M331.49 481.40h0M331.83 482.14h0M332.17 481.77h0M332.51 482.19h0M332.85 481.39h0M333.19 481.96h0M333.53 481.22h0M333.87 481.20h0M334.21 481.63h0M334.55 482.39h0M334.89 482.45h0M335.23 482.34h0M335.57 482.57h0M335.91 482.86h0M336.25 482.44h0M336.59 482.38h0M336.94 483.77h0M337.28 483.34h0M337.62 482.68h0M337.96 482.62h0M338.30 483.25h0M338.64 481.41h0M338.98 481.85h0M339.32 481.64h0M339.66 481.01h0M340.00 481.89h0M340.34 482.31h0M340.68 481.87h0M341.02 481.54h0M341.36 481.25h0M341.70 480.91h0M342.04 481.99h0M342.38 483.39h0M342.72 483.77h0M343.06 483.39h0M343.40 483.10h0M343.74 482.07h0M344.08 482.78h0M344.42 482.45h0M344.76 481.79h0M345.10 480.72h0M345.44 481.12h0M345.78 481.11h0M346.12 481.07h0M346.46 482.59h0M346.80 480.65h0M347.14 480.74h0M347.48 480.71h0M347.82 481.24h0M348.16 483.09h0M348.51 482.09h0M348.85 482.80h0M349.19 481.74h0M349.53 481.82h0M349.87 480.89h0M350.21 481.30h0M350.55 480.60h0M350.89 481.49h0M351.23 481.03h0M351.57 482.38h0M351.91 481.51h0M352.25 481.50h0M352.59 481.57h0M352.93 481.03h0M353.27 482.06h0M353.61 481.80h0M353.95 483.14h0M354.29 483.25h0M354.63 481.97h0M354.97 481.53h0M355.31 482.43h0M355.65 482.16h0M355.99 481.39h0M356.33 482.81h0M356.67 483.03h0M357.01 482.74h0M357.35 482.77h0M357.69 481.59h0M358.03 482.19h0M358.37 481.69h0M358.71 482.84h0M359.05 483.38h0M359.39 482.06h0M359.73 480.94h0M360.08 480.40h0M360.42 480.74h0M360.76 482.72h0M361.10 482.92h0M361.44 481.31h0M361.78 481.36h0M362.12 482.31h0M362.46 482.67h0M362.80 481.55h0M363.14 481.09h0M363.48 481.15h0M363.82 481.42h0M364.16 480.46h0M364.50 480.03h0M364.84 480.09h0M365.18 481.73h0M365.52 481.03h0M365.86 481.35h0M366.20 481.98h0M366.54 482.54h0M366.88 481.57h0M367.22 482.13h0M367.56 481.43h0M367.90 481.36h0M368.24 482.14h0M368.58 481.84h0M368.92 481.91h0M369.26 481.88h0M369.60 482.20h0M369.94 482.48h0M370.28 481.30h0M370.62 481.11h0M370.96 482.87h0M371.30 481.86h0M371.65 481.32h0M371.99 481.50h0M372.33 481.08h0M372.67 481.15h0M373.01 481.50h0M373.35 481.44h0M373.69 481.22h0M374.03 482.20h0M374.37 483.46h0M374.71 481.76h0M375.05 482.13h0M375.39 481.31h0M375.73 482.45h0M376.07 482.12h0M376.41 482.57h0M376.75 481.79h0M377.09 482.99h0M377.43 482.06h0M377.77 482.92h0M378.11 482.62h0M378.45 481.26h0M378.79 481.52h0M379.13 481.79h0M379.47 481.54h0M379.81 483.20h0M380.15 482.43h0M380.49 482.29h0M380.83 481.64h0M381.17 481.83h0M381.51 482.23h0M381.85 482.50h0M382.19 481.92h0M382.53 481.57h0M382.87 481.77h0M383.22 481.49h0M383.56 482.01h0M383.90 482.31h0M384.24 481.15h0M384.58 480.53h0M384.92 481.03h0M385.26 481.10h0M385.60 482.08h0M385.94 481.76h0M386.28 481.67h0M386.62 481.14h0M386.96 480.06h0M387.30 480.89h0M387.64 481.37h0M387.98 481.89h0M388.32 482.19h0M388.66 483.25h0M389 482.34h0" stroke="#2d5537" stroke-width="1.6" stroke-linecap="round" fill="none"/>
<path d="M226 481.63L226.34 480.03L226.68 480.42L227.02 480.88L227.36 481.90L227.70 482.54L228.04 481.73L228.38 480.52L228.72 480.63L229.06 481.19L229.40 481.81L229.74 481.61L230.08 480.81L230.42 480.96L230.76 482.02L231.10 481.00L231.44 480.66L231.78 481.84L232.13 481.07L232.47 481.77L232.81 482.88L233.15 482.96L233.49 483.37L233.83 481.45L234.17 480.75L234.51 480.68L234.85 480.81L235.19 482.08L235.53 482.85L235.87 482.53L236.21 483.36L236.55 482.68L236.89 481.62L237.23 481.71L237.57 482.80L237.91 481.38L238.25 481.99L238.59 481.68L238.93 481.41L239.27 480.46L239.61 481.12L239.95 482.18L240.29 481.95L240.63 481.18L240.97 482.05L241.31 482.30L241.65 481.40L241.99 481.10L242.33 482.65L242.67 482.31L243.01 481.70L243.35 481.76L243.70 481.86L244.04 482.56L244.38 481.97L244.72 482.37L245.06 480.92L245.40 481.68L245.74 480.94L246.08 480.03L246.42 481.46L246.76 482.21L247.10 481.36L247.44 480.96L247.78 482.53L248.12 481.77L248.46 482.38L248.80 481.71L249.14 482.14L249.48 481.90L249.82 482.02L250.16 482.06L250.50 480.37L250.84 480.07L251.18 481.12L251.52 481.98L251.86 481.98L252.20 483.00L252.54 481.43L252.88 482.32L253.22 482.01L253.56 481.35L253.90 482.82L254.24 481.07L254.58 482.79L254.92 483.65L255.27 482.50L255.61 482.60L255.95 481.89L256.29 482.41L256.63 481.54L256.97 482.66L257.31 481.85L257.65 482.78L257.99 483.24L258.33 482.51L258.67 481.12L259.01 481.01L259.35 480.43L259.69 480.24L260.03 480.78L260.37 482.16L260.71 482.62L261.05 481.89L261.39 481.91L261.73 482.46L262.07 481.84L262.41 482.49L262.75 483.01L263.09 481.76L263.43 480.70L263.77 481.92L264.11 482.03L264.45 482.26L264.79 480.69L265.13 482.23L265.47 481.36L265.81 482.43L266.15 480.89L266.49 482.10L266.84 481.36L267.18 482.82L267.52 482.62L267.86 481.70L268.20 482.16L268.54 482.08L268.88 481.68L269.22 481.32L269.56 481.54L269.90 482.05L270.24 481.43L270.58 480.57L270.92 482.36L271.26 482.54L271.60 482.93L271.94 481.07L272.28 483.08L272.62 483.15L272.96 482.09L273.30 481.51L273.64 481.68L273.98 482.05L274.32 482.55L274.66 482.73L275.00 480.99L275.34 482.45L275.68 482.88L276.02 482.34L276.36 482.52L276.70 481.18L277.04 481.08L277.38 482.23L277.72 481.50L278.06 481.94L278.41 481.77L278.75 483.20L279.09 482.71L279.43 482.18L279.77 482.69L280.11 481.36L280.45 481.74L280.79 482.10L281.13 480.68L281.47 480.03L281.81 480.57L282.15 481.31L282.49 482.47L282.83 482.82L283.17 481.35L283.51 481.98L283.85 481.88L284.19 481.19L284.53 481.29L284.87 482.26L285.21 481.35L285.55 480.73L285.89 480.79L286.23 481.24L286.57 482.15L286.91 482.26L287.25 481.83L287.59 483.05L287.93 482.14L288.27 482.53L288.61 482.81L288.95 482.98L289.29 483.50L289.63 483.27L289.97 483.38L290.32 482.42L290.66 482.27L291.00 482.53L291.34 481.10L291.68 480.81L292.02 481.73L292.36 482.24L292.70 481.92L293.04 481.78L293.38 482.63L293.72 480.41L294.06 482.09L294.40 482.48L294.74 482.88L295.08 481.12L295.42 480.03L295.76 480.67L296.10 483.43L296.44 482.41L296.78 481.51L297.12 482.14L297.46 482.48L297.80 483.77L298.14 483.77L298.48 483.47L298.82 482.63L299.16 482.10L299.50 482.17L299.84 482.53L300.18 482.29L300.52 481.20L300.86 481.26L301.20 480.49L301.54 480.82L301.89 482.36L302.23 483.30L302.57 482.56L302.91 481.64L303.25 481.43L303.59 482.32L303.93 483.58L304.27 483.50L304.61 483.38L304.95 482.35L305.29 483.09L305.63 482.28L305.97 480.93L306.31 481.78L306.65 482.71L306.99 481.90L307.33 481.92L307.67 481.02L308.01 482.86L308.35 481.85L308.69 481.38L309.03 482.58L309.37 481.91L309.71 480.41L310.05 482.49L310.39 481.25L310.73 481.92L311.07 482.87L311.41 482.29L311.75 481.50L312.09 481.71L312.43 482.00L312.77 482.16L313.11 482.36L313.46 481.34L313.80 481.33L314.14 482.61L314.48 483.07L314.82 482.37L315.16 483.19L315.50 482.82L315.84 483.11L316.18 482.54L316.52 482.08L316.86 482.40L317.20 483.29L317.54 482.67L317.88 483.77L318.22 483.66L318.56 482.60L318.90 481.85L319.24 482.44L319.58 481.46L319.92 481.94L320.26 480.32L320.60 481.41L320.94 482.39L321.28 483.16L321.62 482.85L321.96 482.23L322.30 481.76L322.64 482.78L322.98 482.25L323.32 482.06L323.66 482.16L324.00 482.98L324.34 482.54L324.68 482.66L325.03 481.80L325.37 482.80L325.71 482.27L326.05 481.71L326.39 481.74L326.73 482.94L327.07 482.56L327.41 483.32L327.75 482.40L328.09 481.73L328.43 481.61L328.77 482.77L329.11 482.74L329.45 482.29L329.79 482.10L330.13 482.87L330.47 481.40L330.81 480.55L331.15 482.60L331.49 481.40L331.83 482.14L332.17 481.77L332.51 482.19L332.85 481.39L333.19 481.96L333.53 481.22L333.87 481.20L334.21 481.63L334.55 482.39L334.89 482.45L335.23 482.34L335.57 482.57L335.91 482.86L336.25 482.44L336.59 482.38L336.94 483.77L337.28 483.34L337.62 482.68L337.96 482.62L338.30 483.25L338.64 481.41L338.98 481.85L339.32 481.64L339.66 481.01L340.00 481.89L340.34 482.31L340.68 481.87L341.02 481.54L341.36 481.25L341.70 480.91L342.04 481.99L342.38 483.39L342.72 483.77L343.06 483.39L343.40 483.10L343.74 482.07L344.08 482.78L344.42 482.45L344.76 481.79L345.10 480.72L345.44 481.12L345.78 481.11L346.12 481.07L346.46 482.59L346.80 480.65L347.14 480.74L347.48 480.71L347.82 481.24L348.16 483.09L348.51 482.09L348.85 482.80L349.19 481.74L349.53 481.82L349.87 480.89L350.21 481.30L350.55 480.60L350.89 481.49L351.23 481.03L351.57 482.38L351.91 481.51L352.25 481.50L352.59 481.57L352.93 481.03L353.27 482.06L353.61 481.80L353.95 483.14L354.29 483.25L354.63 481.97L354.97 481.53L355.31 482.43L355.65 482.16L355.99 481.39L356.33 482.81L356.67 483.03L357.01 482.74L357.35 482.77L357.69 481.59L358.03 482.19L358.37 481.69L358.71 482.84L359.05 483.38L359.39 482.06L359.73 480.94L360.08 480.40L360.42 480.74L360.76 482.72L361.10 482.92L361.44 481.31L361.78 481.36L362.12 482.31L362.46 482.67L362.80 481.55L363.14 481.09L363.48 481.15L363.82 481.42L364.16 480.46L364.50 480.03L364.84 480.09L365.18 481.73L365.52 481.03L365.86 481.35L366.20 481.98L366.54 482.54L366.88 481.57L367.22 482.13L367.56 481.43L367.90 481.36L368.24 482.14L368.58 481.84L368.92 481.91L369.26 481.88L369.60 482.20L369.94 482.48L370.28 481.30L370.62 481.11L370.96 482.87L371.30 481.86L371.65 481.32L371.99 481.50L372.33 481.08L372.67 481.15L373.01 481.50L373.35 481.44L373.69 481.22L374.03 482.20L374.37 483.46L374.71 481.76L375.05 482.13L375.39 481.31L375.73 482.45L376.07 482.12L376.41 482.57L376.75 481.79L377.09 482.99L377.43 482.06L377.77 482.92L378.11 482.62L378.45 481.26L378.79 481.52L379.13 481.79L379.47 481.54L379.81 483.20L380.15 482.43L380.49 482.29L380.83 481.64L381.17 481.83L381.51 482.23L381.85 482.50L382.19 481.92L382.53 481.57L382.87 481.77L383.22 481.49L383.56 482.01L383.90 482.31L384.24 481.15L384.58 480.53L384.92 481.03L385.26 481.10L385.60 482.08L385.94 481.76L386.28 481.67L386.62 481.14L386.96 480.06L387.30 480.89L387.64 481.37L387.98 481.89L388.32 482.19L388.66 483.25L389 482.34" fill="none" stroke="#2c8743" stroke-width="1.3" stroke-linejoin="round"/>
<path d="M229.5 459.2h0M228.5 478.2h0M234.5 478.2h0M243.5 473.7h0M248.5 478h0M254.5 478.5h0M264.5 478h0M279.5 451.7h0M279.5 466.6h0M289.5 471.5h0M297.5 474.9h0M302.5 476.7h0M229.5 493.9h0M236.5 488.8h0M245.5 487.2h0M261.5 492.8h0M269.5 501.8h0M274.5 519.3h0M273.5 486.5h0M288.5 486.5h0M309.5 462.6h0M309.5 473.6h0M319.5 477.7h0M322.5 477.7h0M328.5 478.4h0M337.5 480h0M342.5 476h0M345.5 477.2h0M347.5 462.1h0M348.5 472.8h0M350.5 472.3h0M354.5 475.3h0M356.5 479.2h0M361.5 475.3h0M367.5 477.7h0M388.5 472.8h0M304.5 485h0M305.5 487.5h0M312.5 487h0M335.5 493.9h0M340.5 487h0M353.5 499.7h0M364.5 485h0M372.5 489h0M376.5 496.8h0M378.5 502.9h0M379.5 486.5h0M383.5 490h0M384.5 515.1h0M387.5 506.6h0" stroke="#27402e" stroke-width="1.9" stroke-linecap="round" fill="none"/>
<path d="M362.5 425.4h0" stroke="#5a2a22" stroke-width="1.9" stroke-linecap="round" fill="none"/>
<line x1="380.2" x2="380.2" y1="425.4" y2="519.3" stroke="#4550c8" stroke-width="0.6" stroke-dasharray="1.4,0.9"/>
<line x1="388" x2="388" y1="425.4" y2="519.3" stroke="#4550c8" stroke-width="0.6" stroke-dasharray="1.4,0.9"/>
<rect x="218.3" y="421.5" width="178.4" height="106.1" fill="none" stroke="#8a8a8a" stroke-width="0.95"/>
<line x1="216.7" x2="218.3" y1="421.5" y2="421.5" stroke="#8a8a8a" stroke-width="0.5"/>
<line x1="216.7" x2="218.3" y1="436.85" y2="436.85" stroke="#8a8a8a" stroke-width="0.5"/>
<line x1="216.7" x2="218.3" y1="452.2" y2="452.2" stroke="#8a8a8a" stroke-width="0.5"/>
<line x1="216.7" x2="218.3" y1="467.55" y2="467.55" stroke="#8a8a8a" stroke-width="0.5"/>
<line x1="216.7" x2="218.3" y1="482.9" y2="482.9" stroke="#8a8a8a" stroke-width="0.5"/>
<line x1="216.7" x2="218.3" y1="498.25" y2="498.25" stroke="#8a8a8a" stroke-width="0.5"/>
<line x1="216.7" x2="218.3" y1="513.6" y2="513.6" stroke="#8a8a8a" stroke-width="0.5"/>
<line x1="225.7" x2="225.7" y1="527.6" y2="529.1" stroke="#8a8a8a" stroke-width="0.5"/>
<line x1="226.3" x2="226.3" y1="527.6" y2="529.1" stroke="#8a8a8a" stroke-width="0.5"/>
<line x1="233.6" x2="233.6" y1="527.6" y2="529.1" stroke="#8a8a8a" stroke-width="0.5"/>
<line x1="240.8" x2="240.8" y1="527.6" y2="529.1" stroke="#8a8a8a" stroke-width="0.5"/>
<line x1="247.6" x2="247.6" y1="527.6" y2="529.1" stroke="#8a8a8a" stroke-width="0.5"/>
<line x1="264.2" x2="264.2" y1="527.6" y2="529.1" stroke="#8a8a8a" stroke-width="0.5"/>
<line x1="270.4" x2="270.4" y1="527.6" y2="529.1" stroke="#8a8a8a" stroke-width="0.5"/>
<line x1="272.9" x2="272.9" y1="527.6" y2="529.1" stroke="#8a8a8a" stroke-width="0.5"/>
<line x1="275.6" x2="275.6" y1="527.6" y2="529.1" stroke="#8a8a8a" stroke-width="0.5"/>
<line x1="279.1" x2="279.1" y1="527.6" y2="529.1" stroke="#8a8a8a" stroke-width="0.5"/>
<line x1="281.6" x2="281.6" y1="527.6" y2="529.1" stroke="#8a8a8a" stroke-width="0.5"/>
<line x1="285.3" x2="285.3" y1="527.6" y2="529.1" stroke="#8a8a8a" stroke-width="0.5"/>
<line x1="287.4" x2="287.4" y1="527.6" y2="529.1" stroke="#8a8a8a" stroke-width="0.5"/>
<line x1="289" x2="289" y1="527.6" y2="529.1" stroke="#8a8a8a" stroke-width="0.5"/>
<line x1="297.7" x2="297.7" y1="527.6" y2="529.1" stroke="#8a8a8a" stroke-width="0.5"/>
<line x1="298.9" x2="298.9" y1="527.6" y2="529.1" stroke="#8a8a8a" stroke-width="0.5"/>
<line x1="305.5" x2="305.5" y1="527.6" y2="529.1" stroke="#8a8a8a" stroke-width="0.5"/>
<line x1="315.4" x2="315.4" y1="527.6" y2="529.1" stroke="#8a8a8a" stroke-width="0.5"/>
<line x1="318" x2="318" y1="527.6" y2="529.1" stroke="#8a8a8a" stroke-width="0.5"/>
<line x1="330.3" x2="330.3" y1="527.6" y2="529.1" stroke="#8a8a8a" stroke-width="0.5"/>
<line x1="338.2" x2="338.2" y1="527.6" y2="529.1" stroke="#8a8a8a" stroke-width="0.5"/>
<line x1="346" x2="346" y1="527.6" y2="529.1" stroke="#8a8a8a" stroke-width="0.5"/>
<line x1="352.1" x2="352.1" y1="527.6" y2="529.1" stroke="#8a8a8a" stroke-width="0.5"/>
<line x1="367" x2="367" y1="527.6" y2="529.1" stroke="#8a8a8a" stroke-width="0.5"/>
<line x1="373.5" x2="373.5" y1="527.6" y2="529.1" stroke="#8a8a8a" stroke-width="0.5"/>
<line x1="378.2" x2="378.2" y1="527.6" y2="529.1" stroke="#8a8a8a" stroke-width="0.5"/>
<line x1="380.1" x2="380.1" y1="527.6" y2="529.1" stroke="#8a8a8a" stroke-width="0.5"/>
<line x1="381.4" x2="381.4" y1="527.6" y2="529.1" stroke="#8a8a8a" stroke-width="0.5"/>
<line x1="387.1" x2="387.1" y1="527.6" y2="529.1" stroke="#8a8a8a" stroke-width="0.5"/>
<rect x="218.6" y="422.8" width="44.2" height="10.2" fill="#fff" fill-opacity="0.85" stroke="#d4d4d4" stroke-width="0.4" rx="0.8"/>
<line x1="220.1" x2="227.6" y1="425.9" y2="425.9" stroke="#4550c8" stroke-width="0.6" stroke-dasharray="2,1"/>
<line x1="220.1" x2="227.6" y1="430.1" y2="430.1" stroke="#dccb62" stroke-width="0.7" stroke-dasharray="2,0.8"/><g opacity="0.995"><text x="107.85" y="5.6" font-size="4.2" text-anchor="middle" fill="#111" stroke="#111" stroke-width="0.08">ELF_2022-1-17 17:46</text>
<text x="15.7" y="22.85" font-size="3.5" text-anchor="end" fill="#111" stroke="#111" stroke-width="0.18">0.10</text>
<text x="15.7" y="40.77" font-size="3.5" text-anchor="end" fill="#111" stroke="#111" stroke-width="0.18">0.05</text>
<text x="15.7" y="58.69" font-size="3.5" text-anchor="end" fill="#111" stroke="#111" stroke-width="0.18">0.00</text>
<text x="15.7" y="76.61" font-size="3.5" text-anchor="end" fill="#111" stroke="#111" stroke-width="0.18">−0.05</text>
<text x="15.7" y="94.53" font-size="3.5" text-anchor="end" fill="#111" stroke="#111" stroke-width="0.18">−0.10</text>
<text x="15.7" y="112.45" font-size="3.5" text-anchor="end" fill="#111" stroke="#111" stroke-width="0.18">−0.15</text>
<text x="4.8" y="60.5" font-size="3.6" text-anchor="middle" fill="#111" transform="rotate(-90 4.8 60.5)">btc_volume</text>
<text x="27.9" y="115.9" font-size="3.8" text-anchor="end" fill="#3a3a3a" stroke="#3a3a3a" stroke-width="0.06" transform="rotate(-90 27.9 115.9)">14:39</text>
<text x="28.8" y="115.9" font-size="3.8" text-anchor="end" fill="#3a3a3a" stroke="#3a3a3a" stroke-width="0.06" transform="rotate(-90 28.8 115.9)">14:39</text>
<text x="32.4" y="115.9" font-size="3.8" text-anchor="end" fill="#3a3a3a" stroke="#3a3a3a" stroke-width="0.06" transform="rotate(-90 32.4 115.9)">14:39</text>
<text x="34.7" y="115.9" font-size="3.8" text-anchor="end" fill="#3a3a3a" stroke="#3a3a3a" stroke-width="0.06" transform="rotate(-90 34.7 115.9)">14:39</text>
<text x="41.4" y="115.9" font-size="3.8" text-anchor="end" fill="#3a3a3a" stroke="#3a3a3a" stroke-width="0.06" transform="rotate(-90 41.4 115.9)">14:39</text>
<text x="45.9" y="115.9" font-size="3.8" text-anchor="end" fill="#3a3a3a" stroke="#3a3a3a" stroke-width="0.06" transform="rotate(-90 45.9 115.9)">14:39</text>
<text x="48.1" y="115.9" font-size="3.8" text-anchor="end" fill="#3a3a3a" stroke="#3a3a3a" stroke-width="0.06" transform="rotate(-90 48.1 115.9)">14:39</text>
<text x="55.8" y="115.9" font-size="3.8" text-anchor="end" fill="#3a3a3a" stroke="#3a3a3a" stroke-width="0.06" transform="rotate(-90 55.8 115.9)">14:39</text>
<text x="65.4" y="115.9" font-size="3.8" text-anchor="end" fill="#3a3a3a" stroke="#3a3a3a" stroke-width="0.06" transform="rotate(-90 65.4 115.9)">14:39</text>
<text x="71" y="115.9" font-size="3.8" text-anchor="end" fill="#3a3a3a" stroke="#3a3a3a" stroke-width="0.06" transform="rotate(-90 71 115.9)">14:39</text>
<text x="78.2" y="115.9" font-size="3.8" text-anchor="end" fill="#3a3a3a" stroke="#3a3a3a" stroke-width="0.06" transform="rotate(-90 78.2 115.9)">14:39</text>
<text x="88.5" y="115.9" font-size="3.8" text-anchor="end" fill="#3a3a3a" stroke="#3a3a3a" stroke-width="0.06" transform="rotate(-90 88.5 115.9)">14:39</text>
<text x="97.5" y="115.9" font-size="3.8" text-anchor="end" fill="#3a3a3a" stroke="#3a3a3a" stroke-width="0.06" transform="rotate(-90 97.5 115.9)">14:39</text>
<text x="106.5" y="115.9" font-size="3.8" text-anchor="end" fill="#3a3a3a" stroke="#3a3a3a" stroke-width="0.06" transform="rotate(-90 106.5 115.9)">14:39</text>
<text x="108.8" y="115.9" font-size="3.8" text-anchor="end" fill="#3a3a3a" stroke="#3a3a3a" stroke-width="0.06" transform="rotate(-90 108.8 115.9)">14:39</text>
<text x="115.4" y="115.9" font-size="3.8" text-anchor="end" fill="#3a3a3a" stroke="#3a3a3a" stroke-width="0.06" transform="rotate(-90 115.4 115.9)">14:39</text>
<text x="121.1" y="115.9" font-size="3.8" text-anchor="end" fill="#3a3a3a" stroke="#3a3a3a" stroke-width="0.06" transform="rotate(-90 121.1 115.9)">14:39</text>
<text x="125.8" y="115.9" font-size="3.8" text-anchor="end" fill="#3a3a3a" stroke="#3a3a3a" stroke-width="0.06" transform="rotate(-90 125.8 115.9)">14:39</text>
<text x="136.7" y="115.9" font-size="3.8" text-anchor="end" fill="#3a3a3a" stroke="#3a3a3a" stroke-width="0.06" transform="rotate(-90 136.7 115.9)">14:39</text>
<text x="145.5" y="115.9" font-size="3.8" text-anchor="end" fill="#3a3a3a" stroke="#3a3a3a" stroke-width="0.06" transform="rotate(-90 145.5 115.9)">14:39</text>
<text x="150.2" y="115.9" font-size="3.8" text-anchor="end" fill="#3a3a3a" stroke="#3a3a3a" stroke-width="0.06" transform="rotate(-90 150.2 115.9)">14:39</text>
<text x="155" y="115.9" font-size="3.8" text-anchor="end" fill="#3a3a3a" stroke="#3a3a3a" stroke-width="0.06" transform="rotate(-90 155 115.9)">14:39</text>
<text x="161.4" y="115.9" font-size="3.8" text-anchor="end" fill="#3a3a3a" stroke="#3a3a3a" stroke-width="0.06" transform="rotate(-90 161.4 115.9)">14:39</text>
<text x="167.5" y="115.9" font-size="3.8" text-anchor="end" fill="#3a3a3a" stroke="#3a3a3a" stroke-width="0.06" transform="rotate(-90 167.5 115.9)">14:39</text>
<text x="175.1" y="115.9" font-size="3.8" text-anchor="end" fill="#3a3a3a" stroke="#3a3a3a" stroke-width="0.06" transform="rotate(-90 175.1 115.9)">14:39</text>
<text x="181" y="115.9" font-size="3.8" text-anchor="end" fill="#3a3a3a" stroke="#3a3a3a" stroke-width="0.06" transform="rotate(-90 181 115.9)">2-7 14:39</text>
<text x="189.8" y="115.9" font-size="3.8" text-anchor="end" fill="#3a3a3a" stroke="#3a3a3a" stroke-width="0.06" transform="rotate(-90 189.8 115.9)">2-7 14:39</text>
<text x="107.85" y="134.6" font-size="3.6" text-anchor="middle" fill="#111">datetime</text>
<text x="30.5" y="106.7" font-size="3.6" fill="#111" stroke="#111" stroke-width="0.15">2022-1-17 17:46</text>
<text x="30.5" y="110.9" font-size="3.6" fill="#111" stroke="#111" stroke-width="0.15">anomalous volumes</text>
<text x="309.15" y="5.4" font-size="4.2" text-anchor="middle" fill="#111" stroke="#111" stroke-width="0.08">ELF_2022-2-7 14:39</text>
<text x="217.5" y="21.95" font-size="3.5" text-anchor="end" fill="#111" stroke="#111" stroke-width="0.18">1.00</text>
<text x="217.5" y="35.77" font-size="3.5" text-anchor="end" fill="#111" stroke="#111" stroke-width="0.18">0.75</text>
<text x="217.5" y="49.58" font-size="3.5" text-anchor="end" fill="#111" stroke="#111" stroke-width="0.18">0.50</text>
<text x="217.5" y="63.4" font-size="3.5" text-anchor="end" fill="#111" stroke="#111" stroke-width="0.18">0.25</text>
<text x="217.5" y="77.22" font-size="3.5" text-anchor="end" fill="#111" stroke="#111" stroke-width="0.18">0.00</text>
<text x="217.5" y="91.03" font-size="3.5" text-anchor="end" fill="#111" stroke="#111" stroke-width="0.18">−0.25</text>
<text x="217.5" y="104.85" font-size="3.5" text-anchor="end" fill="#111" stroke="#111" stroke-width="0.18">−0.50</text>
<text x="206.7" y="60.4" font-size="3.6" text-anchor="middle" fill="#111" transform="rotate(-90 206.7 60.4)">btc_volume</text>
<text x="229.3" y="115.9" font-size="3.8" text-anchor="end" fill="#3a3a3a" stroke="#3a3a3a" stroke-width="0.06" transform="rotate(-90 229.3 115.9)">14:39</text>
<text x="233.7" y="115.9" font-size="3.8" text-anchor="end" fill="#3a3a3a" stroke="#3a3a3a" stroke-width="0.06" transform="rotate(-90 233.7 115.9)">14:39</text>
<text x="241.1" y="115.9" font-size="3.8" text-anchor="end" fill="#3a3a3a" stroke="#3a3a3a" stroke-width="0.06" transform="rotate(-90 241.1 115.9)">14:39</text>
<text x="243.4" y="115.9" font-size="3.8" text-anchor="end" fill="#3a3a3a" stroke="#3a3a3a" stroke-width="0.06" transform="rotate(-90 243.4 115.9)">14:39</text>
<text x="245" y="115.9" font-size="3.8" text-anchor="end" fill="#3a3a3a" stroke="#3a3a3a" stroke-width="0.06" transform="rotate(-90 245 115.9)">14:39</text>
<text x="246.5" y="115.9" font-size="3.8" text-anchor="end" fill="#3a3a3a" stroke="#3a3a3a" stroke-width="0.06" transform="rotate(-90 246.5 115.9)">14:39</text>
<text x="248.3" y="115.9" font-size="3.8" text-anchor="end" fill="#3a3a3a" stroke="#3a3a3a" stroke-width="0.06" transform="rotate(-90 248.3 115.9)">14:39</text>
<text x="252.4" y="115.9" font-size="3.8" text-anchor="end" fill="#3a3a3a" stroke="#3a3a3a" stroke-width="0.06" transform="rotate(-90 252.4 115.9)">14:39</text>
<text x="256.2" y="115.9" font-size="3.8" text-anchor="end" fill="#3a3a3a" stroke="#3a3a3a" stroke-width="0.06" transform="rotate(-90 256.2 115.9)">14:39</text>
<text x="260.7" y="115.9" font-size="3.8" text-anchor="end" fill="#3a3a3a" stroke="#3a3a3a" stroke-width="0.06" transform="rotate(-90 260.7 115.9)">14:39</text>
<text x="262.9" y="115.9" font-size="3.8" text-anchor="end" fill="#3a3a3a" stroke="#3a3a3a" stroke-width="0.06" transform="rotate(-90 262.9 115.9)">14:39</text>
<text x="269.2" y="115.9" font-size="3.8" text-anchor="end" fill="#3a3a3a" stroke="#3a3a3a" stroke-width="0.06" transform="rotate(-90 269.2 115.9)">14:39</text>
<text x="286.5" y="115.9" font-size="3.8" text-anchor="end" fill="#3a3a3a" stroke="#3a3a3a" stroke-width="0.06" transform="rotate(-90 286.5 115.9)">14:39</text>
<text x="300.9" y="115.9" font-size="3.8" text-anchor="end" fill="#3a3a3a" stroke="#3a3a3a" stroke-width="0.06" transform="rotate(-90 300.9 115.9)">14:39</text>
<text x="312.6" y="115.9" font-size="3.8" text-anchor="end" fill="#3a3a3a" stroke="#3a3a3a" stroke-width="0.06" transform="rotate(-90 312.6 115.9)">14:39</text>
<text x="320.1" y="115.9" font-size="3.8" text-anchor="end" fill="#3a3a3a" stroke="#3a3a3a" stroke-width="0.06" transform="rotate(-90 320.1 115.9)">14:39</text>
<text x="323.8" y="115.9" font-size="3.8" text-anchor="end" fill="#3a3a3a" stroke="#3a3a3a" stroke-width="0.06" transform="rotate(-90 323.8 115.9)">14:39</text>
<text x="330.1" y="115.9" font-size="3.8" text-anchor="end" fill="#3a3a3a" stroke="#3a3a3a" stroke-width="0.06" transform="rotate(-90 330.1 115.9)">14:39</text>
<text x="338.8" y="115.9" font-size="3.8" text-anchor="end" fill="#3a3a3a" stroke="#3a3a3a" stroke-width="0.06" transform="rotate(-90 338.8 115.9)">14:39</text>
<text x="345" y="115.9" font-size="3.8" text-anchor="end" fill="#3a3a3a" stroke="#3a3a3a" stroke-width="0.06" transform="rotate(-90 345 115.9)">14:39</text>
<text x="352.5" y="115.9" font-size="3.8" text-anchor="end" fill="#3a3a3a" stroke="#3a3a3a" stroke-width="0.06" transform="rotate(-90 352.5 115.9)">14:39</text>
<text x="363.7" y="115.9" font-size="3.8" text-anchor="end" fill="#3a3a3a" stroke="#3a3a3a" stroke-width="0.06" transform="rotate(-90 363.7 115.9)">14:39</text>
<text x="369.2" y="115.9" font-size="3.8" text-anchor="end" fill="#3a3a3a" stroke="#3a3a3a" stroke-width="0.06" transform="rotate(-90 369.2 115.9)">14:39</text>
<text x="372.5" y="115.9" font-size="3.8" text-anchor="end" fill="#3a3a3a" stroke="#3a3a3a" stroke-width="0.06" transform="rotate(-90 372.5 115.9)">14:39</text>
<text x="379.2" y="115.9" font-size="3.8" text-anchor="end" fill="#3a3a3a" stroke="#3a3a3a" stroke-width="0.06" transform="rotate(-90 379.2 115.9)">14:39</text>
<text x="382.4" y="115.9" font-size="3.8" text-anchor="end" fill="#3a3a3a" stroke="#3a3a3a" stroke-width="0.06" transform="rotate(-90 382.4 115.9)">2-7 14:39</text>
<text x="384.9" y="115.9" font-size="3.8" text-anchor="end" fill="#3a3a3a" stroke="#3a3a3a" stroke-width="0.06" transform="rotate(-90 384.9 115.9)">2-7 14:39</text>
<text x="390.7" y="115.9" font-size="3.8" text-anchor="end" fill="#3a3a3a" stroke="#3a3a3a" stroke-width="0.06" transform="rotate(-90 390.7 115.9)">2-7 14:39</text>
<text x="309.15" y="134.6" font-size="3.6" text-anchor="middle" fill="#111">datetime</text>
<text x="363.1" y="12.9" font-size="3.6" fill="#111" stroke="#111" stroke-width="0.15">2022-2-7 14:39</text>
<text x="363.1" y="17.1" font-size="3.6" fill="#111" stroke="#111" stroke-width="0.15">anomalous volumes</text>
<text x="108.8" y="143.3" font-size="4.2" text-anchor="middle" fill="#111" stroke="#111" stroke-width="0.08">ELF_2022-8-14 11:50</text>
<text x="16.8" y="149.05" font-size="3.5" text-anchor="end" fill="#111" stroke="#111" stroke-width="0.18">0.15</text>
<text x="16.8" y="165.93" font-size="3.5" text-anchor="end" fill="#111" stroke="#111" stroke-width="0.18">0.10</text>
<text x="16.8" y="182.82" font-size="3.5" text-anchor="end" fill="#111" stroke="#111" stroke-width="0.18">0.05</text>
<text x="16.8" y="199.7" font-size="3.5" text-anchor="end" fill="#111" stroke="#111" stroke-width="0.18">0.00</text>
<text x="16.8" y="216.58" font-size="3.5" text-anchor="end" fill="#111" stroke="#111" stroke-width="0.18">−0.05</text>
<text x="16.8" y="233.47" font-size="3.5" text-anchor="end" fill="#111" stroke="#111" stroke-width="0.18">−0.10</text>
<text x="16.8" y="250.35" font-size="3.5" text-anchor="end" fill="#111" stroke="#111" stroke-width="0.18">−0.15</text>
<text x="5.4" y="198.55" font-size="3.6" text-anchor="middle" fill="#111" transform="rotate(-90 5.4 198.55)">btc_volume</text>
<text x="28.4" y="254.3" font-size="3.8" text-anchor="end" fill="#3a3a3a" stroke="#3a3a3a" stroke-width="0.06" transform="rotate(-90 28.4 254.3)">14:39</text>
<text x="32.9" y="254.3" font-size="3.8" text-anchor="end" fill="#3a3a3a" stroke="#3a3a3a" stroke-width="0.06" transform="rotate(-90 32.9 254.3)">14:39</text>
<text x="34.7" y="254.3" font-size="3.8" text-anchor="end" fill="#3a3a3a" stroke="#3a3a3a" stroke-width="0.06" transform="rotate(-90 34.7 254.3)">14:39</text>
<text x="44.1" y="254.3" font-size="3.8" text-anchor="end" fill="#3a3a3a" stroke="#3a3a3a" stroke-width="0.06" transform="rotate(-90 44.1 254.3)">14:39</text>
<text x="45.9" y="254.3" font-size="3.8" text-anchor="end" fill="#3a3a3a" stroke="#3a3a3a" stroke-width="0.06" transform="rotate(-90 45.9 254.3)">14:39</text>
<text x="48.1" y="254.3" font-size="3.8" text-anchor="end" fill="#3a3a3a" stroke="#3a3a3a" stroke-width="0.06" transform="rotate(-90 48.1 254.3)">14:39</text>
<text x="51.9" y="254.3" font-size="3.8" text-anchor="end" fill="#3a3a3a" stroke="#3a3a3a" stroke-width="0.06" transform="rotate(-90 51.9 254.3)">14:39</text>
<text x="56.4" y="254.3" font-size="3.8" text-anchor="end" fill="#3a3a3a" stroke="#3a3a3a" stroke-width="0.06" transform="rotate(-90 56.4 254.3)">14:39</text>
<text x="59.8" y="254.3" font-size="3.8" text-anchor="end" fill="#3a3a3a" stroke="#3a3a3a" stroke-width="0.06" transform="rotate(-90 59.8 254.3)">14:39</text>
<text x="63.8" y="254.3" font-size="3.8" text-anchor="end" fill="#3a3a3a" stroke="#3a3a3a" stroke-width="0.06" transform="rotate(-90 63.8 254.3)">14:39</text>
<text x="70.6" y="254.3" font-size="3.8" text-anchor="end" fill="#3a3a3a" stroke="#3a3a3a" stroke-width="0.06" transform="rotate(-90 70.6 254.3)">14:39</text>
<text x="72.8" y="254.3" font-size="3.8" text-anchor="end" fill="#3a3a3a" stroke="#3a3a3a" stroke-width="0.06" transform="rotate(-90 72.8 254.3)">14:39</text>
<text x="76.6" y="254.3" font-size="3.8" text-anchor="end" fill="#3a3a3a" stroke="#3a3a3a" stroke-width="0.06" transform="rotate(-90 76.6 254.3)">14:39</text>
<text x="82.2" y="254.3" font-size="3.8" text-anchor="end" fill="#3a3a3a" stroke="#3a3a3a" stroke-width="0.06" transform="rotate(-90 82.2 254.3)">14:39</text>
<text x="84.9" y="254.3" font-size="3.8" text-anchor="end" fill="#3a3a3a" stroke="#3a3a3a" stroke-width="0.06" transform="rotate(-90 84.9 254.3)">14:39</text>
<text x="95.7" y="254.3" font-size="3.8" text-anchor="end" fill="#3a3a3a" stroke="#3a3a3a" stroke-width="0.06" transform="rotate(-90 95.7 254.3)">14:39</text>
<text x="102.9" y="254.3" font-size="3.8" text-anchor="end" fill="#3a3a3a" stroke="#3a3a3a" stroke-width="0.06" transform="rotate(-90 102.9 254.3)">14:39</text>
<text x="104.7" y="254.3" font-size="3.8" text-anchor="end" fill="#3a3a3a" stroke="#3a3a3a" stroke-width="0.06" transform="rotate(-90 104.7 254.3)">14:39</text>
<text x="109.2" y="254.3" font-size="3.8" text-anchor="end" fill="#3a3a3a" stroke="#3a3a3a" stroke-width="0.06" transform="rotate(-90 109.2 254.3)">14:39</text>
<text x="110.7" y="254.3" font-size="3.8" text-anchor="end" fill="#3a3a3a" stroke="#3a3a3a" stroke-width="0.06" transform="rotate(-90 110.7 254.3)">14:39</text>
<text x="120.6" y="254.3" font-size="3.8" text-anchor="end" fill="#3a3a3a" stroke="#3a3a3a" stroke-width="0.06" transform="rotate(-90 120.6 254.3)">14:39</text>
<text x="130.1" y="254.3" font-size="3.8" text-anchor="end" fill="#3a3a3a" stroke="#3a3a3a" stroke-width="0.06" transform="rotate(-90 130.1 254.3)">14:39</text>
<text x="134.8" y="254.3" font-size="3.8" text-anchor="end" fill="#3a3a3a" stroke="#3a3a3a" stroke-width="0.06" transform="rotate(-90 134.8 254.3)">14:39</text>
<text x="153.8" y="254.3" font-size="3.8" text-anchor="end" fill="#3a3a3a" stroke="#3a3a3a" stroke-width="0.06" transform="rotate(-90 153.8 254.3)">14:39</text>
<text x="166.8" y="254.3" font-size="3.8" text-anchor="end" fill="#3a3a3a" stroke="#3a3a3a" stroke-width="0.06" transform="rotate(-90 166.8 254.3)">14:39</text>
<text x="171.6" y="254.3" font-size="3.8" text-anchor="end" fill="#3a3a3a" stroke="#3a3a3a" stroke-width="0.06" transform="rotate(-90 171.6 254.3)">14:39</text>
<text x="177" y="254.3" font-size="3.8" text-anchor="end" fill="#3a3a3a" stroke="#3a3a3a" stroke-width="0.06" transform="rotate(-90 177 254.3)">2-7 14:39</text>
<text x="178.7" y="254.3" font-size="3.8" text-anchor="end" fill="#3a3a3a" stroke="#3a3a3a" stroke-width="0.06" transform="rotate(-90 178.7 254.3)">2-7 14:39</text>
<text x="189.3" y="254.3" font-size="3.8" text-anchor="end" fill="#3a3a3a" stroke="#3a3a3a" stroke-width="0.06" transform="rotate(-90 189.3 254.3)">2-7 14:39</text>
<text x="190.5" y="254.3" font-size="3.8" text-anchor="end" fill="#3a3a3a" stroke="#3a3a3a" stroke-width="0.06" transform="rotate(-90 190.5 254.3)">2-7 14:39</text>
<text x="108.8" y="273" font-size="3.6" text-anchor="middle" fill="#111">datetime</text>
<text x="163.7" y="150.7" font-size="3.6" fill="#111" stroke="#111" stroke-width="0.15">2022-8-14 11:50</text>
<text x="163.7" y="154.9" font-size="3.6" fill="#111" stroke="#111" stroke-width="0.15">anomalous volumes</text>
<text x="308.5" y="143.4" font-size="4.2" text-anchor="middle" fill="#111" stroke="#111" stroke-width="0.08">ELF_2022-8-28 9:20</text>
<text x="216.7" y="152.35" font-size="3.5" text-anchor="end" fill="#111" stroke="#111" stroke-width="0.18">0.4</text>
<text x="216.7" y="176.15" font-size="3.5" text-anchor="end" fill="#111" stroke="#111" stroke-width="0.18">0.2</text>
<text x="216.7" y="199.95" font-size="3.5" text-anchor="end" fill="#111" stroke="#111" stroke-width="0.18">0.0</text>
<text x="216.7" y="223.75" font-size="3.5" text-anchor="end" fill="#111" stroke="#111" stroke-width="0.18">−0.2</text>
<text x="216.7" y="247.55" font-size="3.5" text-anchor="end" fill="#111" stroke="#111" stroke-width="0.18">−0.4</text>
<text x="207.3" y="198.6" font-size="3.6" text-anchor="middle" fill="#111" transform="rotate(-90 207.3 198.6)">btc_volume</text>
<text x="227.9" y="254.3" font-size="3.8" text-anchor="end" fill="#3a3a3a" stroke="#3a3a3a" stroke-width="0.06" transform="rotate(-90 227.9 254.3)">14:39</text>
<text x="228.8" y="254.3" font-size="3.8" text-anchor="end" fill="#3a3a3a" stroke="#3a3a3a" stroke-width="0.06" transform="rotate(-90 228.8 254.3)">14:39</text>
<text x="230.2" y="254.3" font-size="3.8" text-anchor="end" fill="#3a3a3a" stroke="#3a3a3a" stroke-width="0.06" transform="rotate(-90 230.2 254.3)">14:39</text>
<text x="234" y="254.3" font-size="3.8" text-anchor="end" fill="#3a3a3a" stroke="#3a3a3a" stroke-width="0.06" transform="rotate(-90 234 254.3)">14:39</text>
<text x="239.6" y="254.3" font-size="3.8" text-anchor="end" fill="#3a3a3a" stroke="#3a3a3a" stroke-width="0.06" transform="rotate(-90 239.6 254.3)">14:39</text>
<text x="246.3" y="254.3" font-size="3.8" text-anchor="end" fill="#3a3a3a" stroke="#3a3a3a" stroke-width="0.06" transform="rotate(-90 246.3 254.3)">14:39</text>
<text x="254.9" y="254.3" font-size="3.8" text-anchor="end" fill="#3a3a3a" stroke="#3a3a3a" stroke-width="0.06" transform="rotate(-90 254.9 254.3)">14:39</text>
<text x="268.3" y="254.3" font-size="3.8" text-anchor="end" fill="#3a3a3a" stroke="#3a3a3a" stroke-width="0.06" transform="rotate(-90 268.3 254.3)">14:39</text>
<text x="287.8" y="254.3" font-size="3.8" text-anchor="end" fill="#3a3a3a" stroke="#3a3a3a" stroke-width="0.06" transform="rotate(-90 287.8 254.3)">14:39</text>
<text x="295.7" y="254.3" font-size="3.8" text-anchor="end" fill="#3a3a3a" stroke="#3a3a3a" stroke-width="0.06" transform="rotate(-90 295.7 254.3)">14:39</text>
<text x="297.9" y="254.3" font-size="3.8" text-anchor="end" fill="#3a3a3a" stroke="#3a3a3a" stroke-width="0.06" transform="rotate(-90 297.9 254.3)">14:39</text>
<text x="303.6" y="254.3" font-size="3.8" text-anchor="end" fill="#3a3a3a" stroke="#3a3a3a" stroke-width="0.06" transform="rotate(-90 303.6 254.3)">14:39</text>
<text x="305.8" y="254.3" font-size="3.8" text-anchor="end" fill="#3a3a3a" stroke="#3a3a3a" stroke-width="0.06" transform="rotate(-90 305.8 254.3)">14:39</text>
<text x="308.3" y="254.3" font-size="3.8" text-anchor="end" fill="#3a3a3a" stroke="#3a3a3a" stroke-width="0.06" transform="rotate(-90 308.3 254.3)">14:39</text>
<text x="310" y="254.3" font-size="3.8" text-anchor="end" fill="#3a3a3a" stroke="#3a3a3a" stroke-width="0.06" transform="rotate(-90 310 254.3)">14:39</text>
<text x="316.4" y="254.3" font-size="3.8" text-anchor="end" fill="#3a3a3a" stroke="#3a3a3a" stroke-width="0.06" transform="rotate(-90 316.4 254.3)">14:39</text>
<text x="323.5" y="254.3" font-size="3.8" text-anchor="end" fill="#3a3a3a" stroke="#3a3a3a" stroke-width="0.06" transform="rotate(-90 323.5 254.3)">14:39</text>
<text x="324.9" y="254.3" font-size="3.8" text-anchor="end" fill="#3a3a3a" stroke="#3a3a3a" stroke-width="0.06" transform="rotate(-90 324.9 254.3)">14:39</text>
<text x="327.7" y="254.3" font-size="3.8" text-anchor="end" fill="#3a3a3a" stroke="#3a3a3a" stroke-width="0.06" transform="rotate(-90 327.7 254.3)">14:39</text>
<text x="332.5" y="254.3" font-size="3.8" text-anchor="end" fill="#3a3a3a" stroke="#3a3a3a" stroke-width="0.06" transform="rotate(-90 332.5 254.3)">14:39</text>
<text x="341.5" y="254.3" font-size="3.8" text-anchor="end" fill="#3a3a3a" stroke="#3a3a3a" stroke-width="0.06" transform="rotate(-90 341.5 254.3)">14:39</text>
<text x="351.4" y="254.3" font-size="3.8" text-anchor="end" fill="#3a3a3a" stroke="#3a3a3a" stroke-width="0.06" transform="rotate(-90 351.4 254.3)">14:39</text>
<text x="353.1" y="254.3" font-size="3.8" text-anchor="end" fill="#3a3a3a" stroke="#3a3a3a" stroke-width="0.06" transform="rotate(-90 353.1 254.3)">14:39</text>
<text x="354.5" y="254.3" font-size="3.8" text-anchor="end" fill="#3a3a3a" stroke="#3a3a3a" stroke-width="0.06" transform="rotate(-90 354.5 254.3)">14:39</text>
<text x="356.2" y="254.3" font-size="3.8" text-anchor="end" fill="#3a3a3a" stroke="#3a3a3a" stroke-width="0.06" transform="rotate(-90 356.2 254.3)">14:39</text>
<text x="366.8" y="254.3" font-size="3.8" text-anchor="end" fill="#3a3a3a" stroke="#3a3a3a" stroke-width="0.06" transform="rotate(-90 366.8 254.3)">14:39</text>
<text x="372.8" y="254.3" font-size="3.8" text-anchor="end" fill="#3a3a3a" stroke="#3a3a3a" stroke-width="0.06" transform="rotate(-90 372.8 254.3)">14:39</text>
<text x="381" y="254.3" font-size="3.8" text-anchor="end" fill="#3a3a3a" stroke="#3a3a3a" stroke-width="0.06" transform="rotate(-90 381 254.3)">2-7 14:39</text>
<text x="382.7" y="254.3" font-size="3.8" text-anchor="end" fill="#3a3a3a" stroke="#3a3a3a" stroke-width="0.06" transform="rotate(-90 382.7 254.3)">2-7 14:39</text>
<text x="384.6" y="254.3" font-size="3.8" text-anchor="end" fill="#3a3a3a" stroke="#3a3a3a" stroke-width="0.06" transform="rotate(-90 384.6 254.3)">2-7 14:39</text>
<text x="391" y="254.3" font-size="3.8" text-anchor="end" fill="#3a3a3a" stroke="#3a3a3a" stroke-width="0.06" transform="rotate(-90 391 254.3)">2-7 14:39</text>
<text x="308.5" y="273" font-size="3.6" text-anchor="middle" fill="#111">datetime</text>
<text x="363.7" y="150.7" font-size="3.6" fill="#111" stroke="#111" stroke-width="0.15">2022-8-28 9:20</text>
<text x="363.7" y="154.9" font-size="3.6" fill="#111" stroke="#111" stroke-width="0.15">anomalous volumes</text>
<text x="105.95" y="281.1" font-size="4.2" text-anchor="middle" fill="#111" stroke="#111" stroke-width="0.08">ENJ_2021-6-3 12:55</text>
<text x="13.7" y="287.05" font-size="3.5" text-anchor="end" fill="#111" stroke="#111" stroke-width="0.18">5</text>
<text x="13.7" y="300.24" font-size="3.5" text-anchor="end" fill="#111" stroke="#111" stroke-width="0.18">4</text>
<text x="13.7" y="313.42" font-size="3.5" text-anchor="end" fill="#111" stroke="#111" stroke-width="0.18">3</text>
<text x="13.7" y="326.61" font-size="3.5" text-anchor="end" fill="#111" stroke="#111" stroke-width="0.18">2</text>
<text x="13.7" y="339.79" font-size="3.5" text-anchor="end" fill="#111" stroke="#111" stroke-width="0.18">1</text>
<text x="13.7" y="352.98" font-size="3.5" text-anchor="end" fill="#111" stroke="#111" stroke-width="0.18">0</text>
<text x="13.7" y="366.16" font-size="3.5" text-anchor="end" fill="#111" stroke="#111" stroke-width="0.18">−1</text>
<text x="13.7" y="379.35" font-size="3.5" text-anchor="end" fill="#111" stroke="#111" stroke-width="0.18">−2</text>
<text x="8.1" y="336.4" font-size="3.6" text-anchor="middle" fill="#111" transform="rotate(-90 8.1 336.4)">btc_volume</text>
<text x="25.8" y="392.2" font-size="3.8" text-anchor="end" fill="#3a3a3a" stroke="#3a3a3a" stroke-width="0.06" transform="rotate(-90 25.8 392.2)">14:39</text>
<text x="26.5" y="392.2" font-size="3.8" text-anchor="end" fill="#3a3a3a" stroke="#3a3a3a" stroke-width="0.06" transform="rotate(-90 26.5 392.2)">14:39</text>
<text x="34.4" y="392.2" font-size="3.8" text-anchor="end" fill="#3a3a3a" stroke="#3a3a3a" stroke-width="0.06" transform="rotate(-90 34.4 392.2)">14:39</text>
<text x="41.9" y="392.2" font-size="3.8" text-anchor="end" fill="#3a3a3a" stroke="#3a3a3a" stroke-width="0.06" transform="rotate(-90 41.9 392.2)">14:39</text>
<text x="49.5" y="392.2" font-size="3.8" text-anchor="end" fill="#3a3a3a" stroke="#3a3a3a" stroke-width="0.06" transform="rotate(-90 49.5 392.2)">14:39</text>
<text x="56.7" y="392.2" font-size="3.8" text-anchor="end" fill="#3a3a3a" stroke="#3a3a3a" stroke-width="0.06" transform="rotate(-90 56.7 392.2)">14:39</text>
<text x="64" y="392.2" font-size="3.8" text-anchor="end" fill="#3a3a3a" stroke="#3a3a3a" stroke-width="0.06" transform="rotate(-90 64 392.2)">14:39</text>
<text x="69.8" y="392.2" font-size="3.8" text-anchor="end" fill="#3a3a3a" stroke="#3a3a3a" stroke-width="0.06" transform="rotate(-90 69.8 392.2)">14:39</text>
<text x="75.2" y="392.2" font-size="3.8" text-anchor="end" fill="#3a3a3a" stroke="#3a3a3a" stroke-width="0.06" transform="rotate(-90 75.2 392.2)">14:39</text>
<text x="81.5" y="392.2" font-size="3.8" text-anchor="end" fill="#3a3a3a" stroke="#3a3a3a" stroke-width="0.06" transform="rotate(-90 81.5 392.2)">14:39</text>
<text x="87.8" y="392.2" font-size="3.8" text-anchor="end" fill="#3a3a3a" stroke="#3a3a3a" stroke-width="0.06" transform="rotate(-90 87.8 392.2)">14:39</text>
<text x="93.8" y="392.2" font-size="3.8" text-anchor="end" fill="#3a3a3a" stroke="#3a3a3a" stroke-width="0.06" transform="rotate(-90 93.8 392.2)">14:39</text>
<text x="99.9" y="392.2" font-size="3.8" text-anchor="end" fill="#3a3a3a" stroke="#3a3a3a" stroke-width="0.06" transform="rotate(-90 99.9 392.2)">14:39</text>
<text x="105.9" y="392.2" font-size="3.8" text-anchor="end" fill="#3a3a3a" stroke="#3a3a3a" stroke-width="0.06" transform="rotate(-90 105.9 392.2)">14:39</text>
<text x="111.4" y="392.2" font-size="3.8" text-anchor="end" fill="#3a3a3a" stroke="#3a3a3a" stroke-width="0.06" transform="rotate(-90 111.4 392.2)">14:39</text>
<text x="117.6" y="392.2" font-size="3.8" text-anchor="end" fill="#3a3a3a" stroke="#3a3a3a" stroke-width="0.06" transform="rotate(-90 117.6 392.2)">14:39</text>
<text x="124.3" y="392.2" font-size="3.8" text-anchor="end" fill="#3a3a3a" stroke="#3a3a3a" stroke-width="0.06" transform="rotate(-90 124.3 392.2)">14:39</text>
<text x="130.8" y="392.2" font-size="3.8" text-anchor="end" fill="#3a3a3a" stroke="#3a3a3a" stroke-width="0.06" transform="rotate(-90 130.8 392.2)">14:39</text>
<text x="137.6" y="392.2" font-size="3.8" text-anchor="end" fill="#3a3a3a" stroke="#3a3a3a" stroke-width="0.06" transform="rotate(-90 137.6 392.2)">14:39</text>
<text x="144.3" y="392.2" font-size="3.8" text-anchor="end" fill="#3a3a3a" stroke="#3a3a3a" stroke-width="0.06" transform="rotate(-90 144.3 392.2)">14:39</text>
<text x="152.5" y="392.2" font-size="3.8" text-anchor="end" fill="#3a3a3a" stroke="#3a3a3a" stroke-width="0.06" transform="rotate(-90 152.5 392.2)">14:39</text>
<text x="160" y="392.2" font-size="3.8" text-anchor="end" fill="#3a3a3a" stroke="#3a3a3a" stroke-width="0.06" transform="rotate(-90 160 392.2)">14:39</text>
<text x="166.7" y="392.2" font-size="3.8" text-anchor="end" fill="#3a3a3a" stroke="#3a3a3a" stroke-width="0.06" transform="rotate(-90 166.7 392.2)">14:39</text>
<text x="173.7" y="392.2" font-size="3.8" text-anchor="end" fill="#3a3a3a" stroke="#3a3a3a" stroke-width="0.06" transform="rotate(-90 173.7 392.2)">14:39</text>
<text x="181.7" y="392.2" font-size="3.8" text-anchor="end" fill="#3a3a3a" stroke="#3a3a3a" stroke-width="0.06" transform="rotate(-90 181.7 392.2)">2-7 14:39</text>
<text x="183.2" y="392.2" font-size="3.8" text-anchor="end" fill="#3a3a3a" stroke="#3a3a3a" stroke-width="0.06" transform="rotate(-90 183.2 392.2)">2-7 14:39</text>
<text x="188.7" y="392.2" font-size="3.8" text-anchor="end" fill="#3a3a3a" stroke="#3a3a3a" stroke-width="0.06" transform="rotate(-90 188.7 392.2)">2-7 14:39</text>
<text x="105.95" y="410.9" font-size="3.6" text-anchor="middle" fill="#111">datetime</text>
<text x="160.5" y="288.7" font-size="3.6" fill="#111" stroke="#111" stroke-width="0.15">2021-6-3 12:55</text>
<text x="160.5" y="292.9" font-size="3.6" fill="#111" stroke="#111" stroke-width="0.15">anomalous volumes</text>
<text x="305.95" y="281.1" font-size="4.2" text-anchor="middle" fill="#111" stroke="#111" stroke-width="0.08">EOS_2021-6-1 15:21</text>
<text x="213.7" y="285.25" font-size="3.5" text-anchor="end" fill="#111" stroke="#111" stroke-width="0.18">15.0</text>
<text x="213.7" y="297.11" font-size="3.5" text-anchor="end" fill="#111" stroke="#111" stroke-width="0.18">12.5</text>
<text x="213.7" y="308.98" font-size="3.5" text-anchor="end" fill="#111" stroke="#111" stroke-width="0.18">10.0</text>
<text x="213.7" y="320.84" font-size="3.5" text-anchor="end" fill="#111" stroke="#111" stroke-width="0.18">7.5</text>
<text x="213.7" y="332.7" font-size="3.5" text-anchor="end" fill="#111" stroke="#111" stroke-width="0.18">5.0</text>
<text x="213.7" y="344.56" font-size="3.5" text-anchor="end" fill="#111" stroke="#111" stroke-width="0.18">2.5</text>
<text x="213.7" y="356.42" font-size="3.5" text-anchor="end" fill="#111" stroke="#111" stroke-width="0.18">0.0</text>
<text x="213.7" y="368.29" font-size="3.5" text-anchor="end" fill="#111" stroke="#111" stroke-width="0.18">−2.5</text>
<text x="213.7" y="380.15" font-size="3.5" text-anchor="end" fill="#111" stroke="#111" stroke-width="0.18">−5.0</text>
<text x="204.8" y="336.4" font-size="3.6" text-anchor="middle" fill="#111" transform="rotate(-90 204.8 336.4)">btc_volume</text>
<text x="224.9" y="392.2" font-size="3.8" text-anchor="end" fill="#3a3a3a" stroke="#3a3a3a" stroke-width="0.06" transform="rotate(-90 224.9 392.2)">14:39</text>
<text x="225.8" y="392.2" font-size="3.8" text-anchor="end" fill="#3a3a3a" stroke="#3a3a3a" stroke-width="0.06" transform="rotate(-90 225.8 392.2)">14:39</text>
<text x="231.7" y="392.2" font-size="3.8" text-anchor="end" fill="#3a3a3a" stroke="#3a3a3a" stroke-width="0.06" transform="rotate(-90 231.7 392.2)">14:39</text>
<text x="237.7" y="392.2" font-size="3.8" text-anchor="end" fill="#3a3a3a" stroke="#3a3a3a" stroke-width="0.06" transform="rotate(-90 237.7 392.2)">14:39</text>
<text x="243.8" y="392.2" font-size="3.8" text-anchor="end" fill="#3a3a3a" stroke="#3a3a3a" stroke-width="0.06" transform="rotate(-90 243.8 392.2)">14:39</text>
<text x="250.5" y="392.2" font-size="3.8" text-anchor="end" fill="#3a3a3a" stroke="#3a3a3a" stroke-width="0.06" transform="rotate(-90 250.5 392.2)">14:39</text>
<text x="256.8" y="392.2" font-size="3.8" text-anchor="end" fill="#3a3a3a" stroke="#3a3a3a" stroke-width="0.06" transform="rotate(-90 256.8 392.2)">14:39</text>
<text x="263.5" y="392.2" font-size="3.8" text-anchor="end" fill="#3a3a3a" stroke="#3a3a3a" stroke-width="0.06" transform="rotate(-90 263.5 392.2)">14:39</text>
<text x="270.3" y="392.2" font-size="3.8" text-anchor="end" fill="#3a3a3a" stroke="#3a3a3a" stroke-width="0.06" transform="rotate(-90 270.3 392.2)">14:39</text>
<text x="277" y="392.2" font-size="3.8" text-anchor="end" fill="#3a3a3a" stroke="#3a3a3a" stroke-width="0.06" transform="rotate(-90 277 392.2)">14:39</text>
<text x="283.7" y="392.2" font-size="3.8" text-anchor="end" fill="#3a3a3a" stroke="#3a3a3a" stroke-width="0.06" transform="rotate(-90 283.7 392.2)">14:39</text>
<text x="290.5" y="392.2" font-size="3.8" text-anchor="end" fill="#3a3a3a" stroke="#3a3a3a" stroke-width="0.06" transform="rotate(-90 290.5 392.2)">14:39</text>
<text x="296.1" y="392.2" font-size="3.8" text-anchor="end" fill="#3a3a3a" stroke="#3a3a3a" stroke-width="0.06" transform="rotate(-90 296.1 392.2)">14:39</text>
<text x="302.8" y="392.2" font-size="3.8" text-anchor="end" fill="#3a3a3a" stroke="#3a3a3a" stroke-width="0.06" transform="rotate(-90 302.8 392.2)">14:39</text>
<text x="310.9" y="392.2" font-size="3.8" text-anchor="end" fill="#3a3a3a" stroke="#3a3a3a" stroke-width="0.06" transform="rotate(-90 310.9 392.2)">14:39</text>
<text x="316.9" y="392.2" font-size="3.8" text-anchor="end" fill="#3a3a3a" stroke="#3a3a3a" stroke-width="0.06" transform="rotate(-90 316.9 392.2)">14:39</text>
<text x="323.4" y="392.2" font-size="3.8" text-anchor="end" fill="#3a3a3a" stroke="#3a3a3a" stroke-width="0.06" transform="rotate(-90 323.4 392.2)">14:39</text>
<text x="330.1" y="392.2" font-size="3.8" text-anchor="end" fill="#3a3a3a" stroke="#3a3a3a" stroke-width="0.06" transform="rotate(-90 330.1 392.2)">14:39</text>
<text x="337.6" y="392.2" font-size="3.8" text-anchor="end" fill="#3a3a3a" stroke="#3a3a3a" stroke-width="0.06" transform="rotate(-90 337.6 392.2)">14:39</text>
<text x="344.3" y="392.2" font-size="3.8" text-anchor="end" fill="#3a3a3a" stroke="#3a3a3a" stroke-width="0.06" transform="rotate(-90 344.3 392.2)">14:39</text>
<text x="350.8" y="392.2" font-size="3.8" text-anchor="end" fill="#3a3a3a" stroke="#3a3a3a" stroke-width="0.06" transform="rotate(-90 350.8 392.2)">14:39</text>
<text x="357.5" y="392.2" font-size="3.8" text-anchor="end" fill="#3a3a3a" stroke="#3a3a3a" stroke-width="0.06" transform="rotate(-90 357.5 392.2)">14:39</text>
<text x="365" y="392.2" font-size="3.8" text-anchor="end" fill="#3a3a3a" stroke="#3a3a3a" stroke-width="0.06" transform="rotate(-90 365 392.2)">14:39</text>
<text x="371.7" y="392.2" font-size="3.8" text-anchor="end" fill="#3a3a3a" stroke="#3a3a3a" stroke-width="0.06" transform="rotate(-90 371.7 392.2)">14:39</text>
<text x="379.2" y="392.2" font-size="3.8" text-anchor="end" fill="#3a3a3a" stroke="#3a3a3a" stroke-width="0.06" transform="rotate(-90 379.2 392.2)">2-7 14:39</text>
<text x="381.2" y="392.2" font-size="3.8" text-anchor="end" fill="#3a3a3a" stroke="#3a3a3a" stroke-width="0.06" transform="rotate(-90 381.2 392.2)">2-7 14:39</text>
<text x="386.2" y="392.2" font-size="3.8" text-anchor="end" fill="#3a3a3a" stroke="#3a3a3a" stroke-width="0.06" transform="rotate(-90 386.2 392.2)">2-7 14:39</text>
<text x="388.2" y="392.2" font-size="3.8" text-anchor="end" fill="#3a3a3a" stroke="#3a3a3a" stroke-width="0.06" transform="rotate(-90 388.2 392.2)">2-7 14:39</text>
<text x="305.95" y="410.9" font-size="3.6" text-anchor="middle" fill="#111">datetime</text>
<text x="360.5" y="288.7" font-size="3.6" fill="#111" stroke="#111" stroke-width="0.15">2021-6-1 15:21</text>
<text x="360.5" y="292.9" font-size="3.6" fill="#111" stroke="#111" stroke-width="0.15">anomalous volumes</text>
<text x="107.65" y="419.4" font-size="4.2" text-anchor="middle" fill="#111" stroke="#111" stroke-width="0.08">EPS_2021-11-8 14:12</text>
<text x="15.5" y="426.05" font-size="3.5" text-anchor="end" fill="#111" stroke="#111" stroke-width="0.18">0.4</text>
<text x="15.5" y="441.57" font-size="3.5" text-anchor="end" fill="#111" stroke="#111" stroke-width="0.18">0.2</text>
<text x="15.5" y="457.08" font-size="3.5" text-anchor="end" fill="#111" stroke="#111" stroke-width="0.18">0.0</text>
<text x="15.5" y="472.6" font-size="3.5" text-anchor="end" fill="#111" stroke="#111" stroke-width="0.18">−0.2</text>
<text x="15.5" y="488.12" font-size="3.5" text-anchor="end" fill="#111" stroke="#111" stroke-width="0.18">−0.4</text>
<text x="15.5" y="503.63" font-size="3.5" text-anchor="end" fill="#111" stroke="#111" stroke-width="0.18">−0.6</text>
<text x="15.5" y="519.15" font-size="3.5" text-anchor="end" fill="#111" stroke="#111" stroke-width="0.18">−0.8</text>
<text x="6.8" y="474.55" font-size="3.6" text-anchor="middle" fill="#111" transform="rotate(-90 6.8 474.55)">btc_volume</text>
<text x="27.4" y="530.2" font-size="3.8" text-anchor="end" fill="#3a3a3a" stroke="#3a3a3a" stroke-width="0.06" transform="rotate(-90 27.4 530.2)">14:39</text>
<text x="33" y="530.2" font-size="3.8" text-anchor="end" fill="#3a3a3a" stroke="#3a3a3a" stroke-width="0.06" transform="rotate(-90 33 530.2)">14:39</text>
<text x="40.8" y="530.2" font-size="3.8" text-anchor="end" fill="#3a3a3a" stroke="#3a3a3a" stroke-width="0.06" transform="rotate(-90 40.8 530.2)">14:39</text>
<text x="48.7" y="530.2" font-size="3.8" text-anchor="end" fill="#3a3a3a" stroke="#3a3a3a" stroke-width="0.06" transform="rotate(-90 48.7 530.2)">14:39</text>
<text x="56.6" y="530.2" font-size="3.8" text-anchor="end" fill="#3a3a3a" stroke="#3a3a3a" stroke-width="0.06" transform="rotate(-90 56.6 530.2)">14:39</text>
<text x="64.4" y="530.2" font-size="3.8" text-anchor="end" fill="#3a3a3a" stroke="#3a3a3a" stroke-width="0.06" transform="rotate(-90 64.4 530.2)">14:39</text>
<text x="73.4" y="530.2" font-size="3.8" text-anchor="end" fill="#3a3a3a" stroke="#3a3a3a" stroke-width="0.06" transform="rotate(-90 73.4 530.2)">14:39</text>
<text x="82.4" y="530.2" font-size="3.8" text-anchor="end" fill="#3a3a3a" stroke="#3a3a3a" stroke-width="0.06" transform="rotate(-90 82.4 530.2)">14:39</text>
<text x="89.1" y="530.2" font-size="3.8" text-anchor="end" fill="#3a3a3a" stroke="#3a3a3a" stroke-width="0.06" transform="rotate(-90 89.1 530.2)">14:39</text>
<text x="94.7" y="530.2" font-size="3.8" text-anchor="end" fill="#3a3a3a" stroke="#3a3a3a" stroke-width="0.06" transform="rotate(-90 94.7 530.2)">14:39</text>
<text x="96.9" y="530.2" font-size="3.8" text-anchor="end" fill="#3a3a3a" stroke="#3a3a3a" stroke-width="0.06" transform="rotate(-90 96.9 530.2)">14:39</text>
<text x="101.4" y="530.2" font-size="3.8" text-anchor="end" fill="#3a3a3a" stroke="#3a3a3a" stroke-width="0.06" transform="rotate(-90 101.4 530.2)">14:39</text>
<text x="105.5" y="530.2" font-size="3.8" text-anchor="end" fill="#3a3a3a" stroke="#3a3a3a" stroke-width="0.06" transform="rotate(-90 105.5 530.2)">14:39</text>
<text x="110.1" y="530.2" font-size="3.8" text-anchor="end" fill="#3a3a3a" stroke="#3a3a3a" stroke-width="0.06" transform="rotate(-90 110.1 530.2)">14:39</text>
<text x="115.1" y="530.2" font-size="3.8" text-anchor="end" fill="#3a3a3a" stroke="#3a3a3a" stroke-width="0.06" transform="rotate(-90 115.1 530.2)">14:39</text>
<text x="117.6" y="530.2" font-size="3.8" text-anchor="end" fill="#3a3a3a" stroke="#3a3a3a" stroke-width="0.06" transform="rotate(-90 117.6 530.2)">14:39</text>
<text x="123.3" y="530.2" font-size="3.8" text-anchor="end" fill="#3a3a3a" stroke="#3a3a3a" stroke-width="0.06" transform="rotate(-90 123.3 530.2)">14:39</text>
<text x="129.3" y="530.2" font-size="3.8" text-anchor="end" fill="#3a3a3a" stroke="#3a3a3a" stroke-width="0.06" transform="rotate(-90 129.3 530.2)">14:39</text>
<text x="136.8" y="530.2" font-size="3.8" text-anchor="end" fill="#3a3a3a" stroke="#3a3a3a" stroke-width="0.06" transform="rotate(-90 136.8 530.2)">14:39</text>
<text x="142.5" y="530.2" font-size="3.8" text-anchor="end" fill="#3a3a3a" stroke="#3a3a3a" stroke-width="0.06" transform="rotate(-90 142.5 530.2)">14:39</text>
<text x="145" y="530.2" font-size="3.8" text-anchor="end" fill="#3a3a3a" stroke="#3a3a3a" stroke-width="0.06" transform="rotate(-90 145 530.2)">14:39</text>
<text x="155.8" y="530.2" font-size="3.8" text-anchor="end" fill="#3a3a3a" stroke="#3a3a3a" stroke-width="0.06" transform="rotate(-90 155.8 530.2)">14:39</text>
<text x="162.5" y="530.2" font-size="3.8" text-anchor="end" fill="#3a3a3a" stroke="#3a3a3a" stroke-width="0.06" transform="rotate(-90 162.5 530.2)">14:39</text>
<text x="168.2" y="530.2" font-size="3.8" text-anchor="end" fill="#3a3a3a" stroke="#3a3a3a" stroke-width="0.06" transform="rotate(-90 168.2 530.2)">14:39</text>
<text x="173.7" y="530.2" font-size="3.8" text-anchor="end" fill="#3a3a3a" stroke="#3a3a3a" stroke-width="0.06" transform="rotate(-90 173.7 530.2)">14:39</text>
<text x="180.7" y="530.2" font-size="3.8" text-anchor="end" fill="#3a3a3a" stroke="#3a3a3a" stroke-width="0.06" transform="rotate(-90 180.7 530.2)">2-7 14:39</text>
<text x="182.4" y="530.2" font-size="3.8" text-anchor="end" fill="#3a3a3a" stroke="#3a3a3a" stroke-width="0.06" transform="rotate(-90 182.4 530.2)">2-7 14:39</text>
<text x="187.4" y="530.2" font-size="3.8" text-anchor="end" fill="#3a3a3a" stroke="#3a3a3a" stroke-width="0.06" transform="rotate(-90 187.4 530.2)">2-7 14:39</text>
<text x="189.2" y="530.2" font-size="3.8" text-anchor="end" fill="#3a3a3a" stroke="#3a3a3a" stroke-width="0.06" transform="rotate(-90 189.2 530.2)">2-7 14:39</text>
<text x="107.65" y="548.9" font-size="3.6" text-anchor="middle" fill="#111">datetime</text>
<text x="162.7" y="427.4" font-size="3.6" fill="#111" stroke="#111" stroke-width="0.15">2021-11-8 14:12</text>
<text x="162.7" y="431.6" font-size="3.6" fill="#111" stroke="#111" stroke-width="0.15">anomalous volumes</text>
<text x="307.5" y="419.4" font-size="4.2" text-anchor="middle" fill="#111" stroke="#111" stroke-width="0.08">EVX_2021-7-25 15:29</text>
<text x="215.5" y="422.75" font-size="3.5" text-anchor="end" fill="#111" stroke="#111" stroke-width="0.18">0.4</text>
<text x="215.5" y="438.1" font-size="3.5" text-anchor="end" fill="#111" stroke="#111" stroke-width="0.18">0.3</text>
<text x="215.5" y="453.45" font-size="3.5" text-anchor="end" fill="#111" stroke="#111" stroke-width="0.18">0.2</text>
<text x="215.5" y="468.8" font-size="3.5" text-anchor="end" fill="#111" stroke="#111" stroke-width="0.18">0.1</text>
<text x="215.5" y="484.15" font-size="3.5" text-anchor="end" fill="#111" stroke="#111" stroke-width="0.18">0.0</text>
<text x="215.5" y="499.5" font-size="3.5" text-anchor="end" fill="#111" stroke="#111" stroke-width="0.18">−0.1</text>
<text x="215.5" y="514.85" font-size="3.5" text-anchor="end" fill="#111" stroke="#111" stroke-width="0.18">−0.2</text>
<text x="206.8" y="474.55" font-size="3.6" text-anchor="middle" fill="#111" transform="rotate(-90 206.8 474.55)">btc_volume</text>
<text x="227.1" y="530.2" font-size="3.8" text-anchor="end" fill="#3a3a3a" stroke="#3a3a3a" stroke-width="0.06" transform="rotate(-90 227.1 530.2)">14:39</text>
<text x="227.7" y="530.2" font-size="3.8" text-anchor="end" fill="#3a3a3a" stroke="#3a3a3a" stroke-width="0.06" transform="rotate(-90 227.7 530.2)">14:39</text>
<text x="235" y="530.2" font-size="3.8" text-anchor="end" fill="#3a3a3a" stroke="#3a3a3a" stroke-width="0.06" transform="rotate(-90 235 530.2)">14:39</text>
<text x="242.2" y="530.2" font-size="3.8" text-anchor="end" fill="#3a3a3a" stroke="#3a3a3a" stroke-width="0.06" transform="rotate(-90 242.2 530.2)">14:39</text>
<text x="249" y="530.2" font-size="3.8" text-anchor="end" fill="#3a3a3a" stroke="#3a3a3a" stroke-width="0.06" transform="rotate(-90 249 530.2)">14:39</text>
<text x="265.6" y="530.2" font-size="3.8" text-anchor="end" fill="#3a3a3a" stroke="#3a3a3a" stroke-width="0.06" transform="rotate(-90 265.6 530.2)">14:39</text>
<text x="271.8" y="530.2" font-size="3.8" text-anchor="end" fill="#3a3a3a" stroke="#3a3a3a" stroke-width="0.06" transform="rotate(-90 271.8 530.2)">14:39</text>
<text x="274.3" y="530.2" font-size="3.8" text-anchor="end" fill="#3a3a3a" stroke="#3a3a3a" stroke-width="0.06" transform="rotate(-90 274.3 530.2)">14:39</text>
<text x="277" y="530.2" font-size="3.8" text-anchor="end" fill="#3a3a3a" stroke="#3a3a3a" stroke-width="0.06" transform="rotate(-90 277 530.2)">14:39</text>
<text x="280.5" y="530.2" font-size="3.8" text-anchor="end" fill="#3a3a3a" stroke="#3a3a3a" stroke-width="0.06" transform="rotate(-90 280.5 530.2)">14:39</text>
<text x="283" y="530.2" font-size="3.8" text-anchor="end" fill="#3a3a3a" stroke="#3a3a3a" stroke-width="0.06" transform="rotate(-90 283 530.2)">14:39</text>
<text x="286.7" y="530.2" font-size="3.8" text-anchor="end" fill="#3a3a3a" stroke="#3a3a3a" stroke-width="0.06" transform="rotate(-90 286.7 530.2)">14:39</text>
<text x="288.8" y="530.2" font-size="3.8" text-anchor="end" fill="#3a3a3a" stroke="#3a3a3a" stroke-width="0.06" transform="rotate(-90 288.8 530.2)">14:39</text>
<text x="290.4" y="530.2" font-size="3.8" text-anchor="end" fill="#3a3a3a" stroke="#3a3a3a" stroke-width="0.06" transform="rotate(-90 290.4 530.2)">14:39</text>
<text x="299.1" y="530.2" font-size="3.8" text-anchor="end" fill="#3a3a3a" stroke="#3a3a3a" stroke-width="0.06" transform="rotate(-90 299.1 530.2)">14:39</text>
<text x="300.3" y="530.2" font-size="3.8" text-anchor="end" fill="#3a3a3a" stroke="#3a3a3a" stroke-width="0.06" transform="rotate(-90 300.3 530.2)">14:39</text>
<text x="306.9" y="530.2" font-size="3.8" text-anchor="end" fill="#3a3a3a" stroke="#3a3a3a" stroke-width="0.06" transform="rotate(-90 306.9 530.2)">14:39</text>
<text x="316.8" y="530.2" font-size="3.8" text-anchor="end" fill="#3a3a3a" stroke="#3a3a3a" stroke-width="0.06" transform="rotate(-90 316.8 530.2)">14:39</text>
<text x="319.4" y="530.2" font-size="3.8" text-anchor="end" fill="#3a3a3a" stroke="#3a3a3a" stroke-width="0.06" transform="rotate(-90 319.4 530.2)">14:39</text>
<text x="331.7" y="530.2" font-size="3.8" text-anchor="end" fill="#3a3a3a" stroke="#3a3a3a" stroke-width="0.06" transform="rotate(-90 331.7 530.2)">14:39</text>
<text x="339.6" y="530.2" font-size="3.8" text-anchor="end" fill="#3a3a3a" stroke="#3a3a3a" stroke-width="0.06" transform="rotate(-90 339.6 530.2)">14:39</text>
<text x="347.4" y="530.2" font-size="3.8" text-anchor="end" fill="#3a3a3a" stroke="#3a3a3a" stroke-width="0.06" transform="rotate(-90 347.4 530.2)">14:39</text>
<text x="353.5" y="530.2" font-size="3.8" text-anchor="end" fill="#3a3a3a" stroke="#3a3a3a" stroke-width="0.06" transform="rotate(-90 353.5 530.2)">14:39</text>
<text x="368.4" y="530.2" font-size="3.8" text-anchor="end" fill="#3a3a3a" stroke="#3a3a3a" stroke-width="0.06" transform="rotate(-90 368.4 530.2)">14:39</text>
<text x="374.9" y="530.2" font-size="3.8" text-anchor="end" fill="#3a3a3a" stroke="#3a3a3a" stroke-width="0.06" transform="rotate(-90 374.9 530.2)">14:39</text>
<text x="379.6" y="530.2" font-size="3.8" text-anchor="end" fill="#3a3a3a" stroke="#3a3a3a" stroke-width="0.06" transform="rotate(-90 379.6 530.2)">2-7 14:39</text>
<text x="381.5" y="530.2" font-size="3.8" text-anchor="end" fill="#3a3a3a" stroke="#3a3a3a" stroke-width="0.06" transform="rotate(-90 381.5 530.2)">2-7 14:39</text>
<text x="382.8" y="530.2" font-size="3.8" text-anchor="end" fill="#3a3a3a" stroke="#3a3a3a" stroke-width="0.06" transform="rotate(-90 382.8 530.2)">2-7 14:39</text>
<text x="388.5" y="530.2" font-size="3.8" text-anchor="end" fill="#3a3a3a" stroke="#3a3a3a" stroke-width="0.06" transform="rotate(-90 388.5 530.2)">2-7 14:39</text>
<text x="307.5" y="548.9" font-size="3.6" text-anchor="middle" fill="#111">datetime</text>
<text x="230.1" y="427.2" font-size="3.6" fill="#111" stroke="#111" stroke-width="0.15">2021-7-25 15:29</text>
<text x="230.1" y="431.4" font-size="3.6" fill="#111" stroke="#111" stroke-width="0.15">anomalous volumes</text></g></svg>
</body></html>
